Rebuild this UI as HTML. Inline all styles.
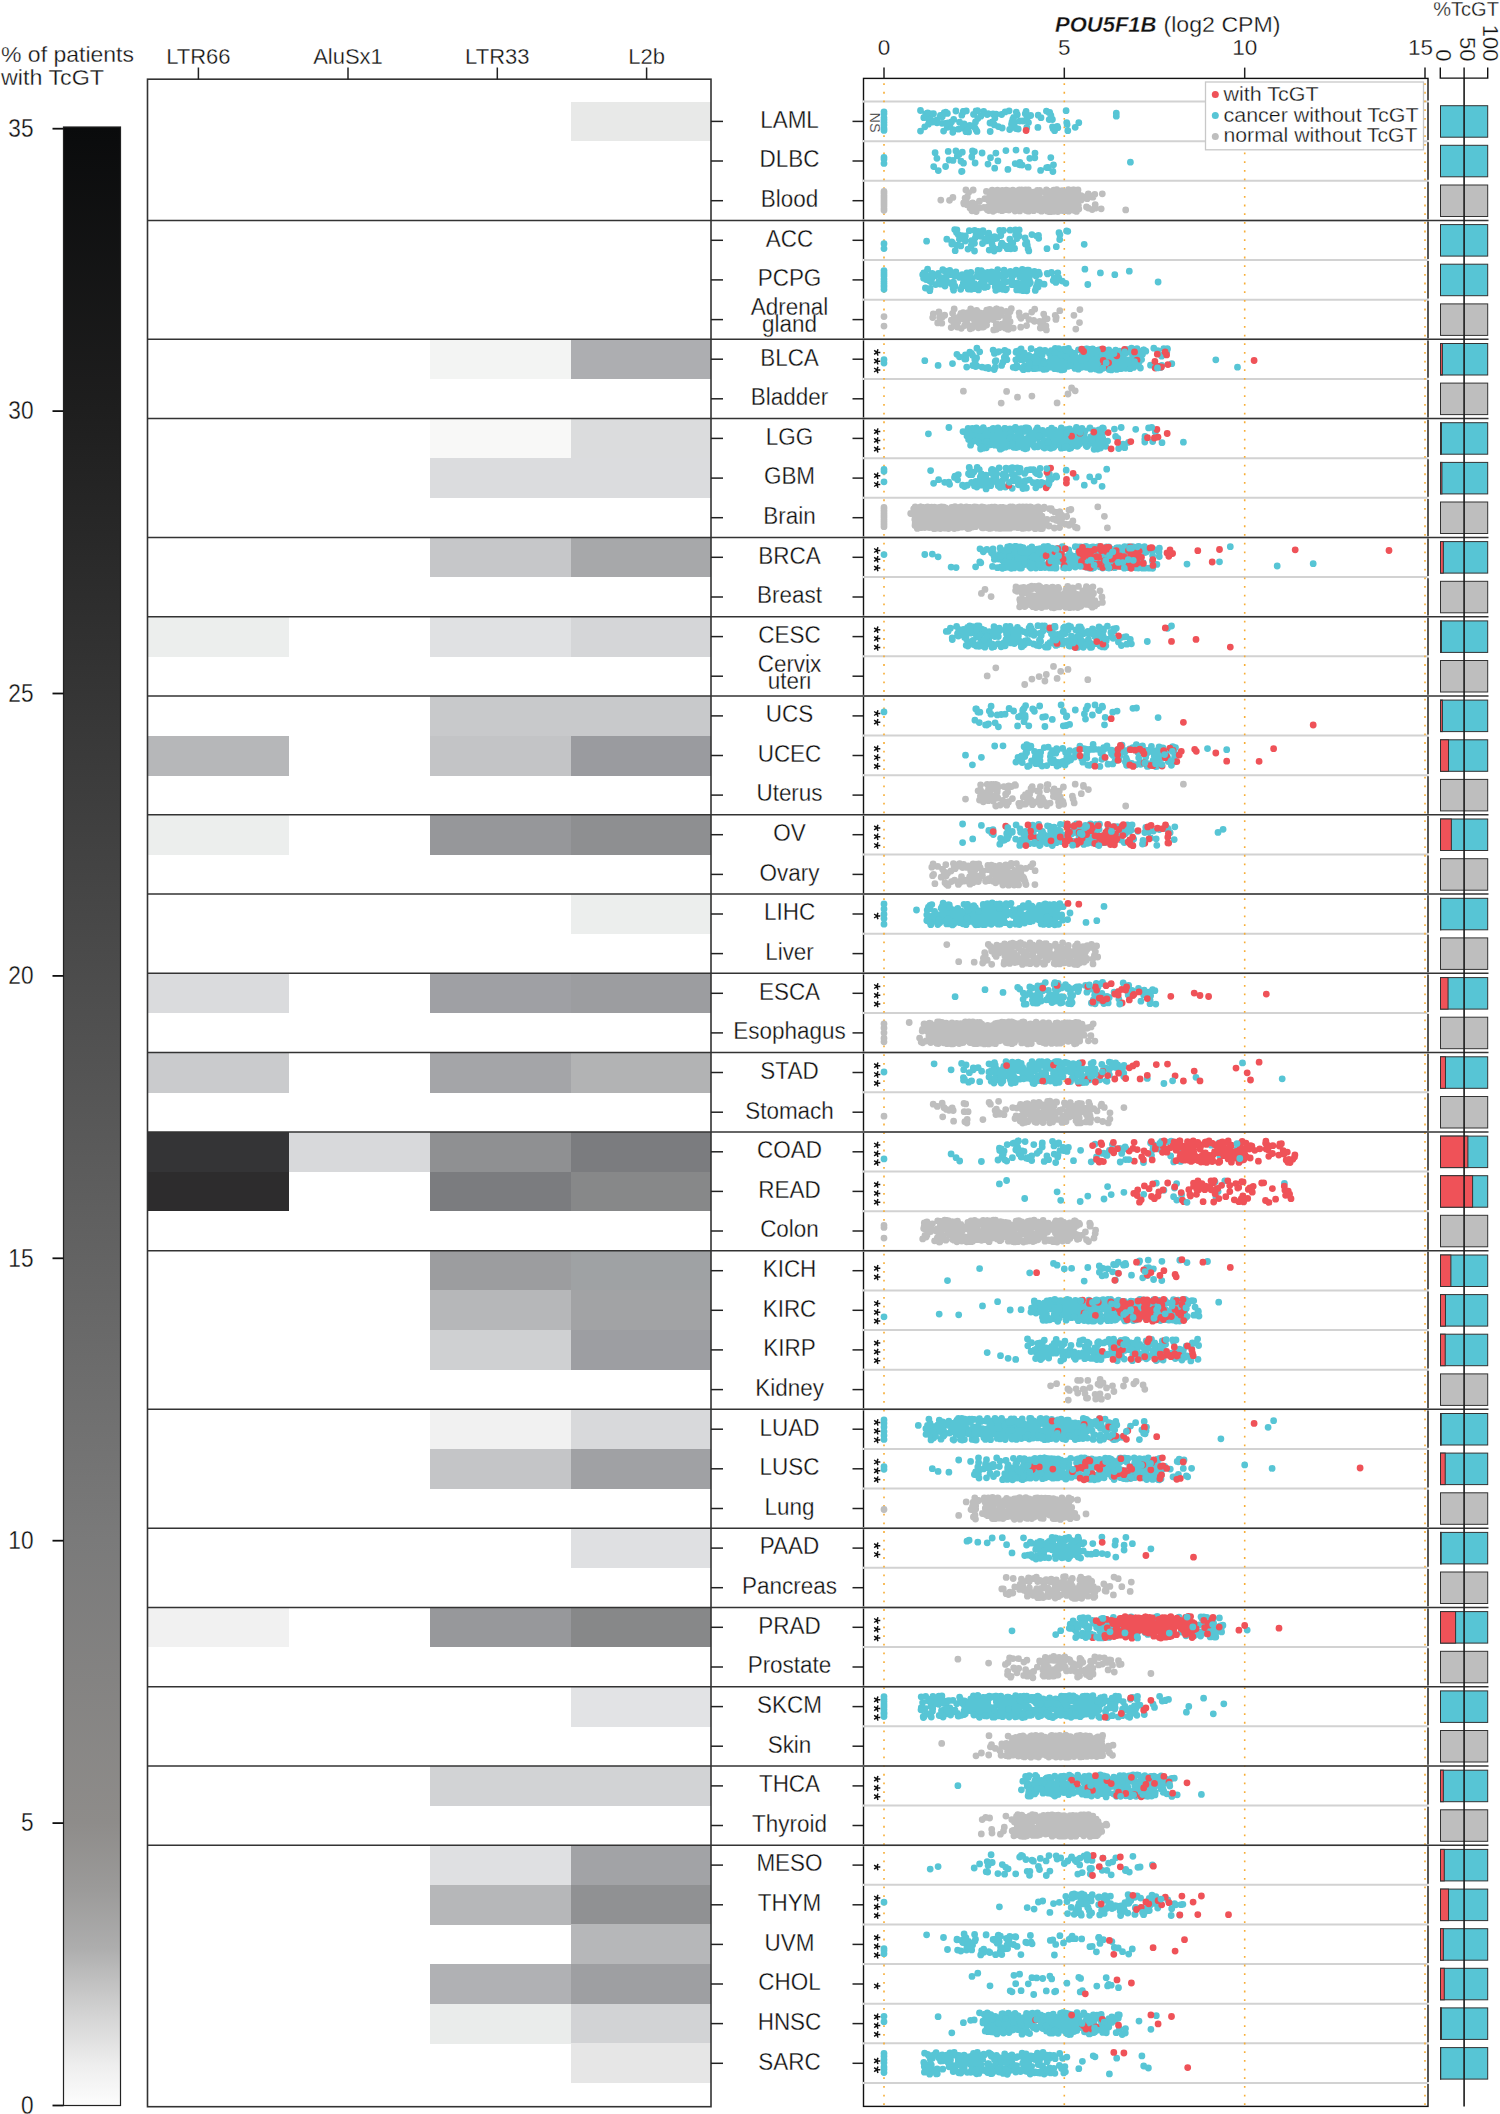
<!DOCTYPE html><html><head><meta charset="utf-8"><style>
*{margin:0;padding:0}
html,body{width:1500px;height:2114px;overflow:hidden;background:#fff}
svg{display:block}
text{font-family:"Liberation Sans",sans-serif;fill:#111;stroke:#fff;stroke-width:0.3px;paint-order:fill stroke}
.t22{font-size:22px}
.t21{font-size:21px}
.t225{font-size:22.5px}
.t20{font-size:20px}
.lab{font-size:24.5px}
.cbl{font-size:26px}
.sig{font-size:14.5px}
.star{font-size:22px}
.bl{font-size:22px}
</style></head><body><svg width="1500" height="2114" viewBox="0 0 1500 2114"><defs><linearGradient id="cb" x1="0" y1="1" x2="0" y2="0"><stop offset="0" stop-color="#fdfdfd"/><stop offset="0.02" stop-color="#eeeeee"/><stop offset="0.05" stop-color="#cfcfcf"/><stop offset="0.08" stop-color="#adadad"/><stop offset="0.11" stop-color="#9b9a99"/><stop offset="0.143" stop-color="#8e8c8a"/><stop offset="0.286" stop-color="#7a7a7a"/><stop offset="0.429" stop-color="#636363"/><stop offset="0.571" stop-color="#4c4c4c"/><stop offset="0.714" stop-color="#353535"/><stop offset="0.857" stop-color="#1e1e1e"/><stop offset="1" stop-color="#0a0b0c"/></linearGradient></defs><rect width="1500" height="2114" fill="#fff"/><rect x="63.5" y="127.0" width="57" height="1978.5" fill="url(#cb)" stroke="#222" stroke-width="1.2"/><line x1="52.5" y1="2105.5" x2="63.5" y2="2105.5" stroke="#111" stroke-width="1.8"/><text transform="translate(33.5 2113.8) scale(0.87 1)" text-anchor="end" class="cbl">0</text><line x1="52.5" y1="1823.1" x2="63.5" y2="1823.1" stroke="#111" stroke-width="1.8"/><text transform="translate(33.5 1831.4) scale(0.87 1)" text-anchor="end" class="cbl">5</text><line x1="52.5" y1="1540.7" x2="63.5" y2="1540.7" stroke="#111" stroke-width="1.8"/><text transform="translate(33.5 1549.0) scale(0.87 1)" text-anchor="end" class="cbl">10</text><line x1="52.5" y1="1258.3" x2="63.5" y2="1258.3" stroke="#111" stroke-width="1.8"/><text transform="translate(33.5 1266.6) scale(0.87 1)" text-anchor="end" class="cbl">15</text><line x1="52.5" y1="975.9" x2="63.5" y2="975.9" stroke="#111" stroke-width="1.8"/><text transform="translate(33.5 984.2) scale(0.87 1)" text-anchor="end" class="cbl">20</text><line x1="52.5" y1="693.5" x2="63.5" y2="693.5" stroke="#111" stroke-width="1.8"/><text transform="translate(33.5 701.8) scale(0.87 1)" text-anchor="end" class="cbl">25</text><line x1="52.5" y1="411.1" x2="63.5" y2="411.1" stroke="#111" stroke-width="1.8"/><text transform="translate(33.5 419.4) scale(0.87 1)" text-anchor="end" class="cbl">30</text><line x1="52.5" y1="128.7" x2="63.5" y2="128.7" stroke="#111" stroke-width="1.8"/><text transform="translate(33.5 137.0) scale(0.87 1)" text-anchor="end" class="cbl">35</text><text x="1" y="61.6" class="t22" textLength="133" lengthAdjust="spacingAndGlyphs">% of patients</text><text x="1" y="84.7" class="t22" textLength="103" lengthAdjust="spacingAndGlyphs">with TcGT</text><rect x="570.5" y="101.50" width="140.5" height="39.93" fill="#e8e9e8" shape-rendering="crispEdges"/><rect x="429.5" y="339.28" width="141.0" height="39.93" fill="#f3f4f3" shape-rendering="crispEdges"/><rect x="570.5" y="339.28" width="140.5" height="39.93" fill="#adaeb1" shape-rendering="crispEdges"/><rect x="429.5" y="418.54" width="141.0" height="39.93" fill="#f8f8f7" shape-rendering="crispEdges"/><rect x="570.5" y="418.54" width="140.5" height="39.93" fill="#dbdcdd" shape-rendering="crispEdges"/><rect x="429.5" y="458.17" width="141.0" height="39.93" fill="#dbdcde" shape-rendering="crispEdges"/><rect x="570.5" y="458.17" width="140.5" height="39.93" fill="#dbdcde" shape-rendering="crispEdges"/><rect x="429.5" y="537.43" width="141.0" height="39.93" fill="#c6c7c9" shape-rendering="crispEdges"/><rect x="570.5" y="537.43" width="140.5" height="39.93" fill="#a7a8aa" shape-rendering="crispEdges"/><rect x="147.5" y="616.69" width="141.0" height="39.93" fill="#eceeed" shape-rendering="crispEdges"/><rect x="429.5" y="616.69" width="141.0" height="39.93" fill="#e0e1e3" shape-rendering="crispEdges"/><rect x="570.5" y="616.69" width="140.5" height="39.93" fill="#d5d6d8" shape-rendering="crispEdges"/><rect x="429.5" y="695.95" width="141.0" height="39.93" fill="#c8c9cb" shape-rendering="crispEdges"/><rect x="570.5" y="695.95" width="140.5" height="39.93" fill="#c8c9cb" shape-rendering="crispEdges"/><rect x="147.5" y="735.58" width="141.0" height="39.93" fill="#b6b7b9" shape-rendering="crispEdges"/><rect x="429.5" y="735.58" width="141.0" height="39.93" fill="#c3c4c6" shape-rendering="crispEdges"/><rect x="570.5" y="735.58" width="140.5" height="39.93" fill="#9a9b9f" shape-rendering="crispEdges"/><rect x="147.5" y="814.84" width="141.0" height="39.93" fill="#eceeed" shape-rendering="crispEdges"/><rect x="429.5" y="814.84" width="141.0" height="39.93" fill="#96979a" shape-rendering="crispEdges"/><rect x="570.5" y="814.84" width="140.5" height="39.93" fill="#8e8f91" shape-rendering="crispEdges"/><rect x="570.5" y="894.10" width="140.5" height="39.93" fill="#eceeed" shape-rendering="crispEdges"/><rect x="147.5" y="973.36" width="141.0" height="39.93" fill="#dadbdd" shape-rendering="crispEdges"/><rect x="429.5" y="973.36" width="141.0" height="39.93" fill="#9fa0a4" shape-rendering="crispEdges"/><rect x="570.5" y="973.36" width="140.5" height="39.93" fill="#9c9da0" shape-rendering="crispEdges"/><rect x="147.5" y="1052.62" width="141.0" height="39.93" fill="#cacbcd" shape-rendering="crispEdges"/><rect x="429.5" y="1052.62" width="141.0" height="39.93" fill="#a4a5a8" shape-rendering="crispEdges"/><rect x="570.5" y="1052.62" width="140.5" height="39.93" fill="#b2b3b4" shape-rendering="crispEdges"/><rect x="147.5" y="1131.88" width="141.0" height="39.93" fill="#343436" shape-rendering="crispEdges"/><rect x="288.5" y="1131.88" width="141.0" height="39.93" fill="#d8d9db" shape-rendering="crispEdges"/><rect x="429.5" y="1131.88" width="141.0" height="39.93" fill="#8f9092" shape-rendering="crispEdges"/><rect x="570.5" y="1131.88" width="140.5" height="39.93" fill="#7b7c7f" shape-rendering="crispEdges"/><rect x="147.5" y="1171.51" width="141.0" height="39.93" fill="#2d2c2d" shape-rendering="crispEdges"/><rect x="429.5" y="1171.51" width="141.0" height="39.93" fill="#7b7c7f" shape-rendering="crispEdges"/><rect x="570.5" y="1171.51" width="140.5" height="39.93" fill="#878889" shape-rendering="crispEdges"/><rect x="429.5" y="1250.77" width="141.0" height="39.93" fill="#9c9d9f" shape-rendering="crispEdges"/><rect x="570.5" y="1250.77" width="140.5" height="39.93" fill="#9fa2a4" shape-rendering="crispEdges"/><rect x="429.5" y="1290.40" width="141.0" height="39.93" fill="#b6b7b9" shape-rendering="crispEdges"/><rect x="570.5" y="1290.40" width="140.5" height="39.93" fill="#a2a3a5" shape-rendering="crispEdges"/><rect x="429.5" y="1330.03" width="141.0" height="39.93" fill="#cfd0d2" shape-rendering="crispEdges"/><rect x="570.5" y="1330.03" width="140.5" height="39.93" fill="#9d9ea2" shape-rendering="crispEdges"/><rect x="429.5" y="1409.29" width="141.0" height="39.93" fill="#f1f1f1" shape-rendering="crispEdges"/><rect x="570.5" y="1409.29" width="140.5" height="39.93" fill="#d8d9db" shape-rendering="crispEdges"/><rect x="429.5" y="1448.92" width="141.0" height="39.93" fill="#c4c5c7" shape-rendering="crispEdges"/><rect x="570.5" y="1448.92" width="140.5" height="39.93" fill="#a0a1a4" shape-rendering="crispEdges"/><rect x="570.5" y="1528.18" width="140.5" height="39.93" fill="#dfe0e2" shape-rendering="crispEdges"/><rect x="147.5" y="1607.44" width="141.0" height="39.93" fill="#f1f1f1" shape-rendering="crispEdges"/><rect x="429.5" y="1607.44" width="141.0" height="39.93" fill="#97989b" shape-rendering="crispEdges"/><rect x="570.5" y="1607.44" width="140.5" height="39.93" fill="#878889" shape-rendering="crispEdges"/><rect x="570.5" y="1686.70" width="140.5" height="39.93" fill="#e2e3e5" shape-rendering="crispEdges"/><rect x="429.5" y="1765.96" width="141.0" height="39.93" fill="#d2d3d5" shape-rendering="crispEdges"/><rect x="570.5" y="1765.96" width="140.5" height="39.93" fill="#d2d3d5" shape-rendering="crispEdges"/><rect x="429.5" y="1845.22" width="141.0" height="39.93" fill="#dfe0e2" shape-rendering="crispEdges"/><rect x="570.5" y="1845.22" width="140.5" height="39.93" fill="#a2a3a6" shape-rendering="crispEdges"/><rect x="429.5" y="1884.85" width="141.0" height="39.93" fill="#b6b7b9" shape-rendering="crispEdges"/><rect x="570.5" y="1884.85" width="140.5" height="39.93" fill="#909193" shape-rendering="crispEdges"/><rect x="570.5" y="1924.48" width="140.5" height="39.93" fill="#b6b7b9" shape-rendering="crispEdges"/><rect x="429.5" y="1964.11" width="141.0" height="39.93" fill="#b0b1b4" shape-rendering="crispEdges"/><rect x="570.5" y="1964.11" width="140.5" height="39.93" fill="#9e9fa2" shape-rendering="crispEdges"/><rect x="429.5" y="2003.74" width="141.0" height="39.93" fill="#eaeceb" shape-rendering="crispEdges"/><rect x="570.5" y="2003.74" width="140.5" height="39.93" fill="#d2d3d5" shape-rendering="crispEdges"/><rect x="570.5" y="2043.37" width="140.5" height="39.93" fill="#e6e6e6" shape-rendering="crispEdges"/><rect x="147.5" y="79.2" width="563.5" height="2027.5" fill="none" stroke="#333" stroke-width="1.6"/><line x1="198.4" y1="67.5" x2="198.4" y2="79.2" stroke="#222" stroke-width="1.5"/><text x="198.4" y="64" text-anchor="middle" class="t22">LTR66</text><line x1="348.0" y1="67.5" x2="348.0" y2="79.2" stroke="#222" stroke-width="1.5"/><text x="348.0" y="64" text-anchor="middle" class="t22">AluSx1</text><line x1="497.3" y1="67.5" x2="497.3" y2="79.2" stroke="#222" stroke-width="1.5"/><text x="497.3" y="64" text-anchor="middle" class="t22">LTR33</text><line x1="646.6" y1="67.5" x2="646.6" y2="79.2" stroke="#222" stroke-width="1.5"/><text x="646.6" y="64" text-anchor="middle" class="t22">L2b</text><line x1="711" y1="121.4" x2="723" y2="121.4" stroke="#222" stroke-width="1.5"/><line x1="852.5" y1="121.4" x2="863.5" y2="121.4" stroke="#222" stroke-width="1.5"/><text transform="translate(789.5 127.7) scale(0.918 1)" text-anchor="middle" class="lab">LAML</text><line x1="711" y1="161.0" x2="723" y2="161.0" stroke="#222" stroke-width="1.5"/><line x1="852.5" y1="161.0" x2="863.5" y2="161.0" stroke="#222" stroke-width="1.5"/><text transform="translate(789.5 167.3) scale(0.918 1)" text-anchor="middle" class="lab">DLBC</text><line x1="711" y1="200.7" x2="723" y2="200.7" stroke="#222" stroke-width="1.5"/><line x1="852.5" y1="200.7" x2="863.5" y2="200.7" stroke="#222" stroke-width="1.5"/><text transform="translate(789.5 207.0) scale(0.918 1)" text-anchor="middle" class="lab">Blood</text><line x1="711" y1="240.3" x2="723" y2="240.3" stroke="#222" stroke-width="1.5"/><line x1="852.5" y1="240.3" x2="863.5" y2="240.3" stroke="#222" stroke-width="1.5"/><text transform="translate(789.5 246.6) scale(0.918 1)" text-anchor="middle" class="lab">ACC</text><line x1="711" y1="279.9" x2="723" y2="279.9" stroke="#222" stroke-width="1.5"/><line x1="852.5" y1="279.9" x2="863.5" y2="279.9" stroke="#222" stroke-width="1.5"/><text transform="translate(789.5 286.2) scale(0.918 1)" text-anchor="middle" class="lab">PCPG</text><line x1="711" y1="319.6" x2="723" y2="319.6" stroke="#222" stroke-width="1.5"/><line x1="852.5" y1="319.6" x2="863.5" y2="319.6" stroke="#222" stroke-width="1.5"/><text transform="translate(789.5 315.2) scale(0.918 1)" text-anchor="middle" class="lab">Adrenal</text><text transform="translate(789.5 332.4) scale(0.918 1)" text-anchor="middle" class="lab">gland</text><line x1="711" y1="359.2" x2="723" y2="359.2" stroke="#222" stroke-width="1.5"/><line x1="852.5" y1="359.2" x2="863.5" y2="359.2" stroke="#222" stroke-width="1.5"/><text transform="translate(789.5 365.5) scale(0.918 1)" text-anchor="middle" class="lab">BLCA</text><line x1="711" y1="398.8" x2="723" y2="398.8" stroke="#222" stroke-width="1.5"/><line x1="852.5" y1="398.8" x2="863.5" y2="398.8" stroke="#222" stroke-width="1.5"/><text transform="translate(789.5 405.1) scale(0.918 1)" text-anchor="middle" class="lab">Bladder</text><line x1="711" y1="438.4" x2="723" y2="438.4" stroke="#222" stroke-width="1.5"/><line x1="852.5" y1="438.4" x2="863.5" y2="438.4" stroke="#222" stroke-width="1.5"/><text transform="translate(789.5 444.7) scale(0.918 1)" text-anchor="middle" class="lab">LGG</text><line x1="711" y1="478.1" x2="723" y2="478.1" stroke="#222" stroke-width="1.5"/><line x1="852.5" y1="478.1" x2="863.5" y2="478.1" stroke="#222" stroke-width="1.5"/><text transform="translate(789.5 484.4) scale(0.918 1)" text-anchor="middle" class="lab">GBM</text><line x1="711" y1="517.7" x2="723" y2="517.7" stroke="#222" stroke-width="1.5"/><line x1="852.5" y1="517.7" x2="863.5" y2="517.7" stroke="#222" stroke-width="1.5"/><text transform="translate(789.5 524.0) scale(0.918 1)" text-anchor="middle" class="lab">Brain</text><line x1="711" y1="557.3" x2="723" y2="557.3" stroke="#222" stroke-width="1.5"/><line x1="852.5" y1="557.3" x2="863.5" y2="557.3" stroke="#222" stroke-width="1.5"/><text transform="translate(789.5 563.6) scale(0.918 1)" text-anchor="middle" class="lab">BRCA</text><line x1="711" y1="597.0" x2="723" y2="597.0" stroke="#222" stroke-width="1.5"/><line x1="852.5" y1="597.0" x2="863.5" y2="597.0" stroke="#222" stroke-width="1.5"/><text transform="translate(789.5 603.3) scale(0.918 1)" text-anchor="middle" class="lab">Breast</text><line x1="711" y1="636.6" x2="723" y2="636.6" stroke="#222" stroke-width="1.5"/><line x1="852.5" y1="636.6" x2="863.5" y2="636.6" stroke="#222" stroke-width="1.5"/><text transform="translate(789.5 642.9) scale(0.918 1)" text-anchor="middle" class="lab">CESC</text><line x1="711" y1="676.2" x2="723" y2="676.2" stroke="#222" stroke-width="1.5"/><line x1="852.5" y1="676.2" x2="863.5" y2="676.2" stroke="#222" stroke-width="1.5"/><text transform="translate(789.5 671.8) scale(0.918 1)" text-anchor="middle" class="lab">Cervix</text><text transform="translate(789.5 689.1) scale(0.918 1)" text-anchor="middle" class="lab">uteri</text><line x1="711" y1="715.9" x2="723" y2="715.9" stroke="#222" stroke-width="1.5"/><line x1="852.5" y1="715.9" x2="863.5" y2="715.9" stroke="#222" stroke-width="1.5"/><text transform="translate(789.5 722.1) scale(0.918 1)" text-anchor="middle" class="lab">UCS</text><line x1="711" y1="755.5" x2="723" y2="755.5" stroke="#222" stroke-width="1.5"/><line x1="852.5" y1="755.5" x2="863.5" y2="755.5" stroke="#222" stroke-width="1.5"/><text transform="translate(789.5 761.8) scale(0.918 1)" text-anchor="middle" class="lab">UCEC</text><line x1="711" y1="795.1" x2="723" y2="795.1" stroke="#222" stroke-width="1.5"/><line x1="852.5" y1="795.1" x2="863.5" y2="795.1" stroke="#222" stroke-width="1.5"/><text transform="translate(789.5 801.4) scale(0.918 1)" text-anchor="middle" class="lab">Uterus</text><line x1="711" y1="834.7" x2="723" y2="834.7" stroke="#222" stroke-width="1.5"/><line x1="852.5" y1="834.7" x2="863.5" y2="834.7" stroke="#222" stroke-width="1.5"/><text transform="translate(789.5 841.0) scale(0.918 1)" text-anchor="middle" class="lab">OV</text><line x1="711" y1="874.4" x2="723" y2="874.4" stroke="#222" stroke-width="1.5"/><line x1="852.5" y1="874.4" x2="863.5" y2="874.4" stroke="#222" stroke-width="1.5"/><text transform="translate(789.5 880.7) scale(0.918 1)" text-anchor="middle" class="lab">Ovary</text><line x1="711" y1="914.0" x2="723" y2="914.0" stroke="#222" stroke-width="1.5"/><line x1="852.5" y1="914.0" x2="863.5" y2="914.0" stroke="#222" stroke-width="1.5"/><text transform="translate(789.5 920.3) scale(0.918 1)" text-anchor="middle" class="lab">LIHC</text><line x1="711" y1="953.6" x2="723" y2="953.6" stroke="#222" stroke-width="1.5"/><line x1="852.5" y1="953.6" x2="863.5" y2="953.6" stroke="#222" stroke-width="1.5"/><text transform="translate(789.5 959.9) scale(0.918 1)" text-anchor="middle" class="lab">Liver</text><line x1="711" y1="993.3" x2="723" y2="993.3" stroke="#222" stroke-width="1.5"/><line x1="852.5" y1="993.3" x2="863.5" y2="993.3" stroke="#222" stroke-width="1.5"/><text transform="translate(789.5 999.6) scale(0.918 1)" text-anchor="middle" class="lab">ESCA</text><line x1="711" y1="1032.9" x2="723" y2="1032.9" stroke="#222" stroke-width="1.5"/><line x1="852.5" y1="1032.9" x2="863.5" y2="1032.9" stroke="#222" stroke-width="1.5"/><text transform="translate(789.5 1039.2) scale(0.918 1)" text-anchor="middle" class="lab">Esophagus</text><line x1="711" y1="1072.5" x2="723" y2="1072.5" stroke="#222" stroke-width="1.5"/><line x1="852.5" y1="1072.5" x2="863.5" y2="1072.5" stroke="#222" stroke-width="1.5"/><text transform="translate(789.5 1078.8) scale(0.918 1)" text-anchor="middle" class="lab">STAD</text><line x1="711" y1="1112.2" x2="723" y2="1112.2" stroke="#222" stroke-width="1.5"/><line x1="852.5" y1="1112.2" x2="863.5" y2="1112.2" stroke="#222" stroke-width="1.5"/><text transform="translate(789.5 1118.5) scale(0.918 1)" text-anchor="middle" class="lab">Stomach</text><line x1="711" y1="1151.8" x2="723" y2="1151.8" stroke="#222" stroke-width="1.5"/><line x1="852.5" y1="1151.8" x2="863.5" y2="1151.8" stroke="#222" stroke-width="1.5"/><text transform="translate(789.5 1158.1) scale(0.918 1)" text-anchor="middle" class="lab">COAD</text><line x1="711" y1="1191.4" x2="723" y2="1191.4" stroke="#222" stroke-width="1.5"/><line x1="852.5" y1="1191.4" x2="863.5" y2="1191.4" stroke="#222" stroke-width="1.5"/><text transform="translate(789.5 1197.7) scale(0.918 1)" text-anchor="middle" class="lab">READ</text><line x1="711" y1="1231.0" x2="723" y2="1231.0" stroke="#222" stroke-width="1.5"/><line x1="852.5" y1="1231.0" x2="863.5" y2="1231.0" stroke="#222" stroke-width="1.5"/><text transform="translate(789.5 1237.3) scale(0.918 1)" text-anchor="middle" class="lab">Colon</text><line x1="711" y1="1270.7" x2="723" y2="1270.7" stroke="#222" stroke-width="1.5"/><line x1="852.5" y1="1270.7" x2="863.5" y2="1270.7" stroke="#222" stroke-width="1.5"/><text transform="translate(789.5 1277.0) scale(0.918 1)" text-anchor="middle" class="lab">KICH</text><line x1="711" y1="1310.3" x2="723" y2="1310.3" stroke="#222" stroke-width="1.5"/><line x1="852.5" y1="1310.3" x2="863.5" y2="1310.3" stroke="#222" stroke-width="1.5"/><text transform="translate(789.5 1316.6) scale(0.918 1)" text-anchor="middle" class="lab">KIRC</text><line x1="711" y1="1349.9" x2="723" y2="1349.9" stroke="#222" stroke-width="1.5"/><line x1="852.5" y1="1349.9" x2="863.5" y2="1349.9" stroke="#222" stroke-width="1.5"/><text transform="translate(789.5 1356.2) scale(0.918 1)" text-anchor="middle" class="lab">KIRP</text><line x1="711" y1="1389.6" x2="723" y2="1389.6" stroke="#222" stroke-width="1.5"/><line x1="852.5" y1="1389.6" x2="863.5" y2="1389.6" stroke="#222" stroke-width="1.5"/><text transform="translate(789.5 1395.9) scale(0.918 1)" text-anchor="middle" class="lab">Kidney</text><line x1="711" y1="1429.2" x2="723" y2="1429.2" stroke="#222" stroke-width="1.5"/><line x1="852.5" y1="1429.2" x2="863.5" y2="1429.2" stroke="#222" stroke-width="1.5"/><text transform="translate(789.5 1435.5) scale(0.918 1)" text-anchor="middle" class="lab">LUAD</text><line x1="711" y1="1468.8" x2="723" y2="1468.8" stroke="#222" stroke-width="1.5"/><line x1="852.5" y1="1468.8" x2="863.5" y2="1468.8" stroke="#222" stroke-width="1.5"/><text transform="translate(789.5 1475.1) scale(0.918 1)" text-anchor="middle" class="lab">LUSC</text><line x1="711" y1="1508.5" x2="723" y2="1508.5" stroke="#222" stroke-width="1.5"/><line x1="852.5" y1="1508.5" x2="863.5" y2="1508.5" stroke="#222" stroke-width="1.5"/><text transform="translate(789.5 1514.8) scale(0.918 1)" text-anchor="middle" class="lab">Lung</text><line x1="711" y1="1548.1" x2="723" y2="1548.1" stroke="#222" stroke-width="1.5"/><line x1="852.5" y1="1548.1" x2="863.5" y2="1548.1" stroke="#222" stroke-width="1.5"/><text transform="translate(789.5 1554.4) scale(0.918 1)" text-anchor="middle" class="lab">PAAD</text><line x1="711" y1="1587.7" x2="723" y2="1587.7" stroke="#222" stroke-width="1.5"/><line x1="852.5" y1="1587.7" x2="863.5" y2="1587.7" stroke="#222" stroke-width="1.5"/><text transform="translate(789.5 1594.0) scale(0.918 1)" text-anchor="middle" class="lab">Pancreas</text><line x1="711" y1="1627.3" x2="723" y2="1627.3" stroke="#222" stroke-width="1.5"/><line x1="852.5" y1="1627.3" x2="863.5" y2="1627.3" stroke="#222" stroke-width="1.5"/><text transform="translate(789.5 1633.6) scale(0.918 1)" text-anchor="middle" class="lab">PRAD</text><line x1="711" y1="1667.0" x2="723" y2="1667.0" stroke="#222" stroke-width="1.5"/><line x1="852.5" y1="1667.0" x2="863.5" y2="1667.0" stroke="#222" stroke-width="1.5"/><text transform="translate(789.5 1673.3) scale(0.918 1)" text-anchor="middle" class="lab">Prostate</text><line x1="711" y1="1706.6" x2="723" y2="1706.6" stroke="#222" stroke-width="1.5"/><line x1="852.5" y1="1706.6" x2="863.5" y2="1706.6" stroke="#222" stroke-width="1.5"/><text transform="translate(789.5 1712.9) scale(0.918 1)" text-anchor="middle" class="lab">SKCM</text><line x1="711" y1="1746.2" x2="723" y2="1746.2" stroke="#222" stroke-width="1.5"/><line x1="852.5" y1="1746.2" x2="863.5" y2="1746.2" stroke="#222" stroke-width="1.5"/><text transform="translate(789.5 1752.5) scale(0.918 1)" text-anchor="middle" class="lab">Skin</text><line x1="711" y1="1785.9" x2="723" y2="1785.9" stroke="#222" stroke-width="1.5"/><line x1="852.5" y1="1785.9" x2="863.5" y2="1785.9" stroke="#222" stroke-width="1.5"/><text transform="translate(789.5 1792.2) scale(0.918 1)" text-anchor="middle" class="lab">THCA</text><line x1="711" y1="1825.5" x2="723" y2="1825.5" stroke="#222" stroke-width="1.5"/><line x1="852.5" y1="1825.5" x2="863.5" y2="1825.5" stroke="#222" stroke-width="1.5"/><text transform="translate(789.5 1831.8) scale(0.918 1)" text-anchor="middle" class="lab">Thyroid</text><line x1="711" y1="1865.1" x2="723" y2="1865.1" stroke="#222" stroke-width="1.5"/><line x1="852.5" y1="1865.1" x2="863.5" y2="1865.1" stroke="#222" stroke-width="1.5"/><text transform="translate(789.5 1871.4) scale(0.918 1)" text-anchor="middle" class="lab">MESO</text><line x1="711" y1="1904.8" x2="723" y2="1904.8" stroke="#222" stroke-width="1.5"/><line x1="852.5" y1="1904.8" x2="863.5" y2="1904.8" stroke="#222" stroke-width="1.5"/><text transform="translate(789.5 1911.1) scale(0.918 1)" text-anchor="middle" class="lab">THYM</text><line x1="711" y1="1944.4" x2="723" y2="1944.4" stroke="#222" stroke-width="1.5"/><line x1="852.5" y1="1944.4" x2="863.5" y2="1944.4" stroke="#222" stroke-width="1.5"/><text transform="translate(789.5 1950.7) scale(0.918 1)" text-anchor="middle" class="lab">UVM</text><line x1="711" y1="1984.0" x2="723" y2="1984.0" stroke="#222" stroke-width="1.5"/><line x1="852.5" y1="1984.0" x2="863.5" y2="1984.0" stroke="#222" stroke-width="1.5"/><text transform="translate(789.5 1990.3) scale(0.918 1)" text-anchor="middle" class="lab">CHOL</text><line x1="711" y1="2023.6" x2="723" y2="2023.6" stroke="#222" stroke-width="1.5"/><line x1="852.5" y1="2023.6" x2="863.5" y2="2023.6" stroke="#222" stroke-width="1.5"/><text transform="translate(789.5 2029.9) scale(0.918 1)" text-anchor="middle" class="lab">HNSC</text><line x1="711" y1="2063.3" x2="723" y2="2063.3" stroke="#222" stroke-width="1.5"/><line x1="852.5" y1="2063.3" x2="863.5" y2="2063.3" stroke="#222" stroke-width="1.5"/><text transform="translate(789.5 2069.6) scale(0.918 1)" text-anchor="middle" class="lab">SARC</text><line x1="863.5" y1="101.50" x2="1428.5" y2="101.50" stroke="#d2d2d2" stroke-width="2"/><line x1="863.5" y1="141.13" x2="1428.5" y2="141.13" stroke="#d2d2d2" stroke-width="2"/><line x1="863.5" y1="180.76" x2="1428.5" y2="180.76" stroke="#d2d2d2" stroke-width="2"/><line x1="863.5" y1="220.39" x2="1428.5" y2="220.39" stroke="#d2d2d2" stroke-width="2"/><line x1="863.5" y1="260.02" x2="1428.5" y2="260.02" stroke="#d2d2d2" stroke-width="2"/><line x1="863.5" y1="299.65" x2="1428.5" y2="299.65" stroke="#d2d2d2" stroke-width="2"/><line x1="863.5" y1="339.28" x2="1428.5" y2="339.28" stroke="#d2d2d2" stroke-width="2"/><line x1="863.5" y1="378.91" x2="1428.5" y2="378.91" stroke="#d2d2d2" stroke-width="2"/><line x1="863.5" y1="418.54" x2="1428.5" y2="418.54" stroke="#d2d2d2" stroke-width="2"/><line x1="863.5" y1="458.17" x2="1428.5" y2="458.17" stroke="#d2d2d2" stroke-width="2"/><line x1="863.5" y1="497.80" x2="1428.5" y2="497.80" stroke="#d2d2d2" stroke-width="2"/><line x1="863.5" y1="537.43" x2="1428.5" y2="537.43" stroke="#d2d2d2" stroke-width="2"/><line x1="863.5" y1="577.06" x2="1428.5" y2="577.06" stroke="#d2d2d2" stroke-width="2"/><line x1="863.5" y1="616.69" x2="1428.5" y2="616.69" stroke="#d2d2d2" stroke-width="2"/><line x1="863.5" y1="656.32" x2="1428.5" y2="656.32" stroke="#d2d2d2" stroke-width="2"/><line x1="863.5" y1="695.95" x2="1428.5" y2="695.95" stroke="#d2d2d2" stroke-width="2"/><line x1="863.5" y1="735.58" x2="1428.5" y2="735.58" stroke="#d2d2d2" stroke-width="2"/><line x1="863.5" y1="775.21" x2="1428.5" y2="775.21" stroke="#d2d2d2" stroke-width="2"/><line x1="863.5" y1="814.84" x2="1428.5" y2="814.84" stroke="#d2d2d2" stroke-width="2"/><line x1="863.5" y1="854.47" x2="1428.5" y2="854.47" stroke="#d2d2d2" stroke-width="2"/><line x1="863.5" y1="894.10" x2="1428.5" y2="894.10" stroke="#d2d2d2" stroke-width="2"/><line x1="863.5" y1="933.73" x2="1428.5" y2="933.73" stroke="#d2d2d2" stroke-width="2"/><line x1="863.5" y1="973.36" x2="1428.5" y2="973.36" stroke="#d2d2d2" stroke-width="2"/><line x1="863.5" y1="1012.99" x2="1428.5" y2="1012.99" stroke="#d2d2d2" stroke-width="2"/><line x1="863.5" y1="1052.62" x2="1428.5" y2="1052.62" stroke="#d2d2d2" stroke-width="2"/><line x1="863.5" y1="1092.25" x2="1428.5" y2="1092.25" stroke="#d2d2d2" stroke-width="2"/><line x1="863.5" y1="1131.88" x2="1428.5" y2="1131.88" stroke="#d2d2d2" stroke-width="2"/><line x1="863.5" y1="1171.51" x2="1428.5" y2="1171.51" stroke="#d2d2d2" stroke-width="2"/><line x1="863.5" y1="1211.14" x2="1428.5" y2="1211.14" stroke="#d2d2d2" stroke-width="2"/><line x1="863.5" y1="1250.77" x2="1428.5" y2="1250.77" stroke="#d2d2d2" stroke-width="2"/><line x1="863.5" y1="1290.40" x2="1428.5" y2="1290.40" stroke="#d2d2d2" stroke-width="2"/><line x1="863.5" y1="1330.03" x2="1428.5" y2="1330.03" stroke="#d2d2d2" stroke-width="2"/><line x1="863.5" y1="1369.66" x2="1428.5" y2="1369.66" stroke="#d2d2d2" stroke-width="2"/><line x1="863.5" y1="1409.29" x2="1428.5" y2="1409.29" stroke="#d2d2d2" stroke-width="2"/><line x1="863.5" y1="1448.92" x2="1428.5" y2="1448.92" stroke="#d2d2d2" stroke-width="2"/><line x1="863.5" y1="1488.55" x2="1428.5" y2="1488.55" stroke="#d2d2d2" stroke-width="2"/><line x1="863.5" y1="1528.18" x2="1428.5" y2="1528.18" stroke="#d2d2d2" stroke-width="2"/><line x1="863.5" y1="1567.81" x2="1428.5" y2="1567.81" stroke="#d2d2d2" stroke-width="2"/><line x1="863.5" y1="1607.44" x2="1428.5" y2="1607.44" stroke="#d2d2d2" stroke-width="2"/><line x1="863.5" y1="1647.07" x2="1428.5" y2="1647.07" stroke="#d2d2d2" stroke-width="2"/><line x1="863.5" y1="1686.70" x2="1428.5" y2="1686.70" stroke="#d2d2d2" stroke-width="2"/><line x1="863.5" y1="1726.33" x2="1428.5" y2="1726.33" stroke="#d2d2d2" stroke-width="2"/><line x1="863.5" y1="1765.96" x2="1428.5" y2="1765.96" stroke="#d2d2d2" stroke-width="2"/><line x1="863.5" y1="1805.59" x2="1428.5" y2="1805.59" stroke="#d2d2d2" stroke-width="2"/><line x1="863.5" y1="1845.22" x2="1428.5" y2="1845.22" stroke="#d2d2d2" stroke-width="2"/><line x1="863.5" y1="1884.85" x2="1428.5" y2="1884.85" stroke="#d2d2d2" stroke-width="2"/><line x1="863.5" y1="1924.48" x2="1428.5" y2="1924.48" stroke="#d2d2d2" stroke-width="2"/><line x1="863.5" y1="1964.11" x2="1428.5" y2="1964.11" stroke="#d2d2d2" stroke-width="2"/><line x1="863.5" y1="2003.74" x2="1428.5" y2="2003.74" stroke="#d2d2d2" stroke-width="2"/><line x1="863.5" y1="2043.37" x2="1428.5" y2="2043.37" stroke="#d2d2d2" stroke-width="2"/><line x1="863.5" y1="2083.00" x2="1428.5" y2="2083.00" stroke="#d2d2d2" stroke-width="2"/><line x1="884.0" y1="83.2" x2="884.0" y2="2106" stroke="#f7ad35" stroke-width="1.6" stroke-dasharray="1.8 6.87"/><line x1="1064.3" y1="83.2" x2="1064.3" y2="2106" stroke="#f7ad35" stroke-width="1.6" stroke-dasharray="1.8 6.87"/><line x1="1244.7" y1="83.2" x2="1244.7" y2="2106" stroke="#f7ad35" stroke-width="1.6" stroke-dasharray="1.8 6.87"/><line x1="1425.0" y1="83.2" x2="1425.0" y2="2106" stroke="#f7ad35" stroke-width="1.6" stroke-dasharray="1.8 6.87"/><path d="M997.4 190.2h0M1007.3 192.1h0M988.9 201.1h0M1039.4 198.1h0M1026.9 208.1h0M1010.9 206.6h0M1061.7 205h0M1065.2 206.3h0M1017.5 202.7h0M1069.4 210.6h0M1042.8 204.1h0M1029.7 196.4h0M1025.7 195.7h0M1066.9 210.4h0M1037.4 190.3h0M1075 205.8h0M1017.7 191.8h0M1048.7 211.6h0M992.5 209.8h0M1009 208.6h0M996.5 194.9h0M1060.2 210.1h0M1056.7 189.9h0M949.5 200.3h0M988.7 210.6h0M1000.2 208.8h0M993 208.8h0M1078 189.9h0M999.7 209.9h0M1047.6 191.3h0M972.6 203h0M1048.3 191.2h0M1011.8 192.1h0M1028.1 206.4h0M1055 206.3h0M987.3 209.7h0M1025.9 192.7h0M884 193.3h0M1027.8 211.1h0M1020.9 193.9h0M1038.8 192.1h0M884 206h0M1013.4 197.2h0M996 193.2h0M1012.8 190.2h0M1017.5 206.9h0M1072.7 209.6h0M1067.2 200.3h0M1077.1 191.7h0M990 200h0M1000.2 207.9h0M1071.6 198.8h0M1026.7 205.5h0M1007.5 193.5h0M1024.1 192.7h0M1060.2 210.4h0M1072.7 209.4h0M1012.7 203.1h0M1037.8 198.8h0M1053.4 202.1h0M990.2 205.1h0M1046.9 194.1h0M1035.5 196.6h0M1076.5 196.2h0M995.1 196.9h0M1047.1 192.6h0M1027.6 203.8h0M1039.6 190.9h0M1023.5 190.9h0M996.6 195.6h0M1051.3 203.3h0M1025.8 195.9h0M1067.1 196.6h0M1070.6 205.3h0M1027.1 199.4h0M1078.4 205.4h0M1061.4 206.3h0M999 191.2h0M1041.8 200.6h0M1057.9 199.8h0M1035.4 194.9h0M1062.4 210.6h0M1040.4 199.1h0M884 209.2h0M991.5 204.6h0M1020.4 192.5h0M1012.1 196.5h0M996.4 208.7h0M1069.8 191.3h0M1010.9 201.2h0M1027.9 202.4h0M1050.5 195h0M1012.7 195.6h0M1054.9 205.8h0M1029.9 201.7h0M990.4 201.4h0M999.1 203.8h0M1021.7 191h0M1027.8 192.6h0M996.9 207h0M1005.7 204.7h0M1047.1 211.1h0M1020.5 196.7h0M1006.2 190.2h0M986.4 191.4h0M1004.8 202.2h0M1039.4 205.5h0M1088.3 193.9h0M1038.6 206.2h0M1033.4 192.2h0M1053.1 191.1h0M1012.3 200h0M1085.4 196.6h0M1033.6 210.7h0M994.3 202.7h0M1077.4 199.4h0M884 197.8h0M1029.3 200.4h0M1059.7 199.4h0M1087.2 198.7h0M991.1 204.5h0M1003.4 200.2h0M1055.7 207.6h0M1003.8 193.2h0M1020.1 198.1h0M994.7 207.8h0M1038.3 190.6h0M1076.4 197.5h0M1021.5 192.9h0M1019.7 191.2h0M1059.2 207.9h0M1075.5 199.9h0M1037.8 204.1h0M1070.4 199.9h0M1009.7 209h0M983.9 207.4h0M1052.7 196.9h0M1007.5 205.4h0M1052.9 210h0M1054.3 199.5h0M1048.8 195.6h0M1024.1 198.1h0M1046.3 196.5h0M1035.7 195.2h0M1101.2 208.8h0M1053.4 204.5h0M1064.1 208.4h0M1007.6 190.5h0M1063.9 198.8h0M1054.4 207.7h0M969 203.6h0M997.1 192.2h0M1026.6 194.9h0M1009.5 208.4h0M1061.8 201.1h0M1037.7 204.3h0M1074.2 203.2h0M1076.7 191h0M990.1 192h0M1013.3 199.4h0M1005.8 201.8h0M884 202.2h0M995.4 194.1h0M1086.5 206.9h0M1066.3 207.3h0M1024.9 195.2h0M995.3 210h0M1062 208.4h0M1058 194.6h0M1060.4 204.9h0M1059.9 196.6h0M1028.4 196.5h0M1070 191.4h0M1026.8 199.4h0M1094.8 194.3h0M1069.6 198.6h0M992.2 190.1h0M1028.3 211.1h0M1023.3 192.7h0M1017.3 198.7h0M1002.6 206h0M1057.6 192.3h0M975.4 207.8h0M1029.1 194.1h0M1049.8 208.3h0M1032.5 207.5h0M1026.1 190.6h0M1039.7 206.5h0M1062.6 194.2h0M1032 201h0M997.7 208.6h0M1015.6 196.9h0M972.4 210.2h0M989.7 196.5h0M1026.5 190.6h0M1088.3 208.1h0M1070.2 200.3h0M1074 189.8h0M1001.7 200.9h0M1051.3 208.5h0M996.5 205.9h0M1069.1 201.1h0M1073 189.8h0M1015.9 192.4h0M1051.3 192.7h0M1018.6 207.9h0M1011.3 195.8h0M1060.1 209.8h0M1038.5 198.3h0M1016.3 199.8h0M979.6 207.9h0M1078.8 209h0M1002.1 199.4h0M1076.5 211.4h0M1026.5 209.2h0M992.9 196.9h0M1052.6 201.1h0M1018.3 204.9h0M992.4 193.3h0M1064.3 194.5h0M940.8 200.1h0M1045.8 200.5h0M1066.2 197.4h0M1021.6 189.9h0M1036.5 204.9h0M1053.7 190.1h0M998.2 204.8h0M1102.3 193.8h0M1027.6 198.3h0M1021.5 209.6h0M1081.2 199.9h0M1057.8 207.1h0M884 201.4h0M975.2 204.2h0M1020.4 204.7h0M1076.8 205.9h0M990.1 196.6h0M1068.2 208.7h0M1059 200.8h0M1002.2 190.5h0M1030.9 193.3h0M998.5 202.1h0M1049.8 211.5h0M1076.9 202.4h0M1006 192h0M1031.9 208.8h0M1062.6 203.4h0M1059.3 209.7h0M990.6 201.6h0M1039.3 191.7h0M1019.8 210.9h0M990.5 198.1h0M1060.7 204.1h0M1078.5 196.7h0M952.9 197.4h0M979.4 201.2h0M1047.1 194.9h0M1020.6 197.3h0M884 191.4h0M1039.2 210.1h0M1017.7 191.5h0M1014 191.9h0M965.1 198.1h0M1006.3 201.4h0M1095.2 204.6h0M1065 200.1h0M1068.4 189.7h0M973.2 190h0M1072.5 206.3h0M1062.3 200.9h0M1059.7 203.8h0M1075.9 204.3h0M1054.6 193.9h0M1076.9 197.6h0M1012.2 191.6h0M1022.4 193.4h0M1076 208.4h0M1066 199.8h0M996 202.8h0M996.2 195.7h0M884 195.4h0M1006.5 200.8h0M989.3 207.4h0M1039.6 191.7h0M1017.7 191.4h0M1059.7 202.3h0M1043.9 200.7h0M1015.3 192.6h0M1033.9 206.2h0M1052.1 208.9h0M1068.6 211.2h0M1070 202.7h0M997.2 203.6h0M1062.1 190.6h0M998 198.5h0M1003 196.3h0M1054.5 191.5h0M1064.1 210h0M1000.9 201h0M1092.2 209.5h0M1064 208.5h0M964 203.9h0M1074.4 196.3h0M1071.8 199.1h0M1012.5 191.6h0M1028.5 189.9h0M1062.7 196h0M1011.7 208.6h0M1056.4 195.5h0M1019.4 207.6h0M1061 196.8h0M1005.3 205.4h0M1058.2 208.7h0M1005.2 207.3h0M970.9 208.2h0M884 208.3h0M1005.3 205.3h0M884 210.3h0M1011.5 205.6h0M1024.5 199.8h0M1052.7 192.6h0M1013.2 198.6h0M884 203.6h0M970 207.9h0M1006.1 209.6h0M1069.7 193.8h0M1046.4 189.9h0M967 204.7h0M997.8 197.9h0M1057.5 195.4h0M1004.3 195.7h0M1018.7 194.7h0M1045.6 192.4h0M1054.6 202.2h0M884 196.5h0M1073.3 208.7h0M1033.7 209.8h0M1012.2 192.4h0M1024.7 204.2h0M1025.1 204.1h0M1059.8 209.3h0M994.8 200.7h0M884 192.3h0M976.2 211.6h0M1054.9 196.2h0M1041.1 205.3h0M965.9 199.4h0M987.2 207.1h0M993.1 211.3h0M1037.7 193.7h0M1035 194.4h0M992.8 208.8h0M1050 210.9h0M1056.9 210.2h0M1054.5 204.1h0M1037.6 208.5h0M1014 192.7h0M1027 191h0M1022.2 207h0M1039.7 190.3h0M1049.2 201.3h0M1057.9 211.6h0M1050.5 195.1h0M1015.1 211h0M1006 208.1h0M1059.6 208.8h0M1043.8 202.6h0M1024.3 195.9h0M884 198.9h0M1026.2 210.6h0M972 210.8h0M1049.4 201.7h0M1038.1 197.8h0M1043.3 205.8h0M1025.4 189.9h0M1041.3 210.2h0M963.7 203h0M1018.5 198.2h0M1021.2 209h0M1002.5 210.4h0M1014.1 190.8h0M1060.1 207h0M984.9 198.7h0M1067.8 202.8h0M967.3 196.9h0M1075.3 201.6h0M884 200.5h0M1073.4 209.6h0M1063.6 202.6h0M1017.6 196h0M1000.7 192.4h0M1009.2 202.5h0M1019.1 191.9h0M996.8 201.7h0M1010.2 199.5h0M1071.5 198.9h0M996.2 197.6h0M1039.4 194.5h0M1018.6 204h0M1017.8 201.9h0M988.9 197.8h0M1057.8 205.1h0M1059.2 200.4h0M1071.2 199.1h0M1029.4 196.1h0M1064.3 208.3h0M1055.8 191.5h0M992.9 206h0M1074.4 210.5h0M1057.5 210.8h0M1063.8 195.5h0M1006.8 200.2h0M1046.8 206.4h0M1006.8 194.8h0M1026.5 204.5h0M1008.7 202h0M1026.6 192.9h0M1003.3 190.9h0M1021 195.1h0M1007.4 191.2h0M1075.3 201.4h0M1041.7 198.9h0M1004.7 199.7h0M991 197.7h0M1055.4 203h0M968.6 192.6h0M1025.8 199.3h0M1071.4 208.9h0M1016.6 195h0M1041.5 211.2h0M1048.7 192.8h0M1011.9 207h0M1001.9 210.7h0M1092.9 197.2h0M1041.4 203.5h0M1028.6 211.2h0M1034.1 194.1h0M1013.1 192.7h0M1056.8 189.7h0M1037.9 195.5h0M1063.3 196h0M999.6 198.1h0M1070.9 207.5h0M1019.2 195.7h0M1001.4 202h0M1007.7 193.9h0M1125.7 209.9h0M1073.7 205.2h0M1065 210.6h0M1095.3 208.2h0M1038.6 194.1h0M1048.9 191.3h0M1018.8 202.7h0M1081 195.7h0M1016.6 210.1h0M1045.8 197.6h0M1047.4 190.8h0M1021.1 202h0M1066.9 206.2h0M884 204.8h0M1041.9 208.6h0M965.9 190h0M1048.5 207.8h0M1065.7 196.6h0M1006.5 197.9h0M1008.2 206.6h0M1013 204.8h0M1062.4 192.1h0M1053.2 192.9h0M992.7 207.4h0M1008.9 210h0M1035 197.2h0M1069 195.5h0M1007 200.9h0M1015.9 208.1h0M1019.1 189.9h0M1021.6 201.2h0M992.1 192.9h0M1066 201.9h0M1076.8 201.8h0M1008 205.1h0M1000.6 196.6h0M990.4 208.7h0M1051.4 211.6h0M1054.4 211.3h0M1000 192.1h0M1069.6 195.5h0M1005.3 196.4h0M1052.5 195h0M1043.9 326.2h0M1010.1 321.7h0M969.1 318.1h0M1004 323.9h0M1046.1 318.8h0M1026.6 325.6h0M972.1 328h0M960.4 317.1h0M1043.7 314.1h0M941.8 323.2h0M983.8 326.8h0M1047.1 318.8h0M952.6 313.3h0M1039.7 321.3h0M1013.3 328.1h0M959.5 316.3h0M996.2 324.7h0M974.5 317.5h0M1034.4 321.3h0M933.3 313.8h0M993.1 319.5h0M986.7 310.2h0M1059.8 310.7h0M963.1 312.7h0M1005.1 328.1h0M978.4 327.8h0M1011.3 308.7h0M996.5 329.3h0M1075.8 329.1h0M1019.6 315.9h0M976.7 310.4h0M961.3 328.3h0M1073.9 315.3h0M968.4 313.8h0M967.9 312.7h0M986.6 316.9h0M966.7 316.6h0M1006.9 316.4h0M1005.8 319.7h0M979.8 316.6h0M1046.4 329.9h0M1055.2 315.3h0M978.4 317.1h0M1079.9 309.6h0M1043.6 326.3h0M1008.5 329.3h0M980.5 323.4h0M1040.3 328h0M953.5 322.1h0M988.5 314.4h0M1001 309.8h0M884 316.6h0M1006.2 311.3h0M1056.2 317.3h0M993.7 329.9h0M993.7 314h0M1033.7 320.5h0M975.5 316.2h0M1040.1 322.2h0M999.3 327.7h0M996.5 311.7h0M987.5 320.4h0M1045.9 325.8h0M944.7 315.2h0M957.7 322.3h0M1010 311.7h0M1007.8 328.3h0M1000.8 315.3h0M932.7 317.6h0M1031.7 312.1h0M988.1 314.1h0M1055.9 319.4h0M986.6 325h0M968.2 318h0M980.4 313.2h0M967.7 315.2h0M957.2 327h0M951.2 327.6h0M985.3 312.8h0M966.9 323.1h0M1019.1 312.8h0M989.7 309.4h0M937.7 322.9h0M1004 323.5h0M998.6 317.1h0M974.2 324.6h0M975.3 310.7h0M1008.7 323.1h0M976.6 317.2h0M962.3 318.8h0M1001.9 324.1h0M975.3 314.8h0M884 326.1h0M970.3 326.2h0M982.8 327.2h0M996.8 308.8h0M955.3 323.6h0M970.8 312.7h0M960.9 313.3h0M954.2 308.9h0M981.3 317.5h0M942.4 317.1h0M993.6 310.4h0M1043.4 324.3h0M964.6 325.5h0M1003.6 324.6h0M884 326.1h0M1007.7 329.2h0M938.9 311.9h0M1007.4 327.5h0M1007.5 324h0M974.3 320.1h0M954.3 317.6h0M970.7 308.9h0M1034.7 309.2h0M1000.2 325.7h0M970.2 328.8h0M939.6 317.5h0M985.8 321.4h0M1045.7 328.4h0M951.3 320.2h0M980.5 321.1h0M1021 318.3h0M967.9 317.9h0M977.4 320.8h0M996.3 308.8h0M1025.9 315.8h0M1079.5 322.6h0M1028.9 319.4h0M980.6 313.2h0M1020.7 327.2h0M1045 318.2h0M977.7 322.2h0M992.3 318.5h0M970.5 313.4h0M999 314.7h0M1007.2 322.1h0M996.5 323.9h0M1008.5 316.9h0M1068 394h0M1071.6 388h0M1001.2 403.1h0M1068 394.1h0M1017.5 397.2h0M1057.1 402.9h0M963.4 391.2h0M1075.2 390.8h0M1006.6 391.4h0M1031.9 396.1h0M925.2 517.4h0M988.4 508.2h0M929.1 527.4h0M960 520.1h0M945.7 512.7h0M942.7 527h0M972 520.1h0M1019.2 521.4h0M1053 519.1h0M997.7 520.4h0M1008.8 510.1h0M986.1 523.9h0M1016.9 519.6h0M1019.4 514.9h0M1006.8 511.9h0M996.7 528.2h0M913.7 508.8h0M994.2 507.2h0M942.1 511.8h0M964.3 520.2h0M971.6 515.6h0M916.8 511.3h0M1016.8 526.2h0M930 513.9h0M943.1 523.1h0M983.6 512.1h0M979.1 515.5h0M1017.8 510.2h0M1027.4 514.8h0M1030.8 519.5h0M942.8 523.6h0M1075.4 527.2h0M945 510.4h0M969.1 521.8h0M1003.9 507.7h0M1006.7 519.2h0M937.6 527.3h0M1070.9 509.4h0M1070.7 524h0M1014.4 509h0M966.1 513.1h0M1001.8 515.1h0M988.4 515.6h0M926.3 510.5h0M927.4 515.9h0M978 512.6h0M934.2 526.7h0M917.1 514.9h0M946.1 525.3h0M910.7 513.5h0M938.5 526.7h0M920.8 516.5h0M1097.8 506.9h0M996.6 526.4h0M1035.4 518.2h0M1007.7 514.8h0M1018.1 521.3h0M980.8 513h0M975 524.1h0M1018.9 526.5h0M957 519.5h0M950.7 516h0M1010.1 516h0M974.6 510.4h0M1039.1 519.6h0M928.7 513.3h0M997.8 513.1h0M929.7 527h0M938.7 520.1h0M1005.2 509.4h0M960.2 516.1h0M935.9 522.8h0M943.7 525.5h0M928.7 525.7h0M966.9 509.5h0M981.9 506.8h0M925 523.5h0M970.1 524.5h0M916 511.6h0M1012.1 526.4h0M960.3 509.6h0M1061.6 515.2h0M932.6 520.9h0M998.8 519.4h0M964.8 507.3h0M928.2 517.1h0M952.2 508.9h0M1007.5 527.1h0M1044 523.5h0M920.5 519.4h0M942.1 516.1h0M980.5 512.6h0M934.1 528.7h0M1021.4 514.4h0M976.1 514.3h0M976.2 512.5h0M976.5 516.8h0M965.7 523.8h0M976.7 519.7h0M972.6 510.2h0M1016.7 520.6h0M1018.9 522.7h0M923.6 520.9h0M955.4 518.2h0M945 521.3h0M1032.2 521.6h0M1021.9 522.2h0M932.9 518.2h0M988.2 521.6h0M1011.6 514.2h0M979.6 520.8h0M1015.7 511h0M922.4 520.8h0M914.8 519.5h0M964.7 520.4h0M929.7 514.4h0M951.2 525.3h0M975.9 525.3h0M1035.6 518.9h0M923.7 515.7h0M884 515.8h0M929 524h0M920.7 507h0M974.9 508h0M932.4 526.7h0M987.4 513.2h0M947 517.7h0M970.8 521.7h0M1012.4 523.6h0M920.9 510.1h0M1022.9 524.9h0M1003.1 511.3h0M1033.4 527.2h0M1008.5 512.8h0M1014.5 524.8h0M1021.5 525.1h0M934.7 518.9h0M1028 512h0M989.2 523.7h0M1032.5 525h0M999.5 521.9h0M1016.3 509.5h0M969.3 511.3h0M1011.8 516.6h0M974.9 512.3h0M996.1 514.5h0M932.3 523h0M953.2 507.3h0M993.3 511.4h0M915.9 509.7h0M1016.3 508.5h0M1004.9 519.6h0M1042.4 528.5h0M884 507.4h0M920.6 514.9h0M987.2 513.3h0M927.4 511.1h0M963.5 517.9h0M991.8 520.2h0M921.2 520.7h0M953.7 512.8h0M982.2 527.8h0M963 508.6h0M1009.7 526.3h0M1008.5 510.7h0M919.3 520.6h0M994.1 526.9h0M1018 513.8h0M915.3 507.5h0M935.3 508.5h0M985.1 510h0M964.1 510.6h0M1020.6 527.3h0M971.8 527.2h0M1036.9 528.2h0M943.7 516.3h0M1014.6 514.8h0M942.5 526.2h0M973.9 523h0M935.6 519.7h0M994.1 526.2h0M1009.9 519.2h0M1001.3 520.2h0M951.3 514h0M1023.9 511.5h0M960.3 510.1h0M1018.7 521.3h0M1018.5 516.3h0M940.1 520.4h0M944.9 514.4h0M1009.7 508.2h0M959 523h0M955.4 521.4h0M884 523.9h0M946.2 524.7h0M1044.3 525.5h0M932.3 515.7h0M1024.9 528h0M1042.2 523.1h0M921.8 512.8h0M1022.9 528.2h0M945.8 528h0M1005.5 528h0M968.5 514.6h0M929.5 508.3h0M1014 508.8h0M1027 519.5h0M971 523.4h0M1034.3 522.9h0M934.5 507.2h0M972.6 511.5h0M1033.4 512.6h0M991.4 509.7h0M952.1 509.5h0M1017.9 507.4h0M993.4 517.3h0M920.9 527.7h0M1030.2 526.7h0M985.3 524.7h0M925.5 525.6h0M921 511.9h0M981.7 513.8h0M1001.6 515.7h0M966 516.2h0M1011.1 525.1h0M981.1 519.7h0M965.4 523.8h0M998 522.5h0M1061.9 518.3h0M927.5 511.8h0M968.1 525.2h0M920.6 506.8h0M992.4 508.5h0M1037.3 528.1h0M975.7 508.9h0M968 512.7h0M1029.2 511.6h0M983 523.3h0M968.9 517.1h0M942.7 524.3h0M934 507.3h0M944.1 528.1h0M1024.9 517.6h0M934.9 517h0M963.9 519.7h0M1026.3 519.8h0M1019.4 510.8h0M884 526.7h0M1005.1 516.7h0M933 519.2h0M1003.6 514.4h0M989 509.9h0M1021.2 512.4h0M1012 514.3h0M997.6 512.3h0M975.2 519.7h0M934.8 518h0M958.6 509.4h0M1022.2 526.3h0M940.8 515.2h0M942 524h0M963.5 515.1h0M1026.4 525.6h0M989.2 511.6h0M1027.5 520.2h0M915 508.8h0M923.5 507.5h0M960.9 508h0M1026.4 506.9h0M996.3 513.5h0M1025.9 512.9h0M958.9 515.1h0M915 525.4h0M981.8 513.6h0M980.8 511.9h0M937.5 527.4h0M1025.4 516.5h0M963 525.5h0M975.4 508.2h0M965 524.6h0M974.6 514.6h0M954.3 516.3h0M982.1 524.4h0M962.4 525.5h0M933.4 512h0M1059.7 511.6h0M1008 509.3h0M1033.2 507.8h0M963.4 525.2h0M974.4 506.8h0M1033 520.1h0M966.3 507.8h0M971.8 510.8h0M987.5 516.5h0M1034.5 510.4h0M1017.2 518.4h0M922.3 507.8h0M927.6 506.8h0M1018.8 514.6h0M918 521.9h0M1038.1 507h0M989.8 520.5h0M970 507.3h0M963.5 517.8h0M961.3 515.8h0M1019.3 507h0M929.8 510.3h0M984.9 519.5h0M1029.6 515.5h0M1005.5 525.5h0M984.2 507.4h0M884 513h0M1026.3 523h0M1035.9 524.4h0M1010.7 520.3h0M976.4 508.3h0M925 517.7h0M969.4 528.3h0M915 518.2h0M1015.8 515.1h0M980.6 511.1h0M1023.3 512.1h0M1028.3 526.3h0M919.1 526.1h0M963.7 507.8h0M990.4 519.1h0M984.1 518.3h0M970.8 521.7h0M967.7 523h0M1007.9 528.1h0M928.7 515.1h0M884 510.4h0M916 518.2h0M1041.9 516.1h0M991.8 507.2h0M941.2 521.6h0M964.9 526.8h0M961.3 527.2h0M1033.3 512.5h0M987.6 520.3h0M933.1 519.4h0M1030.7 527.2h0M1006 512.6h0M1007.2 521.5h0M986.7 509.3h0M955.8 518.5h0M950.4 516.5h0M1034.2 525.7h0M993.7 522.5h0M1011.9 507.1h0M1015.4 509.7h0M1003.2 528.1h0M941.3 522.2h0M948.9 510.1h0M884 526.7h0M1000.7 525.7h0M923.2 509.2h0M930.2 512.6h0M1006.9 524.7h0M1028.5 520.7h0M951.7 507.4h0M964.7 517.1h0M1024.3 509.1h0M945.5 508h0M1023.6 510.7h0M950.7 522.5h0M961.3 515.2h0M990.4 507.4h0M996.8 528.2h0M936.1 513h0M943.7 509.3h0M1021.9 510.6h0M991.2 527.7h0M1056.2 520.3h0M955.8 518.8h0M915.9 514.5h0M937.7 519.1h0M966.4 506.9h0M930.6 527h0M1016.1 510.3h0M993 515.9h0M884 524.4h0M1011.4 516.3h0M916.7 511.2h0M942.3 508.8h0M958.5 510.1h0M1015.7 516.4h0M1036.7 508.3h0M1030.8 519.5h0M919.5 518.4h0M1003.9 515.7h0M1004.1 527.9h0M990 525h0M1013.2 514.2h0M958.6 512.5h0M1025 517.5h0M1011.6 526.3h0M1016.4 523.2h0M1022.4 513.5h0M973.9 521h0M986.9 516.8h0M950.3 515.2h0M985.6 510.4h0M1006.3 527.8h0M939.2 507.3h0M1016.6 518.6h0M981.7 520.3h0M992.2 508.1h0M976.8 519.4h0M939.8 526.6h0M930.8 515.3h0M1003 525.5h0M973.2 524.2h0M956.6 523.9h0M1006.7 510.8h0M955.4 511h0M1010.1 528.2h0M938 526h0M1027.6 519.7h0M1025.7 527.6h0M998.1 520.1h0M884 517.8h0M930.4 518h0M989.5 520.2h0M1020.3 512.6h0M924.8 519.9h0M1028.3 517.5h0M1016.2 527.2h0M1044.7 522h0M919.4 526.7h0M1048.9 526h0M925.4 514h0M1024.1 516.9h0M976.6 525.5h0M918.8 509.2h0M932.5 526.7h0M1038.4 520.2h0M971.8 508.8h0M957.4 509.4h0M1033.5 509.8h0M1014 523.4h0M950.9 515.5h0M884 516.8h0M950.4 517.7h0M1077.1 527.9h0M938.9 509h0M926 510h0M947.3 514.2h0M1032.2 517.1h0M988.5 507.7h0M929.1 508.1h0M959.5 518.6h0M1058.2 513.8h0M1054.7 511.9h0M1011.8 520.8h0M1003.4 517.9h0M947 521.5h0M966.1 518.6h0M1036.8 507.3h0M884 510.7h0M977.6 521h0M963.2 517h0M987.4 511.1h0M934.6 522.8h0M1035.2 518.4h0M1022.5 507.5h0M1024 527.8h0M961.9 521.4h0M1000.2 511.9h0M951 511h0M933 523.8h0M989.8 508.3h0M1013.6 526.3h0M979.7 511.1h0M1002.5 523.5h0M916.8 512.2h0M950.1 511.7h0M960.4 513.7h0M956.6 525.8h0M1028.7 518.6h0M1028.8 528h0M915.9 521.2h0M1007.7 508.7h0M999.3 512.2h0M946.3 511.7h0M985.5 520.1h0M984 527.6h0M945.5 514.5h0M970.6 512.9h0M961.5 516.1h0M1003.4 516.3h0M976.6 507.2h0M976.8 518.5h0M915.7 518.8h0M1036.8 526.9h0M942.4 520.6h0M1003.1 521.2h0M1005.8 526.5h0M941.4 507h0M1007.1 512.5h0M1029.2 524.3h0M921.3 516.9h0M972.2 520.6h0M919.9 525h0M1039.7 511.2h0M932.3 514.4h0M980.5 513h0M1032.7 526.4h0M1013.4 526.4h0M960.9 514.8h0M986.5 519.7h0M959.2 509.4h0M952.1 526.4h0M940.4 528.6h0M935.9 527.6h0M1013.8 525.6h0M960.7 519h0M954.5 524.3h0M917.9 515.5h0M951.6 512.4h0M919.1 511.1h0M1016.8 519h0M932.7 508.7h0M940.4 524.8h0M942.4 512.3h0M987.4 520.8h0M952.4 514.5h0M988.3 523.8h0M1021.7 523.3h0M947.7 508.9h0M1000.3 507.5h0M928 519.2h0M1010.7 511.1h0M1059.6 527.6h0M972.5 527h0M959.6 508.4h0M981.2 521.6h0M1002.7 525h0M1002.5 513.1h0M1028.1 516.7h0M950.1 526h0M1065.8 524.2h0M1051.9 510.4h0M1033.8 517.4h0M953.5 515.5h0M1005.2 519.7h0M1003.5 516.4h0M962.4 519.9h0M949.4 525.6h0M963.7 509.1h0M1035.3 510.3h0M1018.4 519.5h0M1019.7 514.4h0M978.7 522.3h0M1034.6 518.7h0M963.1 526.7h0M1030 520.2h0M1047 519.5h0M953.8 528.2h0M972.2 516.4h0M1040.4 528.5h0M936.3 522.3h0M1042.9 524.2h0M1016 509.9h0M1028.6 507.7h0M973 520.5h0M972.1 518.3h0M987.7 525.7h0M1000.5 522.6h0M983.2 512.2h0M1035.3 520.1h0M1034.7 523.9h0M1012.9 523.5h0M1034 510.9h0M1011.3 518.9h0M983.6 516.8h0M1026.7 517.7h0M998.5 520.5h0M986.8 521.4h0M927.1 512.4h0M1018.3 512.5h0M1014.3 522.2h0M1008 507.9h0M920.1 507.9h0M936.5 515.9h0M1037.4 522.4h0M944 511.9h0M927 523.7h0M997.9 520.3h0M991 516.5h0M932.6 527.4h0M995.8 519.6h0M970.6 511.5h0M983.1 512.5h0M926.7 515.4h0M957.3 521.5h0M924.2 514.4h0M957.9 527.8h0M925.6 510.4h0M1008.3 516.3h0M916.5 523.7h0M980.7 512.8h0M964.1 513.6h0M987.3 525.8h0M1000 528.4h0M1011.2 526.9h0M1022.5 528.4h0M973.3 523.5h0M1008.2 522.2h0M952.1 520.2h0M971.8 516h0M957.7 517.7h0M985.6 522.4h0M924.7 527.5h0M935.2 509.3h0M951.1 516.9h0M979.8 523.9h0M952 520.4h0M987.4 526.2h0M928.7 519h0M989.9 508h0M952.6 524.8h0M965.2 510.6h0M966.2 523.6h0M948.8 514.9h0M1012.4 513.4h0M970 525.2h0M946.3 515.3h0M956.9 515.9h0M963.5 515.9h0M1011.5 517.3h0M939.7 509.7h0M972.1 524.6h0M941.5 509.1h0M990.8 509.8h0M884 524.6h0M1049.1 525.8h0M884 513h0M950.2 511.8h0M1014.5 508.2h0M1029.3 525.5h0M1023.8 516.2h0M1003.1 525.7h0M989.6 528.4h0M916.9 517.5h0M977.7 510.1h0M956.9 522.1h0M949.4 527.2h0M1030.3 514.2h0M964.1 514.7h0M922.1 526.1h0M923.2 509.2h0M1003.6 517.8h0M984.1 525.6h0M983.9 508.6h0M1069 525.3h0M1027.3 508.7h0M980.1 523.4h0M927.8 516.5h0M948.7 518.9h0M1013.3 509.2h0M960.8 508h0M1039.4 509.9h0M996.3 522.8h0M923.9 509.5h0M884 519.5h0M1019.2 526.3h0M1072.9 520.9h0M995.3 507.2h0M932.1 509.5h0M1043.6 526.1h0M943.6 521.1h0M884 511.3h0M957.5 526.3h0M924.1 521h0M1012.5 506.8h0M978 514.3h0M1020.7 512.3h0M1011.5 517.1h0M962.2 511.1h0M1030.3 507h0M884 517.1h0M1051.2 508.6h0M1006.9 520.8h0M884 515h0M978.6 523.6h0M915.2 523.2h0M953.8 527.2h0M999 511.5h0M1015 525.9h0M884 521.1h0M949.5 518.6h0M956.5 514.6h0M947.4 514h0M983 526.8h0M1023.7 522.8h0M884 516.1h0M1031.7 513.7h0M969.2 507.5h0M927.8 514.1h0M969.9 514.4h0M997.4 513.2h0M915.2 507h0M948.3 520.9h0M946.9 525.2h0M1008.4 515.3h0M948.7 526.7h0M1027 513.5h0M969.6 521.9h0M1034.4 527.3h0M920.8 521.2h0M944.2 508.2h0M1026.3 527.6h0M940.5 527.3h0M1024 522.5h0M1028.1 524.1h0M1024.1 522.9h0M926.5 510.1h0M918.4 525.2h0M979.5 509h0M989.9 520.5h0M1020.7 524.2h0M982.1 524.3h0M922.4 513.2h0M1009.5 509.9h0M976.9 508.4h0M1000.2 511.1h0M974.4 515.9h0M975.5 519.3h0M972.1 524.6h0M943.9 507.2h0M1011.9 516.4h0M987.6 527.8h0M1019 508.3h0M983.7 527.8h0M884 513.7h0M978.9 521.1h0M1025 507.3h0M1014 527.1h0M916.5 508.3h0M929 520h0M927 510h0M1036.5 519.2h0M1021.9 510h0M1013.8 521.3h0M976.2 520.7h0M1010.8 521.8h0M946.2 518.4h0M1022.7 516.2h0M1009 508.1h0M1029.4 527.2h0M937.3 517.8h0M1008.1 519h0M917.3 515.7h0M1017.9 527.7h0M1028.2 520.1h0M946.1 517h0M922 522.5h0M1001.2 515.1h0M999.5 519.5h0M1036.7 514.4h0M960.1 508.3h0M1054.4 528h0M929.4 507.5h0M1037.8 520.8h0M1031 516.8h0M1025.1 515.4h0M940.1 518.4h0M967.9 511.5h0M998 517h0M997.5 520.1h0M981.2 518.2h0M957.4 507.5h0M1001.3 525.7h0M968.6 522.5h0M991.5 528h0M1034 519.8h0M928.7 511.6h0M1035.1 514.5h0M997.3 511.2h0M929.9 522.6h0M990.4 508.2h0M952.4 519.1h0M983.6 520.2h0M1031.9 515.5h0M1061.7 522.3h0M923.6 526.4h0M1066.7 516.5h0M954.3 528.5h0M959 524.3h0M962.7 518.1h0M983.7 515.3h0M990.4 511.1h0M1030.8 521.3h0M954.2 516.1h0M923.8 512.6h0M1024.1 522.3h0M1022.9 506.8h0M942.9 515.1h0M1006.4 513.2h0M929.4 527.5h0M993.8 526.7h0M961.9 513.4h0M935.7 521.6h0M1005.9 512.4h0M974.5 513.7h0M982.1 518.2h0M983 521.8h0M971.5 522.4h0M1001.5 513.1h0M1049.4 508.7h0M940.3 528.4h0M989.2 524.7h0M998.1 521.7h0M931.7 507.1h0M933.8 508.8h0M1026.4 507h0M884 521.5h0M950.4 513.9h0M997.8 512.5h0M884 522.9h0M1028.4 508.5h0M995.7 527h0M952.4 508.7h0M1014.2 513.2h0M971.5 507.8h0M1068.9 510.1h0M1005.1 518.9h0M968.1 524.7h0M1002.6 525.6h0M1025.9 519h0M1044.2 507.2h0M950 519.1h0M956.8 527.6h0M1020.4 512.8h0M947.6 517.5h0M911.9 513.4h0M1002.1 527.4h0M997.5 513.3h0M936.3 521.5h0M937.2 527.4h0M1013 520.3h0M1010.8 508.2h0M1035.9 507.8h0M1055.5 519.2h0M916.8 511h0M1035.8 519.8h0M1019.6 523.8h0M956.9 515h0M966.3 520.8h0M959.9 526.3h0M955 506.7h0M1000 524.7h0M971.5 526.9h0M964.5 520.5h0M922.9 508.1h0M1014.9 514.9h0M918.9 518.8h0M962.2 521.1h0M951.3 513.6h0M1038.8 523.6h0M1038.7 520.9h0M949.9 520.8h0M975.8 522.9h0M922.4 517.4h0M922 507.6h0M984 511.4h0M990.8 517h0M919.6 520h0M958 521h0M961.2 507h0M989.2 508.7h0M1022.4 520.6h0M990.5 524h0M935.1 528.4h0M981 508.7h0M1010.2 507h0M884 525.1h0M954 508.5h0M940.3 525.4h0M1043.2 508.7h0M1015.9 525.1h0M970.7 511.6h0M1010.8 511.1h0M1028.6 522.4h0M1003.9 516.4h0M1037.8 523.9h0M1036.7 522.2h0M941.7 516.2h0M884 508.3h0M924.2 523.4h0M990 526.9h0M934.7 519.6h0M919.9 515.7h0M932.5 525.6h0M1002.4 507.5h0M980.4 508.6h0M948.6 513.1h0M1013 507.1h0M985.9 525.2h0M992.8 509.2h0M1018.4 524.6h0M1004.9 513.3h0M1070.1 509.9h0M955 514.1h0M1023.4 514h0M940.7 522.5h0M948.5 528.5h0M1060.7 515.4h0M926.3 509.3h0M1026.5 515.3h0M995 517.2h0M987.3 519.1h0M975.6 526.7h0M962.4 508.2h0M1037.2 526.9h0M925 519.4h0M1104.4 516.3h0M954.4 509.6h0M976.8 517.8h0M1004.9 519.5h0M984.1 510.7h0M961.8 515.9h0M921.1 522.4h0M988.9 524.5h0M994.9 512.9h0M998.1 520.8h0M947.9 526.5h0M955.1 521.1h0M1059.2 521.4h0M1029.6 522.9h0M1009.5 512.3h0M978.7 508.9h0M1035.1 528.7h0M936.4 528.2h0M1107.4 527.8h0M1029.7 523.7h0M973.1 513.5h0M1008.3 512h0M1003.8 517.2h0M971 508.6h0M884 519.8h0M980.5 513.5h0M925.5 510.8h0M916.3 517.8h0M942.9 525.5h0M958.1 508.7h0M1028.6 520.8h0M960.6 506.8h0M966.6 518.5h0M921.2 527h0M1019 524.8h0M1006.9 523.6h0M951 514.2h0M1003.6 521.1h0M933 520.8h0M926 511.4h0M917.3 528.4h0M1020.6 524.3h0M989.3 515.3h0M993.8 525.5h0M979.1 518.6h0M998.2 510.4h0M938.6 518.1h0M947 521.2h0M967.8 528.6h0M1017.5 513.1h0M939.1 522.3h0M1017.9 510.6h0M960 510h0M920.5 526.4h0M997.1 525.7h0M924.4 518.9h0M1093.5 604.6h0M1032.1 597h0M1077.2 594.4h0M1031.7 586.2h0M1022.3 593.9h0M1054.2 595.3h0M1081.1 600.9h0M1082.9 594.6h0M1085.1 596.6h0M1044 598.3h0M1016.4 587.8h0M1054.7 606.4h0M1070 600.1h0M1065.6 603.8h0M1094.8 605.9h0M1085.8 594.8h0M1032.7 596.4h0M1028.5 591.3h0M1040.5 604.3h0M1027.7 601.5h0M1086.2 593.3h0M1033.4 601.9h0M1044.9 598.2h0M1036.8 606.9h0M1031.6 587.7h0M1091.2 602.3h0M1035 606.3h0M1029.9 586.8h0M1077.8 607.6h0M981.4 593.4h0M1031 604.9h0M1031 589.3h0M1069.7 596h0M1059.8 602.7h0M1092.5 594.7h0M1068.2 599.6h0M1086.9 601.4h0M1036.3 604.6h0M1064.6 603.7h0M1027.5 601.2h0M1015.6 590.6h0M1068 604.4h0M1081.4 599.2h0M1074.5 602.5h0M1073.5 607.3h0M1052.6 587.2h0M1021.6 604.2h0M1056.5 606.9h0M1059.1 602.7h0M1092.2 605.6h0M1049.8 588.2h0M1030.9 598.3h0M1023.6 588.5h0M1035.6 596.3h0M1050.1 591.9h0M1025.6 587.9h0M1091.5 596.3h0M1053.3 600.5h0M1068.7 588.6h0M1032.9 606.7h0M1025.4 606.1h0M1067.7 586.3h0M1074 605h0M1087.2 587.6h0M1065.6 607.3h0M1073.3 590.3h0M1029.3 599.4h0M1069.3 592.5h0M1055.2 607.2h0M1024.7 606.5h0M1069.4 594.6h0M1051.3 605.4h0M1048 602.8h0M1055.8 598.8h0M1078 606.6h0M1067.2 597h0M1069.6 590h0M1082.2 594.7h0M1040.1 586.8h0M1062 596.2h0M1018.9 590.1h0M1041.5 595.7h0M1092.9 586.8h0M1028.5 594.7h0M1046 606.4h0M1051.8 607.4h0M1080.1 598.3h0M1026 605.3h0M1050.9 595.8h0M1087.7 604.1h0M1058.6 594.1h0M1067.1 596h0M1081.4 601.1h0M1068 602.9h0M1058.7 588.5h0M1062 598h0M1100 590.8h0M1054.4 605.9h0M1092.3 607.2h0M1048 605.6h0M1092.7 592.7h0M1019.6 606.8h0M1075.1 605.7h0M1056.2 590.6h0M1020.3 601.7h0M1068.5 591h0M1089.3 596.3h0M1031.8 598.2h0M1035 606.3h0M1090.5 602.6h0M1071.6 589.3h0M1091.7 600.2h0M1048.8 595.5h0M1027.7 588.1h0M1085.5 596.5h0M1021.9 603h0M991.1 596.6h0M1085.6 592.7h0M1082.9 599.9h0M1033.2 596h0M1062.4 597.1h0M1052.3 593.9h0M1059.5 606.9h0M1023.8 604.8h0M1053.9 607.8h0M1077.2 595h0M1046.2 601.9h0M1053.5 591.3h0M1016 587h0M1093.5 593.5h0M1038.6 600.8h0M1078.5 586.4h0M1034.8 586.4h0M1087.9 603.6h0M1063.6 594.2h0M1069 596.1h0M1065.9 589.8h0M1057.1 598.8h0M1072.5 590.1h0M1079.7 606.6h0M1069.5 596.9h0M1065.1 600.1h0M1028.2 593.7h0M1038 590h0M1073.7 598h0M1048.8 601.5h0M1080.5 603.9h0M1052 591.4h0M1040.8 593.3h0M1094.9 600.7h0M1102.4 602.4h0M1036.1 606.3h0M1039.2 602.5h0M1023.7 587.3h0M1088.6 592.8h0M1094 601.9h0M1039.9 602.2h0M1021 588.1h0M1064.3 597.1h0M1097.5 603.8h0M1088.1 595h0M1046.3 587.4h0M1089.8 605h0M1085.8 604.3h0M1102 597.3h0M1055.4 595.5h0M1024 600.1h0M1044.1 595.8h0M1082.8 590.9h0M1069.7 607.7h0M1073.8 595.4h0M1029.7 595.2h0M1038.9 586h0M1043.2 588.6h0M1045.9 593.1h0M1048.4 605.2h0M1072.7 588h0M1021 588h0M1088.4 592.7h0M1017.1 591.3h0M1080.8 606.3h0M1052 592.3h0M1043.1 600h0M1081.6 601.5h0M1074.6 598.6h0M1071 590.8h0M1070.5 605.5h0M1069 589h0M1035.9 607.6h0M1024.6 589.2h0M1020.4 605.3h0M1050.5 604.3h0M1076.4 605.8h0M985 589.4h0M1090.4 592.5h0M1064.7 602.1h0M1053.8 588.3h0M1072 601.3h0M1058.1 587.3h0M1045.9 599.2h0M1055.6 594.7h0M1036.4 597.7h0M1032.8 588.4h0M1054.1 600.2h0M1019.7 599.4h0M1059.1 596.6h0M1041.6 607.6h0M1026.9 588.8h0M1086.4 586.6h0M1101.9 596.8h0M1065.8 590.2h0M1073.6 595.4h0M1087.3 596.6h0M1068 669.4h0M1039.1 676.6h0M1024.7 684.5h0M995.8 667.8h0M1087.8 679.7h0M1057.1 678.4h0M1044.9 681h0M1031.9 679.1h0M1053.5 666.4h0M1060.7 671.3h0M987.2 675.9h0M1046.3 674.4h0M1183.4 784.2h0M1029.7 801.5h0M1019.6 805.9h0M1055 794.1h0M995.7 784.3h0M980.6 784.8h0M980.3 789.7h0M1015.5 785.4h0M1031 788.4h0M1031.1 800.1h0M1018.8 803.5h0M1035.7 801.8h0M1025.4 794.6h0M1058.5 802.1h0M1028.2 792.8h0M1050.1 803.1h0M1040.5 804.9h0M1047.2 784.7h0M987.2 796.1h0M1053.3 791.1h0M1024.4 804.2h0M983.3 792.6h0M1042 798.9h0M1048 784.7h0M1032.2 786.7h0M992.8 788.9h0M993.5 784.3h0M989 793.1h0M1033 804.1h0M1053.4 796.4h0M1039.4 797.8h0M991.6 799.3h0M1061.9 800.8h0M1027.4 795.7h0M1000.2 805h0M980.4 796.1h0M1003.9 786.6h0M1020.6 803.5h0M1006.7 805.2h0M979.5 800.1h0M1060 802h0M990.7 794.8h0M1060.3 797.2h0M1044.7 802.4h0M1059.3 791.1h0M1039.4 792h0M1060 803.1h0M1046.9 789.7h0M997.8 798h0M965.5 799.1h0M985.8 797.9h0M1059 805.5h0M987.2 784.3h0M1053.5 792.5h0M988.7 794.1h0M1037.5 791h0M1063.6 804.2h0M1062.7 801.5h0M993.2 801h0M1023.3 797.2h0M997.9 787.6h0M1012.4 798.6h0M1063.4 787h0M1008.7 785.8h0M1008.4 801.6h0M1063 801.9h0M1024.4 796.5h0M1075.2 784.2h0M1005.6 794.1h0M982.9 798h0M1007.7 791.9h0M1073.1 799.1h0M997.3 791h0M980.6 790.5h0M1056.3 797.3h0M1081.3 793.7h0M990.3 800.1h0M1083.5 786.4h0M1027.2 798.9h0M1074.2 802.9h0M1025.6 804.1h0M1054.2 788.8h0M1083.4 785.3h0M983.3 801.8h0M1029.2 795.1h0M1042.6 798.8h0M996.2 795.6h0M995.9 806.1h0M991.3 784.4h0M1088.4 789.6h0M981.7 800.6h0M988.3 800.7h0M1041.7 797.6h0M1046.6 805.8h0M1015 784.7h0M988.5 789.2h0M1029.6 800.7h0M1005.8 794.7h0M1040.7 799.7h0M1029.3 800.3h0M1125.7 806h0M1072.4 796.2h0M1046.7 804.3h0M1002.7 800.4h0M1008.4 802.3h0M1029.6 801.7h0M1011.5 786.6h0M978.1 790.8h0M1006.8 803.7h0M997.6 785.5h0M1030.9 790.8h0M997.1 785h0M1026.3 794.6h0M1029.6 794.6h0M995.7 805.8h0M997.1 792.5h0M1032.5 804.7h0M985.5 800.2h0M1059.6 796.3h0M1040.4 786.6h0M991 786h0M980.1 867.7h0M947.4 873h0M985.6 881.3h0M994.5 866.2h0M954.6 880.1h0M976 864.2h0M974.6 870.6h0M1013.7 876.7h0M998.9 875.3h0M972.3 872.7h0M1018 884.8h0M1024.3 879.7h0M931.8 867.2h0M1025.1 881.7h0M1003.3 874.7h0M976.6 881.3h0M1016.4 863.6h0M987.9 865.5h0M953.4 863.6h0M1008.7 873.2h0M1000.8 879.8h0M1018.3 874.9h0M978.3 881.5h0M932.6 875.7h0M946.1 875.9h0M954.1 866.1h0M988.6 880.7h0M1030.6 866.6h0M999.2 881.1h0M975.5 869.4h0M995.5 868.2h0M933.1 863.9h0M1005.9 868.1h0M1002.8 880.5h0M1023.8 878.1h0M975.8 868.1h0M993.4 874h0M946.4 884.2h0M1009.7 873.5h0M978 877.2h0M1018.6 884.9h0M962.6 867.5h0M961.5 876.7h0M941.2 877.2h0M972.9 882.7h0M942.6 869.2h0M959.6 863.6h0M964.3 881h0M944 872.5h0M1034.9 884.6h0M963.9 881.1h0M1026 884.5h0M1006.7 881.4h0M1011.2 863.5h0M1035.1 870.7h0M978.8 863.9h0M988.5 865.8h0M959.5 866.1h0M958.4 884.4h0M1008.6 885.2h0M1013.4 875.9h0M998.6 866.8h0M959.7 864.9h0M1025.7 884.2h0M995.6 882.8h0M945.8 864.7h0M967.9 881.2h0M1000.7 877.1h0M973.4 875.5h0M991.9 869.8h0M987.1 880.8h0M1014.8 870.5h0M1014.9 872.3h0M977.4 875.9h0M963.6 864.3h0M983.1 871h0M973.1 863.8h0M1004.9 867.9h0M991.6 869.3h0M979.1 866.9h0M1009.3 872.9h0M947.5 873.5h0M1014.5 880.9h0M937.7 866.4h0M979 879.3h0M944.8 874.9h0M960 882.4h0M973.7 868.1h0M1020.3 868.7h0M1005.7 865h0M945 882.7h0M966.7 880.2h0M1023.1 877.1h0M956.8 865.4h0M1016.2 873h0M972.1 870.4h0M979.5 876.3h0M951.4 881.6h0M1004.6 881.9h0M979.4 876.1h0M970.6 882.1h0M948 885.4h0M993.2 881.3h0M954.5 864.5h0M960.6 881h0M988.9 878.7h0M968.1 865.8h0M933.6 874.5h0M999.7 865.4h0M957.7 882.3h0M951 871h0M934.9 883.7h0M973.8 871.3h0M1015.5 878.9h0M1006.6 872.5h0M944.4 872.1h0M1010.3 882.2h0M1020.9 877.5h0M1007.7 871.4h0M1018.8 878h0M998.8 877.9h0M960 864.1h0M1002.9 885.1h0M1008.7 877.7h0M999.4 872.6h0M988.2 869.7h0M995.5 876.9h0M1004.2 881.6h0M1012.7 875.4h0M969.7 876.6h0M1014.1 885h0M1020.9 873.3h0M995.2 881.6h0M1013.4 878.2h0M982.5 875.9h0M966.9 867.4h0M970 884.2h0M1008.9 875.1h0M996.8 870.8h0M992.6 873.9h0M1017.9 879.5h0M995.5 876.4h0M997.2 870.1h0M1032.8 863.7h0M1018.8 869.3h0M1010.7 865.8h0M970.7 870.7h0M1021.8 878.1h0M1023.4 879.3h0M971.7 872.6h0M991.3 865.1h0M972.3 878.1h0M970.3 879.9h0M967.3 879.8h0M962.7 880.3h0M1003.3 869.5h0M982.3 872.3h0M1020.6 868h0M1025.8 868.4h0M998.8 877.2h0M989.8 866.9h0M955.1 868.7h0M990.3 946.5h0M1004.3 944.5h0M1040.9 948.3h0M1071.3 963h0M1079 953.1h0M1086.3 960.3h0M1068.8 961.3h0M985.3 960.4h0M1021.1 951h0M1050.5 956.8h0M1026.3 957.8h0M1066.3 954.7h0M1048.7 955.7h0M1041.6 962.3h0M1087.3 945.6h0M1068.2 950.8h0M1016.8 955.5h0M1037.1 958.4h0M1084.1 955.1h0M1068.3 950.2h0M1064.5 955.2h0M998 950.6h0M1014.2 952.9h0M1006.5 960.2h0M1032.7 945h0M1066.4 952h0M1026.1 958.4h0M1069.8 955.7h0M985.3 955.1h0M1030 943h0M958.7 961.7h0M1005.9 953h0M1020.3 961.8h0M1016.9 958.7h0M1061.3 947.2h0M1085.3 957.5h0M1092.6 959.1h0M1061.9 962.8h0M1062.3 958.9h0M1045.3 956.5h0M995.6 953.3h0M1009.9 954.1h0M1093 963.9h0M946.8 944.6h0M1047.3 954.7h0M996.8 945.1h0M1082.6 961.4h0M1011.8 961.9h0M1068.3 945.4h0M1082.3 951h0M1036.5 964h0M1018.8 945.8h0M1080.1 948.8h0M1029.3 947.9h0M1082.8 958.3h0M1032.6 946h0M1033.9 961.7h0M1057.7 962.2h0M1096.6 946h0M1061.5 955.1h0M1025.1 960.9h0M1004.9 956.1h0M1085.4 952h0M1050.6 955.9h0M1044.7 953.5h0M1012.4 945.8h0M1094.4 955.5h0M1004.7 950.8h0M1044.8 950.6h0M982.7 963h0M1075.4 946.2h0M1064.1 953.4h0M1086.8 949.7h0M1070.4 957.1h0M1050.2 946.3h0M1083 946.6h0M1097.7 957h0M1036.3 950.3h0M1064.4 962.8h0M984.7 952.7h0M1011.9 952.7h0M1004.6 948.1h0M1014.6 943.8h0M1025.9 960.8h0M1012.8 961.6h0M1027.1 954.9h0M1044.6 964h0M1037.9 945.3h0M996.4 951.1h0M1004.6 944h0M1033.4 949.9h0M1024.9 956.1h0M1029.9 948.6h0M1059.8 963.9h0M1081.2 956.5h0M1010.7 943.7h0M1033.4 956.7h0M1062.6 942.8h0M1044.4 953.8h0M1043.5 962.4h0M1047.5 946.3h0M998.9 953.1h0M1038.1 960.2h0M1023.2 957.3h0M1043.7 964.2h0M974.2 962.2h0M1001.7 945.8h0M1095.4 951.6h0M1030.1 963.7h0M1057.3 956h0M1076.3 955.7h0M1003.3 947.7h0M1014.2 953.4h0M1013.2 955.6h0M1073.9 951.1h0M1004 964h0M1073.4 955.2h0M1076.7 960.6h0M1016.9 957.1h0M1049.4 948.9h0M1056.1 958.8h0M995.9 947.7h0M1009 946.9h0M1079.5 963h0M1047.4 959.9h0M1023.5 963.6h0M1032.8 953.1h0M1016.8 962h0M1025 945.4h0M1084.1 962.1h0M1078.4 950.7h0M1008.1 952h0M1046.2 943.7h0M1077.3 943.9h0M995.8 954.3h0M1040.3 955.8h0M1054.2 963.5h0M1056.4 946.8h0M983.4 958.2h0M1014.2 946.2h0M1061 961.5h0M1077.4 963.4h0M1074.8 952.5h0M1020.1 942.8h0M1040.5 954.1h0M1022.4 964.4h0M1079.9 953.2h0M1082.8 952.6h0M1012.6 943.2h0M1083.4 953.5h0M991.7 964.3h0M1049.2 950.3h0M1024.9 952.1h0M1018.6 947.8h0M1051.3 954.3h0M1008.3 960.7h0M1055.8 957.5h0M1077.5 964.5h0M1051.1 957.2h0M991.6 951h0M988.3 944.4h0M994.8 954.4h0M996.2 956.4h0M1020.7 943h0M1011.5 951.1h0M1027.5 955.9h0M1061.9 960.2h0M1057.6 951.3h0M1040.2 946.8h0M1085.4 958.5h0M1061.2 950.5h0M1043.5 944.2h0M1009.7 963.4h0M1056.8 953.1h0M1075.4 963.1h0M1091 947.3h0M1056 960.1h0M1086.7 958.3h0M1056.7 946.6h0M1023.5 944.3h0M1062.5 948.7h0M1091.5 944.4h0M1061.3 949.5h0M1074.3 964.3h0M1024.1 953.9h0M1058.5 947.3h0M1044 944.2h0M1046.3 951.2h0M1045.3 952.6h0M1055.4 944.1h0M1072.8 961.8h0M1025.1 953.1h0M1038.2 959.7h0M1033.2 961h0M1011.5 959.3h0M1035.2 962.2h0M1069.1 963.5h0M1067.6 951.2h0M1039.3 942.9h0M1066.9 956h0M1028.2 962.2h0M1048.5 947.7h0M987.2 960h0M1004.4 961.5h0M1005.6 962.9h0M1026.2 963.2h0M1015 962.6h0M1084.2 953.1h0M1004.8 950.4h0M1055.7 964.1h0M1062.5 951.8h0M956.3 1023.7h0M985.4 1042.7h0M1014.3 1023.5h0M1014 1026.4h0M1028.7 1040.6h0M1055.8 1031.4h0M1027 1027.1h0M1061.9 1035.9h0M1079.6 1030.4h0M960.2 1030.3h0M930.9 1032.1h0M1024 1022.1h0M976.8 1043.7h0M1057.3 1022.9h0M974.8 1040.1h0M1046.4 1041.4h0M1078.7 1039.6h0M1013.5 1035.2h0M1023.5 1039.1h0M979.3 1039.4h0M1018 1028.2h0M961.6 1037.3h0M1008.6 1035.2h0M1068.2 1041.3h0M989.1 1028.9h0M1028 1027.9h0M954.4 1043.1h0M992.5 1030.6h0M1062.6 1029.5h0M1093.2 1023.8h0M1030.4 1037h0M954.4 1027.8h0M940.3 1034h0M968.7 1029.7h0M1005.5 1025.5h0M1049 1034.1h0M1042.6 1031h0M987.9 1029.5h0M1074.7 1028.5h0M1044.4 1040.2h0M1014.6 1028h0M1029.7 1026.8h0M1079.6 1024.9h0M1008.7 1027.6h0M1088 1027.7h0M982.7 1042.4h0M1055.9 1023.1h0M1044.6 1031h0M991.2 1034.6h0M1067.3 1027.5h0M962.8 1026.1h0M951 1043.8h0M930.7 1042.5h0M1042.6 1041.3h0M979.1 1033.2h0M1051.6 1031.1h0M1016.8 1030h0M1080.1 1026.4h0M1027.8 1033.1h0M1078.8 1024.7h0M1062.9 1025.2h0M1078.4 1031.9h0M1075.5 1038h0M1062.1 1041.9h0M978.8 1041.5h0M931.1 1024.8h0M1004.3 1031.9h0M1048.6 1032.2h0M983.7 1026.1h0M965.9 1032.6h0M1060.3 1043.2h0M1073.7 1040.6h0M927.4 1028.9h0M1000.8 1023.8h0M1060.8 1028h0M1039.5 1041.5h0M980.7 1025.4h0M979.9 1039.1h0M979.2 1029.6h0M1045.9 1041.7h0M943 1037.9h0M1056.2 1028.8h0M944.9 1039h0M1061.6 1037.3h0M1012.6 1041.6h0M1082.3 1032.6h0M1038.2 1032.7h0M1057.5 1034.7h0M1020.2 1028h0M1030.6 1025.7h0M966.7 1022.5h0M1070 1024.7h0M1059.7 1027.3h0M1022.3 1022.1h0M1021.2 1040.8h0M1048.6 1037.4h0M946.8 1043.5h0M1031.4 1037.4h0M1031.3 1043.5h0M1026.8 1042.6h0M922.5 1029.3h0M1075 1027.7h0M937.8 1027.9h0M1015.7 1031.8h0M980 1043.2h0M961.5 1024.4h0M1054 1035.2h0M963.2 1040.5h0M951.2 1033.9h0M975 1030.3h0M991.2 1032.2h0M999.9 1024.6h0M1051.3 1039.2h0M1077.7 1037.8h0M1036.1 1022.1h0M956.9 1034.4h0M971.3 1023.2h0M992.1 1027h0M1064.6 1039.4h0M978.4 1028.4h0M1058.9 1040.9h0M1016.3 1036.3h0M1075.9 1031.4h0M1041 1027.6h0M962.2 1036.7h0M951.8 1036.1h0M971.5 1022.6h0M990.2 1040.6h0M1016.1 1037h0M1070.3 1030.9h0M1068.9 1037.4h0M1029.4 1043h0M1043 1024.4h0M971.5 1039.6h0M956.7 1023.3h0M936.9 1032.5h0M1035.4 1023.4h0M1011.6 1026.9h0M1067.4 1025.5h0M884 1041.8h0M995.7 1035.8h0M953.3 1032.4h0M1059.4 1024.2h0M945.9 1026.9h0M1004.3 1022.4h0M926 1041h0M948 1034.2h0M932.8 1032h0M1034.5 1024.3h0M962.6 1038.7h0M1003.9 1025.1h0M1033.6 1033.3h0M930.2 1032.3h0M972.5 1037.5h0M1031 1042.1h0M980.4 1030.8h0M1043.3 1040.5h0M935.1 1035.3h0M996.9 1027.8h0M961.9 1042.7h0M1050.7 1037.1h0M994.8 1040h0M940.2 1029.4h0M1033.4 1031.1h0M981.8 1033.1h0M1006.2 1042.6h0M1035.3 1024.6h0M1018.4 1023.7h0M961.8 1031.7h0M1003.9 1035.9h0M979.3 1028.3h0M1056.1 1038.1h0M1029.9 1033.3h0M1028.5 1024.5h0M1069.5 1023h0M1074.2 1023.1h0M1056.6 1027.5h0M988.6 1043.9h0M945.4 1029.7h0M995.7 1035.2h0M1057.6 1023.7h0M1019 1037.4h0M1011.1 1028.8h0M936.6 1038.4h0M1057.6 1023.5h0M1064.2 1025.5h0M1033.5 1026.7h0M933.4 1036.7h0M1000.6 1023.7h0M952.6 1025.4h0M962.2 1023.7h0M938.2 1022.8h0M960.5 1030.1h0M1007.9 1042.2h0M1028.7 1041.7h0M1023.5 1022.2h0M972.1 1024.6h0M1024.4 1036.4h0M991 1034.6h0M884 1028h0M942.3 1039.4h0M984.4 1035.2h0M978.6 1036h0M1001.8 1024.7h0M944.6 1040.9h0M1040.1 1041.2h0M964.6 1031.4h0M941.9 1022.4h0M1004.4 1024.2h0M954 1043.3h0M1065.3 1037.6h0M978.4 1024.7h0M992.9 1025.4h0M1041.6 1040.3h0M963.9 1041.4h0M982.3 1030.2h0M1038.2 1027h0M983.1 1043.5h0M948.8 1039.4h0M1027.7 1033.9h0M938.8 1028.9h0M1051.6 1043.4h0M1065.3 1022.8h0M986.4 1038.8h0M1009.5 1026h0M1001.8 1022.2h0M1077.6 1031.1h0M1054.9 1036.2h0M1050.1 1035.7h0M995.7 1042.2h0M1079.7 1041.1h0M973.8 1043.6h0M989 1033h0M931 1030h0M931.7 1027.7h0M1007.5 1023.1h0M1000.9 1030.8h0M930.5 1023.3h0M1056 1040.8h0M1002.3 1030.5h0M919.6 1038.1h0M950.3 1033.7h0M884 1032.7h0M949.8 1040.8h0M996.1 1024h0M1031.7 1035.1h0M1007.4 1042.8h0M1058.5 1027.1h0M987.6 1025.5h0M1012.1 1027.6h0M1061.6 1039.9h0M929.4 1040.1h0M1043.1 1042.6h0M1071.3 1038.4h0M972.5 1026.1h0M959.1 1043.5h0M979.8 1036.4h0M940.1 1038.7h0M935.9 1024.9h0M998.8 1039.2h0M976.3 1024.9h0M995.3 1023.6h0M934.3 1034.7h0M932.2 1037.9h0M1043.8 1029.5h0M985.1 1033.9h0M981.1 1039h0M979 1030.1h0M983.4 1036.3h0M1022.8 1024.1h0M1048.2 1036.4h0M975.6 1038.9h0M965.3 1023.3h0M991 1029.6h0M1061.8 1034.5h0M1000.7 1028.2h0M982.7 1038.3h0M965.3 1022h0M929.5 1023.2h0M1027.1 1029.7h0M1077.7 1036.8h0M973.9 1042.4h0M1071 1024.7h0M989.9 1029.8h0M963.2 1042.4h0M953.4 1027.1h0M944.1 1023.3h0M1067.4 1023h0M1075.6 1042.8h0M996.8 1040.9h0M928.9 1036.2h0M1091.1 1026.9h0M1027.4 1042.3h0M1057.9 1039.6h0M1009.9 1043h0M924.3 1024h0M1029.5 1030.9h0M1004.5 1034.9h0M1072.7 1034.9h0M1010.8 1038.2h0M961.5 1040.8h0M1042.4 1036.5h0M1010 1032h0M999.1 1037.2h0M1044 1041.3h0M954.9 1024h0M1046.1 1030.4h0M955.3 1035.6h0M921.2 1041.9h0M961.6 1042.8h0M949.8 1027.3h0M1022.6 1030.7h0M1012.2 1032h0M1001 1028.8h0M1022.4 1023.9h0M972.9 1022h0M1011.1 1025.6h0M1027.5 1028.9h0M953.3 1037.6h0M1067.8 1035.3h0M1088.4 1040.8h0M1025.1 1029.4h0M1046.6 1037.1h0M988.3 1039h0M931.1 1040.5h0M1011.6 1022h0M1074.5 1043.8h0M965.4 1039.2h0M977.9 1035.2h0M969.1 1021.9h0M949.1 1031.2h0M931.9 1025.7h0M909.2 1022.5h0M947.8 1034.4h0M1058.5 1025.8h0M951.8 1043.3h0M1039.1 1024h0M1023.7 1032h0M951.6 1042.9h0M931.2 1031.9h0M948.3 1041.5h0M947 1043.7h0M939.3 1022.6h0M947.5 1042.9h0M1069.7 1034.6h0M997.6 1023.1h0M1009.9 1032.1h0M1008.8 1022.1h0M1028.7 1025.6h0M1079.6 1039.4h0M995.7 1042.6h0M1030.6 1040.9h0M994.5 1036.4h0M1024 1041h0M1059.7 1036.3h0M937.5 1022h0M1076.2 1043.3h0M1038.6 1028.3h0M991 1026.7h0M991.7 1042.6h0M1046.6 1036.7h0M959.4 1039.4h0M934.6 1038.3h0M989.3 1025.8h0M952 1041.1h0M956.9 1035.8h0M1022.3 1026.6h0M1022.2 1036.1h0M947 1038.5h0M956.4 1040.3h0M946.2 1023.2h0M1073.1 1041.5h0M1006.6 1029.2h0M990.4 1039.3h0M998.9 1023.3h0M1013.3 1023.5h0M982.4 1039.1h0M1034.7 1038.1h0M977.7 1029.2h0M962.9 1035.5h0M1078.3 1022.7h0M970.7 1033.3h0M1002.4 1040.2h0M995.7 1033.7h0M1065.1 1038.8h0M884 1023.8h0M1040.5 1033.2h0M1042.7 1038.8h0M1090.9 1035.7h0M953.8 1023.9h0M1009.3 1034.4h0M1070.6 1024.4h0M1086.9 1028.3h0M1040.7 1037.3h0M1036.7 1034.2h0M987 1043.5h0M1064.5 1025.4h0M1009.7 1024.6h0M884 1038.2h0M1000.5 1036.5h0M1045.1 1032.2h0M1036.8 1030.7h0M966 1036.8h0M950.1 1028.2h0M933.5 1030.6h0M939.2 1021.9h0M1037.1 1030.5h0M944.3 1035.6h0M1032.9 1026.2h0M1027.9 1038.5h0M956 1041.8h0M1018 1029.8h0M953.6 1031.4h0M1084 1035h0M947.7 1043.4h0M955.1 1030.5h0M1071 1031h0M1062.2 1042.3h0M1076.6 1031.3h0M1061.2 1023.8h0M1036.1 1028h0M954.7 1038.7h0M1074.2 1040h0M1022.8 1040h0M961.1 1040.4h0M1034.6 1033.2h0M1041.4 1031.6h0M1083.7 1027.3h0M1050.9 1026h0M941.4 1035.6h0M949.5 1036h0M1012.9 1022.5h0M1047.3 1034.2h0M1026.9 1043.4h0M947.3 1028.4h0M1045.5 1024h0M984.3 1043.9h0M976.5 1022.9h0M955.8 1040.8h0M1074.6 1031.2h0M1078.3 1032.3h0M946.7 1038.8h0M969 1038h0M939.1 1034.2h0M933.8 1036.9h0M947.1 1026.1h0M975.5 1032h0M1023.6 1034h0M991.3 1038h0M971.4 1037.2h0M1023.5 1024.1h0M981.1 1030.7h0M1033 1033.5h0M949.7 1025.1h0M1066 1025.5h0M999.9 1022.8h0M964.1 1031.6h0M1014.6 1023.2h0M952.8 1030.8h0M1027 1026.6h0M922.2 1031h0M988.7 1029.2h0M929.6 1040.6h0M1052.1 1042.9h0M953.6 1041.5h0M1014.6 1025.9h0M956.1 1038.3h0M977.5 1022.3h0M961.3 1035.4h0M993.3 1026.3h0M970.8 1031h0M1079.3 1033.8h0M1027.6 1043.9h0M1028.9 1025.3h0M939.7 1029.9h0M1073.2 1024.9h0M986.1 1033.1h0M1065.5 1032.8h0M953.6 1039.1h0M1012.6 1035.5h0M972.5 1036.4h0M1029.3 1034.3h0M962.7 1028.5h0M976.4 1037.6h0M1076 1024.8h0M1062.7 1031.3h0M1030.8 1036.6h0M1011.1 1029.6h0M1057.2 1026h0M1036.7 1038.8h0M1021.7 1042.9h0M981.7 1033.1h0M1000.5 1026.4h0M1060.7 1029.7h0M1045.5 1042.2h0M986.2 1027.7h0M955.7 1037.9h0M976.6 1038.5h0M1050.3 1035.6h0M1075.3 1029.3h0M1042.1 1028.6h0M993.4 1038h0M934 1035.7h0M1011.9 1043.7h0M1041.1 1037.5h0M1019.3 1032.1h0M1043.3 1040.1h0M936.7 1043.3h0M975.7 1035.6h0M1068.6 1040.2h0M981.3 1026.4h0M924 1024.1h0M989.9 1034.3h0M1075 1036.7h0M1072.2 1023.3h0M1048.5 1031.5h0M1048.3 1039.8h0M1023.6 1022.6h0M999.6 1040.8h0M961.6 1028.2h0M1074.3 1032.1h0M970.8 1025.6h0M991.1 1037.4h0M977.5 1025.2h0M968 1032.4h0M927.5 1031.6h0M998.6 1025.7h0M943.5 1042.8h0M991.6 1039.5h0M1082 1024.1h0M937.7 1032.1h0M968.9 1022.2h0M936.7 1043.2h0M1055.8 1034.4h0M1015.5 1039.7h0M1050.4 1040.9h0M956.1 1024.2h0M1045.3 1027.2h0M1036.9 1036h0M985.9 1026.8h0M955.9 1027.3h0M946.1 1028h0M975.2 1028.9h0M974.5 1026.4h0M1077 1041.1h0M952.7 1029.1h0M990.4 1036.5h0M930.8 1040.9h0M1057 1030.9h0M994.5 1024.8h0M922.6 1042.8h0M988.1 1035.4h0M971.9 1041.9h0M1061 1042h0M1073.6 1032h0M1054.8 1035h0M934.2 1033.4h0M967 1027.3h0M1043.5 1025.7h0M963.4 1023.3h0M1056.7 1043.3h0M995.3 1034.7h0M1010.3 1039h0M972.8 1035.6h0M1060.7 1029.6h0M939.6 1041.2h0M1012.8 1022.3h0M1056.8 1029.8h0M993.8 1032.3h0M1060.2 1038.1h0M930.5 1029.1h0M1005.1 1035.9h0M943 1039.1h0M939.1 1027h0M1009.6 1030.2h0M1013.1 1030.4h0M1006.3 1024.7h0M1062.7 1023.7h0M980.3 1024.6h0M939.4 1023h0M1040.6 1035.9h0M1062.4 1029.9h0M1026.1 1026.5h0M1013.5 1029.6h0M943.8 1027.1h0M974.9 1037h0M970.9 1037h0M938.3 1043.5h0M992.4 1043.2h0M957.2 1023.7h0M955.2 1038.2h0M985.1 1031.2h0M1079.6 1026.4h0M1027.7 1030.3h0M980.7 1032.3h0M994.1 1040.4h0M1003.1 1027.6h0M952 1022.8h0M947.3 1039.6h0M999.8 1035.2h0M975.3 1031.7h0M995.4 1043.7h0M1084.2 1035.2h0M966.6 1029h0M1016.7 1036.4h0M1045.7 1043.4h0M1012.6 1043.3h0M966.1 1031.5h0M967.3 1030.8h0M934.8 1027.2h0M965.5 1039.1h0M969.9 1042.6h0M960.5 1023.6h0M929.6 1039h0M1075.5 1023.7h0M976.9 1023.7h0M1079.3 1025.2h0M1094.9 1041.1h0M966.6 1037.6h0M955.8 1029.4h0M1042.9 1041.8h0M1030.4 1023.8h0M954 1028.6h0M1006.7 1035.6h0M979.8 1022.5h0M1080.2 1030.5h0M969.9 1034h0M1073.7 1041.9h0M977.4 1040h0M1062.2 1025.4h0M1056.2 1036.4h0M1043.1 1022.6h0M1032.3 1026h0M934.4 1037.5h0M972.7 1041.2h0M1062.7 1041.4h0M953.4 1043.8h0M1057.7 1025.8h0M1058.1 1036.3h0M966.5 1024.1h0M957.3 1033.1h0M976.9 1026.7h0M1042.7 1026h0M1050.5 1026.2h0M961.2 1025.5h0M1045.8 1035.7h0M1008.8 1022h0M1016.4 1036.2h0M1031.9 1039.7h0M1075.8 1022.4h0M950.7 1027.1h0M1021 1036h0M953.7 1032.6h0M1048.7 1023h0M980.2 1028.9h0M930.4 1041.7h0M963.7 1033.2h0M967.9 1026.6h0M1014.6 1042.2h0M983.2 1042.2h0M1029.6 1037.7h0M940.5 1029.3h0M1060.9 1027.1h0M977.5 1042.1h0M1043.2 1042.5h0M958.3 1027.3h0M970.9 1032h0M940.2 1036.8h0M1019.6 1038.9h0M950.7 1040.7h0M992 1028.5h0M981.8 1024.1h0M1060.8 1040.5h0M965.2 1024h0M1039.9 1036.2h0M1012 1023.9h0M959.6 1039.8h0M1061.5 1030.4h0M1022.6 1123h0M964 1103.4h0M1037.8 1118.4h0M1062.7 1119.8h0M949 1110.3h0M1097.4 1119.8h0M1043 1105h0M1046 1116.6h0M997.7 1111.9h0M1102.7 1121.5h0M1081 1122.8h0M884 1116.2h0M1093.7 1108.7h0M1076.2 1118h0M968.1 1111.7h0M1061.9 1109.6h0M1036.2 1116.8h0M1052.1 1114.1h0M1058.3 1111.8h0M1036.7 1113h0M1078.3 1110.3h0M1089.1 1117.4h0M1089.8 1120.7h0M1035.2 1104.1h0M1075.4 1114h0M1031.3 1115.9h0M1086.1 1121.9h0M1052.2 1118.5h0M1076 1120.7h0M964.9 1121.7h0M1080.8 1109.6h0M1030.7 1109h0M1054.7 1114h0M1047 1110.4h0M1021.4 1116h0M1075.2 1114.4h0M1089.7 1104.9h0M995.9 1114.6h0M1040.3 1113.1h0M1036.4 1122.4h0M1034.2 1114.5h0M1067.9 1105.9h0M1027.3 1103.6h0M1036.8 1108.2h0M1060.1 1119.6h0M1063 1116.4h0M1071.7 1105.9h0M1032.7 1114.7h0M1062 1122.4h0M1066.4 1115.8h0M953.6 1121.2h0M1104.3 1107.4h0M999.4 1114.2h0M1123.9 1107.6h0M1016.1 1115.9h0M1081.5 1103.6h0M1026.3 1103.9h0M1044.9 1114.2h0M1051 1106.8h0M1079 1103.4h0M1087.7 1119.4h0M1001.4 1113.7h0M1053.3 1118.1h0M1033.7 1102.6h0M1081.5 1109.2h0M1038.9 1104.8h0M1025.5 1122.3h0M1052.6 1121.9h0M1030.6 1109.9h0M1047.5 1116.6h0M1056.1 1101.8h0M1021.9 1121.9h0M1090.2 1122.2h0M1027.8 1121.7h0M1044.4 1109.5h0M1088.8 1102.3h0M1050.9 1107h0M1079.2 1107.7h0M1061.8 1121.7h0M1035.8 1116.2h0M1079.9 1106h0M1054 1106.3h0M1031.8 1108h0M1071.2 1115.5h0M1090.8 1118.8h0M1012.7 1107.6h0M1004 1114.7h0M964.2 1111.7h0M1047.3 1113.5h0M937.3 1106.4h0M1075 1111.9h0M1024.2 1118.3h0M1082.8 1111.9h0M1065.4 1105.2h0M1078.8 1119.2h0M1035.2 1112.5h0M1025.7 1111.5h0M999.5 1114h0M1067.3 1112h0M1043 1122.5h0M1089.4 1111.2h0M1047.6 1101.5h0M1078.7 1122.8h0M1066 1121.6h0M1076.5 1115.4h0M1047.2 1110.3h0M1053.3 1120.1h0M998.6 1101.3h0M946.4 1109.4h0M1077.9 1120.4h0M1024 1112.6h0M1077.5 1103.8h0M1045.3 1118.1h0M1033.4 1104.9h0M1051.6 1111.9h0M1037.9 1112.1h0M942.7 1116.8h0M1035.4 1121.6h0M1038.3 1118.5h0M1015 1118.5h0M996.4 1109.2h0M1033.3 1114h0M1085.4 1108.5h0M1042.4 1116.6h0M1038.9 1102.4h0M1027.8 1121.2h0M1056.6 1102.2h0M1020.2 1120.9h0M1090.1 1116.1h0M1053 1110.2h0M1034.9 1111.1h0M1072.8 1112h0M990.4 1104.2h0M1055.5 1118.3h0M1039.4 1102.9h0M1110 1112.8h0M1027.5 1105.8h0M1022.4 1109.7h0M1086.6 1114.9h0M1077.5 1122.9h0M933.2 1104.2h0M1079.9 1107.8h0M1070.3 1102.7h0M1077.7 1120.7h0M1064.4 1102.8h0M1034.8 1121.8h0M1047.2 1117.3h0M1101.6 1104.2h0M1078.6 1114.5h0M1019.7 1118.3h0M1048.6 1115.5h0M1038.5 1120.9h0M953.2 1110.5h0M1026.5 1113.9h0M1080.3 1110.7h0M952.2 1108h0M1028.5 1109.4h0M1085.2 1112.8h0M942.2 1103.2h0M1050.6 1102.2h0M1045.6 1107h0M1076.6 1120.3h0M1069.3 1117.1h0M1022.7 1118.4h0M1075.8 1106.6h0M1097 1110.9h0M1052.6 1108.5h0M982.9 1119.6h0M1074.3 1114.7h0M1108.3 1122.9h0M1050.7 1113.7h0M1109.9 1119.1h0M1036.7 1117.5h0M1046.8 1109.7h0M1079.3 1118.1h0M1055.3 1114.6h0M1048.9 1114.6h0M1047.9 1110.6h0M995.1 1110.4h0M999.2 1113h0M1045.5 1115.9h0M1042.9 1115.9h0M967.2 1119.4h0M1037.6 1107.2h0M1062.7 1116.5h0M1060 1110.1h0M1021.2 1116.1h0M965.7 1103.9h0M1049.8 1122.8h0M1031.9 1118.4h0M1023.6 1121.5h0M1023.3 1118.4h0M1101 1105.7h0M1032.9 1112.9h0M1016.8 1108.1h0M1049.9 1101.2h0M1034.4 1118.8h0M1045.1 1113.1h0M1072.4 1108h0M1075.3 1115.5h0M1033.2 1119.5h0M1056.9 1119.4h0M1020.5 1104.4h0M1024.1 1105.1h0M1028 1110.4h0M944.1 1107.7h0M1041.5 1104.9h0M1039.2 1106.6h0M1005.7 1109.6h0M1076.5 1113.7h0M966.9 1123.1h0M1089.6 1114.5h0M1076 1118.4h0M989.1 1102.4h0M1067.9 1106.2h0M1050 1116.5h0M1032.3 1118.3h0M995.5 1237.6h0M1037.6 1222.2h0M1059.5 1226.5h0M953 1238.6h0M1026.2 1227.1h0M981.8 1223.5h0M978.9 1236.3h0M999.6 1226.3h0M945.8 1240.2h0M938.5 1240.3h0M942.2 1229.4h0M1077.5 1234.8h0M996.6 1233.9h0M998 1237.6h0M1021.4 1231h0M1037.8 1239.8h0M984.7 1228h0M956.3 1239.1h0M1056.8 1233h0M1074.4 1220.9h0M997.6 1229h0M1004.5 1234.7h0M1014.6 1241.9h0M1001.3 1231h0M1045.5 1224.1h0M959.2 1232h0M995.4 1220.6h0M1023.9 1230.7h0M991.1 1225.2h0M1055 1222.7h0M996.8 1231.2h0M1016.8 1224.3h0M984.9 1226.9h0M946 1239.9h0M932 1229.6h0M927.2 1230.2h0M1030.3 1229.3h0M1035.4 1227.2h0M937.7 1220.8h0M984.6 1235.1h0M1077.4 1239.3h0M1023.5 1242h0M1048.6 1226.2h0M938.9 1233.2h0M961.7 1235.4h0M944.9 1225.1h0M1007.5 1230h0M1061.8 1236.4h0M1070.6 1230.9h0M967.9 1222.3h0M987.4 1220.7h0M993.5 1221.9h0M1055.4 1223.4h0M1006 1235.7h0M996.5 1222h0M942.7 1235.5h0M1051.1 1239.9h0M974.6 1230.4h0M1019.3 1228.1h0M1045.9 1228.2h0M1019.2 1238.2h0M1064.9 1223.4h0M954 1240.2h0M1067.6 1240.7h0M1017.3 1227.9h0M987.4 1222.7h0M1078.8 1224.2h0M994 1224.4h0M988.3 1226.1h0M995.5 1225.2h0M985.3 1222.4h0M979.2 1234.7h0M1069.8 1222.9h0M964.1 1238.4h0M990.8 1233.7h0M1037.9 1232.7h0M1012.6 1241.6h0M1090.1 1226.2h0M955.2 1236.8h0M1038.5 1238.2h0M1028.4 1226.4h0M1000.6 1225.7h0M1034.8 1240.8h0M988 1227.8h0M974.6 1220.4h0M1024.9 1229.1h0M1035.1 1227.4h0M1002.2 1232.1h0M1012.5 1237.9h0M990 1221.1h0M995.4 1237.3h0M944.4 1224.9h0M1047.5 1232h0M989.8 1223.5h0M1009 1230.4h0M1090.4 1224.4h0M1051.2 1229.4h0M1013.2 1224.8h0M973.3 1227.8h0M1026.5 1241.3h0M939.1 1239.7h0M974 1230.4h0M996.2 1228.9h0M953 1239.3h0M968.7 1241.5h0M979 1221.9h0M959.1 1235.7h0M1046.4 1223.4h0M1037.9 1228.6h0M993.5 1237.9h0M1051.6 1240h0M1051.5 1240.7h0M1026.3 1230.7h0M1027.2 1240.3h0M991 1227.4h0M932.4 1223.8h0M1070 1228.9h0M1028.6 1240.9h0M960.7 1235.6h0M998.7 1239.3h0M989.1 1241.7h0M1072.8 1232.6h0M977.6 1221.8h0M1088.5 1241.5h0M1055.9 1220.8h0M934.6 1240.8h0M1000 1236.9h0M1060.9 1220.6h0M1029.6 1237.6h0M984.5 1239.5h0M948.3 1220.7h0M942.1 1226.3h0M1062.4 1237.9h0M1028.6 1223.9h0M989.3 1225.5h0M1033.1 1236.6h0M1044.2 1232.2h0M1063.1 1240.1h0M936.6 1231.2h0M999.1 1224.7h0M1017.1 1222.4h0M1033 1235.2h0M961.7 1241h0M1068.9 1232.4h0M1005.9 1231.9h0M942.1 1236h0M1040 1237h0M962.9 1230h0M972.6 1241.3h0M1025.8 1226.4h0M952.4 1229.6h0M1028 1221.3h0M939.2 1242h0M952.6 1239.5h0M949.2 1226.8h0M996.8 1235.5h0M1045.3 1230.5h0M995.5 1220.1h0M1075 1220.8h0M983.1 1220.4h0M968.7 1229.4h0M1077.1 1225.4h0M1017.9 1241.7h0M939.8 1241.9h0M980.7 1231.3h0M956.3 1232.9h0M1032.4 1240.5h0M952.1 1221.7h0M1063.3 1240.2h0M1001.2 1236.4h0M1033.1 1222.6h0M971 1221h0M1050.1 1240.7h0M975.9 1230.3h0M1018.8 1220.6h0M961.6 1227.7h0M1043.1 1220.4h0M1030.8 1236.7h0M1057.4 1229.3h0M969.6 1239.9h0M1068.2 1229.1h0M1095.6 1230.2h0M1036.4 1238.1h0M1033.2 1235.5h0M1074 1227.3h0M1052.5 1225.1h0M1027.8 1230.9h0M1017.4 1241.1h0M1075 1221.7h0M1039.7 1233.2h0M1004.8 1235.8h0M991.5 1229.3h0M1034.6 1226.8h0M1038.4 1222.2h0M1056.9 1236.9h0M952.4 1236.4h0M999.9 1240.7h0M1095.2 1233.5h0M995.5 1235h0M940.5 1223.2h0M953.6 1230.8h0M1016.5 1222h0M983.7 1227.5h0M968.9 1227.7h0M970.6 1233.1h0M985.9 1230h0M1062.6 1226.6h0M955.2 1235.1h0M942.6 1224.2h0M956.4 1226.6h0M1031.2 1228.4h0M1059.6 1238.3h0M971.5 1241.7h0M1044.3 1234h0M1036.1 1225.8h0M1037.9 1235.2h0M1086.5 1239.7h0M1005.6 1223.2h0M1063.1 1233.4h0M1074.3 1228h0M1055.4 1233.1h0M1069.9 1238.6h0M1004.6 1229.7h0M969.2 1236.9h0M1045 1241.2h0M884 1227.4h0M1000.4 1224.2h0M1027.8 1225.3h0M987.5 1221.6h0M1013.4 1240.4h0M1022.1 1227.9h0M1031.9 1221.8h0M1016.1 1221.1h0M966.6 1241.8h0M1062.6 1241.1h0M959.3 1235.3h0M1023.8 1230.6h0M991.9 1228.6h0M1005.5 1232h0M1032.5 1236h0M1033.8 1234.2h0M924.2 1226.5h0M962 1230.4h0M955.8 1221.6h0M996.6 1238h0M1041 1230.3h0M972.1 1235.4h0M1052.6 1228.4h0M990.8 1225.3h0M981.5 1240.3h0M1037.6 1223.4h0M1001.7 1222h0M1072.7 1228.1h0M1018.7 1222.5h0M1057.1 1242h0M947.8 1233.2h0M1058.7 1229.6h0M964.6 1227.4h0M955.7 1232.9h0M985.8 1236.7h0M986.5 1221h0M937.3 1238h0M1034.3 1240.2h0M938.3 1228.6h0M968.3 1229.2h0M1000.4 1221.7h0M979.8 1234.9h0M957.9 1227h0M1041.5 1237h0M1008.3 1223h0M976 1224h0M1053.7 1239.6h0M963.3 1236.3h0M963.5 1226.7h0M992.6 1223.9h0M1014.8 1233.6h0M1041.5 1233.2h0M927 1221.9h0M1017.6 1234.6h0M1046.6 1240.4h0M1001.3 1232.4h0M955.6 1229.6h0M941.6 1229.9h0M981 1236.5h0M1038.8 1226.2h0M1013.8 1234.6h0M1043.2 1226.7h0M1024.4 1223.3h0M1048.3 1223.1h0M1008.7 1238.9h0M990.5 1223.4h0M1009.2 1226h0M960 1234.9h0M1049.2 1227.6h0M944.7 1220.1h0M973.9 1229.5h0M1066.2 1237.2h0M990.3 1236.4h0M1016 1226.1h0M988.4 1220.9h0M976.6 1228.6h0M1044.6 1230.6h0M1071 1233.8h0M972.6 1234.2h0M947.7 1228.3h0M1047.4 1230.5h0M1016 1238.7h0M982 1231.3h0M951.7 1232.3h0M1062 1235.2h0M1008.3 1241.2h0M1027.6 1229.8h0M1021.8 1233.4h0M949.6 1223.6h0M971.8 1237.6h0M976.3 1237.3h0M949 1232h0M987.8 1233.2h0M1079.6 1224.2h0M987 1220.7h0M1072.2 1231.7h0M926.6 1226.1h0M1000.6 1234.8h0M1037 1239.5h0M884 1238.1h0M953.6 1239.2h0M1072.1 1223.1h0M1042.7 1233.9h0M1059.7 1224.4h0M1064.9 1239.7h0M947 1220.4h0M1014.2 1236.5h0M957.5 1221.1h0M1033.4 1237.7h0M1021.9 1221.8h0M949.8 1234.8h0M1053.1 1241.7h0M1089.7 1223.1h0M927 1235.3h0M964.5 1228.6h0M1054.1 1226.9h0M963.4 1226.6h0M937.4 1229h0M1078.9 1223.2h0M1066.5 1233.1h0M923.7 1228.5h0M964 1227.3h0M985.9 1227.7h0M940.2 1226.8h0M956.9 1241.8h0M925 1235.3h0M1025.8 1228.6h0M1057.6 1221.8h0M1012.8 1229.5h0M993.3 1220.1h0M922.7 1238.9h0M1009.7 1237.1h0M1021.6 1234.1h0M1042.9 1232.5h0M989.3 1226.9h0M1031 1236.9h0M1047.2 1228h0M940.4 1224.7h0M951.5 1231.3h0M963.3 1237.7h0M1066.5 1224.6h0M991.9 1234.1h0M951.3 1226.5h0M1019.6 1221.6h0M972.4 1235.6h0M1012.5 1232.9h0M1074.1 1233.9h0M1075.9 1222h0M924.3 1222.9h0M942.6 1227.3h0M1062.6 1228.6h0M1006.4 1236.8h0M1047.9 1239.8h0M940.7 1221.5h0M1064.2 1222.8h0M989.6 1239.8h0M1029.5 1233.9h0M950.4 1228.6h0M976.9 1229h0M1061.7 1224h0M1076 1236.6h0M938.3 1230.4h0M1057.5 1222.2h0M977.9 1239.7h0M1044.9 1228.1h0M1033.6 1234.6h0M1034 1220.1h0M926.1 1237h0M1001.2 1239.7h0M987.1 1239h0M973.6 1235.6h0M973.7 1232.8h0M1074.8 1233.9h0M988.8 1241.6h0M1025.1 1233.6h0M1063.4 1222.1h0M966.9 1237.2h0M1060.1 1234.8h0M988.7 1233h0M995.8 1226.3h0M1033 1241.6h0M1010.5 1225.2h0M1066.8 1226.9h0M1016.5 1239.7h0M1030.1 1221h0M996.1 1233.4h0M1027.1 1237.8h0M997.1 1239.1h0M1031.3 1234.3h0M1013.2 1231.5h0M1024.5 1240.7h0M994.7 1231.1h0M1036.6 1225.5h0M1079.1 1235.9h0M971.7 1223.8h0M1000.8 1234.9h0M1061.1 1238.5h0M1047.9 1227.7h0M1034.8 1235.1h0M1005.5 1222.4h0M960.8 1224.5h0M1007.4 1236.2h0M1085.4 1231.9h0M1078.9 1238.7h0M942.8 1228.7h0M1082.3 1235.2h0M969 1222.3h0M1094 1238.1h0M971.5 1232.6h0M1029.2 1235.6h0M884 1225.3h0M939.3 1231.7h0M977 1226.3h0M946.9 1227.5h0M1002.4 1225h0M1055.2 1224.8h0M994.9 1228.9h0M1048.7 1224.1h0M930.7 1231.5h0M976.8 1239.7h0M947.5 1222.9h0M1008.9 1227.8h0M929.4 1224.6h0M1076.1 1388.8h0M1086.4 1398.1h0M1136.1 1381.5h0M1107.7 1396.5h0M1087.6 1398.1h0M1133.8 1383.8h0M1125.5 1379.8h0M1097.8 1398.1h0M1084.6 1389.6h0M1050.6 1385.8h0M1113.9 1391.5h0M1112.5 1385.8h0M1067.9 1388.8h0M1056.6 1383.7h0M1143.1 1384.9h0M1098 1384.1h0M1103 1382.9h0M1069.4 1390.4h0M1106.5 1387.9h0M1099.9 1385.2h0M1100.1 1379.5h0M1077.6 1380.3h0M1085 1393.6h0M1090 1387.6h0M1100 1393.8h0M1080.5 1380.3h0M1087.8 1380.4h0M1077.7 1393h0M1083.3 1389.1h0M1095.1 1394.3h0M1095.7 1399h0M1101.4 1399.2h0M1123.5 1386h0M1144.8 1389.3h0M1068.3 1400.1h0M1067.9 1388.9h0M1065.2 1517.1h0M997.8 1497.9h0M1029.8 1504.5h0M1022.3 1498.7h0M1055.3 1505h0M1054.5 1514.9h0M1025.8 1502.5h0M1012.6 1510.7h0M1016.3 1506.2h0M1002.7 1510.6h0M1003.7 1511.6h0M1026 1510.7h0M1004.6 1515.1h0M1071.7 1507.4h0M1021.3 1509.4h0M1060.5 1505.3h0M1020.1 1511.2h0M995.7 1501.5h0M988.3 1500.6h0M1014 1515.1h0M1051.5 1513.8h0M1061.9 1500.6h0M987.3 1503.9h0M1077 1517.5h0M1030.2 1499.5h0M1069.3 1516.4h0M1046.6 1502.2h0M1059.6 1509.5h0M1014.1 1502.4h0M1027.4 1518.4h0M1024 1498.7h0M1021.2 1512.7h0M1009.6 1511.4h0M1017.6 1498.7h0M973.4 1516.9h0M1063.8 1509.8h0M1053 1501.1h0M986.3 1506.5h0M1029.1 1499h0M978 1500.9h0M987.7 1515.7h0M1053.3 1498.6h0M1010.3 1499.9h0M1014 1505h0M1054.3 1513.8h0M1036.8 1513.5h0M1071.1 1516.7h0M1037.6 1497.9h0M986.1 1502.5h0M1055.5 1516.4h0M988.9 1504.2h0M1077.6 1499.9h0M1049.4 1498.4h0M1051.2 1509.5h0M1005.3 1501.4h0M1013.2 1507h0M1026.7 1508.5h0M1001.5 1512.5h0M1014.7 1510.8h0M1002.5 1515.8h0M1037.9 1498.1h0M1000.6 1509.8h0M975.7 1506h0M1018 1510.1h0M986.6 1514.8h0M1015.5 1511.4h0M988.2 1498h0M1058.3 1517.3h0M1058.8 1508.3h0M1013.2 1508.5h0M1057.8 1503.8h0M993.9 1500.4h0M1068.7 1517h0M1062.1 1502.3h0M1045.4 1504.3h0M1044.5 1507.9h0M1012 1506.1h0M1027.7 1503.6h0M997.1 1514.9h0M987.9 1504.7h0M1051.1 1504.5h0M1047.2 1510.1h0M1043.2 1518.4h0M1062.5 1505.6h0M998.1 1499.9h0M991.2 1510.9h0M1056 1518.6h0M993.6 1503.4h0M1002.5 1502h0M1061.5 1504.9h0M1000.6 1513h0M1065.2 1516h0M1009.5 1508.6h0M1011.4 1510.7h0M1045.3 1498.1h0M1068.6 1500.1h0M993.9 1500.9h0M997.8 1515.9h0M992.9 1513.1h0M1042.5 1506.4h0M1017 1512.2h0M1063.4 1517.4h0M1031.6 1510.3h0M997.7 1502.4h0M1066.5 1501.6h0M1056.8 1508.4h0M1067.2 1509.1h0M1009.2 1507.4h0M1068.3 1501.1h0M1063.9 1511.2h0M1012.8 1516h0M1058.8 1513h0M1007.8 1516.5h0M1070.2 1518.7h0M1052.1 1500.6h0M1051.7 1511.9h0M1002.6 1507.5h0M966.2 1501.9h0M1040.7 1518.1h0M1028.5 1499.2h0M975.5 1519.1h0M884 1509.5h0M1005.8 1513.2h0M1016.6 1501.8h0M1068.9 1497.9h0M1040.8 1518h0M1014.7 1501.1h0M1070.5 1513.5h0M971 1509.6h0M1064.1 1510.2h0M1025.9 1506.2h0M1047.8 1498.3h0M1042 1501h0M1016.7 1498.7h0M999.8 1506.7h0M1058.2 1512.5h0M999.6 1513.5h0M1037.4 1498.2h0M1033.2 1516.7h0M995.6 1502.3h0M1018.3 1515.7h0M1037.2 1505.7h0M989.7 1509h0M992.1 1502.4h0M1041.4 1498.1h0M1034.3 1517h0M1014.4 1519.3h0M985.8 1514.6h0M992.6 1506.9h0M1003 1518.6h0M1027.5 1499.1h0M1020.3 1499.2h0M1034.7 1511.3h0M1006 1516.3h0M1061.7 1515.7h0M985.3 1508.2h0M1020 1519.2h0M1000 1509.7h0M1035.5 1498.2h0M1018.1 1515.3h0M1055.7 1499.3h0M1022.7 1504.5h0M1004.7 1500.3h0M984.3 1497.9h0M1047 1506.2h0M1086 1513.9h0M1043.3 1498.4h0M1055.2 1505.7h0M1010.5 1514.4h0M1050.7 1501.1h0M1022.1 1512.6h0M1069.6 1506.8h0M1065.4 1511.9h0M1045.6 1502.6h0M1012.9 1515.8h0M1022.4 1505.7h0M1047.4 1510.3h0M1045 1511.9h0M1069 1507.6h0M1047.9 1505.8h0M1040.9 1505.1h0M1027.2 1507.9h0M992.5 1508.1h0M972.5 1506.3h0M1024.3 1509.9h0M1037.1 1514.5h0M1068.1 1507.5h0M1027.5 1518.1h0M1048.6 1500.4h0M1046.6 1513.8h0M992.7 1516.3h0M1019.6 1499.4h0M1015.8 1513.9h0M1070.9 1499.7h0M1036.8 1507.7h0M1060.7 1510.4h0M1027.6 1501.6h0M974.8 1497.8h0M987.3 1511.6h0M1044.1 1508.9h0M985.9 1514.6h0M1065.7 1500.5h0M1054.6 1516.1h0M991.5 1509h0M1056.4 1518.1h0M1019.7 1497.7h0M1025.3 1517.4h0M1004 1517h0M1006.9 1516h0M1038.9 1513.5h0M1055.6 1502.7h0M1028.2 1506.3h0M1055.1 1501.2h0M999.1 1518.2h0M1018.5 1503.6h0M1061.9 1498h0M991.5 1513.6h0M973.2 1502.2h0M1017.9 1507.6h0M986 1501.4h0M998.3 1498.5h0M1017.7 1500h0M1006.6 1498.5h0M1053.8 1510.1h0M1028.8 1500h0M1028.5 1503.9h0M1060 1509.9h0M1018.7 1506.4h0M992.5 1497.5h0M1068.1 1516.2h0M1053.1 1518.5h0M1028.2 1505.5h0M1031.4 1510.9h0M958.7 1515.4h0M1016 1508.4h0M1036.3 1508.8h0M1065.1 1503h0M1071.3 1499.2h0M1049.5 1515.1h0M1071 1507.3h0M1076.2 1517.6h0M1062.5 1501.8h0M1041.2 1517.1h0M1054.3 1514.5h0M1057.2 1505h0M995.3 1510.5h0M1040 1511.7h0M1012.1 1505.8h0M1038.3 1503.3h0M1022.9 1513.8h0M1026.1 1518.1h0M988.9 1513.3h0M999.9 1503.7h0M1028.2 1513.1h0M1007.4 1504.7h0M1035.1 1516.3h0M1025.2 1511.8h0M989.2 1506h0M1059.9 1516.6h0M1031.8 1518.5h0M1031.8 1512.6h0M986.4 1511.8h0M1025.8 1497.7h0M1054.8 1506.4h0M1032 1499.8h0M997 1501.2h0M992.4 1518.5h0M1043.5 1501.4h0M1062.4 1509.6h0M991.2 1511.7h0M1069.1 1507.3h0M985.9 1499.4h0M1037.8 1501.6h0M998.7 1502.5h0M1020 1519.2h0M1016.8 1503.4h0M1014.3 1498.8h0M978.6 1500.5h0M975 1514.9h0M985.1 1502.2h0M1065.9 1507.8h0M1018.4 1511.5h0M975.7 1508.9h0M976.1 1501.4h0M1064.1 1505h0M994.2 1503.7h0M982.4 1513.5h0M1013.4 1517.8h0M1053.8 1517.8h0M1054.6 1506.6h0M999.7 1516.9h0M995 1518.7h0M1042.6 1514.7h0M1068.8 1504h0M1058 1513.5h0M1019 1516.4h0M1052.2 1510.3h0M1062.6 1516h0M1025.3 1512.8h0M1060.4 1519.4h0M1000.7 1503h0M1005.7 1499.8h0M1033.5 1505.7h0M1053.4 1501.8h0M1010.9 1501.2h0M1057.3 1515.7h0M1074.8 1513.4h0M1027 1518h0M1036.1 1504.5h0M1052.2 1502.3h0M1021.4 1512.8h0M995.8 1502.8h0M1035 1499.3h0M1062.5 1509.5h0M1018.2 1508.1h0M1029.2 1513h0M1006 1516.8h0M999.6 1506.6h0M1034.5 1506h0M1051.1 1514.3h0M975.5 1508.1h0M1041.8 1498.6h0M1008 1512.4h0M1032.1 1511.9h0M1041.1 1594.7h0M1037.9 1596.9h0M1020.6 1585.7h0M1034.4 1593.3h0M1040.6 1595.9h0M1048.2 1588.7h0M1079.2 1593.8h0M1063.5 1576.9h0M1070.9 1580.3h0M1113.4 1594.9h0M1029.2 1581.4h0M1083.8 1579.1h0M1020.1 1584.3h0M1062.7 1582h0M1027.3 1580.8h0M1079.8 1585.4h0M1109.9 1586.4h0M1055.2 1598h0M1053.5 1590.3h0M1069.7 1595.1h0M1121.8 1586.7h0M1037.6 1592.1h0M1065.3 1576.7h0M1105.9 1586.5h0M1082.7 1585.6h0M1093.8 1592.9h0M1056.4 1586.6h0M1081.7 1598.3h0M1060.4 1586.1h0M1030.7 1592.1h0M1037.7 1597.7h0M1054.9 1588.3h0M1080.8 1577.1h0M1073.7 1598.3h0M1024 1590.3h0M1086.4 1581.6h0M1091.7 1581.4h0M1056.5 1581.1h0M1076.7 1590.8h0M1072.3 1578.5h0M1037.7 1581.6h0M1075.6 1595.2h0M1071.7 1587h0M1094.8 1596.5h0M1007 1593.8h0M1036.9 1588.7h0M1072.2 1597.4h0M1076.9 1588.6h0M1034.6 1578.5h0M1057.2 1586.2h0M1060.5 1587.9h0M1090 1586h0M1080.5 1597.8h0M1042.6 1588.2h0M1044.7 1582.2h0M1069.1 1593.1h0M1013.2 1578.5h0M1028.8 1593h0M1021.4 1579.1h0M1055.1 1585.9h0M1047.8 1588.1h0M1114 1577.1h0M1065.4 1589.9h0M1082.9 1582.4h0M1089.5 1589.7h0M1038.9 1580.2h0M1064.3 1577.1h0M1066.2 1583.5h0M1006.2 1593.7h0M1043.2 1597.6h0M1093.7 1595.3h0M1008.5 1594.6h0M1039.9 1580.4h0M1041.2 1580.8h0M1012.8 1593h0M1078.2 1588.1h0M1036.4 1577.2h0M1029.4 1588h0M1056.7 1590.5h0M1085.7 1591.8h0M1070.9 1583.4h0M1009.9 1592.2h0M1118.2 1578.7h0M1087.9 1596.2h0M1046.1 1579.6h0M1079 1594.7h0M1081.8 1585.4h0M1021.3 1583.1h0M1105.1 1590.7h0M1028.5 1578h0M1041.1 1588.3h0M1033.6 1595.4h0M1048 1592.9h0M1130.2 1591.4h0M1069.4 1591.3h0M1032.8 1578.6h0M1056.3 1579.8h0M1058.6 1596.5h0M1069.8 1593.9h0M1026.8 1591.9h0M1081.3 1594.9h0M1079.8 1579.7h0M1072.3 1586.1h0M1097.7 1589h0M1036.5 1589.4h0M1070.1 1588.8h0M1088.5 1586.5h0M1050.3 1581.8h0M1019.6 1589.4h0M1046.1 1596.4h0M1085.3 1581.1h0M1039.8 1597.5h0M1131.3 1582.1h0M1066.6 1595.4h0M1082.7 1591.6h0M1048.9 1596.5h0M1075.1 1596.2h0M1051.2 1579.1h0M1094.9 1592h0M1103.8 1584h0M1093.8 1597.4h0M1006.2 1577.4h0M1106.1 1591.2h0M1088.5 1578.6h0M1093.4 1586.6h0M1088.6 1586.1h0M1090.9 1580.8h0M1048 1594.1h0M1084.9 1589.4h0M1064.5 1589.6h0M1069.1 1584.7h0M1019.8 1588.3h0M1030 1594.3h0M1076.5 1593.3h0M1037.5 1595.7h0M1084.5 1591h0M1001.8 1588.9h0M1072.7 1591.1h0M1003.3 1589h0M1088.3 1588.7h0M1027.4 1596.2h0M1064.3 1586.9h0M1064.6 1591.1h0M1060.6 1595.1h0M1022.8 1585.9h0M1076.1 1598.3h0M1054.8 1580.4h0M1043.9 1585.3h0M1051.2 1590.4h0M1054.6 1595h0M1076.7 1590.7h0M1014.8 1586.9h0M1050.2 1660.2h0M1099.4 1657.6h0M1093 1674.2h0M1075.8 1671.5h0M1058.5 1666.2h0M1027.3 1676.2h0M1032.9 1677.8h0M1090 1676.7h0M1089.6 1674.6h0M1070.8 1662.1h0M1119.5 1664.5h0M1011.1 1676.3h0M1063.7 1662.1h0M1104.2 1657.8h0M1046.4 1664.3h0M1080.1 1661.2h0M1046 1674.8h0M1008 1662.6h0M1053.5 1660.1h0M1054.4 1669.5h0M1043.9 1676.2h0M1150.9 1673.5h0M1046.8 1659.8h0M1070.6 1670.6h0M1068.6 1659.5h0M1033.6 1671.5h0M1088.1 1668.3h0M1007.5 1674.6h0M1089.9 1666.8h0M1056.4 1658.1h0M1079.9 1658.4h0M1018.7 1668.4h0M1053.5 1671.8h0M1092.1 1672h0M1069.7 1659.9h0M1064.8 1656.8h0M1051.1 1657.6h0M1094.8 1656.8h0M1073.5 1670.3h0M1040.3 1661.8h0M1065.3 1667.1h0M1047.8 1660.7h0M1007.7 1671.4h0M1009.6 1657.8h0M1073.1 1663.7h0M1046.7 1671.9h0M1077.6 1677h0M1085.4 1669.8h0M1102.4 1664.1h0M1060 1663.6h0M1110.8 1660.1h0M1046.3 1663.2h0M1107 1662.4h0M1048.9 1671.4h0M1075.5 1664.6h0M1025.6 1669.7h0M1023.7 1675.4h0M1109.9 1659.8h0M1013.7 1667.8h0M1046.6 1659.5h0M1052.6 1676.1h0M988.6 1663.1h0M1014.6 1668.9h0M1054.1 1660.4h0M1060.5 1668.1h0M1091.1 1665.6h0M1057.6 1670.4h0M957.9 1659.2h0M1039.6 1660.9h0M1012.9 1658.6h0M1057.3 1667.4h0M1079.6 1665.1h0M1043.5 1663.2h0M1048.1 1671.9h0M1026.9 1660.2h0M1044.1 1667h0M1061.3 1663.9h0M1037.3 1667.1h0M1061.2 1667.4h0M1088.6 1675.7h0M1081.1 1670.9h0M1112.5 1665.2h0M1044.9 1667h0M1018.5 1658.7h0M1089.8 1676h0M1030.7 1674.1h0M1114.3 1672.1h0M1086.3 1674.4h0M1074.3 1668.2h0M1005.4 1664.4h0M1118.5 1660.7h0M1053.7 1656.3h0M1030.4 1672.8h0M1094.1 1660.5h0M1121.1 1664.2h0M1048.7 1676.4h0M1042.9 1670.1h0M1072.8 1664.7h0M1088.6 1672.6h0M1023.9 1662.1h0M1098.7 1664.9h0M1079.6 1675.8h0M1090.6 1661.2h0M1105.9 1659.6h0M1048.4 1667.4h0M1081.2 1659.9h0M1045.3 1657.4h0M1010.7 1677.2h0M1082.8 1662.3h0M1047.5 1659.5h0M1066.5 1670.9h0M1059.1 1657.5h0M1058 1675h0M1017 1672.8h0M1058.5 1657.7h0M1108.1 1669.9h0M1072.5 1668.9h0M1107.8 1660.8h0M1045.1 1672.1h0M1093 1673.7h0M1054 1676.1h0M1092.8 1668.4h0M1043 1675.3h0M1092.7 1738.5h0M1027 1754.2h0M1108.7 1751.7h0M1060.6 1752.6h0M1062.5 1741.6h0M1100.2 1736.9h0M1050.7 1750.4h0M1051.3 1740.7h0M1085 1743.5h0M1028.5 1746.6h0M1080.2 1735.3h0M1057.3 1752.6h0M1027 1752.2h0M1025.2 1741.3h0M1050.2 1740.5h0M1023.5 1751.9h0M1021.7 1751h0M1035.4 1747.5h0M1107 1748.2h0M1012.7 1746.1h0M1034 1748.4h0M1055.9 1757h0M1011.2 1751.3h0M1024 1736.9h0M1053.2 1752.6h0M1093 1755.5h0M1071.3 1752.6h0M1085.3 1740.9h0M1084.7 1741.4h0M1068.1 1739.4h0M1040 1748.4h0M1078.6 1744.3h0M1005.4 1746.8h0M1102 1753.9h0M1088.4 1742.1h0M1075.6 1742.4h0M1060.1 1736.4h0M1098.3 1746.3h0M1068.8 1757.1h0M989 1735.7h0M1080.3 1747.7h0M1018.1 1740.7h0M1098.8 1749.6h0M1019.3 1755.4h0M1075.6 1749.8h0M1029.6 1741.4h0M1096.6 1744.7h0M1030.1 1751.1h0M1049.5 1739.5h0M1063.8 1746.1h0M1097.1 1737.6h0M1026.8 1747.2h0M1032.1 1744.6h0M1013.8 1753.8h0M1059.9 1745.5h0M1049.5 1755.2h0M1012.8 1739.1h0M1108.3 1746.1h0M1049.1 1741.6h0M1090.6 1743.8h0M1035.9 1756.3h0M1028 1738.7h0M1082.8 1744.4h0M1032 1736h0M941.7 1743.4h0M1083.2 1741.1h0M1091.8 1751.8h0M1098 1749.2h0M1020.8 1754.6h0M1077.2 1735.9h0M1036.2 1754.2h0M1045.5 1739.2h0M1031.3 1735.9h0M1099.1 1739.4h0M1019.2 1747.3h0M1040.6 1744.7h0M1087.7 1745.7h0M1001.1 1755.3h0M1044 1749.8h0M1063 1740.4h0M1046.7 1753h0M1036.3 1743.3h0M1038.5 1757.1h0M1080.2 1743h0M1090.7 1745h0M1085.2 1735.9h0M1019 1738.8h0M1039.2 1747.1h0M1048.8 1757.1h0M1042.4 1746.6h0M1097.7 1751.2h0M1067.1 1742.1h0M1026.4 1748.1h0M1069.7 1738.7h0M1070.7 1754.4h0M1067.5 1755.8h0M1067.1 1748.1h0M1025.6 1751.9h0M1083.4 1752.8h0M1024.5 1756.9h0M1068.9 1739.6h0M1082.2 1755.8h0M1045.7 1744.3h0M1065.3 1751.7h0M1014.1 1750h0M1030.2 1756.4h0M1079.5 1740.7h0M1037.2 1744.5h0M1029.4 1750.2h0M1008.1 1736.1h0M1096.6 1756.5h0M1013.1 1738.4h0M1085.5 1751h0M1069.3 1744.8h0M1074.4 1742.8h0M1017.5 1737.3h0M1040 1748.7h0M1085 1754.8h0M1097.9 1736.9h0M1066.7 1738.2h0M1034.1 1752.9h0M1035.8 1743.7h0M1055.5 1756.4h0M1007.1 1747.7h0M1078.5 1747.4h0M1076.7 1736.1h0M1044.9 1741.3h0M1053.1 1755.9h0M1099.8 1744.5h0M1088.4 1739.7h0M1035.1 1755.2h0M1021.6 1740.1h0M1093.9 1755.2h0M1012.4 1741h0M1031 1753.8h0M1046.4 1744.2h0M1077.6 1747.5h0M1042.7 1754.4h0M1109.2 1746.7h0M1028.4 1745.7h0M1089.6 1753h0M1059.7 1749.5h0M1016.7 1746.7h0M1013.6 1754.2h0M1037.8 1740.8h0M1058 1739.3h0M1086.5 1740.9h0M1099.5 1742h0M1096.7 1753h0M1094.1 1755.7h0M1051.4 1747.7h0M1083.5 1750.7h0M1026.5 1747.4h0M1013.2 1742.2h0M1029.3 1750.8h0M1043.9 1738.3h0M1094.9 1750.7h0M1076.5 1744.1h0M1077.4 1737.5h0M1050.7 1750.3h0M1035.9 1738.1h0M1089.7 1736.1h0M1024.4 1748.4h0M1041.2 1735.7h0M1023.2 1756.4h0M1079.5 1737.7h0M1051.9 1737.5h0M1081.3 1753.5h0M1062.7 1756.4h0M1035.8 1737h0M1026.9 1747.8h0M1033.3 1754.5h0M1037 1747.2h0M1029.4 1753.2h0M1038.9 1754.1h0M1084.9 1755.6h0M1064.7 1755h0M1036 1754.9h0M1080.2 1742.9h0M1084.7 1747.2h0M1039.5 1753.6h0M1051.8 1735.4h0M1025.4 1739.3h0M1055.7 1736h0M1045.9 1753.9h0M1022.2 1736.8h0M1043 1740.9h0M1059.6 1752.1h0M1085.6 1756.1h0M1082.5 1747.4h0M1081.6 1752.2h0M1101.9 1747.9h0M1056.4 1747.3h0M1083.9 1755.1h0M1080.8 1739.2h0M1018 1740.1h0M1072.9 1756.1h0M1040.8 1747.7h0M1030.5 1746h0M1020.1 1752.5h0M1080 1736.4h0M1046.1 1742.6h0M1021 1738.5h0M1030.2 1751.3h0M1050.7 1736.2h0M1034.6 1747.3h0M1086 1753.4h0M1018.3 1756.1h0M1039.9 1749.8h0M1012.7 1751.8h0M1033.5 1753.4h0M1030.9 1757.2h0M1052.9 1744.5h0M1075.1 1741.4h0M1012.8 1755.2h0M1082.3 1756.7h0M1068.4 1738.9h0M1059.9 1756.6h0M1016.8 1754.6h0M1059 1747.1h0M1044.3 1737.8h0M1075.9 1739.9h0M1088.2 1748.9h0M1023.4 1752.9h0M1054.3 1744.3h0M1067.8 1740.3h0M976 1755.8h0M1064.8 1742.5h0M1035.6 1743.8h0M1040.4 1753.2h0M1102.8 1747.1h0M1087.1 1742h0M1091.7 1747.3h0M1015.1 1753h0M1041.9 1745.1h0M1079.1 1745.7h0M1047.5 1742.3h0M1064 1737.5h0M1066 1744.8h0M1079.3 1739.6h0M1012.1 1748.8h0M1020.2 1753h0M1096.9 1745.5h0M1045.1 1749.5h0M1048.1 1754.9h0M1084.6 1743.9h0M1064.4 1750.2h0M1043.4 1746.4h0M1017.9 1743.3h0M1064.6 1753.7h0M1065.7 1735.2h0M1097.4 1741.1h0M1040.2 1748.4h0M1006.4 1755.7h0M1065.8 1746.7h0M1073.8 1737.8h0M1055.4 1747.9h0M1023.8 1740.3h0M1064.1 1743.7h0M1035.8 1751.9h0M1075.7 1743.4h0M1035.1 1740.9h0M1091.8 1748.4h0M1032.2 1748.3h0M1015.5 1746.7h0M1007.2 1755.3h0M1089.5 1738.8h0M1016.5 1747.5h0M1000 1750.8h0M1059.5 1735.6h0M1030.4 1736.6h0M1035.7 1741.7h0M1015.6 1748.4h0M1041.4 1736.3h0M1102.6 1755.5h0M1030.7 1753.4h0M1027.8 1746.1h0M1023 1735.9h0M1050.6 1746.9h0M1022.3 1750h0M1086.9 1756.4h0M1028.3 1739.2h0M1039.2 1754.4h0M1038.8 1742.8h0M1069.5 1754.5h0M1039.5 1750.3h0M1081 1755.5h0M1099 1753.7h0M1033.5 1745.7h0M1046.3 1755.6h0M1112.5 1755.3h0M1054.1 1749.5h0M1001.9 1746.5h0M1054.9 1752.4h0M1019.7 1746.3h0M1013.8 1739.4h0M1017.1 1744.4h0M1012.7 1744.8h0M1026 1749.7h0M1010.1 1753.9h0M1070.3 1756.3h0M1001.8 1744h0M1065.7 1757.2h0M1092 1749.5h0M1081.4 1742.1h0M1048.8 1743.1h0M1060.6 1757.1h0M1102.6 1735.4h0M1105.2 1748.5h0M1027.9 1740.1h0M1020.7 1754.6h0M1099.9 1755.5h0M1035.5 1751.1h0M1085.8 1738.4h0M1020 1736.3h0M1017.3 1753.2h0M1068.3 1740.9h0M1100.3 1742.7h0M1013.9 1749.1h0M1084.4 1739.7h0M1030.5 1754.2h0M1096.6 1739.7h0M1032.6 1744.4h0M1008.6 1756.2h0M1098 1740.1h0M1067.1 1741.6h0M1101.7 1750.2h0M1037.2 1740.6h0M1084.6 1749.9h0M1037.7 1748.3h0M1075.5 1754.8h0M1065.5 1736.9h0M988.7 1755h0M1007.5 1751h0M1078 1738h0M1095.6 1744h0M1034.5 1737.9h0M1101.7 1744.3h0M1099.7 1747.6h0M1021.6 1745.2h0M1020.7 1751.6h0M1057.2 1741.1h0M1026.3 1744.1h0M1020.3 1745h0M1003.5 1745.1h0M1075.6 1743.1h0M1081.9 1746.1h0M1057.8 1741.3h0M1070 1753.2h0M1095.4 1741.7h0M1019.8 1740.1h0M1044.5 1752.7h0M1094.2 1755.7h0M1070.7 1745.2h0M1073.1 1739.2h0M1030.8 1756.5h0M1079.4 1745.3h0M1025.2 1737.9h0M1048.7 1747.7h0M1062.6 1746.4h0M1059 1740.9h0M1015.9 1737.3h0M1101.6 1741.3h0M1058.1 1753.1h0M995.3 1748.4h0M1019 1746.3h0M1068.6 1744.2h0M1006.3 1743.4h0M1070.3 1736.7h0M1043.8 1752.5h0M1058.4 1749.7h0M1080.3 1756.9h0M1012.9 1746.1h0M1099.8 1741.8h0M1074.6 1741.3h0M1023.8 1749.2h0M1022.7 1743.7h0M1019.3 1754.8h0M981.4 1753h0M991.5 1744.6h0M1019.3 1749.3h0M1074 1756.5h0M1102.1 1737.6h0M1064.6 1736.9h0M1072.7 1739h0M1064.6 1754.1h0M1018.2 1741.2h0M1079.7 1738.1h0M1067 1744h0M1076.9 1737.5h0M1043.5 1745.6h0M1022.7 1746h0M1053 1741.9h0M1086.1 1735.9h0M1053 1743h0M1022 1749h0M1109.7 1753h0M1059.8 1735.3h0M1033.2 1744.5h0M1041 1739.3h0M1033.7 1740.2h0M1047.2 1738.2h0M1060.9 1746.2h0M1020.7 1738.9h0M1049.3 1748.2h0M1060.9 1741.4h0M1070.3 1747.4h0M1093.5 1738.9h0M1050.8 1741.3h0M1048.6 1754.7h0M1081.7 1740.7h0M1065.6 1737.4h0M1063.4 1740h0M1043.6 1753.8h0M1098 1742.2h0M1036.1 1742h0M1060.7 1749.7h0M1048.6 1743.2h0M1077.5 1751.2h0M1063.6 1739.5h0M1027 1754.2h0M1072.9 1745h0M1059.7 1747h0M1097.1 1737.3h0M1064.8 1747.9h0M1092.3 1743.6h0M1013.2 1753.6h0M1073.7 1738.7h0M1043.5 1747h0M1044.8 1737.1h0M1024.4 1743h0M1036.1 1751.1h0M1079.4 1750.9h0M1054.7 1750.9h0M1033.6 1738.4h0M1014.8 1743.4h0M1057.8 1752.4h0M1018.5 1743.9h0M1097 1744h0M1100.9 1751h0M1066.7 1736h0M1038.3 1736.9h0M1061.5 1750.5h0M1012.6 1750.7h0M1039.6 1750.1h0M1035.7 1735.5h0M1091.7 1756h0M1025.6 1737.8h0M1077.1 1740.3h0M1055 1746h0M1084.2 1745.3h0M1081.1 1747.1h0M1038.5 1745.7h0M1018.2 1746.3h0M1087.2 1746.2h0M1113 1745.2h0M1100.2 1737.7h0M990.4 1746.8h0M1030.4 1736.3h0M1070.5 1755.7h0M1050.8 1745.1h0M1060.8 1817.2h0M1042.7 1832.9h0M1046.8 1826.4h0M1073 1825.1h0M1082 1831.9h0M1089.4 1832.9h0M1092.3 1826.9h0M1036.7 1828.3h0M1085.9 1823.2h0M1052.2 1815.6h0M1081.1 1816.5h0M1088.9 1834.1h0M1020.3 1818h0M1067.5 1822.8h0M1088.4 1826.8h0M1041.5 1823.5h0M1073 1817.5h0M1065.6 1829.1h0M1080 1819.2h0M1078.6 1818.1h0M1076.5 1831.4h0M1095.5 1830.9h0M1058.4 1821.7h0M1042 1832.4h0M1085.8 1830.7h0M1093.8 1823.6h0M1081 1829.4h0M1075.3 1817.1h0M1073.3 1834.8h0M1031.7 1824.7h0M1074.6 1822.6h0M1024.9 1825.3h0M1081.3 1825.5h0M1060.1 1834.7h0M1059.1 1836.1h0M1024.4 1824.4h0M1060.9 1824.6h0M1018.9 1830.9h0M1048.1 1818.4h0M1053.5 1825.9h0M1019.8 1832.1h0M1062.7 1818.4h0M1080.6 1816.5h0M1019.2 1828.4h0M1012.2 1830.9h0M1078 1818.6h0M1031.6 1833.6h0M1051.8 1831.2h0M1020.6 1836h0M1087 1826.4h0M1027.4 1830.1h0M1100.4 1826h0M1048.9 1823.8h0M1032.8 1821.6h0M1097.5 1835.1h0M1028.6 1819.9h0M1041 1827.6h0M1053.8 1833.7h0M1029.8 1819.1h0M1022 1815.4h0M1047.4 1816.6h0M1032 1831.4h0M1013.2 1830.5h0M1019.2 1830.6h0M1075 1820h0M1067.8 1818.4h0M1085.1 1833.1h0M1088.5 1814.6h0M1057 1815.4h0M1026.2 1834.7h0M1037.9 1819.7h0M1086.1 1820.2h0M1076.1 1819.4h0M1046 1823.3h0M1039.3 1824.2h0M1070.9 1820.3h0M1084.6 1833.4h0M1046.7 1830.7h0M1093.8 1819.7h0M1083.4 1821.4h0M1058.3 1815.2h0M1054.1 1827.4h0M1075 1819.3h0M1070.3 1816.3h0M1061.7 1829h0M1053.1 1815.2h0M1030.4 1830.3h0M1101.7 1831.4h0M1048.6 1816.1h0M1069.5 1830.7h0M1024 1824.2h0M1032.3 1814.6h0M1036.2 1828.3h0M982.2 1819.6h0M1051.2 1833.7h0M1072.9 1815.5h0M1023.3 1835.7h0M1092.7 1826.8h0M1034 1816.5h0M1040.1 1834.6h0M1047.5 1830.1h0M1098.7 1828.6h0M1093.5 1830.5h0M1046.4 1819.1h0M1069.8 1822.8h0M1040.6 1821.9h0M1039.5 1831.3h0M1057.4 1817.5h0M1098 1824.8h0M1043.9 1820.8h0M1046.7 1826.5h0M1069 1816.9h0M1089.9 1817.6h0M1056.7 1820.9h0M1018.7 1817.5h0M1024.6 1836.4h0M1029.9 1833.9h0M1043.1 1816h0M1029.5 1817.9h0M1059.4 1815.6h0M1031.5 1823.4h0M1032.8 1818.7h0M1017.5 1816.8h0M1064.7 1816.3h0M992 1833.1h0M1090.1 1836.4h0M1029.8 1833.8h0M1047 1833.7h0M1090.5 1822.6h0M1092.7 1822.1h0M1064.8 1818.1h0M1038.2 1829.7h0M1050 1816.1h0M1034.8 1833h0M1031.7 1824h0M1015.9 1831.4h0M1049.2 1821.4h0M1096.5 1835.7h0M1075.5 1821.4h0M1053.7 1828.3h0M1017.8 1814.6h0M1047.2 1832.5h0M1062.3 1836.2h0M1027.3 1830.9h0M1029.9 1817.5h0M1106.2 1824.1h0M1026.7 1820.7h0M1051.5 1831.3h0M1026.1 1821.6h0M1070.6 1834.6h0M1019.5 1820.7h0M1093.7 1834.3h0M1021.8 1835.6h0M1071.3 1818.4h0M1005.9 1816.1h0M1048.1 1830.3h0M1053.2 1828.9h0M1092.9 1816.2h0M1091.8 1831.7h0M989.6 1818h0M1091.6 1818.2h0M1044.2 1819.3h0M1038.6 1827.2h0M1074.9 1829.7h0M1077.9 1825h0M1017.2 1827.6h0M1021 1823.2h0M1017.1 1817.1h0M1025.5 1835.3h0M1075.5 1824.2h0M1075.8 1836.2h0M1024.9 1817.2h0M1032.8 1821.7h0M1053.1 1831.6h0M1056.3 1815.5h0M1096.3 1833.4h0M1025.5 1822h0M1089.6 1830.6h0M1093.7 1821.3h0M1065.8 1831.4h0M1052.9 1833.3h0M1056.7 1832.6h0M1038.7 1829.6h0M1059.3 1825.8h0M1085.8 1820.5h0M1065.1 1836.1h0M1062.4 1827.3h0M1023.2 1819.6h0M1096.2 1819.2h0M1088.6 1817.6h0M1083.3 1814.8h0M1070.1 1834.2h0M1054.5 1835.1h0M1013.9 1835.8h0M1024.2 1834.1h0M1076.8 1816.2h0M985.7 1817.4h0M1023.2 1836.4h0M1030.9 1828.7h0M1080.2 1827.5h0M1083.3 1821.6h0M1084.3 1828.1h0M1071.3 1830.8h0M1049.9 1832.7h0M1060.7 1817.3h0M1065.4 1833.3h0M1076.1 1815.6h0M1086.7 1823.7h0M1017.3 1824.8h0M1092.6 1818.6h0M1033 1831h0M1039.3 1829.7h0M1029.3 1827.2h0M1057.1 1822h0M1088.6 1833.9h0M1027 1825.5h0M1083.4 1821.7h0M1025.1 1824.9h0M1026.7 1818.5h0M1094.7 1826.6h0M1056.9 1825.2h0M1059.1 1826.3h0M1030.1 1825.8h0M1083.3 1830.2h0M991.7 1829.3h0M1019.9 1833.3h0M1044 1817.8h0M1081.2 1830.1h0M1061.3 1826.4h0M1063 1820.8h0M1056.2 1834.2h0M1057.4 1830.3h0M1056.6 1834h0M1030 1818.7h0M1043.6 1821.8h0M1038.9 1817.3h0M1039.1 1823.9h0M1041.8 1833.5h0M1084.1 1819.7h0M1085.7 1818.7h0M1088.7 1830.1h0M1020.5 1824.9h0M1021.5 1825.5h0M1031 1816.3h0M1018.5 1820.7h0M1040.6 1827.7h0M1097.8 1832.3h0M1053.9 1826.4h0M1020.4 1833.6h0M1069.4 1829.2h0M1085.8 1818.3h0M1043.5 1815.4h0M1101.8 1825.9h0M1061.8 1816h0M1062.3 1834.9h0M1042 1818.3h0M1076.8 1829.2h0M1016.7 1834.3h0M1098.8 1833.2h0M1035.2 1815.2h0M1081 1814.8h0M1090.8 1831h0M1082.6 1818.6h0M1049.5 1825.1h0M1052.7 1824.6h0M1039 1818h0M1059.8 1831.8h0M1081.4 1822h0M1017.5 1819.3h0M1033.9 1821.1h0M1025.9 1834.2h0M1083.3 1826.1h0M1022.1 1832.2h0M1019.1 1825.7h0M1034.9 1828.1h0M1082.6 1815.3h0M1019.7 1825.2h0M1000.4 1834.2h0M1003.5 1831.1h0M1057.8 1829.6h0M1021.9 1825.8h0M1041.2 1833.7h0M1045.6 1834h0M1044.7 1820.8h0M1059.7 1828.3h0M1070.5 1835.2h0M1099.2 1825h0M1016.3 1819.8h0M1082 1830.1h0M1024.7 1832.3h0M1027.4 1830.4h0M1041.5 1826.2h0M1088.2 1816.3h0M1063 1833.3h0M1027.1 1828.3h0M1027.4 1819.3h0M1064.7 1833.9h0M981.3 1833.9h0M1031.8 1821.1h0M1035.4 1835.4h0M1082 1832.2h0M1074.2 1822.7h0M1050.8 1825.8h0M1027 1835.8h0M1059 1815.5h0M1037.8 1835.3h0M1059.5 1820.9h0M1053.2 1821.3h0M1086.3 1832.7h0M1038.5 1821h0M1041.7 1822.9h0M1089.7 1824.8h0M1059.3 1825.7h0M1091.8 1828.4h0M1092.6 1832h0M1084.5 1814.8h0M1092.5 1830.5h0M1059.7 1828.4h0M1061.1 1819.7h0M1098.5 1828h0M1022.4 1816.1h0M1063.7 1817.6h0M1071.1 1836.4h0M1083.1 1825h0M1047.9 1815.2h0M1032.8 1835.4h0M1098.1 1821.7h0M1023 1823h0M1059 1819.1h0M1089.5 1835h0M1082.3 1821.3h0M1052.5 1829.8h0M1042.4 1833.1h0M1041.2 1816.5h0M1014.4 1821.9h0M1066.5 1820.1h0M1034 1819h0M1043.7 1819.2h0M1084.2 1824.7h0M1051.7 1832.8h0M1039.2 1817.8h0M1043.9 1818.3h0M1052.2 1836.2h0M1086.8 1832.7h0M1024.3 1817.4h0M1087.6 1834.2h0M1021.7 1815.2h0M1076.4 1824.6h0M1079.7 1824.8h0M1059.9 1820.2h0M1022.6 1822.6h0M1091.3 1835.3h0M1092.4 1834.8h0M1011.8 1819.6h0M1037.2 1816.9h0M1051.6 1814.8h0M1060.7 1818.7h0M1027.9 1827.5h0M1052.9 1822.3h0M1080.4 1825.8h0M1039.9 1824.6h0M1096.4 1835.6h0M1082.7 1825.5h0M1087.3 1821.5h0M1004.3 1827.2h0M1046.7 1830.7h0M1033.5 1831.4h0M1059.7 1827.2h0M1070 1815.6h0M1106.8 1825.1h0M1070.4 1835.3h0M1057.6 1828.5h0M1017 1817.5h0M1070.4 1818.5h0M1093.3 1835.6h0M1086.2 1832.6h0M1093.2 1827h0M1052 1832.5h0M1067.9 1835.4h0M1086.1 1823.9h0M1090.4 1835.9h0M1083.7 1835.8h0M1069.1 1829.3h0M1035.8 1817.8h0M1079 1833.5h0M1042.3 1831h0M1022 1828.1h0M1083.7 1824.5h0M1064.1 1815.6h0M1086.7 1833.8h0M1021.3 1821.3h0M1054.8 1816.6h0M1063 1822.1h0M1016.5 1816.4h0M1029.9 1816h0M1054 1824.7h0M1028.2 1834.3h0M1035.3 1820.2h0M1065.5 1822h0M1017.2 1825.4h0M1054 1835.1h0M1080.3 1833.6h0M1043.7 1824.7h0M1091.3 1823.1h0M1063 1822.3h0M1046.6 1831.5h0M1070.9 1831.7h0M1093.8 1834.7h0M1018 1834.9h0M1039.8 1826.8h0" stroke="#bebebe" stroke-width="6.8" stroke-linecap="round" fill="none"/><path d="M968.6 131.9h0M1016 128.5h0M976.1 110.9h0M1009.1 110.8h0M884 128.3h0M884 117.8h0M1066.7 122.6h0M1052.4 119.5h0M992.7 121.8h0M994.4 124.9h0M935.4 121.7h0M951.5 121.9h0M950.1 126.8h0M952.8 132.3h0M1014.6 122.6h0M947.3 127.3h0M884 125h0M944.3 112.6h0M975.5 121.9h0M1001.6 114.5h0M980.8 116.2h0M1025.8 114h0M884 122.5h0M930.9 114h0M967.9 128.4h0M1052.5 126.8h0M1019.8 121h0M961.8 115.2h0M1057.8 127.7h0M1067.1 124.5h0M963.3 111.3h0M973.8 114.4h0M977.8 118.4h0M992 123.3h0M958.5 129.2h0M920.5 131.1h0M1025.3 113.7h0M1037.9 127.4h0M933.1 121.4h0M1023 121h0M932.5 122h0M937 122.8h0M945.7 112.2h0M936.9 119.9h0M953 129.7h0M1005.2 111.9h0M1026.8 127.4h0M1054.6 130.7h0M996.1 114.2h0M884 113.8h0M1046.4 111.1h0M966.7 130.7h0M1012 121.8h0M1028.1 116.1h0M1038.2 115.2h0M1049.7 112.4h0M990.2 131.5h0M940.4 115.4h0M1026.1 111.3h0M1050.9 115.5h0M987.2 114.5h0M955.9 111h0M1027.1 117.9h0M1029.2 115.5h0M977 131.4h0M929.2 120.5h0M983.7 111.4h0M1075.2 127.3h0M943.6 131.1h0M884 111.8h0M998.3 126.6h0M1012.8 119.2h0M993 113.9h0M920.5 110.5h0M1011.5 124.2h0M1116.3 113.1h0M976.1 129.9h0M966.3 110.9h0M924.8 126.8h0M1049.2 119.6h0M969.8 125.3h0M923.8 117.7h0M928 115.2h0M964.1 123.8h0M1017.3 114.6h0M953.7 119.5h0M975 127.8h0M994.9 118.2h0M1009.7 129.5h0M1066.1 110.7h0M942 123.3h0M925.7 114h0M1057.3 126.5h0M1030.7 115.5h0M990 123h0M959.6 122.2h0M884 119.7h0M1013.9 125.2h0M988.2 113.7h0M1041 117.7h0M962.4 128h0M1048.9 112.5h0M1067.8 130.7h0M1018.2 129h0M1053.1 128.7h0M970.3 126h0M1002.2 128h0M930.3 117h0M973.5 114.3h0M977.5 110.7h0M948 122.9h0M942.2 116.7h0M947.4 113.4h0M945.2 123.3h0M1016.3 112.1h0M1078.8 122.7h0M1028.5 122.6h0M1013.7 117.5h0M1016 150.1h0M1007.9 169.4h0M997.9 160.9h0M957.3 155.9h0M949.1 160h0M1053.5 164.8h0M975.1 163h0M963.5 163.2h0M1019.3 164.8h0M1050.8 157.6h0M1029.8 158.3h0M1048.2 167.5h0M933.7 166.6h0M1034.8 157.8h0M1028.2 167.2h0M961 161.2h0M953 160.4h0M935.1 152.7h0M1005.9 150.6h0M884 163.4h0M1040.6 170.4h0M1035 153.1h0M994.7 168.2h0M990.5 157.7h0M995.9 153.1h0M948.2 151.4h0M988 164.1h0M972.5 150.9h0M961.6 171.5h0M982.1 153h0M955.9 151h0M971.8 157h0M1015.2 163.6h0M938.3 170.6h0M884 158.9h0M1022.1 165.1h0M936.9 158.3h0M945.6 166.5h0M1130.4 162.2h0M1026.5 150.5h0M974.4 151.6h0M972.9 152.2h0M1046.6 167.6h0M962.3 152.2h0M884 157.5h0M1052.9 171.5h0M1019.9 162.5h0M959.2 154.3h0M962 171.3h0M1056.3 246.7h0M956.9 245.2h0M1000.8 234.7h0M1018.5 235.1h0M971.1 245.7h0M976.8 234.3h0M1066.6 230.9h0M1012.8 243h0M1009.8 239.2h0M1031.9 234.6h0M1015.6 234.9h0M1028.8 250.9h0M987.9 236.6h0M989.2 250.1h0M1000.8 235.6h0M1084.2 244.3h0M1003.4 230.4h0M1059.7 239.5h0M982.2 232.7h0M1016.9 238.6h0M965.4 235.9h0M1010.1 230.2h0M974.5 243.3h0M974.5 251h0M985.8 241h0M1047 248.7h0M1027.3 245.2h0M988.7 233.2h0M1007.3 248.7h0M956.5 232.4h0M980.8 236.3h0M958.3 234.7h0M983 230.6h0M1036.7 236.1h0M994.1 251h0M1038.7 238.3h0M993.3 247.4h0M968 249.1h0M959.4 239.3h0M952.6 242.9h0M991.5 249.2h0M1003 244.7h0M986.3 240.9h0M1025.4 243.9h0M1028.1 248.9h0M956.9 229.8h0M1001.3 244.5h0M978.4 231.3h0M993.6 248h0M971.5 240.6h0M1059.9 234.7h0M982.5 243.5h0M994.3 238.7h0M1059 232.7h0M1038.5 235.5h0M974.6 230.5h0M999.7 230.5h0M1010.8 248.8h0M999.2 248.8h0M1001.9 243.2h0M1015.4 230h0M975.3 237.8h0M884 248.6h0M960.8 245.9h0M984.9 239.2h0M1019.2 229.9h0M884 243.7h0M965.4 241.1h0M992.7 248.7h0M946.8 239.2h0M969.3 230.7h0M976.1 234.8h0M926.6 241.2h0M989 236h0M1019 236h0M992 243.8h0M1005.2 245.9h0M1014.6 248.5h0M951.8 242h0M951.8 244.1h0M954.7 229.6h0M1067.8 231.3h0M996.7 238.3h0M1025.1 237.9h0M955.2 250.7h0M1026.8 242.1h0M994.5 236.7h0M1009.8 245.6h0M961.8 235.7h0M991.1 238.2h0M985.3 274.4h0M929.8 290.7h0M1010.4 271.5h0M1058.4 280h0M1026.3 276.3h0M990.9 277.9h0M981 283.1h0M928.8 276.5h0M977 276.3h0M1026.8 273h0M1036 275.9h0M972.2 278.3h0M927.6 269.2h0M884 276.1h0M952.1 284.6h0M942.8 269.7h0M1017.4 282.9h0M1015.5 272.7h0M1011.5 272.3h0M1000.4 283.4h0M977.7 272.9h0M963.3 283.2h0M1012.9 275.7h0M931.9 278.4h0M978.4 276.7h0M968.9 281.1h0M1051.5 272.5h0M1114.8 274.7h0M968.2 282.9h0M1038.6 272.2h0M980.6 277h0M997.6 277.9h0M944.6 270.9h0M980.5 285.8h0M1026.8 290.8h0M1020.2 285.6h0M960.7 289.3h0M950.5 282.8h0M884 279.1h0M995.2 286.8h0M980.3 271.1h0M1026.8 279.2h0M984.9 274.8h0M1053.2 280.6h0M1047.6 273.9h0M1158.1 282h0M951.5 273.4h0M1047.2 273.3h0M1027.6 275.9h0M971.6 283.2h0M884 270.7h0M930.1 288.4h0M1011.1 281h0M997.2 287.8h0M992.3 281.5h0M1006.2 275.1h0M1021.9 286.5h0M1027.5 285.5h0M983.3 279.9h0M1034.4 271.5h0M884 285.7h0M1025.2 288.5h0M994 275.7h0M955.9 275.7h0M1058.7 277.9h0M965.7 282.4h0M1004.3 277.5h0M1037.4 284.5h0M978 270.3h0M931.2 281.9h0M1022.3 269.5h0M1012.1 284.7h0M944.9 282.8h0M935.3 275.8h0M974.4 288.5h0M1027.2 287.3h0M947.5 271.9h0M953.1 288.6h0M955.9 271.9h0M884 274.8h0M1029.5 283.8h0M884 289.3h0M970.9 272.5h0M947 275.1h0M884 283.4h0M923.6 278.2h0M1034.4 274.7h0M1023.5 280.6h0M1035.5 274.5h0M946.4 276.2h0M1038.1 287h0M1020.1 290h0M991.6 271.9h0M935.7 284.5h0M1011.8 273.4h0M922.7 274.7h0M947.2 274.2h0M1037.5 283.5h0M1030.4 282.8h0M930.5 275.9h0M965 277.9h0M949.8 270.3h0M1003.3 277.3h0M978.9 272.9h0M1026.5 287.4h0M1015.5 273.6h0M966.9 273h0M950.3 274.5h0M955.5 272.8h0M982.4 272.1h0M974.5 283.6h0M938.9 281.6h0M983.7 281.6h0M1024.9 275.4h0M945 286h0M941.4 284h0M994.4 281.6h0M998.4 288.3h0M978.5 289.9h0M1029.4 272.1h0M929.8 281h0M926.1 279.5h0M1025 280h0M969.3 274.9h0M1002.8 286.5h0M1023.1 290.7h0M1013.1 284.1h0M991.6 281.7h0M1025.9 287.8h0M942.6 280.9h0M1129.3 271.2h0M943.5 278.5h0M1057.8 272.8h0M884 286.7h0M1005.7 289.8h0M1034.3 273.8h0M1038.1 282h0M987.8 272.5h0M1065.9 283.3h0M969.7 283.5h0M954.2 275.8h0M941.2 277.6h0M1044.1 284.2h0M988.3 276.7h0M1039.4 282.4h0M962.2 274.6h0M1002.1 274.8h0M995.8 290.3h0M997.2 274.1h0M997.7 269.6h0M1087.8 284.5h0M981.9 273.4h0M1032.5 273.7h0M953.6 290.2h0M987.5 273.7h0M1019.4 275.3h0M1036.1 287.4h0M954.9 286.1h0M940.5 284.2h0M884 272.9h0M955.2 275h0M1029.9 274.4h0M1054.2 277.9h0M949.2 271.8h0M959.5 277.4h0M968.2 289.1h0M927.5 278.3h0M1004.7 276.1h0M962.1 286.6h0M997.9 289.2h0M1028.6 270.2h0M1016.7 289.9h0M946.3 279.8h0M1013.9 273.8h0M953.5 282.1h0M1029.4 280.2h0M884 281.6h0M1039.4 274.2h0M1035.3 290.4h0M1026.6 276.4h0M1005.5 274.2h0M1084.9 269.2h0M1006.4 288.8h0M1011.8 284.6h0M967.6 274.9h0M925.4 288h0M1019 284.4h0M1006 281.7h0M942.3 281.6h0M1037.9 286.5h0M1100.4 272.9h0M1016.1 270.2h0M971.2 289.3h0M1055.9 282.4h0M1004.2 279.1h0M1003.1 288.9h0M1011.7 279.8h0M923.8 272.9h0M932.2 274.2h0M938.3 273.5h0M1027.2 270.1h0M987.3 286.7h0M932.2 273.4h0M1033.8 274.5h0M953.1 287.4h0M1018.3 286.2h0M988.2 279.3h0M927.6 275.9h0M980.9 273.1h0M969.6 281.3h0M997.4 282.9h0M1011 274.7h0M1002.5 289.3h0M1020.8 275h0M1062.3 281.1h0M984.7 287.4h0M981.2 270.6h0M987.3 277.2h0M1019.6 276.6h0M967.1 285h0M1004.1 270.2h0M1065.8 358.9h0M1045 350.3h0M1092.2 351.4h0M1140.2 352.3h0M956.9 354.3h0M1023.1 359.7h0M1104.7 353h0M1055.1 360.5h0M1103.6 356h0M1142.5 354.3h0M1163.8 348.7h0M1118.7 354.3h0M1129.8 368.2h0M1135.4 365.4h0M1044.3 363.5h0M988.6 368.6h0M1034.9 356.7h0M1092.6 363.4h0M1064.4 366.5h0M979.7 351.8h0M1049.5 361.6h0M1056.2 359.2h0M1015.8 359.8h0M1108.8 350h0M987.6 368.1h0M1024.4 357.5h0M1118.6 354.5h0M1143.9 349.9h0M1048.4 366.4h0M952.5 363.6h0M1094.8 365.5h0M1058.5 366.8h0M1095.2 358.8h0M1067.6 366.4h0M1017.1 352.8h0M1106.9 362.3h0M1081.1 357.2h0M1104.1 367.3h0M1100.9 349.5h0M1071 364.5h0M1071.5 360.2h0M1059.6 356.8h0M1104.7 364.6h0M1054.2 352.1h0M1123.2 357.8h0M1021 356.6h0M1115.6 350.1h0M1058.6 364.4h0M1121.6 368.6h0M1126 360.8h0M1237.5 367.2h0M1058.7 357.8h0M985.5 367.8h0M1167.5 349h0M1103.4 349.4h0M971.5 353.4h0M1083.6 366.1h0M1078.1 358.4h0M1104.1 360.6h0M1043 360.7h0M1119.5 351.1h0M1120.2 354h0M1112.5 361.8h0M1089.9 350h0M1031.1 348.7h0M1019.7 357.2h0M1047.2 362.5h0M1005.7 355h0M1091.2 360.8h0M1101 352.6h0M1109.1 369.5h0M1140.8 356.5h0M1107 356.5h0M1166.8 351.8h0M1043.1 352.1h0M1062.3 353.4h0M1034.2 356.9h0M969.8 352.1h0M1050.8 357.2h0M988.1 367.4h0M1120.3 368.5h0M1021 355.3h0M1073.8 354.1h0M1054.5 368.7h0M1097.1 359.1h0M1057.6 356.7h0M1091.5 363.9h0M1150.5 365.2h0M1006.9 359.7h0M1103.6 364h0M1121.1 359.5h0M1118.5 365.7h0M1058.8 348.6h0M995.2 361.4h0M1026.2 356h0M1157.7 350.6h0M1032 359.2h0M1066.5 353.2h0M1090.7 363.7h0M995.3 367.1h0M1098.9 370.1h0M884 363.1h0M1115 363.6h0M1079.7 362.2h0M1064.3 358.3h0M1076.9 363.8h0M1016 352.3h0M1039.9 349.8h0M1092.8 352.1h0M997.9 352h0M1087.6 350.6h0M1034.2 367.2h0M972.8 365.5h0M1055.2 348.4h0M1088.2 355.9h0M965.8 355.1h0M1090.3 360.3h0M1089.8 362.9h0M1113.4 352.2h0M1143.5 350h0M1130.8 367.4h0M1086.2 348.9h0M1125 352.9h0M1097.4 368.4h0M976.7 365.9h0M1133.8 351.6h0M1086.4 349.1h0M1086.4 358.9h0M1153.8 348.2h0M1105.5 355.4h0M1088.1 363.8h0M1023.7 356.8h0M974.8 359.7h0M1084.2 349.5h0M1137.8 355.8h0M1070.1 356.6h0M1086.1 367.3h0M1111.4 369.9h0M1018.3 358.1h0M884 359.6h0M1132.5 355.2h0M1074.5 360.8h0M1074.5 353.5h0M1089.8 349.3h0M1120.5 359.2h0M1167.3 348.7h0M1063.9 352.5h0M1042.8 367.2h0M964.7 358.9h0M1126.3 350.3h0M1036.2 364.7h0M1136.2 356.4h0M1123.8 357.4h0M1068 363.6h0M1116.7 369.4h0M1061.5 357.5h0M1066.1 349.3h0M1086.5 357.6h0M1069.3 353.3h0M1059.8 355.7h0M1137 359.6h0M959.4 356.8h0M1102.8 368.1h0M1124.6 367.5h0M1022.6 368.7h0M1086.8 365.1h0M1098.5 370h0M1097.6 357.7h0M1103.2 366.6h0M1072.7 353.8h0M1060.1 365.8h0M1076.6 362.1h0M1055.3 364h0M1058.1 369h0M1072.9 356.8h0M1060.4 362.9h0M1043.1 367.8h0M1215.8 359.8h0M1051.7 364.5h0M1163.5 354.7h0M972.5 355.2h0M1025.9 355.2h0M924.8 360.7h0M1141.6 359.6h0M1093.9 351.1h0M1122.5 363.6h0M1160.7 367.5h0M1058.7 359.3h0M1021.1 349h0M1059.5 358.9h0M976.6 357.9h0M1123.5 362.9h0M1050.3 367h0M1121.9 358.8h0M1140.4 368h0M1074.8 355.7h0M1112.1 366.7h0M1046.4 369.1h0M1125.2 349.7h0M965.4 354.9h0M1112.3 360.7h0M998.8 351.6h0M1058.6 358.1h0M1124.3 350.5h0M1056.5 359.2h0M1103.8 363.3h0M1125.1 366.9h0M938.1 365.4h0M1031.5 361.9h0M1100.2 370h0M1003 362.2h0M1029.4 361.9h0M1142.7 351.6h0M1076.3 366.4h0M976.9 348.2h0M1049.4 353.4h0M1021.9 367.8h0M1024.2 352.9h0M1082.3 366.2h0M1070.2 353.7h0M1161.6 356.2h0M1051.2 350.6h0M1071.5 357.4h0M1105.3 352h0M1075.2 356.1h0M1083.5 355h0M1124.2 351.4h0M1016.3 351.4h0M1017.1 367.1h0M1135.5 355.6h0M1098.5 368.3h0M1057.7 363h0M1161.8 365.4h0M1043.6 369.4h0M1100.3 363.8h0M1125.8 368.3h0M1092.9 354h0M1024.3 354.6h0M1115.4 366h0M1080.1 366.4h0M1047.7 364.9h0M1062.5 364.6h0M1082.2 355.7h0M1007.9 352h0M1140.1 360.7h0M1024.7 368.5h0M1083.3 363.6h0M1087.2 349h0M1079.1 358h0M1070.2 351.3h0M1068.5 348.5h0M1111.1 359.2h0M1061.6 351.6h0M1017.7 358.8h0M1037.1 354.7h0M1119.2 356.1h0M1004.7 350.4h0M994.2 369.6h0M1086.3 351.5h0M975.7 366.5h0M1094.2 362.3h0M1041.5 351.8h0M1094.9 352.3h0M1114.6 354.8h0M1128.1 359.8h0M1171.8 363.7h0M1138.5 363.9h0M1095.7 369.1h0M1054.5 358.6h0M1078.3 369.2h0M1064.3 349.1h0M1037.1 361.7h0M1084.1 350.8h0M1137.8 360.5h0M1111.4 364.4h0M1018.7 350.8h0M1105.6 357h0M1083.8 352.6h0M994.4 353.4h0M1056.1 360.7h0M1099.4 349.7h0M1085.9 363.9h0M1110.3 353.5h0M1129.1 349.3h0M1110.2 354.4h0M1063.3 355.5h0M1137 348.6h0M1090.7 369.2h0M1033.8 363.8h0M1062.4 365.3h0M1071.3 352.5h0M1015.7 367.8h0M993.1 350.1h0M1040.8 363.5h0M982 367.1h0M1107 367.3h0M1107.7 360.6h0M1088.9 364.2h0M1016.8 365.3h0M1037.3 351.1h0M1081.7 360.2h0M1067.2 364.7h0M996 360.6h0M1129.5 362.3h0M1094.1 354h0M1133.6 367.4h0M1106.1 362h0M1113.2 359.5h0M1037.4 357.5h0M1052 355.3h0M1028.8 361.2h0M1023.4 369.7h0M1109.8 357.8h0M1038.9 368.2h0M1081.7 367.3h0M1127.2 352.2h0M1097.3 367.4h0M1042 365.9h0M1078 358.6h0M1066.8 353.1h0M1116.1 364.2h0M1059.2 357.3h0M1045.5 364.5h0M1033 366.9h0M1076.4 368.3h0M1013.2 367.3h0M1122.4 367h0M1098.3 353.7h0M1131.5 348.2h0M1075.5 361.4h0M1086.8 351.8h0M1004.3 357.3h0M1145.8 351.2h0M1097.8 369.1h0M1140.2 360h0M1102 361.6h0M1097.9 352.8h0M1072.2 365.8h0M975.2 361.4h0M1078.5 349.8h0M1132.7 350.4h0M1126.7 350h0M1070.5 354h0M1075 368.4h0M1024.2 366.1h0M1028.9 355.3h0M1134.5 359h0M1056.1 351.2h0M1125.8 353h0M1124.5 364.5h0M1102.6 358.7h0M1114.4 361.2h0M1067.9 365.1h0M1033.5 368.7h0M1021.2 359.7h0M1058.6 351.7h0M1078.7 358.7h0M1063.9 369.6h0M1128.9 362.1h0M1061.3 369.9h0M1089.6 360.9h0M1092.5 443.2h0M997.7 441.2h0M1037.4 427.8h0M1080.3 431.3h0M1084.1 432.3h0M978.8 429.4h0M970.7 437.1h0M1060.1 430.8h0M990.8 432.6h0M1052.6 439.4h0M1054.8 443.3h0M1023.2 448.1h0M1008.5 430.2h0M1000.3 449.2h0M997.3 428.8h0M1007.1 439.7h0M1152.7 441.6h0M1098 437.4h0M1013.9 444.1h0M1055.4 440.2h0M989.6 430.2h0M1100.4 440.2h0M1058.1 435.6h0M1050.6 434.6h0M1050.6 435.1h0M1102.7 440.5h0M1024.3 430.8h0M985.4 435.8h0M1069.3 448.5h0M983.3 445.3h0M1014.6 428.6h0M1009.1 446h0M994.8 443h0M1094.1 449.3h0M968.1 428.4h0M1080.1 441.6h0M1029.4 435.7h0M1000.9 431.6h0M1044.1 440.5h0M1033.5 445.3h0M984.4 431.2h0M1039 433.1h0M1025.2 448.8h0M1019.2 442.4h0M1046 440.8h0M973.4 438.9h0M985.7 438.6h0M1016 446.5h0M1050.8 448.3h0M1072.6 438.5h0M992.1 437.4h0M1050.9 440h0M1044.5 448.1h0M1054 432.4h0M1066.6 434.3h0M1029.6 431.6h0M1026.9 448.3h0M1099.5 439.1h0M1093.6 436.5h0M1039.7 443.7h0M973.2 436.1h0M1024.2 428.8h0M1101.9 433.9h0M1043.7 447.6h0M1124.7 447.7h0M967 436.1h0M1082 428.3h0M986 437h0M1094.2 430.7h0M1016.2 447.5h0M1038.5 437.4h0M1042.9 435.3h0M976 439.5h0M1067 444.8h0M1075.8 445.7h0M997.7 431.2h0M1030.7 439.9h0M1018.9 429.9h0M993 432.4h0M1094.2 444.8h0M1012.6 439.6h0M972.3 428.3h0M980.7 430.3h0M971.8 429.9h0M1009.6 438.5h0M1044.1 433.1h0M1054.6 438.3h0M1059.1 441.2h0M980.8 438.7h0M1052.3 431.9h0M975 433.1h0M1008.5 437.8h0M1000.8 432.1h0M996.8 441.7h0M1009.7 434.2h0M1053.2 447.1h0M1009.9 429h0M1079.5 443.9h0M1048.5 442.3h0M1001 445.3h0M996.5 429h0M1026.7 441.2h0M1046 446.5h0M1077.4 445.7h0M994.8 445.2h0M1032.4 433h0M1117.8 438.3h0M1057.8 442h0M979.5 443.2h0M1042.2 444.4h0M1087.6 445.7h0M1019.3 431.3h0M1034.5 447h0M1042.5 430.3h0M1062.5 430.8h0M972.4 432.4h0M1086.1 445.7h0M976.4 428h0M1076.4 427.5h0M1025.2 442.8h0M1144.8 439.3h0M973.4 440.4h0M1090.2 439.9h0M973.1 438.1h0M976 432h0M1002.1 448.2h0M1057.6 438.7h0M1077.7 445.9h0M986.8 443.8h0M1032.1 439.6h0M1051.6 428.1h0M1004.2 429.2h0M1094.9 434h0M993.1 439.3h0M1055 439.4h0M1029 429.4h0M982.5 432.7h0M1062 435.7h0M974.4 438h0M1098.5 442.8h0M1054.4 430.4h0M976.2 438.3h0M1068 429.4h0M1118.7 448.5h0M1000 446.1h0M1018.8 445.8h0M1084.3 433.4h0M973.8 435.2h0M1013.6 447.3h0M1013.7 440.4h0M1114.4 429.1h0M1098.2 431.2h0M1066.3 442.8h0M1050.7 441.7h0M1102.7 438.2h0M1061.3 448.2h0M1094.2 431.3h0M1005.8 444.7h0M1025 438.8h0M1021.2 428.7h0M1029.5 431.6h0M1100.5 448h0M948.9 427.5h0M1135.7 429.3h0M1115.6 436.4h0M1090.3 438.6h0M1008.2 435.2h0M1036.8 438h0M1055.8 445h0M1076.7 439.6h0M1162 442.7h0M963 431.6h0M1085.9 439.4h0M1018.1 433.5h0M1066.1 443.5h0M1025.2 428h0M993.2 428.4h0M1075.9 431.4h0M996.5 439.8h0M1099.8 430.4h0M1081.1 437.6h0M999.4 447.1h0M990.4 444.8h0M1070.8 448.1h0M1036.5 431.4h0M1065.5 429.6h0M1058.4 443.9h0M1032 443.5h0M1033.2 440.2h0M1038.4 436.4h0M1028.4 428.3h0M1073.3 430.9h0M1102.1 435h0M1005.4 447.2h0M1066.5 438.8h0M1019.1 446.1h0M999.1 440h0M1102.4 440.1h0M971.9 441.9h0M1183.4 442.2h0M1144.8 442h0M1019.7 432.9h0M1052 433.1h0M1015.9 439.4h0M928.4 433.8h0M1084.8 441.9h0M1155.3 431.9h0M1003.1 439.1h0M1075.5 444h0M1069.1 432.7h0M984.7 436.7h0M1032.2 440h0M996.9 435h0M967.2 432.9h0M1051.5 440.9h0M1070.4 447.6h0M1100.7 429.5h0M1064.2 442.3h0M1089.8 428.1h0M1004.6 428.3h0M1090.7 436.8h0M998.6 433.1h0M1026.8 448.1h0M1085.1 430.8h0M977.6 438.3h0M1093.7 438.5h0M1054.5 429.9h0M983.7 444.1h0M1074.9 436.5h0M986.3 447.8h0M1024.1 441h0M1008.6 438.6h0M996.6 444.4h0M1011.2 435.2h0M1025.9 438.7h0M1090 427.8h0M1058.8 444.9h0M1097.5 449h0M1036.3 430h0M989 440.6h0M989.4 439.4h0M1052.5 436h0M980.2 434h0M998.4 433.7h0M989.2 433h0M1037.9 446.8h0M1128.5 442.3h0M988.2 430.7h0M1023.7 444.5h0M1007 441.2h0M1024.9 448.4h0M974.5 431.7h0M991.3 438.6h0M1069.6 442.3h0M1068 431.1h0M1074.8 442.7h0M988.2 430.4h0M1012.6 438.1h0M1018.6 434.5h0M1019.4 434.1h0M1004.4 435.7h0M968.6 439.5h0M1097 442h0M980.6 449h0M1020.7 436.1h0M1065.5 440.9h0M1038.9 445.1h0M1054 446.6h0M1087.7 440.3h0M1102.6 427.8h0M1021.6 439.3h0M1009.5 442.1h0M1012 431.3h0M1068.7 437.1h0M1077.2 446.3h0M1145 436.5h0M1066.9 443.9h0M1121.2 427.5h0M1058.3 436.8h0M1061.6 429.5h0M1123 444.1h0M1060 437.9h0M1085.4 439.2h0M1091.3 440.2h0M996.3 437.8h0M1012.6 436.9h0M983.4 427.8h0M1049.5 447.7h0M1073.2 442.7h0M983.3 427.7h0M998 427.8h0M1048.7 430.2h0M1101.7 446.3h0M1105.7 446.3h0M993.6 443h0M1061.4 436.1h0M1061.3 427.8h0M1028 439.8h0M1098.9 429.8h0M1091.9 437h0M1030.4 432.7h0M1082.5 438.5h0M1046 443.8h0M1086.9 446.5h0M1098 441h0M1062.6 440.8h0M1049.6 437.1h0M1080.2 441.7h0M1099.2 434.8h0M1092.3 436.2h0M1068.1 440.3h0M1107.6 441.1h0M1054.2 440.9h0M1056.3 431.6h0M970.6 445.2h0M1088.2 444.2h0M1044 434.2h0M1100.2 445.5h0M1022.2 431.6h0M1017.9 431.5h0M1017.9 447h0M995.6 441.8h0M1101.5 431.3h0M982.2 435.7h0M1029.3 444h0M1015.5 427.5h0M1069.5 428.9h0M1073.9 441.2h0M1100 431h0M1037.6 435.5h0M976.8 487.1h0M969.8 474.7h0M1005.3 473.7h0M1012.3 467.7h0M1056.7 477h0M1029.4 479.9h0M975.3 482.8h0M1084.3 485.2h0M1024 483.7h0M949.6 484.3h0M1024.8 487.6h0M1022.3 482h0M1066.2 470.2h0M986.1 488.9h0M985.2 483.5h0M1004.9 478.3h0M1048.4 475.2h0M969.2 467.3h0M1005.6 477.4h0M1089.7 476.8h0M933.6 483.3h0M993.8 470.5h0M968.5 473.7h0M958.3 474.6h0M1003 485.8h0M1041.4 482.5h0M973.8 472.1h0M996.7 474h0M1018.4 484.8h0M884 471.3h0M979.3 483.5h0M1035.7 482.8h0M1045.5 484.9h0M1018.7 472.3h0M996 477.7h0M993.7 476h0M983 479.7h0M1024.6 473.4h0M954.5 477.4h0M1035.8 487.8h0M967.3 485.2h0M1056 475.9h0M979.3 469.6h0M1000.2 487.4h0M1003.3 473.9h0M1012.3 474.6h0M981.4 473.9h0M1094.1 481.1h0M988.8 480.6h0M1014.5 475h0M1006.6 469.8h0M982 485.2h0M1009.2 468.6h0M999.1 467.8h0M974.5 485.9h0M1022.9 488.6h0M1039.9 485.1h0M1036.7 473.6h0M1106.7 469.2h0M1015 480h0M991.5 473h0M1040.1 468.4h0M1049.1 480.2h0M1005.4 487.1h0M1049.5 480.8h0M991.4 470.2h0M1043.2 483.2h0M1023.4 481.6h0M994.4 481.3h0M1033.2 482.7h0M1027.1 470.2h0M1020.1 468.5h0M998.2 485.7h0M884 469.4h0M971.6 482.3h0M1018.4 479.3h0M992.1 469.3h0M938.6 479.7h0M1045.5 484h0M985.9 475.2h0M990.7 485.7h0M1076.1 477.2h0M980.3 476.8h0M1020 481.5h0M944.7 482.3h0M1002.7 480.6h0M978.7 484.6h0M1006 468.2h0M948.7 482.2h0M1003.3 475.5h0M1056.2 476.3h0M1011.5 470.2h0M1026.4 488h0M992.9 480.7h0M1037.4 482.4h0M977.2 467.4h0M957.6 479.8h0M1020.4 483.4h0M1012.9 480.1h0M1019.6 482.6h0M969.4 467.9h0M1049.4 474.1h0M955 476.1h0M1035.5 472.5h0M1051.3 479h0M991.3 483.6h0M1017.3 468h0M1012.2 488.3h0M980.7 482h0M1005.8 476h0M986.5 484.7h0M1048.1 485.6h0M975.8 481.3h0M1039.5 474.8h0M884 481.8h0M999.7 482.1h0M1048.3 484.4h0M972 474.7h0M991.1 481.1h0M980.1 485.1h0M1033.4 469.7h0M1098.5 476.7h0M1013.3 480.8h0M1103.3 554.9h0M1107 567.6h0M983.3 551.8h0M1004.6 551.9h0M1043.1 551.1h0M1037.8 555h0M1123.3 566.9h0M1126.7 559h0M1093.9 567.7h0M1128.3 546.7h0M1031.4 552.2h0M1009.1 561.4h0M1013 547.1h0M1065.6 562.2h0M1151.5 548.8h0M1015.3 552.9h0M1105.6 562.1h0M1123.4 566.2h0M1122.7 551.9h0M1001.8 559.8h0M1053.7 553.2h0M1119.4 547.7h0M1055 557.1h0M1063.5 567.7h0M1022.8 553.1h0M1045.5 565h0M1013.3 560.4h0M1075.7 564.7h0M1037.9 557.8h0M1123.3 565.3h0M1130.6 557.7h0M1117.2 548h0M1119 560.5h0M1030.9 568.1h0M1048.1 564.3h0M1086.7 561.9h0M1035.4 561.3h0M1048 552.1h0M1040.8 567.7h0M1313.2 563.7h0M1108.8 546.9h0M1015 559.5h0M1023.9 564.8h0M1061.1 557.4h0M1032.7 564.5h0M1277.2 566h0M1090.9 550.2h0M1063 557.6h0M1029.5 566.4h0M1015.7 546.5h0M1045.9 548.4h0M1034.7 566.8h0M1078.8 556h0M1007.9 558.7h0M1045 567.5h0M1086.2 563.6h0M1116.8 555.2h0M1100.4 553.5h0M986.9 549.4h0M1134.6 558.5h0M1097.2 552.9h0M991.5 552.7h0M1046 553.4h0M1131.9 558.9h0M1009 557.8h0M1095.6 553h0M1099.8 566.8h0M1043.1 551.1h0M1016.1 558.6h0M1030.3 553.1h0M1054.4 549.1h0M1100.2 559.8h0M1106.7 564h0M1054.4 549.4h0M1005.7 562.3h0M1156.9 564.4h0M1004.2 551.7h0M1058.6 555.4h0M1102.4 560.9h0M1093.4 561.8h0M1003.8 560h0M1136.8 553.1h0M1089.2 568.1h0M1124.1 557.3h0M951.1 567.1h0M1038.4 560.3h0M1020.3 546.9h0M1126.5 560h0M1152.7 568.3h0M1116.1 553.1h0M1039.2 561.5h0M1078.6 551.9h0M1152.5 551.1h0M1101.8 554.4h0M1094.5 564.5h0M1076.7 565h0M979.8 561.8h0M1083.5 547.2h0M1009.8 546.4h0M1026.5 551.5h0M1125.5 552.7h0M1019.7 568h0M1011.6 565h0M1219.5 561.8h0M1096.6 566.1h0M1040.7 566.2h0M1011.3 568.3h0M980.8 562.8h0M1085.4 552h0M1014.3 563.9h0M1126.2 550h0M1132.4 566.6h0M1048.6 553.4h0M1035.2 556.6h0M1024.5 554.1h0M1101 562.9h0M1092.6 546.9h0M1092.2 551h0M1108.7 553h0M1099.1 560.5h0M1002.9 550.5h0M1049.2 559.2h0M1153.6 549.4h0M1008.8 546.6h0M1049.6 557.3h0M1079.8 554h0M1097.2 562.7h0M1026.2 558.5h0M1042.8 565.7h0M1069.8 558.1h0M1094.8 558.1h0M1049.6 567.9h0M1103.2 552.5h0M1042.8 555.1h0M1081.8 556.9h0M1037.2 556.2h0M1012.7 564.5h0M1084 561.9h0M1123.8 565.3h0M1081.7 547.2h0M1054.4 553h0M1012.3 555h0M1132.5 566.2h0M1124 560.9h0M1118 549.3h0M1063 559.5h0M1020.7 553.7h0M1136.4 558.9h0M1090.2 554.8h0M1031 563h0M1026.7 555.8h0M1092.4 568.3h0M1110.3 561.7h0M1129.5 554.5h0M1135.9 557.4h0M1152.5 561.4h0M1118.1 563.9h0M1107.3 555.9h0M1135.6 563.5h0M1087.1 554.3h0M1013.9 565.7h0M1035.4 551h0M1070.6 557.1h0M1033.7 554.5h0M1001 566.8h0M1119.8 557.3h0M1080.7 553.4h0M1106.5 553.2h0M1129.1 567.5h0M1014.6 556.3h0M1026.7 550.4h0M1050.8 565.6h0M1012.8 563.4h0M1037.3 552.4h0M1009.5 553.5h0M1028.4 561.7h0M1123.8 567.2h0M1115 559.6h0M1048.3 551.8h0M1040 548.7h0M1066.7 561.2h0M997.4 567.7h0M1035.8 556.8h0M999.8 557.5h0M1104.6 555.5h0M1132.2 555.4h0M1106.7 563.6h0M1114.6 563.1h0M1100.2 557.3h0M1021.5 568.1h0M1085.9 559.3h0M1152.6 555.6h0M1021.5 557.6h0M1009.3 563.3h0M1039.9 549.3h0M1025.3 561.8h0M1097.7 555.7h0M1098.9 546.6h0M1086.1 546.5h0M1056.1 567.9h0M1149.2 568.2h0M1018.2 552.9h0M1138.9 565.4h0M1115.8 564.6h0M1035.9 568h0M1105.9 549.6h0M1095.1 549h0M1135.5 567.8h0M1051 563.9h0M1045.8 547.5h0M1110.7 549h0M1130.1 557.9h0M1016.1 546.5h0M1078.3 558.1h0M1048.6 564h0M1107.7 555.4h0M1092.6 557h0M1087.5 566.7h0M1058.5 548.8h0M1127.8 561.9h0M1016.4 560.9h0M1000.4 549h0M1042.6 558.2h0M1039.7 560.6h0M1004.7 551h0M1049.4 567.7h0M1047 564.6h0M1093 563.3h0M1047.7 557h0M1064 556.7h0M1003.5 554.9h0M1085.3 561.9h0M1031.8 546.8h0M975.6 566.8h0M1029.6 551h0M1077.3 558.3h0M984 550.7h0M1081.3 553.3h0M1118.2 559.5h0M1124.7 562.8h0M1059.7 556.2h0M1137.8 565.6h0M1099.7 561h0M1116.3 551.3h0M1090.4 547.5h0M1007.6 546.8h0M1098.6 558.1h0M1043 557.7h0M992.5 566.4h0M1045.7 549.3h0M1127.2 555.1h0M1074.4 556.4h0M1116.6 547.9h0M1033.1 556.3h0M1043.2 552.4h0M1112.2 553.2h0M1074.7 561.2h0M1008 551.7h0M1090.9 562.9h0M1118.6 557.2h0M998.4 559h0M1025.2 555.3h0M1055.6 565.7h0M1074.2 562.7h0M1002.3 568.2h0M1038.4 553.5h0M1006.1 553.2h0M1008.8 556.7h0M1096.9 558.7h0M1012.6 567.6h0M1102.6 568.1h0M1127.2 563.7h0M1039 567h0M1085.5 559.7h0M1139.1 548.1h0M1000 553.9h0M1062.1 562.3h0M1041.4 561.7h0M1123.1 554h0M1092.1 556.2h0M1230.3 546.7h0M1014.2 567.9h0M1073.1 564.9h0M1030.6 549.5h0M1126 564h0M1100.6 558.8h0M1029.5 548.4h0M1044.8 555.6h0M1138.3 568h0M1110 550.6h0M1106.9 552.7h0M1066.3 565.5h0M1096.9 550.7h0M1070.7 558.9h0M1086 552.2h0M1105 560.6h0M1103.9 560.2h0M1001 555h0M1151.4 548.5h0M1075.3 567h0M938.1 556.8h0M1028.8 550.1h0M1083.7 560.1h0M1107 557.5h0M1069.7 553.9h0M1082.3 553.1h0M1096 557.6h0M1082.4 560.2h0M1094.8 553.8h0M1024.5 555h0M1002.9 560.6h0M1120.4 566h0M1127.4 557h0M1094.9 563.1h0M1048.2 550.3h0M1071.3 565h0M1020.5 551.8h0M1055.3 557.4h0M1094.3 547.1h0M1049.9 553.3h0M1127.2 564.5h0M1010.7 551.3h0M1014 549.4h0M1012.3 563.5h0M1075.8 559.5h0M1098.4 548h0M1089 567.5h0M1006 557.3h0M1056.7 557.3h0M1031 549.2h0M1037.1 549.2h0M1019.4 563.6h0M980 548.8h0M1111.5 567h0M1142.5 568.2h0M1105.9 548.6h0M1132.6 546.6h0M1124.6 546.6h0M1022.3 561.1h0M1030.7 556.7h0M1096.9 564.9h0M1021.8 556.9h0M1062.3 557.2h0M1094.5 551.6h0M1000.1 547.8h0M1077.5 546.8h0M1013.7 555.2h0M1144.5 546.6h0M1114 560.5h0M1028.4 557.3h0M1104.4 565.8h0M1071 564.2h0M884 554.6h0M1051.1 549h0M1128.7 559.9h0M1126.9 548h0M1117.2 564.8h0M1006.8 563.6h0M1075.3 546.7h0M1082.7 560.2h0M1085.9 567.1h0M1131.3 566.6h0M1120.1 552.9h0M1076.8 562.1h0M1069.2 567.8h0M1072.4 560.5h0M1008 555.4h0M1077.7 557.7h0M1126.6 552.7h0M1091.5 567.6h0M1145 552.5h0M1058.2 551.4h0M1112.6 551.4h0M993.4 552.9h0M1116.2 559.1h0M1007.7 547.6h0M1071.5 555.6h0M1014.1 554.6h0M1015.9 559.8h0M956.1 567.6h0M1159.4 548.2h0M1137.4 548.2h0M1081.7 565.7h0M1084.9 562.5h0M1061.4 552.1h0M1111.2 562.4h0M1061.7 549h0M1008.7 567.3h0M1087.6 565.4h0M1079 549.3h0M1087.6 554.2h0M1081.1 564.7h0M1069 558.3h0M1081.3 562.5h0M1043.9 550.4h0M1159 551.9h0M1030.8 549.4h0M1033.7 565.9h0M1049.6 562.1h0M1092.7 554.5h0M1011.6 564.8h0M1114.7 566.4h0M1082.7 552h0M1062.3 546.7h0M1065.6 563.4h0M1101.9 565h0M1001.1 550h0M1096.1 555.1h0M1016.2 548.1h0M1060.2 557.1h0M1114.7 567.7h0M1085.1 565.2h0M1097 561.2h0M1008.3 553.4h0M1049.3 558.5h0M1111.9 551.1h0M1013.7 567.6h0M1100.2 561.9h0M1023.1 547.7h0M1102.9 563.5h0M1073.9 561.7h0M1118.3 555.8h0M1018.9 561.8h0M1187 564.1h0M1030.1 554.3h0M1016.9 563h0M1130 557.1h0M1001.8 567.1h0M1056.7 548.7h0M1029.1 554.7h0M1052.7 567.9h0M1067.2 562.7h0M1055.5 555.5h0M1004.8 561.6h0M1068.7 549.9h0M1134.4 548.2h0M1081.8 562.6h0M1071.1 560.1h0M1029 551.6h0M1031.4 547.8h0M1077.3 562.7h0M1042.3 566.6h0M1009.6 554.3h0M1051.9 563.3h0M1113.5 557.4h0M1056.8 559.7h0M1041.4 553.5h0M1005.3 553.1h0M1101.3 550.3h0M1087 565.2h0M1060.8 561.6h0M1126.6 565.8h0M1128.9 553h0M1087.7 556.8h0M1055.6 568.2h0M1008 561.1h0M1075.7 565.9h0M1088.8 552.1h0M1069.2 559.4h0M1018.1 548.9h0M1006.9 566.8h0M1142.7 565.9h0M1079.9 546.8h0M1098.4 546.6h0M1056.4 549.2h0M1103.2 565.9h0M1098.9 559.5h0M1003.9 560.6h0M1055.2 559.4h0M1015 546.4h0M1011.1 549.2h0M1136.5 566.8h0M932.3 554.1h0M1068.2 555.8h0M1007.3 563.5h0M1017.8 558.3h0M1016.9 566.1h0M1139.1 559.3h0M1106.5 546.9h0M1031.2 562.2h0M1013.4 553.9h0M1011.5 567.4h0M1005.1 567.6h0M1108.2 556.9h0M1145.5 568h0M1146.3 551.9h0M1127.2 554.6h0M1054.2 552.7h0M1009.6 548h0M1081.3 554.3h0M1124.7 566.4h0M1035.9 554.8h0M1016.6 551.1h0M1129.4 547.4h0M1043.9 546.6h0M1063.3 560.5h0M1126.9 567.5h0M1056.7 561.6h0M1142.9 548.9h0M1055.4 551.2h0M1143.2 562.6h0M1138.8 546.4h0M1057 556.4h0M980.8 638.8h0M1111.5 634.7h0M1013.3 636.8h0M1004.7 630.1h0M1107.4 626.2h0M1062.7 643.9h0M1091 645.5h0M1102.6 629h0M1080.8 639.3h0M1016.3 632.8h0M958.6 629.4h0M977 626.1h0M1055.9 645.4h0M982.1 645.8h0M1096.9 641.2h0M1070.6 626.7h0M1059 641.9h0M1101.8 635.1h0M1039.6 633.4h0M977.1 625.8h0M996.6 630.8h0M1124.9 636.8h0M979 625.8h0M952.2 637.8h0M998.2 643.7h0M976.4 635.7h0M1049.2 630h0M994.2 632.4h0M1005.2 645.8h0M1064.8 627h0M1048.1 647h0M1097.6 634.1h0M1074.3 646.8h0M1039.1 645.8h0M994.8 636.5h0M1062 635.1h0M983.1 643.9h0M1110.9 632.4h0M1042.2 625.9h0M977.1 630.5h0M1001.1 646.8h0M946.3 631.4h0M988.2 632.4h0M991.2 631.8h0M1099.7 630h0M1039.7 633.5h0M1018.4 636.1h0M994 626.6h0M969.4 631.8h0M950.4 628.2h0M988.3 642.8h0M990.1 633.9h0M1100.1 645.8h0M1006.5 634h0M1052.9 639.4h0M1062.9 640.6h0M989.3 631.7h0M1082.4 644.1h0M1090.4 647.4h0M1092.1 645.6h0M966.3 629.7h0M1104.7 647.1h0M1113.9 631.1h0M1005.9 639.6h0M1020.2 629.9h0M1075.8 629.9h0M1097.9 639.5h0M1103.5 630.5h0M1045.4 647h0M1030.8 627.7h0M1020 630h0M1079.3 636h0M1090.7 644.8h0M1010 626.5h0M1024.3 642.2h0M1126.1 636.7h0M1106.5 639.2h0M1102.9 635.3h0M1095.9 643.7h0M1080.4 627h0M1042.8 631.3h0M977 635.5h0M1076.6 639.7h0M990.2 632.9h0M1049.9 642.7h0M1010.9 642.9h0M1077.9 647.3h0M978.7 644.4h0M969.7 626h0M952.3 639.6h0M1088.7 633.7h0M1014.3 643.5h0M969 642.6h0M1027.5 640.5h0M988.9 633.5h0M1037.9 625.7h0M1029.9 627.2h0M1057.6 636.6h0M1089.9 643h0M1100.2 646h0M1092.5 628.9h0M988.7 639.4h0M1007.6 631.5h0M1021.3 646.8h0M1077.6 636.5h0M1076.8 647.4h0M979.6 636.2h0M1092.9 634.1h0M958.3 636.1h0M1017.1 635.6h0M1103.2 630.9h0M1171.5 626h0M1033.7 631.6h0M976.2 646.1h0M980.5 635.4h0M1077.8 630h0M971.7 626.5h0M981.7 629.2h0M966.3 639.1h0M971.6 642h0M1039.4 640.1h0M1031.1 634.1h0M1072.9 645.2h0M1023.4 631.6h0M1017.5 627.3h0M957.5 633.7h0M997.6 635.9h0M1029.8 627.2h0M973.5 644.6h0M1047.8 644.3h0M1121.4 645.5h0M1011.2 629.2h0M1016.4 636.9h0M970.6 633.2h0M974.1 630h0M997.9 630.7h0M1058 644.5h0M989.5 632.8h0M1056.7 643.5h0M1060.7 642.7h0M985.6 639.6h0M960.9 632.5h0M1052.6 628.2h0M1118.4 641.9h0M1103.9 641.4h0M1079.9 645h0M1094.8 636.4h0M1078.8 626.8h0M1080.7 631.2h0M1078.2 644.5h0M1029.1 627.8h0M1016.3 632.4h0M1068.2 629.9h0M1044.6 625.9h0M1102.8 646.6h0M1081.5 628.8h0M991.5 633.6h0M1012.9 633.9h0M1103.5 637.3h0M1004 642.6h0M1083.5 633.7h0M993.9 646.7h0M967.6 627.5h0M979.3 627.3h0M1033.5 644h0M978 637.2h0M1011.2 635.8h0M959.8 630.4h0M1007.1 642.6h0M1105.8 645.8h0M1096.1 633.1h0M1022.3 646.5h0M1101.4 632.2h0M976 633.6h0M1009.8 640.3h0M1068.1 641.9h0M985.9 640.1h0M983.7 633.1h0M991.1 644.7h0M1167.5 628.3h0M948.1 631.3h0M1126.9 644.2h0M1087.8 644.7h0M998.3 636.5h0M1068.5 641.7h0M1106.1 641.1h0M1130.3 639.5h0M1011.1 633.6h0M1053.9 643.6h0M1041.2 635.5h0M1120.9 637.6h0M1111.5 635.8h0M1131.4 643.8h0M966.3 633.8h0M1057.7 634.3h0M1007.5 635h0M1083.3 647.3h0M1025.1 640.8h0M1008.7 632.2h0M1077.2 641.5h0M1083.1 643.1h0M979.8 644.7h0M1091.6 647.3h0M1078.5 636h0M1071.5 636.2h0M963.4 629.3h0M1113.7 628.8h0M1014.2 631.7h0M1027.1 633.5h0M956.6 626.5h0M1062.5 632.5h0M1033.9 635.3h0M992 647.3h0M1065.5 632.3h0M1074.5 638.7h0M1102.4 646.9h0M1006.4 628h0M1099 626.9h0M1006.1 626.3h0M1036.7 645.3h0M1025.9 641.6h0M979 646.3h0M1070.2 646.1h0M1081.5 632.1h0M1019.6 631.1h0M1018 631.7h0M1030.2 626.1h0M1087.9 631.3h0M1024.8 644.1h0M1053.1 633.7h0M984.9 647.2h0M1116.3 628.3h0M967.8 646h0M1063.6 627.8h0M966.2 645.3h0M1023.9 645.1h0M992.1 644h0M973.5 632.5h0M981.4 632.5h0M997.7 635.3h0M1029.8 630.1h0M1051.4 633.7h0M1054.3 626.4h0M1084.3 641.9h0M957.9 633.3h0M1012.6 629.8h0M1068.7 625.8h0M1040.6 641.5h0M998.9 631.3h0M1102.3 637.6h0M964.7 637.5h0M1019.1 640.7h0M1051.4 628.7h0M1020.5 642.9h0M1012.6 638.2h0M1065.2 633.6h0M960.9 634.6h0M1092.3 631.6h0M999.2 628.1h0M1147.3 641.5h0M973.5 627.9h0M1104.5 724.8h0M998.4 726.8h0M1063.3 711.5h0M1025.2 718h0M1066.8 716h0M1099 710.5h0M1102.2 706.2h0M1092.4 715h0M884 711.9h0M1024 721.7h0M1033.9 709.8h0M1022.7 710.4h0M1158.1 717.6h0M989.3 711.1h0M1085.5 719.1h0M1045.5 716.6h0M985.6 724.9h0M997.3 714.9h0M1009.1 708.5h0M1066.3 716.8h0M991.1 706.2h0M1024 708.4h0M1032.7 708.9h0M1112.7 712.2h0M1084.4 713.9h0M1069.6 724.4h0M1017.6 725.9h0M1018.5 716.9h0M977.9 712.1h0M974.9 720.2h0M1075.3 710h0M976.4 708.8h0M1066.3 725.5h0M975.8 708.9h0M1052.3 719.4h0M1001.2 714.5h0M1098.6 710.2h0M1022.8 709.8h0M1005.1 714.2h0M988.4 724h0M986.8 725h0M1102.6 707h0M1117.1 711.1h0M1042.7 717.2h0M990.9 714.2h0M1087.6 706.1h0M1025.6 705.7h0M1105.2 717.3h0M995.1 722.8h0M1086.1 709.3h0M1136.5 708h0M1039.7 706h0M1063.3 725.8h0M1013.6 711h0M1034.4 711.3h0M1020.9 715.6h0M1044.9 726.5h0M1061.1 704.9h0M1028.8 725.8h0M1151.4 746.3h0M1101.9 759.3h0M1075.5 752.5h0M1156.7 766.4h0M1038.6 752.4h0M1035.4 756.3h0M1074.6 757h0M1127.2 760.9h0M1095 760.6h0M1083.6 748.6h0M1062.1 761.9h0M994.7 746h0M1154.4 759h0M1153.7 752.1h0M972.4 764.8h0M1124.7 752.5h0M1143.7 762.9h0M1132.7 748.8h0M1089.7 749.6h0M1026.7 744.6h0M1159.1 747h0M1052.5 762.7h0M1175.5 747.6h0M1057.8 762.3h0M1148.2 766.3h0M1093 749.4h0M1050.4 756.6h0M1159.9 747.5h0M1123 752.1h0M1135.8 764.7h0M1102.4 752.9h0M1147.1 750.5h0M1048.2 747.1h0M1122 745.2h0M1015.9 762.1h0M1046.8 765.6h0M1162.9 747.8h0M1140 761.9h0M1086.6 754.6h0M1022.2 762.5h0M1094.8 749.2h0M1063.3 761.3h0M1155.6 757.2h0M1145.7 757.2h0M1112.8 763.9h0M1156.8 750.7h0M1140.7 764.3h0M1111.5 750.2h0M1065.6 752.6h0M1148 763.7h0M1106.2 747.4h0M1018 757.5h0M1050.8 754.1h0M1132.8 747.6h0M1117.1 750.5h0M1104.3 749.1h0M1110.7 750.7h0M1053.5 759.9h0M1126.3 764h0M1036.9 759.9h0M1024.8 756.5h0M1029.7 746.1h0M1038.6 760.3h0M1081.6 758.5h0M1021.6 755.8h0M1029.2 765.6h0M1159.3 757.9h0M1162.7 755.8h0M1052.5 750.7h0M1087.9 765.1h0M1056.6 748.6h0M1155.9 756.3h0M1018.1 758.7h0M1174.5 761.9h0M1087.5 750.9h0M1090.5 749.2h0M1151.6 750.7h0M1136.3 744.6h0M1147.3 766.4h0M1119.1 749h0M1044.3 747.6h0M1083.5 757.6h0M1040.7 752.2h0M1057 766h0M1155.5 760h0M1161.3 749.1h0M1119.7 755.8h0M1062.7 748.4h0M1152.6 751.7h0M1050.7 761.1h0M1100.9 753.3h0M1175.4 755.3h0M1116.1 755.9h0M1075.8 750.6h0M1168.3 761.5h0M1167.6 757.6h0M1089.4 765.3h0M1118.8 759.9h0M1171.4 765.3h0M1070.6 760h0M1137.9 752.4h0M1116.8 750.3h0M1068.7 756.4h0M1055.8 753.2h0M1120.8 749.9h0M1161.9 757.1h0M1130.2 764.6h0M1098.7 749.6h0M1147.5 752.7h0M1129.8 748.9h0M1034.5 751.4h0M1161.5 757.8h0M1125.4 762h0M1142.4 750.7h0M1126.6 765.3h0M1163.2 748.2h0M1125.9 750.6h0M1160 764.8h0M1022.6 755.9h0M1103.7 747.7h0M1111.5 753.8h0M1076.3 750.6h0M1093.1 744.5h0M1159 759.2h0M1035.9 763.7h0M1174.7 756.5h0M1050.6 760.2h0M1108 764.2h0M1024.1 746.7h0M1140.6 748.1h0M1038.9 753.6h0M1040 764.1h0M1172.7 746.6h0M1138.7 757.8h0M1154.3 756h0M1058.9 765.1h0M1028.3 748.2h0M1159.9 750.1h0M1166.1 753.5h0M1031.6 760.8h0M981.4 757.3h0M1126.1 758.2h0M1173.2 750.6h0M1028.4 746.8h0M1099.9 766.4h0M1092.2 764.2h0M1042.1 766.1h0M1079.9 746.2h0M965.5 755.2h0M1040.1 755.9h0M1142.5 745.9h0M1157.6 752h0M1066.8 757.5h0M1113.2 755.5h0M1065 765h0M1025.9 752.5h0M1155.7 766.5h0M1027.7 766.4h0M1030.9 746.2h0M1226.7 749.7h0M1107 745.9h0M1159.3 747.3h0M1145.4 751h0M1069.7 750.7h0M1174.2 751.8h0M1115.1 760.9h0M1156 762.4h0M1131.7 763.3h0M1105 757.9h0M1040 760.6h0M1003 745.8h0M1141.6 746.4h0M1153.2 760.3h0M1068.1 837.8h0M1054.1 827.1h0M1108.2 826.4h0M1037.5 840.5h0M1085.2 832.7h0M1129.5 831.4h0M1040.7 842.6h0M1088.4 841.6h0M1077.3 833h0M1087.9 840h0M1113.6 842.2h0M1016.1 824.9h0M1031.2 835.9h0M1042.4 831.3h0M1050.7 837.2h0M1007.1 835h0M1047.5 840h0M1089.6 837.6h0M1051.4 830.2h0M1027.1 841.9h0M1174.8 826.8h0M1104.6 842.7h0M1084.6 834.7h0M993 829.6h0M1064.1 842h0M1061.5 841.6h0M1087.4 829.9h0M1019.7 845.4h0M1132.1 824.8h0M1025.6 831.3h0M1078 833.5h0M1122.1 832.2h0M1223.1 829.3h0M1123.3 827.4h0M1124.7 827.5h0M1145.8 827.4h0M1103.9 835.1h0M1119.3 829.7h0M1065.5 834.9h0M1096 824.6h0M1130.8 826.9h0M1046.2 841h0M1085.9 843.1h0M1104.1 840.5h0M1078.2 829.8h0M1085.4 825.4h0M1025.3 839.2h0M1006.7 833.5h0M1061 841.6h0M1170.1 832.7h0M1097.3 825.1h0M1129.9 827.1h0M988.8 830.4h0M1031.3 825.3h0M1168.3 830h0M1096.9 833.7h0M1095.6 824.6h0M1218 832.4h0M1137.8 831.3h0M1097.3 844.5h0M1085.7 836h0M1096.7 832.6h0M1033.2 837.2h0M1117.3 826.6h0M1112.1 832.7h0M1007.4 838.6h0M1054.7 840.1h0M1034.4 838.1h0M1030.7 830.5h0M1054.3 835.2h0M1004.6 839.9h0M1076.1 829.2h0M1099.5 824.2h0M1150.5 837.9h0M1068.5 835.4h0M1054.6 832.6h0M1044 834.7h0M1080.9 833.2h0M1020.6 832.2h0M1045.7 840.6h0M1060.4 824.3h0M1127.4 824.9h0M1055 833.1h0M1118.1 835.6h0M1052.6 843.3h0M1000.6 838.3h0M1074.6 843.5h0M1044.6 835.4h0M1131.7 843.2h0M1019.8 841h0M1099.1 829.3h0M1032.7 835.9h0M1047.5 825.8h0M1079 838h0M1055.5 833.2h0M1038.3 840.4h0M1174.2 839.6h0M1056.4 842.7h0M1015.7 839.1h0M1083.8 844.4h0M1074.3 825.6h0M1003.8 840.3h0M1045.1 839.4h0M1034.2 843.5h0M1031 830.3h0M1072.5 841.1h0M1148.4 831.9h0M1050.6 830.9h0M993.3 834.5h0M1052.3 845.5h0M1125.4 833.8h0M1052 843.4h0M1065.1 824.7h0M1039.8 836.4h0M1038.7 824.5h0M962.6 842.6h0M1027.1 841.1h0M1094.8 827.3h0M1153.4 831.1h0M1156.2 838.8h0M1079.9 840.8h0M1038.9 838.7h0M1133.7 839.1h0M1008.6 835.7h0M1020.5 844.8h0M972.7 838.9h0M1058.2 830.1h0M1050.6 833.4h0M1124.2 842.6h0M1012.3 832.3h0M1092.6 842.9h0M1040.2 844.9h0M1115.3 837.1h0M1039.1 843.7h0M1074.1 829.2h0M1046.9 843.5h0M1023.1 833.2h0M1087 837.2h0M1097.3 836.9h0M1021.2 843.7h0M1092.2 831.5h0M1041.4 832.1h0M1061.8 836h0M1088 833h0M1146.8 827.7h0M1036.2 828.7h0M1033.3 833.2h0M1144.8 832.5h0M1076.4 823.8h0M1122.8 826.5h0M1123.2 828.6h0M1089.4 825.6h0M1119.1 837h0M1041.5 840.9h0M1083.5 839.9h0M1060.3 831.1h0M1080.6 827.6h0M1107.4 834.5h0M1029.1 843.7h0M1008 831h0M1121.2 828.8h0M1071.9 833.7h0M1039.6 845.6h0M1121.1 840h0M1024.4 835.4h0M981.4 825.4h0M1092.1 836h0M1098.6 837.6h0M1108.4 825.3h0M1110.4 833.2h0M1090.5 832.2h0M1167.8 828.4h0M1094.2 842.5h0M1070.1 831.4h0M1032.7 825.1h0M1059.7 837.7h0M1114.3 826.7h0M1125.1 825.8h0M991.7 833.1h0M1029.5 835.2h0M1165.3 828.6h0M1020 828.8h0M1039.8 839.2h0M1166.1 826.8h0M1048.8 826.2h0M1021.7 839.6h0M1159.3 829.5h0M1090.4 824h0M1131.3 830h0M1071 828.7h0M1023.4 843.7h0M1087.7 843.3h0M1082.2 830.7h0M1085.9 835h0M1156.8 845.3h0M1094.2 833.4h0M999.8 844.2h0M1027.6 843h0M1012.3 831.5h0M1108.4 838.7h0M1052.4 833.9h0M1087.6 830.8h0M1088.7 835.9h0M1065.5 836.8h0M949.1 922.4h0M1043.5 924.4h0M1055.1 916.1h0M974 909.8h0M1047.1 922h0M992.3 911.5h0M1040.1 910.3h0M1054.9 917.7h0M1067.6 919.6h0M946.8 917.9h0M983.4 905.5h0M928.2 920.9h0M944.5 909.9h0M1050.7 908h0M1016 917.6h0M1061.7 914.9h0M987.1 905.3h0M961.8 922.2h0M984.5 921.3h0M959.4 916h0M1002.7 916.9h0M929.4 916.5h0M1010.4 923.9h0M937.8 924.6h0M943 909h0M1041.7 921.5h0M932.1 918.8h0M993.6 916.7h0M945.4 911.1h0M1028.5 903.4h0M960.6 921.1h0M1047.6 913.2h0M991.2 920h0M1104 906.4h0M983.5 916.3h0M934.6 911.4h0M961.2 911.2h0M1010.1 904.7h0M978.6 919.2h0M935.5 916.4h0M1038.8 910.7h0M1096.8 920.7h0M987.5 903.7h0M1056.5 907h0M977.5 920.2h0M1030.9 920.5h0M962.9 923.8h0M1010.5 903.7h0M985.7 911.9h0M928.6 908.6h0M1020.6 912.2h0M994.6 917h0M1038.6 919.7h0M1006.9 914.9h0M1013.3 909.8h0M932.5 919.5h0M1022 914.8h0M1039.4 905.3h0M952.1 910.9h0M1041.1 923.9h0M965.1 912.8h0M942.9 911.5h0M1040.6 908h0M1054 904.5h0M985.4 904.9h0M884 924.2h0M1029.8 910.7h0M991.3 924.3h0M978.6 913.7h0M972.8 907.9h0M1086 922.4h0M1002.6 914.2h0M1037 908.7h0M948.7 923.8h0M1024.6 923.1h0M998.4 912.1h0M983.2 924.7h0M1048.8 912.7h0M946.8 915.3h0M1020.3 917.2h0M984.4 921.2h0M950.5 910.9h0M1048.2 913.4h0M1020.7 914.5h0M931 916.7h0M957.8 908.5h0M1054.7 924.8h0M929.4 917.8h0M1047.2 923.3h0M996.2 917.7h0M1022.4 914.7h0M946.9 921.2h0M958.9 910.7h0M946.7 923.9h0M1009.9 924.8h0M884 914.2h0M966.1 924.7h0M946.6 911.6h0M997.2 914.3h0M967.6 904.5h0M1047.7 910.9h0M986.6 914.7h0M941.2 908.2h0M1036.6 916.1h0M993.7 914.4h0M927.2 910.1h0M1016 922h0M1033.9 911h0M972 916.2h0M928.4 907.1h0M981.2 912.5h0M1037.3 914.9h0M1044.3 904.5h0M983.8 906.8h0M996.7 922.9h0M1003.8 918.5h0M943.1 903.1h0M956.4 922.2h0M983.6 906.2h0M1013.1 915.5h0M1029.3 905.4h0M929.8 908.9h0M954.5 914h0M979.5 911h0M975.7 924.8h0M1007.6 912.9h0M953.6 922.3h0M1055.4 924.4h0M930 905.4h0M1050.4 908.4h0M938.2 919h0M979 924.6h0M1026.8 917.5h0M1022.2 916.5h0M989.1 921.9h0M1019.3 908.5h0M936.5 914.3h0M1059.7 907h0M937.1 922h0M939.9 914.7h0M986.7 917.4h0M1003.2 912.3h0M1025.3 921.1h0M982 917.5h0M1020.2 910.2h0M998.1 924.2h0M972.1 911.6h0M999.6 911.6h0M956 918.5h0M949.3 905h0M954.1 918.3h0M1017.9 913.3h0M961.8 913.7h0M954.2 918.3h0M1055.5 922.3h0M981 920.3h0M1040.5 915.7h0M1056.9 913.3h0M942.2 906.5h0M1044.8 916.6h0M1011 903.3h0M934.7 913h0M946.4 915.3h0M968.5 921.7h0M1043.9 914.8h0M1025.6 920.3h0M952.5 924.9h0M960 922.7h0M1048.9 907.7h0M942.8 916.5h0M1048.2 905.5h0M968.5 915.9h0M975.1 918.6h0M1032.5 906.6h0M1023.8 917.6h0M1008.2 913.3h0M1049.6 904.7h0M953.7 924.1h0M988.2 921.7h0M959.8 921h0M974.7 916.1h0M949.3 907.5h0M983.9 907.7h0M995.1 917h0M1015.9 924.2h0M1037.1 911.8h0M1005 922.7h0M995.8 905h0M927.4 915.5h0M943 920.1h0M997.3 911.3h0M1002.6 918.7h0M952.6 914.8h0M975.4 907.7h0M1032.4 916.9h0M992.2 903h0M977.9 920.8h0M1055.5 907.8h0M984.2 916.6h0M1051.2 911.5h0M1038.2 916.3h0M927.7 919.1h0M973.8 922.4h0M951.2 909.7h0M1030 921.7h0M989.8 923.6h0M973.8 905.7h0M953.4 913.1h0M979.5 922.6h0M987.9 912.6h0M973.3 918.4h0M953.7 910.1h0M1045.9 915.6h0M964.8 919.2h0M1036.1 909.5h0M997.2 916.8h0M1002.7 905.6h0M961 910.8h0M1031.5 906h0M884 903.9h0M1056.9 915.6h0M1050.4 923.7h0M1054.7 921h0M1015 915.6h0M986.4 908.2h0M968.7 908.2h0M948.6 904.6h0M1030.5 914.1h0M975 918.6h0M992.9 905.9h0M1051.4 910.8h0M975.2 914.8h0M1024.5 905.9h0M950.7 920h0M975.9 924.7h0M1012.2 911.7h0M953.8 910.1h0M1006 910.1h0M1045.3 903.9h0M1029.8 918h0M1005.4 912.4h0M1010.1 912.4h0M1047.4 915.1h0M1028.2 913.9h0M998.2 915.1h0M1038.9 912.4h0M1045.9 911.5h0M955.6 912.5h0M1042.2 910.6h0M1043.6 906.8h0M974.3 916.2h0M1063.1 906.7h0M951.6 919.8h0M1024 907.3h0M1002.4 922.3h0M984.8 924.7h0M1022.6 917.2h0M931.3 922.8h0M1004.5 905.3h0M946.9 911h0M946.2 912.2h0M926.8 914.8h0M993.1 916.3h0M1036.6 914.6h0M975.2 912.3h0M985.6 908.6h0M1048.9 924.5h0M1016 910.3h0M932 921.3h0M972.2 921.6h0M942.8 907.8h0M983.2 904.5h0M999.8 903.8h0M1019.7 922.7h0M1032.5 920.9h0M1057.8 908.6h0M967.4 904.5h0M930.8 924.7h0M884 909h0M1059.8 903.7h0M1058.1 916.7h0M1006.2 903.7h0M991.8 907h0M997.5 918h0M1023.2 905.6h0M994.4 911.3h0M938.8 915.5h0M884 918.6h0M977.1 916.3h0M1030.8 909.4h0M988.6 907.6h0M963.6 919.8h0M1048.9 923.9h0M1025.4 907.1h0M1030.5 913.9h0M1050.2 916.8h0M1036.6 910.7h0M995.8 908.4h0M1070 913h0M1048 923.5h0M1036 910.4h0M964 904.3h0M1004.4 907h0M1048.4 990.4h0M1071.5 989.1h0M1098 987.2h0M1060.7 987.7h0M1047.6 999.5h0M1140.9 1001.2h0M1063.6 997.2h0M1025.7 995.3h0M1041.2 1001.1h0M1155.8 1004.1h0M1093.3 999.8h0M1019.7 989.1h0M1050.8 995.6h0M1061.4 996.6h0M1048.6 997.1h0M1056.4 991.5h0M1023.3 993.1h0M1025 994.9h0M1045.3 982.6h0M1072.1 1002.6h0M1150 1003.7h0M1055 994.8h0M1065.5 984.6h0M1086.9 992.2h0M1123.2 982.9h0M1061.5 987.9h0M1097.4 995.1h0M1051.9 1001.4h0M1052.7 1002.1h0M1109.2 997.4h0M1055.2 996.9h0M1052.5 995.1h0M1132.1 990.4h0M1062.3 986.8h0M1108.2 1002.9h0M1149.5 997.6h0M1154.9 990.7h0M1149 992.1h0M1101.1 983.7h0M1058.7 989.1h0M1078.6 989.6h0M1107 996.3h0M1058.1 983.4h0M1059.7 998.6h0M1085.5 985.4h0M1078 991.5h0M1070 1003.3h0M1079.2 986.6h0M1017.7 987.3h0M1038 990.6h0M1096.5 994.3h0M1035.4 1003h0M1096.7 991.2h0M1095.7 998.1h0M1128.7 985.5h0M1144.2 990.2h0M1040.1 995.9h0M1150.1 1000.5h0M1032.4 1000.1h0M1128.2 994.9h0M1037.4 994.1h0M1042.8 990.7h0M1075.7 987.6h0M1108.2 999.1h0M1091.4 1003h0M1068.5 1003.6h0M1067.5 988.5h0M1100.1 1000.3h0M1150.6 995.7h0M1095.1 1003.8h0M1052 1002.6h0M1070.5 993.5h0M1095.9 998.3h0M1060.5 1002.6h0M1060.4 1003.1h0M1118.9 999.1h0M1032.1 995.6h0M1035.3 996.4h0M1070.6 988.7h0M1042.5 985.6h0M1071.1 998.9h0M1023.1 999.3h0M1070.3 999h0M1032.2 988.1h0M1097.5 987.1h0M1037.6 1003h0M1037.8 986h0M1056.1 995.7h0M1026.2 1004.1h0M1114.1 992.1h0M1097.4 996.1h0M1091.4 989.1h0M1103.8 1003.6h0M1054.2 984.5h0M955.1 996.7h0M1071.2 1003.8h0M1054.6 1001.2h0M1024.2 1004.2h0M1055.7 991.9h0M1102.6 982.4h0M1101.9 993.3h0M1037.8 995.5h0M1072.6 995.4h0M985 989.7h0M1049.9 994.8h0M1062.3 987.2h0M1035.2 998.6h0M1060.9 987.6h0M1138.5 988.5h0M1055.3 989.2h0M1033.3 1002.9h0M1143.7 993.8h0M1094.6 995.1h0M1076.8 986.8h0M1058.5 1001.3h0M1096.3 983.3h0M1152.6 989.7h0M1143.7 994.9h0M1060.8 1077.3h0M1082.7 1082.5h0M1047.3 1061.6h0M1011.2 1070.1h0M991.2 1070.6h0M1029.6 1067.1h0M1044.7 1065.4h0M1025.1 1070.6h0M1057.3 1070.8h0M1044.7 1071.9h0M1022.7 1073.6h0M1070.7 1067h0M1012.3 1062.2h0M1092.5 1069.1h0M1122.8 1067.8h0M1080.8 1072.3h0M981.6 1071.2h0M973.3 1069.8h0M1065.9 1071.1h0M1059.7 1075.1h0M1086.7 1069.4h0M1062.4 1068.1h0M1056.5 1078.9h0M1028.8 1076.8h0M1101.1 1074.5h0M1124 1065.4h0M1112.1 1067.1h0M1109.2 1069.3h0M998.4 1079h0M1002.8 1072.1h0M1107 1081.3h0M1042.6 1076.8h0M1123.8 1073.1h0M978.1 1067.7h0M988.9 1072h0M1032.3 1065.7h0M1070.4 1072h0M1067.2 1063h0M1047.6 1067.3h0M1041.8 1061.7h0M1064.9 1062.3h0M1085.2 1076.6h0M1019.6 1079.2h0M1076.4 1072.2h0M1111.1 1066.2h0M1035.2 1079.6h0M1011.2 1074.9h0M1011.5 1082.2h0M1042.7 1080.7h0M1027 1073h0M1242.5 1062.9h0M1006.9 1065.1h0M1035 1070.7h0M998.6 1075.9h0M1034.2 1083.5h0M1105.6 1068.2h0M1109.4 1074.9h0M1003.8 1066.5h0M964.4 1079.2h0M1090.2 1068.9h0M1031.9 1069.2h0M1076.4 1074.9h0M1017.8 1062.9h0M1070.6 1081.5h0M989.9 1073.2h0M999.9 1070.5h0M1123.7 1076.6h0M1020.1 1065.6h0M1068.4 1069.2h0M1031.4 1076h0M1050.4 1081h0M994 1083.1h0M1015.2 1082.6h0M1163.9 1083.5h0M963.5 1080.2h0M1147.3 1078.4h0M1050.3 1068.3h0M1014.3 1066.8h0M1045.7 1073.4h0M1116.7 1064.4h0M1057.1 1062.2h0M1071.9 1078.7h0M979.7 1081.7h0M998.2 1077.8h0M1044.5 1065.9h0M1072.9 1075h0M1002.9 1081h0M1073.8 1071.6h0M1196 1077.3h0M1004.1 1075.3h0M1017.9 1063h0M1099.5 1077.1h0M996.2 1072.7h0M1067.9 1063.1h0M1010.9 1069.1h0M1022.7 1067.4h0M1010.3 1073.9h0M951.1 1069.8h0M1015.4 1078.7h0M1095.4 1070h0M1040.4 1077.7h0M1099.8 1079.8h0M1053.4 1079.2h0M1091.1 1063.6h0M1073.5 1073.9h0M1008.8 1072.8h0M1055.6 1082.9h0M1093.2 1062.4h0M1047.1 1064h0M1282.2 1078.8h0M1021.2 1063.5h0M1013.1 1070.1h0M1057.3 1076.4h0M1039.4 1080.6h0M1010.6 1080.4h0M1050.6 1063.5h0M1110.5 1062.5h0M1087.5 1077h0M1015.7 1070.6h0M993.7 1068.7h0M1060.2 1070.4h0M934.1 1063.8h0M968.6 1082.2h0M1001.2 1082.7h0M1009.3 1064.9h0M1033.1 1083.2h0M995.6 1067.6h0M1063.5 1069.6h0M971.6 1080.8h0M1026.3 1074.2h0M1041.5 1073.6h0M1030.6 1075.5h0M1032.1 1062.7h0M1031.1 1068.5h0M1002.5 1069.3h0M1038.5 1069.1h0M966.1 1064.9h0M1080.5 1070.7h0M994.5 1062.6h0M1000.9 1071h0M1030.4 1066.8h0M1031.5 1079.6h0M1035.9 1078.1h0M969.4 1072.7h0M1007.8 1075.9h0M1010.2 1078.9h0M1031.4 1070.5h0M1050.9 1078.1h0M1073 1063.9h0M1003.1 1075.5h0M989 1063.8h0M1041 1064.9h0M1056.1 1071.5h0M1044 1064.2h0M1019.2 1070.8h0M1009.3 1073.1h0M1074.7 1078.1h0M963.4 1077.6h0M1001.3 1083.1h0M1015.2 1063.3h0M1079.6 1062.8h0M989 1077.1h0M1045.7 1074.8h0M1060.9 1064.2h0M1095 1068.8h0M1042.5 1062.9h0M996.2 1074.3h0M1058.9 1061.6h0M997.7 1079.8h0M1001.4 1079.9h0M1081.6 1076.6h0M1018.9 1064.6h0M1001.9 1078.2h0M1006 1061.6h0M1057.2 1065.2h0M1032 1061.7h0M1039 1076.8h0M1045.1 1081.4h0M991.2 1081.2h0M1081.3 1065.7h0M963.7 1069.7h0M1059.1 1082.3h0M1004.5 1072.9h0M1115.7 1062.9h0M1044 1076.3h0M1029.7 1065.2h0M1098 1080h0M1007.6 1072.5h0M1063 1063.9h0M1091.5 1078.3h0M1014.4 1077.1h0M1018.1 1062.2h0M1069.6 1066.7h0M1109.3 1062.1h0M1004.2 1071.8h0M1117.7 1064.8h0M1065.8 1069.8h0M1089.4 1072.8h0M1063 1076.8h0M1050.3 1079.9h0M1027.4 1078.2h0M1049.5 1079.4h0M1053.5 1073.3h0M1036.2 1063.8h0M1055.1 1061.9h0M1033.6 1080.3h0M1009.7 1068.4h0M884 1072h0M1106.1 1080.8h0M1073.8 1076.1h0M1016 1066.6h0M1003.5 1073.8h0M1076.7 1068.9h0M1013.9 1063h0M1039.1 1061.7h0M1082.8 1076.9h0M1073.2 1063.7h0M1007 1073.1h0M995.2 1064.9h0M973.3 1067.8h0M1007.1 1074.2h0M1091.3 1063.9h0M1073.9 1072.8h0M997.6 1077.5h0M1060.6 1064.6h0M1035.8 1081.1h0M1089.7 1079.8h0M1088.5 1078.6h0M998.6 1072.5h0M1030.7 1076h0M1095.1 1069.1h0M1066.9 1069.6h0M1076.9 1065.6h0M1065.6 1062.3h0M1040.6 1079.1h0M1032.7 1062.7h0M1078.5 1082.4h0M1101.8 1064.5h0M1121.5 1070.2h0M1041.5 1074.9h0M1116 1067.5h0M1089 1072h0M1086.9 1076h0M1026.6 1071.1h0M1013.6 1065.8h0M1048.8 1078.4h0M1080.5 1082.5h0M1103.3 1070.2h0M1103.7 1153.2h0M1068.4 1147.4h0M1058.7 1142.8h0M1004.1 1150.9h0M1002 1157h0M1219.9 1155.9h0M1060 1150.6h0M1026.4 1158.2h0M1039.4 1151.1h0M1106 1154.7h0M1160.7 1147.6h0M1166.9 1142.1h0M1177 1148.8h0M1171.2 1141.1h0M1018.6 1149.8h0M1021.2 1157.1h0M1037.1 1153.3h0M1102.1 1153.3h0M1073.5 1160.7h0M1120.2 1162h0M1013 1143.3h0M1184 1155.1h0M1161.5 1141.3h0M1121.7 1153.4h0M1046.9 1155.9h0M1014.3 1142.9h0M1042.2 1146.9h0M1025.1 1141.6h0M999.4 1148.2h0M1219.4 1151.9h0M1048.6 1159.7h0M1184.8 1152.4h0M1152.9 1149.4h0M1109.4 1150.5h0M999.7 1150.4h0M1227.5 1149h0M884 1158.9h0M1006.7 1161.1h0M1004.8 1159.8h0M1055.7 1162.6h0M951.1 1153.9h0M1236.5 1149.5h0M1031.7 1160.6h0M1170.7 1155.9h0M1143.5 1162.6h0M1015.8 1149.7h0M1052.5 1141.3h0M1024 1151.4h0M1031.6 1156h0M1065.2 1150.6h0M1173.7 1161.9h0M981.4 1161.5h0M1003 1154.4h0M1180.6 1161.4h0M1150.6 1143h0M998 1160h0M1211.1 1145.2h0M1054 1145.9h0M1080.6 1150.3h0M1096.5 1157h0M1013.9 1143.3h0M1180.4 1150h0M1119.8 1148.5h0M1188.5 1146.5h0M1219.2 1142.8h0M1018.4 1140.9h0M1064.7 1149.5h0M1044.2 1161.4h0M1150.9 1142.9h0M1017.6 1147.2h0M1002.5 1153.3h0M1107 1155.4h0M1152.5 1144.5h0M1063.1 1147.4h0M1189.8 1149.1h0M1153.7 1145h0M1063.5 1150.5h0M1228.9 1157.2h0M1001.4 1149h0M1238.6 1154.3h0M1067 1148.6h0M1042.2 1143.8h0M1029.4 1157.4h0M1028.3 1158.7h0M1033.8 1144.6h0M959.7 1161h0M1095.1 1144.1h0M1126 1148.9h0M1151.5 1155.3h0M1058 1154.9h0M1125.7 1159.6h0M1091.2 1161.8h0M1018.1 1140.9h0M1158.9 1149h0M1181.9 1148h0M1000.4 1149.6h0M1022.3 1151h0M1054.7 1143.3h0M1054.2 1154.1h0M1042.3 1143h0M1007.2 1144.6h0M1019.1 1154.1h0M1112.4 1144.6h0M1018.2 1151.6h0M1057.7 1157.1h0M1057.3 1143.9h0M1067 1151.4h0M1178.9 1150.6h0M1215 1181.9h0M1107.6 1186.6h0M1173.6 1196.7h0M1057.1 1191.8h0M1218.1 1191.5h0M1006.6 1180.5h0M1224.8 1180.8h0M1181.6 1194.8h0M1080.2 1201.5h0M1060.7 1200.3h0M1176.7 1200.1h0M1163.9 1190.2h0M1156.3 1183.2h0M1176.6 1183.6h0M1123.9 1192.3h0M1284.4 1183.5h0M1087.8 1196.1h0M999.4 1183.9h0M1215.9 1196.8h0M1174.5 1188.1h0M1111.2 1194.6h0M1024.7 1198.5h0M1143.7 1194.3h0M1139 1262.3h0M947.5 1280.6h0M1118.2 1262.2h0M1147.5 1275.6h0M1139.6 1261h0M1153.4 1268.8h0M1131.5 1275.2h0M1187 1262.6h0M1103 1268.4h0M1148.7 1267.6h0M1118.2 1273.2h0M1152.3 1269.4h0M1125.3 1263.5h0M979.6 1268.7h0M1084.2 1281.1h0M1099.3 1265.9h0M1146.6 1268h0M1123.7 1265.2h0M1087.8 1267.5h0M1148.2 1260.1h0M1142.7 1277.8h0M1161.9 1261.3h0M1207.5 1261.5h0M1029.7 1272.8h0M1113.6 1264.5h0M1161.8 1280.6h0M1099.4 1272.2h0M1149 1269.9h0M1064.3 1268.9h0M1125.8 1264.7h0M1105.6 1275.2h0M1115.4 1280.1h0M1153.6 1279.5h0M1116.1 1264.5h0M1112.6 1271.8h0M1102.1 1275.8h0M1057.1 1265.2h0M1107.9 1268.8h0M1071.6 1268.4h0M1179.8 1260.2h0M1045.9 1304h0M1109.6 1314.5h0M1038.7 1303.2h0M1175.9 1312.4h0M1125.3 1308.1h0M1118 1310.4h0M1066.4 1300.2h0M1173.5 1299.7h0M1178.2 1320.1h0M1071.6 1304.5h0M1160.7 1315.9h0M1133.3 1319.9h0M1083.4 1315.2h0M1163.4 1303.8h0M1172 1312.2h0M1118.3 1312.5h0M1130.9 1301.2h0M1047 1300.8h0M1186.3 1308.6h0M1113.3 1317.8h0M1054.7 1318.8h0M1151.6 1306.4h0M1069 1311.5h0M1060.2 1307.6h0M1129.8 1314.2h0M1165 1300.3h0M1176.6 1303.7h0M1167.4 1311h0M1122.2 1311.8h0M1089 1318.3h0M1106.5 1302.5h0M1010.2 1310h0M1067.2 1316.1h0M1043.1 1320.3h0M1124.6 1308.1h0M1096.8 1308.2h0M1056.4 1302.8h0M1088.8 1300.2h0M1138.3 1300.8h0M1036.9 1309h0M1180.8 1308.7h0M1174 1300.1h0M1090.6 1310.2h0M1159.2 1300.3h0M1120.5 1313.7h0M1103.1 1299.6h0M1153 1306.4h0M1111.3 1320.6h0M1163 1312.3h0M1090.5 1306.3h0M1108.1 1299.4h0M1107.2 1315.4h0M1181.3 1300.4h0M1184.8 1301h0M1184.4 1314.6h0M1099.1 1317.4h0M1122.3 1309h0M1181.3 1310.5h0M1111.1 1309.1h0M1136.6 1304.4h0M1076.8 1312.7h0M1096.5 1299.8h0M1176.2 1321.1h0M1199 1316.1h0M1184.7 1308.6h0M1153.9 1319.9h0M1124.2 1316.5h0M1138.9 1317.2h0M1044.7 1319.2h0M1120.1 1313.9h0M1091.9 1307.4h0M1117.9 1305h0M1075.8 1314.8h0M1124.4 1320.1h0M1094.6 1313.9h0M1080.4 1300.6h0M1125.4 1311h0M1172.8 1320.1h0M1155.1 1301.7h0M1179.7 1314.9h0M1065.6 1314.3h0M1084.1 1320.5h0M1082.2 1306.8h0M1147.3 1314.9h0M1153.7 1299.7h0M1105.9 1300.8h0M1162.9 1316.3h0M1169.4 1320h0M1047.7 1307.4h0M1122 1301.4h0M1121.7 1306h0M1129.6 1308.5h0M1043.7 1308.4h0M1089.4 1312.3h0M1088.4 1321h0M1076.8 1318.2h0M1053.4 1307.7h0M1109.7 1301h0M1125.8 1306.8h0M982.5 1305.9h0M1156.5 1312.6h0M1099.5 1313.4h0M1110.7 1299.4h0M1085.3 1309.4h0M1057.8 1321.3h0M1146.2 1318.1h0M1108.4 1315h0M1054.5 1310.5h0M1087.5 1319h0M1173.1 1312.7h0M1066.1 1316.4h0M1117.9 1317.4h0M1166.8 1302.5h0M1107.7 1318.6h0M1041.1 1308h0M1185.3 1317.9h0M1119.8 1304.4h0M1174.5 1305.3h0M1125 1320.9h0M1176.9 1300.7h0M1193.7 1300.8h0M1109.3 1317.2h0M1139.9 1299.5h0M1167.3 1302.7h0M1139.7 1314.3h0M1153.9 1306.3h0M1117.4 1304.1h0M1092.1 1319.4h0M1160.7 1307h0M1119 1317h0M1054.2 1314.4h0M1066.1 1320.2h0M1140.6 1308.5h0M1101.7 1319.6h0M1188 1303.8h0M1177.7 1307h0M1119.6 1302.3h0M1165.4 1309.5h0M1113.6 1306.7h0M1072.7 1316.4h0M1055.5 1304.7h0M1078.9 1316h0M1068 1313.4h0M1134 1314.5h0M1121.8 1306.7h0M1133 1301.3h0M1172.9 1314.6h0M1030.9 1312.1h0M1198.4 1311.5h0M1046.2 1320.3h0M1184.7 1311.4h0M1089.1 1320.8h0M1021.1 1309.7h0M1124.1 1312.2h0M1078.6 1305.7h0M1080.5 1306.3h0M1120.5 1314.2h0M1082.3 1306.4h0M1033.7 1310.8h0M1155.2 1309h0M1050.2 1300.5h0M1092.3 1303.5h0M958.7 1314.8h0M1153.5 1309.5h0M1069.9 1310.4h0M1191.9 1300.7h0M1181.1 1316.6h0M1115.8 1319.8h0M1106.6 1306h0M1071.6 1317.7h0M1115.4 1307.4h0M1092.6 1311.8h0M1136.4 1319.8h0M1089.3 1310h0M1134.2 1301.7h0M1115 1320h0M1193.9 1315.2h0M1142.6 1305.3h0M1150.3 1304.9h0M1140.8 1309.3h0M1133.3 1320.6h0M1082.4 1308.5h0M1057.8 1320.9h0M1124.5 1301.4h0M1044.6 1303h0M1101.8 1301.3h0M1147.9 1317h0M1099.7 1300.7h0M1176.7 1310h0M1159.3 1301.5h0M1179 1304.1h0M1152.1 1312.5h0M1156.3 1301.3h0M1089.8 1316.8h0M1154 1314.7h0M1151.5 1313.1h0M1059.7 1306.7h0M1060.7 1300.7h0M1067.3 1299.4h0M1163.2 1300.8h0M1049.8 1319.8h0M1147.4 1310.1h0M1047.6 1304.9h0M1071.1 1302.5h0M1113.3 1315.4h0M1096.9 1310.6h0M1081.8 1304.4h0M1195.1 1307.1h0M1186.4 1300.5h0M1154.4 1301.2h0M939.2 1314.1h0M1080.2 1317.5h0M1137.2 1319.1h0M1077.4 1312.2h0M1050.9 1303.4h0M1102.4 1300.7h0M1132.5 1307.4h0M1042.4 1317.3h0M1123.8 1317h0M1075.4 1300.3h0M1077.4 1304.4h0M1089.4 1317.1h0M1059.3 1318.1h0M1052.9 1301.8h0M1041.3 1312.6h0M1047.2 1317.3h0M1119.7 1317h0M1165.9 1301.8h0M1059.7 1315.3h0M1146.8 1306.5h0M1096 1316.2h0M1099.4 1318.9h0M1115.9 1301.3h0M1050.5 1319.3h0M1068.1 1311.7h0M1071 1311.8h0M1100.5 1321.3h0M1125 1310.5h0M1122.9 1305.7h0M1127.4 1312.7h0M1094.1 1321.1h0M1043.8 1314.4h0M1093.7 1311.2h0M1076.5 1304.8h0M1088.8 1313.1h0M1124.6 1310.2h0M1046.4 1313.8h0M1109.9 1313.3h0M1129.4 1304.3h0M1118.4 1306.7h0M1163 1310.2h0M1160.8 1303.1h0M1085.6 1314.4h0M1109.8 1318h0M1146.3 1305.8h0M1143.9 1299.8h0M1066.2 1309.9h0M1158.4 1307.8h0M1145.1 1310.3h0M1109 1310.8h0M1111.5 1310.4h0M1107.7 1308.7h0M1175.7 1316.9h0M1036 1313.1h0M1111.5 1302h0M1057.9 1309.2h0M1141.1 1306.4h0M1117.3 1301.5h0M1036.8 1303.4h0M1168.4 1320.1h0M1067.9 1305.7h0M1086.4 1306.9h0M1050.8 1318.6h0M1178.1 1301h0M1058.9 1312.1h0M1034.6 1302.8h0M1154.1 1308.1h0M1054.5 1307.6h0M1074.6 1306.8h0M1141.9 1315.9h0M1063.5 1305.3h0M997.6 1301.7h0M1118.4 1300.2h0M1133.3 1304.6h0M1096.8 1318.9h0M1054.9 1310.6h0M1145.9 1306.7h0M1198 1311h0M1134 1305.8h0M1186.6 1316.7h0M1152.1 1317.4h0M1134.8 1317.2h0M1148.2 1303.9h0M1031.5 1308.1h0M1135.1 1313.6h0M1087.6 1305h0M1178.1 1300.2h0M1118.8 1309.3h0M1116.8 1318.8h0M1079.6 1311.7h0M1184.9 1299.5h0M1160.2 1312.9h0M1173.8 1304.7h0M884 1316.8h0M1119.4 1314.5h0M1095.2 1310.2h0M1144.7 1314.6h0M1078.3 1320.7h0M1173.8 1302.1h0M1099.8 1317.9h0M1127.6 1320h0M1218.7 1302.2h0M1053.4 1304.7h0M1060.5 1310.7h0M1117.5 1303.5h0M1107.7 1320.7h0M1107.2 1310.7h0M1098.6 1316.8h0M1140.5 1309h0M1086.9 1311.1h0M1072.1 1311.5h0M1144.5 1311.4h0M1114.1 1316.7h0M1183.8 1314.7h0M1157.4 1310.3h0M1069.1 1299.9h0M1063.1 1314.6h0M1053.1 1302.7h0M1103.8 1304.5h0M1123.4 1312.4h0M1166.4 1314.6h0M1164.2 1317.9h0M1090.1 1312.9h0M1074.8 1305.9h0M1187.1 1316.3h0M1185.5 1301.4h0M1073.1 1316.2h0M1163.5 1308h0M1074.2 1309.7h0M1149.1 1308.7h0M1133.2 1305.1h0M1069.6 1305.3h0M1119.9 1310.8h0M1151 1305.8h0M1184.3 1314.5h0M1094.7 1301.8h0M1069.7 1304.1h0M1058.5 1300.9h0M1146.1 1315.3h0M1141.1 1317h0M1160.4 1320.6h0M1095.2 1300.7h0M1080.3 1318.4h0M1165.3 1317.5h0M1051.3 1308.9h0M1173.4 1311h0M1111.2 1311.1h0M1179.6 1321h0M1169.5 1315.3h0M1125.3 1317.8h0M1106.9 1314.9h0M1135.7 1312h0M1092.9 1313.4h0M1194.7 1315.2h0M1062.2 1305.6h0M1095.8 1300.1h0M1101.4 1305.8h0M1151.2 1307h0M1061 1310.6h0M1127.5 1316.3h0M1042.3 1304.8h0M1156.3 1315.7h0M1109.5 1313.7h0M1123.7 1305.5h0M1166.7 1319.3h0M1153.3 1309.7h0M1182 1308.4h0M1100.4 1315.4h0M1166.4 1319.7h0M1159.3 1303.6h0M1191.7 1348.7h0M1111.5 1343.6h0M1069.8 1349.6h0M1156.2 1360.6h0M1176.1 1356.3h0M1148 1357.4h0M1190.8 1360.9h0M1087.3 1352.5h0M1079.3 1344.2h0M1066 1351.8h0M1151.5 1339.3h0M1163.2 1349.5h0M1040 1348.4h0M1120.4 1350.7h0M1183 1352.8h0M1111.6 1340.9h0M1062.4 1352.3h0M1181.2 1356.2h0M1183.4 1349.9h0M1101 1359.5h0M1039.6 1357.9h0M1046.7 1350.8h0M1172.6 1340h0M1111.4 1345.2h0M1121.7 1349.5h0M1075.4 1359.3h0M1109 1339.5h0M1138.6 1345.8h0M1060.8 1360.9h0M1117.1 1344.4h0M1165.6 1344.3h0M1094.8 1348h0M1000.5 1355.7h0M1085.1 1346.9h0M1093.3 1356.6h0M1055.8 1352.9h0M1161.5 1359.3h0M1098.5 1359.2h0M1031.1 1351.5h0M1087.8 1348h0M1138.4 1344.4h0M1118.8 1350.8h0M1124.5 1350.4h0M1148 1348.2h0M1064 1343.7h0M1087.3 1342.3h0M1036.3 1352.4h0M1156.8 1348.8h0M1129.2 1349.7h0M1058.8 1343.3h0M1139.7 1357.8h0M1056.6 1351h0M1085.9 1352h0M1027.5 1339h0M1054.4 1348.8h0M1184.9 1357.2h0M1198 1359.3h0M1040.5 1353.5h0M1086 1354.2h0M1182.2 1351.4h0M1129.9 1343.4h0M1094.9 1355.6h0M1046.1 1348h0M1142.5 1346.7h0M1176 1339.9h0M1139.6 1345.4h0M1154.7 1343h0M1197.6 1339.1h0M1078.6 1353.3h0M1061.8 1345.9h0M1176.1 1352.4h0M1111.6 1342h0M1163.1 1360.1h0M1141.2 1354.5h0M1124.7 1339.6h0M1136.6 1350.7h0M1156.6 1360.2h0M1173.9 1356.6h0M1048.7 1358.1h0M1154.1 1345.1h0M1056.2 1339.3h0M1091.2 1358.4h0M1102.3 1352.9h0M1116.4 1354.8h0M1079.3 1356.3h0M1117.3 1350.4h0M1179.5 1349.1h0M1104.9 1355h0M1057.5 1350.9h0M1100.5 1359.4h0M1137.3 1348h0M1027.8 1345.8h0M1192.4 1342.8h0M1098.3 1344.4h0M1107.8 1354.5h0M1083.3 1352.6h0M1037.2 1348.4h0M1172.4 1352.8h0M1181.9 1360.1h0M1096.3 1351.7h0M1042.6 1347.5h0M1124.3 1359.1h0M1132.4 1360.7h0M1166.1 1354.6h0M1103.6 1342.9h0M1134 1348.8h0M1106 1341.9h0M1096.5 1347.4h0M1124.6 1341.1h0M1183.2 1349.9h0M1091.8 1350.9h0M1146.3 1358.8h0M1155.9 1356.8h0M1184.6 1357.3h0M1122.5 1341.2h0M1171.2 1356h0M1152.1 1342.9h0M1094.5 1358.4h0M1180.2 1357.7h0M1153.2 1352.1h0M1041.2 1347.8h0M1053.4 1352.4h0M1096.8 1359.6h0M1046.8 1354.2h0M1063.7 1359h0M1087.3 1357.5h0M1136.9 1343.2h0M1056.1 1353.2h0M1071 1345.3h0M1038.3 1358.2h0M1175.3 1358.5h0M1083.1 1339.8h0M1089.1 1343.3h0M1120.9 1340.5h0M1115 1342.5h0M1055.5 1349.1h0M1074.1 1357.2h0M1062.8 1355.2h0M1101.1 1351.9h0M1035.6 1358.5h0M1152.6 1343h0M1153 1351h0M1096.8 1352.7h0M1044.3 1340.2h0M1147.9 1341.9h0M1055.1 1348.7h0M1140.6 1354h0M1117.4 1358.4h0M1042.1 1356.4h0M1034.3 1350.6h0M1015.7 1359.4h0M1043.8 1353.2h0M1052.2 1353.2h0M1143.2 1357.2h0M1086.9 1346.4h0M1144.7 1349.5h0M1077 1354.9h0M1154 1343h0M1074 1352h0M1173.6 1341.7h0M1127.4 1341.3h0M1080 1340.8h0M1145.9 1352.5h0M1117.3 1360.8h0M1121.6 1356.3h0M1146.2 1341h0M1098.7 1341.6h0M1118.4 1347.9h0M1008.1 1358.3h0M1097.6 1342.6h0M1132.8 1354.9h0M1042.3 1342.8h0M1111.6 1349.1h0M1112 1354.7h0M1085 1355h0M1051.7 1346.3h0M1049.9 1351.2h0M1149.9 1355.6h0M1087.5 1342.2h0M1039.8 1353.6h0M1157.7 1350.5h0M1100.6 1357.4h0M1194.9 1342.9h0M1064.9 1341.2h0M1054.1 1343.5h0M1187.1 1355.8h0M987.2 1352.6h0M1040.7 1359.6h0M1139.8 1344.3h0M1136.6 1351.8h0M1115 1341.8h0M1198.6 1345.5h0M1162.3 1341h0M1186.3 1346.2h0M1156.7 1359.4h0M1084.7 1358.7h0M1061.4 1350.6h0M1143.2 1356h0M1042.4 1357.7h0M1139.3 1354.3h0M1160.2 1345.8h0M1124.2 1343.8h0M1040.2 1342.8h0M1042.4 1347.2h0M1130.1 1342.7h0M1066.8 1420.2h0M987.6 1428.6h0M1066.4 1421.9h0M1010.8 1433.8h0M1061.9 1426.6h0M1073.3 1427.7h0M1002.8 1431.8h0M1024.9 1427.1h0M1104.7 1430.1h0M1062.7 1430.9h0M1078.1 1427.6h0M1087.5 1428.7h0M1116.1 1439.2h0M1018 1431.5h0M948.8 1421.2h0M933.5 1438h0M993 1431.1h0M934.5 1427.6h0M999.4 1431.9h0M1050 1427.2h0M1091 1424.4h0M1002.8 1430.6h0M1040.6 1418.3h0M994.7 1433.6h0M1070.3 1430.7h0M1099.7 1439.7h0M1009.2 1425.4h0M969.4 1422.3h0M1055.4 1427.7h0M1108.2 1425.4h0M1033.6 1425.5h0M956 1434.2h0M1062.3 1435.2h0M1016.4 1437.7h0M972 1419.1h0M1072.9 1428.1h0M958.4 1418.4h0M1010.2 1435.4h0M1012 1430.8h0M1034.9 1432.4h0M1051.4 1426.5h0M964.6 1429.2h0M1114.7 1429.8h0M964.9 1433h0M940.8 1422.8h0M994.2 1420.4h0M965.6 1426.9h0M944.3 1431.9h0M982.5 1430.7h0M964.9 1419.1h0M974.3 1419.4h0M1000.9 1432.7h0M1069.8 1430.9h0M969.2 1432.8h0M931 1439.9h0M1009.9 1423.5h0M1009.2 1421.1h0M1103.5 1439.2h0M1144.2 1421.4h0M1052.4 1420.4h0M1036.5 1428.7h0M1067.9 1430.9h0M1011.3 1431.3h0M957.1 1421.8h0M1061.6 1423.9h0M943.3 1436.3h0M1069.9 1436.4h0M1062.6 1425.1h0M1071.4 1429.3h0M1049.2 1436.8h0M974.6 1434.8h0M1018.8 1432.4h0M1068.3 1420.2h0M884 1435.4h0M928.6 1429.9h0M996.5 1430.1h0M918.3 1425.4h0M1078.7 1423.4h0M931.6 1439h0M1096.9 1424.9h0M1023.9 1431.8h0M994.5 1429.8h0M1066.8 1426.8h0M1046.6 1426.1h0M1093.1 1439.4h0M1047.7 1439.4h0M1034.3 1430.4h0M949.5 1433.1h0M1061.2 1419.1h0M1072.8 1425.7h0M941 1439.2h0M1025.7 1435.8h0M980.9 1421.4h0M962.6 1436.6h0M1087.7 1429.8h0M1046.2 1431h0M1114.8 1439.5h0M956.3 1423.7h0M927.1 1433.4h0M1057.2 1434.2h0M1016.4 1439.4h0M1057.2 1427.3h0M1072.2 1423.7h0M938 1425.1h0M1056.1 1427.9h0M1080.9 1429.4h0M1022.8 1428.3h0M1031.7 1431.2h0M953 1439.6h0M1062.7 1438.8h0M991 1426.1h0M970.5 1422.3h0M1072.9 1426.9h0M1081.7 1426.7h0M994.1 1424.8h0M1041.9 1423.4h0M1060.9 1423.6h0M1058.3 1423.9h0M1112 1437.2h0M955.9 1421.9h0M1017 1429.7h0M1123.3 1436.4h0M1273.6 1420.7h0M1005.2 1439.5h0M1046.2 1430.3h0M997.3 1432.2h0M961.7 1420.3h0M1063.1 1421.8h0M1051.7 1419.4h0M1002.5 1432.4h0M1105.1 1419.2h0M1044.6 1424.2h0M1118.3 1437.7h0M1027.8 1424.7h0M1019.2 1428h0M1051.5 1425.2h0M1021.4 1438.6h0M1070.5 1430.5h0M1005.7 1427.5h0M967.1 1428.8h0M1065.7 1432.9h0M956.9 1425.5h0M1069.2 1428.2h0M1146.1 1430.7h0M1087.5 1420.4h0M1012.4 1432.7h0M1045.3 1425.6h0M1063.1 1425.3h0M1100.6 1438.5h0M1022 1428.1h0M884 1419.9h0M986.1 1438.3h0M1066.8 1421.5h0M1065.6 1439.5h0M1005.9 1424.4h0M1058.3 1430.9h0M979.1 1421.7h0M1046.5 1428.8h0M1042.1 1420.2h0M1046.3 1418.6h0M995.6 1424.9h0M1044.9 1419.7h0M1033 1424.2h0M1077.3 1438.1h0M1100.1 1440.2h0M1000 1437.5h0M1139.4 1439.6h0M1037.6 1437.9h0M952.8 1427.4h0M1006.4 1432.6h0M996.1 1434.1h0M1031.8 1419.8h0M964.4 1439.5h0M953.8 1440h0M975.3 1432.8h0M942.7 1422h0M1031 1429.7h0M990.2 1438.7h0M938 1430.1h0M997.9 1437.4h0M1078.2 1437.3h0M1018.6 1421.9h0M1015.8 1430.5h0M1079.1 1430.3h0M1023.6 1423.6h0M1050 1437.4h0M1030.7 1427.1h0M884 1426.9h0M1028.3 1437.6h0M965.8 1432.2h0M1000.1 1438.7h0M949 1425.6h0M978.4 1429.5h0M1058.2 1432.7h0M972.5 1437.7h0M961.3 1421.1h0M1071.5 1422.8h0M1054.2 1437.9h0M1055.7 1421.6h0M1068.4 1436.5h0M1005.6 1422.7h0M959.5 1423.2h0M986.1 1430.2h0M969.1 1433.9h0M1015.6 1422.1h0M1035.8 1428.9h0M1042.6 1433.2h0M1002.7 1430.5h0M1098.2 1421.4h0M933.1 1426.4h0M981.1 1434.1h0M1069.6 1429.5h0M1015.4 1437.9h0M1014.9 1426.4h0M957 1420.1h0M1013.4 1430.2h0M1146.5 1427.1h0M1066.4 1431.6h0M1058.8 1437.1h0M1014.5 1429h0M961.8 1418.5h0M1073.6 1425.9h0M1000.1 1436.6h0M1064.9 1421.9h0M966.3 1429.8h0M1056.5 1429h0M999.5 1435h0M1056.1 1439.3h0M1083.8 1437.5h0M984.5 1433.2h0M1072.6 1436.8h0M1084.8 1434.2h0M1123.2 1437.4h0M1040.2 1434h0M1026.8 1436.6h0M1040.8 1433h0M955.4 1426h0M1090.8 1422.2h0M1028.6 1430.3h0M1042.1 1435.2h0M972.1 1439.4h0M998.8 1434.6h0M1058.3 1426.1h0M975.1 1427.4h0M927.5 1425.5h0M1029.2 1439.1h0M976.2 1440h0M1082.2 1426.6h0M998 1436.4h0M1085.9 1430.1h0M1084.1 1430.4h0M1074.5 1435h0M970.2 1419.3h0M975.7 1433.7h0M965.7 1430.8h0M956.2 1425h0M1020.5 1430.9h0M925.9 1428.7h0M997.6 1434.9h0M928.9 1419.1h0M1083.8 1420.7h0M884 1423.2h0M1014.3 1434.9h0M993.9 1424.2h0M1105.5 1428.5h0M1024.7 1432.9h0M1055.3 1430.5h0M1079.7 1427.1h0M993.6 1424.9h0M1004.3 1438h0M1220.9 1438.8h0M1115.8 1421.4h0M1033.3 1427.9h0M1073.1 1434.1h0M1039.3 1433.4h0M967.3 1421.9h0M961.4 1431.6h0M1050 1430.9h0M1083.8 1434.4h0M1034.3 1428.1h0M1062.7 1426h0M973.4 1426.8h0M1056.9 1433.3h0M1089.9 1425.7h0M1047.3 1425h0M1030 1421.6h0M1012.6 1425.5h0M965.5 1425.3h0M1107 1435.5h0M983.9 1437.8h0M1082.9 1438.6h0M1009.4 1432.5h0M1055.1 1434h0M1077.8 1428.6h0M1082.3 1427h0M930.5 1430h0M1063.2 1430.9h0M1141.9 1430h0M1052.6 1426.1h0M1013.6 1428.7h0M945.7 1424.5h0M1053.2 1436.4h0M1079.6 1424.2h0M1070.5 1435.8h0M1070.1 1435.7h0M1012 1439.1h0M1075.2 1439.6h0M1064.8 1421.7h0M1135.6 1422.7h0M986 1421.1h0M959 1435.1h0M997.6 1432.3h0M941.7 1432.3h0M884 1431.5h0M985 1420.8h0M1039.5 1423.2h0M960.5 1439.5h0M1033.6 1420.9h0M931 1436.5h0M1097.6 1425.8h0M1045.7 1427.8h0M1048.4 1426.6h0M979.5 1418.7h0M1011.4 1434.6h0M960.6 1428.1h0M936.3 1429.1h0M937.9 1427.2h0M982.5 1428.7h0M969.5 1419.1h0M1069.5 1431.1h0M985.4 1439.4h0M1091.1 1425.3h0M1030.5 1430h0M1022.4 1434.1h0M1002.4 1427.6h0M1009.4 1427.3h0M995 1429h0M1057.9 1419.9h0M1003.3 1432h0M963.9 1426h0M937.3 1431.4h0M1056.7 1432.5h0M1098.9 1425.8h0M1000.5 1428.7h0M958.6 1429.3h0M1017.4 1432.4h0M1087.5 1430.7h0M1036.8 1433.9h0M984 1432.8h0M1048.2 1429.9h0M987.4 1418.4h0M1000.3 1433.8h0M995 1418.4h0M1038.9 1424.6h0M1048.1 1432h0M1031.1 1433.5h0M1009.6 1427.4h0M1029.4 1429.2h0M1035.8 1436.7h0M1054 1434h0M976.1 1429.5h0M926 1434.3h0M943.5 1427.1h0M962.2 1440h0M1004.1 1429.8h0M1111.1 1424.9h0M1047.9 1427h0M1028.7 1437.7h0M1000.9 1433.5h0M1006.4 1429h0M975.7 1427h0M1073.1 1433.8h0M1033.5 1421.2h0M955 1432.5h0M1030.9 1418.5h0M1079.4 1427.3h0M971.1 1420.1h0M1036.1 1433.7h0M978.2 1425.8h0M1067.4 1435.9h0M952.7 1423.3h0M1056 1422.1h0M1014 1418.9h0M1001.1 1433h0M1062.7 1438.4h0M985.5 1431.2h0M1002.6 1431.8h0M1075.2 1422.9h0M1017.5 1434.3h0M1109.1 1422.6h0M1021.1 1436h0M1075.6 1431.5h0M989.8 1423.8h0M1051.3 1438.5h0M1033.2 1438h0M932.7 1437.5h0M1012.4 1435.2h0M1015.9 1432.5h0M1045.3 1424.9h0M997.3 1438.4h0M1020.4 1436.3h0M966.7 1423.1h0M1105.2 1437.1h0M1062.7 1422.4h0M1080.3 1437.8h0M951.4 1429.2h0M1086.3 1431.7h0M962.7 1422.1h0M1130.5 1426.1h0M1145.1 1433.8h0M961.2 1439.4h0M942.6 1436.5h0M997.7 1434.8h0M937.5 1425.2h0M1044.5 1433.8h0M999.7 1423.4h0M1086.3 1419.5h0M989.5 1421.1h0M1047 1420.7h0M963 1436.1h0M1083.3 1434.1h0M1019 1437.4h0M976.8 1434.2h0M930 1423.2h0M1060.4 1435.1h0M1096.1 1423.8h0M929.1 1431.5h0M998.1 1428.9h0M1111.9 1423.7h0M1069.9 1426.6h0M1011.1 1418.9h0M1003.8 1433.4h0M1077.4 1428.4h0M1093.8 1435.1h0M1029.7 1432.7h0M1113.3 1439.5h0M1062.6 1434.2h0M1000 1438.9h0M1005.1 1421.7h0M1100.4 1428.4h0M1051.1 1421.9h0M1028.7 1437.1h0M1044.4 1435.1h0M1045.8 1437.1h0M1052.7 1422h0M1033.6 1422.1h0M1092 1430.7h0M1061.4 1424.3h0M939.3 1420.2h0M1100.9 1438.6h0M1079.2 1438.5h0M1042.3 1438.4h0M1061.3 1433.8h0M1057.4 1423.7h0M1044.5 1439.7h0M990.6 1439.7h0M1005.5 1430.1h0M972.4 1431.7h0M998.6 1426.3h0M1065.3 1423.3h0M1016.8 1421.2h0M1083.3 1418.4h0M1087.4 1438.1h0M1078.4 1437.3h0M1029.6 1418.4h0M1057 1433.4h0M1061 1431.3h0M1057.1 1437.1h0M1078.1 1428.9h0M1070.4 1433.4h0M1036.9 1422.1h0M1056.7 1432.9h0M1022.2 1418.9h0M1033 1431.9h0M992.6 1421h0M1018.8 1425.6h0M988.7 1430.5h0M1039.9 1418.8h0M1073.4 1428.4h0M1107.8 1429.6h0M1040.1 1431h0M1064.3 1428.2h0M991 1435.2h0M1099.4 1418.7h0M1101.4 1420.4h0M1008.3 1468.4h0M1005.4 1478.2h0M986.5 1459.7h0M1047.9 1474.1h0M1100.7 1468.5h0M1151.6 1461.6h0M1087.6 1460.1h0M1029.7 1461.2h0M1106.3 1463.2h0M1089.3 1475.8h0M1095.9 1465.7h0M1025.7 1468.2h0M1110.9 1475h0M1087.1 1458.8h0M1031.2 1469.8h0M1042.4 1460.1h0M1113.2 1472.1h0M1042.3 1460.9h0M1184 1459.9h0M1145.1 1464.2h0M1076.5 1462.8h0M1098.5 1475.5h0M1121.1 1458.2h0M974.4 1474.5h0M1063.2 1473.5h0M1078.4 1468.1h0M1088.4 1471.3h0M999.4 1466.6h0M1102.3 1464.3h0M993.2 1464.3h0M1173 1476.8h0M1068.2 1475.7h0M1145.3 1477.9h0M1121.7 1470.1h0M1097 1464.2h0M1148.8 1468h0M1117.1 1466.2h0M1118.1 1460.6h0M1114.1 1479.6h0M1142.9 1465.9h0M1030.3 1464.3h0M970.6 1461.4h0M1158.5 1479.7h0M1091.7 1459h0M1066.9 1461h0M1148 1476.2h0M1143 1461.7h0M1050.3 1470.1h0M1044.3 1458h0M1099.5 1464.8h0M1055.3 1471.4h0M1144.6 1474.2h0M1142.6 1464.2h0M1079.4 1462.4h0M983.5 1468.9h0M1047.2 1470.2h0M1087.6 1469.2h0M1161.4 1474.8h0M1052.4 1465h0M1055 1463.4h0M1044.5 1458h0M1035.1 1462.2h0M1142.9 1469.4h0M996.7 1457.9h0M1022.7 1477.3h0M1099.9 1469.8h0M1150.7 1476.4h0M1043.6 1473.6h0M1139.6 1477h0M1108.6 1464.6h0M1061.8 1461.4h0M1142.6 1475.4h0M1022.3 1459.4h0M1069.1 1470.3h0M1164.7 1466.5h0M1126.4 1470.6h0M1085.4 1469.4h0M1145.3 1467h0M1076.2 1473.7h0M1144.6 1473.6h0M1010.1 1467.6h0M1099.6 1459.4h0M1145.4 1476.6h0M978.6 1462.4h0M996.9 1473.6h0M1178.4 1474.5h0M1030.1 1468.7h0M1170.3 1469.1h0M1111.9 1476.7h0M1187.7 1476.8h0M1096.4 1460.6h0M1155.8 1467.7h0M1157.5 1460.6h0M1025.3 1463.5h0M1069.9 1472.3h0M1101.2 1476.7h0M1037 1466.1h0M1140.9 1465.7h0M1114.6 1466.4h0M1091.6 1466.2h0M1034.9 1458.3h0M1085.9 1478.9h0M1007.7 1470.7h0M1091.2 1461.3h0M1151.2 1470.1h0M1134.2 1457.9h0M1037 1468h0M1148.2 1469.8h0M1006.1 1460.4h0M1160.8 1476h0M1104.1 1477.8h0M1038.8 1466.7h0M1084.6 1458h0M1150.4 1460.6h0M1040.2 1458.2h0M1098.2 1459.6h0M1136.3 1474.1h0M884 1469.3h0M1136 1465.3h0M1130.7 1478.5h0M1043.3 1475.7h0M1070.7 1458.3h0M1024.1 1474h0M1163.1 1467h0M1095.3 1459.9h0M993.7 1466.5h0M1047.9 1460.9h0M1027.2 1460.2h0M990.1 1473.3h0M1110.4 1467h0M1050.4 1477.1h0M1007.3 1479.4h0M1027.1 1462.7h0M1157.7 1475h0M1123.5 1478.6h0M1008.4 1473.4h0M1081.3 1457.8h0M1004.8 1473.6h0M1186.4 1475.8h0M1157 1466h0M986.5 1477.8h0M1114.3 1476.6h0M1024.2 1458.7h0M1050.5 1473h0M978.4 1474.7h0M1024.8 1478.5h0M1122.1 1460.3h0M1115 1461.9h0M1029.4 1472.7h0M1074.6 1469.8h0M1151 1464.1h0M1080.7 1459.7h0M1113.1 1470.3h0M1105.3 1458.2h0M1053.1 1473.7h0M1092.5 1459.6h0M1099.7 1466.2h0M1058.1 1473.4h0M1177.2 1461.4h0M1003.9 1478.5h0M1102.4 1464.7h0M1108.9 1464.5h0M1052 1466.5h0M1066.9 1466.3h0M1054 1478h0M1122.5 1460.5h0M1002.6 1479.7h0M1121.5 1469.8h0M1159 1465.3h0M1028.7 1477.8h0M1106.3 1462.8h0M1147.8 1474.3h0M1103.4 1476.1h0M1057.7 1462.8h0M1125.1 1458.2h0M1141.4 1470.1h0M1101.3 1474.8h0M1057.7 1477.9h0M1120.1 1462.1h0M1098.8 1468.6h0M1125.6 1473.7h0M1159.2 1468.9h0M1086.7 1477.5h0M1117.7 1466.2h0M1094.4 1479.8h0M1135.8 1476.9h0M1127.3 1472.5h0M1119.9 1458.1h0M1082.6 1465.3h0M1101.8 1465h0M1079.5 1475.5h0M1131.8 1466.7h0M1087.3 1469.5h0M1146.7 1461.8h0M1159.5 1458.5h0M1135.1 1472.1h0M1107.1 1466.2h0M1101.6 1472.2h0M1096.1 1475.2h0M1153.3 1466h0M989.4 1468.6h0M1009 1477.5h0M1089 1459.6h0M1058.1 1462.3h0M1039.3 1470.4h0M1054.7 1476.2h0M1097.3 1474.9h0M938.1 1471.4h0M1047.3 1460h0M1019.8 1458.5h0M1134.8 1477.7h0M1016 1464.3h0M1015.2 1468h0M1075.6 1470.3h0M1108.7 1467.2h0M1087 1465.3h0M1076.6 1459.5h0M1036 1478h0M1186.9 1476.3h0M932.3 1468.7h0M1089 1475h0M990.6 1466.1h0M1071.3 1477.4h0M1033.3 1459.5h0M1124.4 1471.7h0M1149 1472.6h0M1068.8 1466.6h0M985.5 1463.9h0M1063.6 1475.7h0M1159.5 1479.8h0M1135.5 1471h0M1026.3 1468.9h0M1059.5 1470.8h0M1139.6 1458.7h0M1033.9 1470h0M1136.6 1469.4h0M1123.9 1458.2h0M1091.8 1476.1h0M1144.3 1458.9h0M1063.9 1464.2h0M1146.7 1479.6h0M1141.8 1463.5h0M1067 1474.8h0M1137 1466.9h0M1046.7 1475.8h0M1008.9 1467.4h0M1028.7 1465.2h0M1153.9 1471.4h0M1022.5 1471.5h0M1132.5 1477.2h0M1091.8 1473h0M1114.4 1476.6h0M1071.4 1472.9h0M1126.6 1478.9h0M1160.2 1472.5h0M1090.8 1471.5h0M1272.1 1468.4h0M1014.7 1474h0M1042.4 1472.8h0M1126.7 1462.1h0M977.8 1466.9h0M1008.1 1465h0M1142.2 1473h0M1105.3 1474.6h0M1094.9 1466.9h0M1032.9 1464.1h0M1052.7 1478.2h0M1013.3 1475.9h0M1016.7 1462.7h0M1109 1458.4h0M1042.9 1465.7h0M1059.6 1472.7h0M1016.9 1468.1h0M991.1 1465.5h0M1021.1 1479h0M1031.4 1462.5h0M1161.2 1468h0M1128.1 1470.9h0M984.1 1468.4h0M1114.8 1461.8h0M1051.7 1462.3h0M1087.4 1472.7h0M1150.1 1473h0M1038.1 1461.1h0M1143.4 1477.9h0M1118.5 1473.7h0M978.6 1471.5h0M1136.9 1459.4h0M1113.6 1466.7h0M1112.3 1468h0M1120.6 1477.7h0M1162.2 1469.6h0M1244.7 1464.9h0M1010.1 1469.7h0M1174.4 1477h0M1132.7 1471.2h0M1077.9 1458.9h0M1020.3 1477h0M1156.4 1472.9h0M1039.8 1473.1h0M1149.3 1464.5h0M1083.4 1475.6h0M1100.9 1467.5h0M1032.3 1462.1h0M1157.4 1459.2h0M1100.6 1475.3h0M1060.8 1467.7h0M1110.2 1471.1h0M1023.9 1463.8h0M1042.7 1459.6h0M1094.2 1475.5h0M1027.7 1464.7h0M948.9 1472.2h0M1017.1 1474.4h0M1150.7 1472h0M1047.1 1461.2h0M1054.2 1476.1h0M1044 1471.2h0M1080.2 1474.8h0M1098.6 1473.9h0M1032.4 1470.7h0M1098.2 1479.1h0M884 1466.7h0M1078.7 1473.7h0M1054.5 1467h0M1005.7 1460.5h0M1065.6 1478.9h0M975.6 1471.8h0M1095.1 1460.4h0M1058.1 1458.9h0M1112.3 1460.4h0M1069.5 1473.3h0M1097.3 1476.7h0M1027.5 1471h0M1025.1 1461.9h0M1043.4 1468h0M1160 1476.1h0M1108.9 1463.2h0M1025.7 1462.6h0M1106.4 1471.5h0M1099.4 1478.1h0M993.5 1476.5h0M1029.7 1460h0M1120.5 1459.8h0M1030.4 1478.2h0M1051 1466.3h0M1043.4 1469.2h0M1013.6 1468.8h0M1062.1 1469.6h0M1157.8 1467.2h0M1150.7 1471.8h0M1152.6 1479.4h0M1022 1478.8h0M1044.6 1467.9h0M1042.2 1462.7h0M1101.1 1476.4h0M1063 1461.9h0M1035 1474.6h0M1087.4 1473.8h0M1101.1 1465.8h0M1060.7 1459.8h0M1154.2 1475.8h0M1150 1474.6h0M1016.8 1461.1h0M1149 1471.7h0M1076.2 1475.9h0M1048 1463.7h0M1125.2 1478h0M1179.2 1459.1h0M1042.5 1478.7h0M1091.2 1472.3h0M1145.3 1473.6h0M1112.7 1463.1h0M1146.5 1459.1h0M1041.2 1475.3h0M1031.3 1476.1h0M1016.5 1476.6h0M1191.6 1468.3h0M1051.2 1458.7h0M1038.7 1460.6h0M1122.2 1459.6h0M1022.5 1479.7h0M1023.7 1471.7h0M1045.6 1470.9h0M1148.3 1458h0M1112.2 1475.4h0M1054.6 1471.1h0M1160.7 1476.7h0M1018.1 1475.1h0M1138.3 1462.5h0M1111.7 1461.4h0M979 1478h0M1050.1 1467.7h0M1061.3 1476.9h0M1024.8 1468.1h0M1119.8 1473.9h0M1036.7 1466h0M1134.7 1463h0M1108.2 1467.7h0M1060.9 1475.6h0M1045.4 1477.8h0M1103.1 1470.7h0M1112.5 1471.7h0M1118.3 1466.7h0M1160.9 1469.9h0M1081.7 1468.2h0M1012.5 1479.8h0M1093.5 1478.2h0M1069 1463.1h0M1010.2 1469.6h0M1048.3 1460.7h0M1178.3 1461.8h0M1034.3 1475.6h0M1015.8 1464.2h0M1060.7 1473.2h0M1139.9 1473.8h0M1025.5 1477.2h0M1040.1 1473.3h0M1090.3 1479.4h0M958.7 1460h0M1183.3 1468.4h0M1158.8 1478.1h0M1057 1468.6h0M1057.7 1462.7h0M1087.1 1477.1h0M1099.9 1463.1h0M1049.6 1464.5h0M1177.4 1478.2h0M1047.1 1463.7h0M1124.9 1459.2h0M1121.8 1471.7h0M1055.4 1459.8h0M1047.4 1458.8h0M1066 1479h0M1041.8 1464.1h0M1156.4 1468.6h0M1161 1478.8h0M1079.2 1475.7h0M1077.8 1459.1h0M1018.4 1472.8h0M1080.9 1466.7h0M1101.9 1537.1h0M1056.4 1550.1h0M1083.3 1550.8h0M1041.9 1551.9h0M1060 1555h0M1070.5 1551.2h0M1042.7 1548.3h0M1070.1 1546h0M1058.2 1554.8h0M1031.2 1556.1h0M1037.4 1542.7h0M1040 1541.5h0M1087.5 1554.1h0M1036.7 1556.1h0M1031.4 1543.2h0M1066.6 1547.5h0M1047.8 1545.2h0M1076.3 1541.6h0M1053 1538.5h0M1043.4 1544.3h0M1070.2 1539.8h0M1073.7 1549.6h0M977.8 1542.2h0M1024.7 1555.6h0M1075.9 1546.6h0M1069.2 1551.3h0M1074.9 1554.6h0M1057 1546.1h0M1076.1 1549.3h0M1052.4 1543.6h0M1069.5 1553.3h0M1040.3 1554.3h0M1063.3 1545.1h0M1038.6 1545.6h0M1028 1555.2h0M1044.7 1557.5h0M1042.3 1545.4h0M1023.5 1537.8h0M992.2 1538h0M1078.1 1556.7h0M1115.5 1541h0M1060.8 1552.9h0M1107.4 1554.5h0M1064 1548.6h0M1055.6 1558.4h0M987.2 1542.8h0M1083.8 1542.7h0M1035.5 1558.6h0M1052.8 1541.8h0M1049.1 1541.3h0M1096 1553.7h0M1059.5 1539.3h0M1059.6 1540h0M1063.7 1555.3h0M1032.7 1557.3h0M1125.9 1537.3h0M1072.2 1546.3h0M1059.8 1538.8h0M1091.3 1554.2h0M1046.1 1546.6h0M1068.5 1558.6h0M1035.7 1549.5h0M1036.5 1547.9h0M1052.1 1537.4h0M1065.2 1539.6h0M1047.8 1542.7h0M1079.3 1552.1h0M1078.6 1539.7h0M1096 1552.5h0M1030.4 1542.2h0M1058.9 1538.9h0M1032 1556.2h0M1082.6 1543.8h0M1062.2 1539.7h0M1051.9 1549.8h0M1067.4 1551.9h0M1055.3 1550h0M969.1 1540.2h0M1102.1 1553.6h0M1115.8 1557.1h0M1074.2 1548.3h0M1060.6 1540.5h0M1060.3 1549.6h0M1037.3 1544h0M1064.1 1554.1h0M1115 1545h0M1006.6 1544.7h0M1061.9 1557.8h0M1078 1550.2h0M1077.7 1546.2h0M1036 1559h0M1072.1 1542.5h0M1059.8 1550.6h0M1124.1 1550.1h0M1047.8 1548.8h0M1041.5 1541.8h0M1048.7 1557.8h0M1060.7 1546h0M1062 1540.3h0M1078.1 1537.2h0M1092.8 1543.6h0M1080.6 1558.1h0M1044 1555.5h0M1055.5 1537.9h0M1012 1552.9h0M1068.7 1537.5h0M1078.1 1557.1h0M1124.1 1545.2h0M1055.2 1555.6h0M1026.6 1545.1h0M1069.9 1556.6h0M1002.3 1537.7h0M1063 1557.4h0M1065.2 1538.1h0M1064.9 1540.6h0M1121.3 1628.3h0M1080 1624.4h0M1199.2 1624.8h0M1222.9 1625.4h0M1084.7 1621.2h0M1218.2 1629.7h0M1087.8 1628.7h0M1212.4 1632.1h0M1090.6 1634.1h0M1219.4 1617.9h0M1197.5 1633.3h0M1179 1617.1h0M1093.7 1623.2h0M1187.3 1618.4h0M1141.2 1618.5h0M1106.9 1634.2h0M1215.8 1637.1h0M1073.1 1621h0M1084.5 1625.3h0M1203.7 1616.9h0M1187 1619.3h0M1218.4 1629.9h0M1188.6 1630.5h0M1175.2 1620.2h0M1119.5 1634.7h0M1215.8 1637h0M1113.4 1617.5h0M1222.9 1625.1h0M1134.6 1633.4h0M1092.5 1620.4h0M1188.9 1633.3h0M1201 1631.8h0M1165.8 1628.4h0M1012 1630.8h0M1163.6 1618.1h0M1082.6 1633.1h0M1152.6 1634.4h0M1201 1616.8h0M1086.4 1627h0M1084.9 1622.9h0M1150.9 1618.6h0M1070.5 1627.1h0M1107 1628.2h0M1119 1628.5h0M1204.8 1633h0M1127.2 1628.5h0M1099 1637.9h0M1109.6 1625.8h0M1102.1 1624.6h0M1213.6 1623.2h0M1124 1631h0M1109.1 1637.4h0M1103.4 1618.7h0M1181.2 1632.1h0M1210.6 1625.1h0M1096.6 1627.5h0M1060.7 1630.7h0M1192.1 1627.5h0M1085.8 1637.6h0M1078.2 1627.5h0M1196.2 1630.7h0M1084.1 1624.3h0M1210.6 1635.6h0M1131 1631.5h0M1102.6 1637.9h0M1210.2 1636.9h0M1128.5 1632.1h0M1211.1 1622.6h0M1171.3 1624.3h0M1137.6 1637.9h0M1189.2 1625h0M1159 1618.2h0M1090.4 1633.9h0M1085 1624.9h0M1135.4 1631.9h0M1082.5 1635.7h0M1103.8 1623.9h0M1155 1620.5h0M1106.7 1621.2h0M1074.9 1629.8h0M1205.3 1624.5h0M1131.1 1617h0M1055.7 1634.6h0M1072 1626.8h0M1211.6 1628.4h0M1206.5 1630.2h0M1106.4 1633.6h0M1093.4 1635h0M1099 1626.1h0M1088.3 1626.4h0M1221.3 1627.9h0M1218.7 1628.9h0M1186 1635.8h0M1082.2 1620.3h0M1091.9 1636.9h0M1083.7 1635.6h0M1247.2 1630.1h0M1214.4 1637.1h0M1139 1623.6h0M1076 1631h0M1211.9 1619h0M1221.6 1631.9h0M1075.7 1623.9h0M1089.7 1633.6h0M1101.2 1618.8h0M1101.7 1635h0M1206.9 1617.5h0M1216.3 1629.4h0M1212.9 1620.7h0M1100 1628.1h0M1099.8 1630.9h0M1071.5 1624.1h0M1129.5 1632.4h0M1075.7 1637.5h0M1157.2 1616.4h0M1160.8 1628.1h0M1215.5 1634.9h0M1073.5 1628.3h0M1138.9 1620.5h0M1074.9 1623.5h0M1077.8 1635.4h0M1130.3 1633.9h0M1194.5 1635.5h0M1080.1 1618.1h0M1069.3 1628.3h0M1093.7 1621.9h0M1070.2 1624.2h0M1113.2 1629.9h0M1145 1632.4h0M1096.1 1624.9h0M1100 1625.9h0M1140.2 1623.8h0M1147.8 1634.4h0M1087.1 1633.5h0M1088.1 1617.8h0M1121.5 1632.9h0M1138 1626h0M1220.1 1625.8h0M1200.6 1636h0M1206.5 1628.8h0M1117.2 1632.1h0M1201.8 1618.2h0M1103.7 1629.3h0M1137.4 1632.6h0M1090.6 1634.9h0M1089 1627.7h0M1104.1 1635.9h0M1154.2 1617.8h0M1106.7 1619.7h0M1210.1 1634.3h0M1212 1627.1h0M983.2 1707.3h0M1058.9 1701.1h0M1005.3 1707.7h0M1016.7 1696.6h0M1019.4 1705.3h0M944.5 1713.6h0M1049.7 1698h0M1028.5 1707.1h0M1032.2 1697.5h0M968.4 1705.3h0M970.3 1706.1h0M1110 1707.9h0M921 1709.8h0M1061.6 1709.4h0M1090.8 1701.9h0M987.9 1713.5h0M1014.2 1702.2h0M1060.7 1705.8h0M1088.3 1713.2h0M1009.8 1699.3h0M1055.6 1699h0M922.6 1702.6h0M1035.6 1702.8h0M950.4 1710.1h0M1008.9 1706.5h0M1037.7 1696.1h0M1058.2 1712.4h0M1070.3 1711h0M1063.5 1700.6h0M1027 1715.6h0M1030.1 1715.4h0M930.8 1706.4h0M1033.5 1700.8h0M978.1 1698.3h0M1029.2 1712.3h0M984.9 1712.9h0M975.6 1709.4h0M1022 1701.3h0M1075.8 1702.5h0M1159.6 1696.3h0M987.8 1701.9h0M1011.2 1707.3h0M1070.6 1700.7h0M983.7 1697.3h0M1055.4 1703.7h0M942.9 1702.9h0M1013.9 1713.4h0M1002.6 1716.7h0M1083.1 1710h0M1000.3 1711.6h0M997.6 1715.9h0M1047.6 1712.1h0M975.4 1704.8h0M1007.2 1697.2h0M1082.9 1696.4h0M999.9 1698h0M1064.6 1707.6h0M977.9 1715.2h0M1077 1708.3h0M1012.2 1702.4h0M944.9 1714h0M1001.2 1698.1h0M1105.6 1711.9h0M999.4 1715.9h0M1039.8 1699.5h0M1010.3 1708.3h0M1012.3 1708.9h0M1063.1 1706.7h0M1133.9 1712.9h0M1137.5 1696.3h0M933.3 1705.2h0M1048 1703.9h0M1047.3 1714.2h0M986 1697.5h0M1017.7 1714h0M1129.7 1717.3h0M964.4 1705.7h0M1088.1 1702.6h0M1052.9 1717.5h0M1134.4 1706h0M1078.9 1698.6h0M1096.3 1712.5h0M1022.7 1715.3h0M1074.3 1707.9h0M924.5 1715.8h0M1122.3 1715.7h0M1014.3 1705.5h0M1011.3 1713.7h0M1091.3 1696.6h0M1016.6 1701.2h0M1110.3 1704.8h0M1013.3 1706.2h0M1018.7 1716h0M1154.5 1707.4h0M990.4 1697.6h0M999.7 1705.7h0M1033.8 1700.8h0M1132.7 1713.2h0M986.6 1704.2h0M1023.9 1705.7h0M1087.2 1697.7h0M1106.5 1709.4h0M953 1700.4h0M1052.7 1705.1h0M1013.9 1710.9h0M1019.8 1706.5h0M996.5 1712.4h0M930.7 1713.3h0M964.1 1710.7h0M1046.7 1704.1h0M973.3 1698h0M950.6 1715h0M978.6 1709.8h0M1082.3 1715h0M1007.4 1706.3h0M1135.9 1708.4h0M1022.4 1717.5h0M938.7 1704.3h0M1038.8 1697h0M1090.1 1713.7h0M1040 1701.2h0M1071.1 1717.3h0M965.9 1709.8h0M1084.9 1696.1h0M1049.7 1705.5h0M884 1714.2h0M1019.9 1715.2h0M923.2 1716.6h0M1050 1702.3h0M938.9 1696.2h0M982 1697.6h0M1080.3 1712.5h0M1106.2 1715.6h0M1057.6 1713.3h0M986.7 1703.9h0M1028.6 1697.6h0M943.7 1712.6h0M1048.8 1713.7h0M999.6 1715h0M1070 1716.2h0M1115.2 1707.8h0M1026.2 1703.1h0M989.3 1696.1h0M961.4 1715.3h0M884 1704.1h0M1092.9 1695.7h0M1037.5 1706.9h0M1045.5 1704.1h0M1132.5 1697.4h0M1065.7 1715.4h0M1020.2 1696.3h0M1071.4 1697.9h0M969.6 1703h0M1071 1710.5h0M884 1707.1h0M949.9 1707.8h0M1061.4 1696.1h0M1010.4 1701.7h0M983.3 1701.6h0M1022.6 1703.9h0M989 1706.7h0M1043 1698.8h0M1069.4 1699.1h0M985.4 1705.4h0M997.4 1702.4h0M959.6 1697.1h0M1005 1713.5h0M980.6 1714.3h0M1112.2 1715.7h0M1066.7 1716.1h0M1095.9 1699.9h0M1044.2 1714h0M1001.7 1702.7h0M1083.3 1703.7h0M1077.4 1708.6h0M976 1705.1h0M1040.3 1701.3h0M972.1 1698.6h0M1023.6 1697.4h0M1081.4 1711.2h0M1026.1 1711h0M948.8 1714h0M1103.8 1701h0M1223.8 1703.8h0M1069.4 1695.7h0M956.7 1703.8h0M943 1712.2h0M1012.8 1711.2h0M1113.5 1700.1h0M987.2 1708h0M1115.2 1702.5h0M1054.1 1709.1h0M1137.2 1699.6h0M884 1696.6h0M1011.8 1713.8h0M986.7 1716.1h0M1073.3 1695.9h0M1073.8 1715.5h0M941.9 1696h0M973.6 1705.6h0M1005.4 1715h0M1007.6 1702.6h0M932.7 1708.8h0M955 1710.1h0M974 1701.5h0M884 1699.2h0M1048.9 1708.6h0M936.8 1702.1h0M1009.3 1708.6h0M1022.9 1715.4h0M943.1 1717h0M997.5 1700.7h0M1144.3 1714.5h0M949 1707.8h0M1135.3 1712.9h0M1082.5 1708.6h0M1026.7 1696.1h0M1003.4 1705.1h0M991 1710.8h0M942.1 1713.1h0M931.3 1717.1h0M928.4 1700.9h0M1071.6 1708h0M1065.9 1696.4h0M1038.4 1716.6h0M1026.2 1712.1h0M1047.6 1715.4h0M970.3 1710.7h0M1010.2 1705.7h0M932.9 1696.5h0M948.7 1708.4h0M1065.5 1701.6h0M1011.3 1707.1h0M943.3 1716.3h0M1123.6 1710.2h0M1024.9 1717h0M1008.2 1712.9h0M964.3 1711.6h0M1044.8 1712.3h0M951.3 1713h0M1094.2 1707.7h0M938.1 1699.2h0M1068.5 1707.7h0M1087.6 1697.6h0M981.7 1710.6h0M1043.4 1707.1h0M968.8 1703.3h0M1022.7 1715.5h0M1058 1714h0M1123.2 1701.7h0M980.3 1706.3h0M1029 1713.8h0M1094.5 1705.8h0M947.5 1701h0M995.4 1696.1h0M1067.6 1715.4h0M1004.8 1698.5h0M944 1709.7h0M1027.8 1710.6h0M1016.3 1708.1h0M951.7 1712h0M1037.3 1712.8h0M1061.6 1707h0M1070.5 1711.6h0M884 1709.5h0M989.3 1697h0M1008.2 1708.5h0M1031.7 1714.9h0M985.2 1715.9h0M940.5 1715.7h0M980 1709.6h0M984.3 1710.8h0M1063.8 1703.7h0M1054.4 1708.5h0M1101.9 1697.7h0M1084.3 1702.3h0M987.9 1706.5h0M1045.5 1700.2h0M1085.1 1702.3h0M965.3 1713.7h0M1077.5 1710.7h0M978.2 1705.8h0M1107.3 1717.6h0M1127.6 1710h0M1088.1 1701.9h0M1087.1 1696.2h0M1012.4 1711.1h0M1118.5 1696.5h0M1014.6 1715.6h0M1101.5 1702.6h0M1003.9 1706.7h0M988.1 1707.7h0M1033.5 1710.9h0M1054.2 1704h0M1046.5 1704.1h0M1108.3 1701.1h0M1068.1 1707.5h0M1015.6 1695.7h0M1099.2 1709.8h0M1084.5 1714.2h0M1000.9 1696.2h0M1058.4 1712.7h0M998.8 1698.5h0M1072.6 1711.9h0M1057.4 1700.5h0M1024.6 1713.9h0M975.7 1710h0M1051.7 1706.9h0M994.4 1717.2h0M950.6 1709.5h0M1051.7 1706h0M992.3 1696.7h0M958.7 1716h0M1093.2 1703.7h0M1035 1711.5h0M884 1716.5h0M1022.5 1699.5h0M1067.4 1703.1h0M1118.4 1716.9h0M1081.7 1702.8h0M1040.5 1708.4h0M1100.5 1704.5h0M1086.5 1714.1h0M921.3 1707.7h0M1047.2 1701.4h0M1016.5 1707.3h0M1013.6 1713.5h0M1098.6 1716.4h0M947.3 1712.1h0M994.4 1707.5h0M1008.5 1697.2h0M1058.6 1714.7h0M1022 1699.5h0M1064.9 1696.8h0M1095.2 1705.7h0M983.1 1701.4h0M1080.2 1716.7h0M1011.5 1698.4h0M1064.8 1704.6h0M978.5 1699.4h0M925.7 1696.3h0M1089.5 1705.8h0M1115 1703.5h0M957.5 1713.4h0M974.5 1701.3h0M1136.9 1715.3h0M1090.5 1701.4h0M982.9 1697.7h0M949.8 1708.7h0M960.2 1698.6h0M982.7 1713.7h0M1064.5 1710.6h0M1128.1 1716.5h0M1067.7 1707.3h0M1114.8 1709h0M1103.1 1703.1h0M1000.6 1700.9h0M978.9 1701.2h0M1015.2 1711.5h0M1099 1701.4h0M1112 1702.6h0M1095.5 1709.9h0M1026.5 1697.9h0M1065.8 1703.7h0M1073.8 1701.1h0M1017.1 1704.8h0M977.7 1695.6h0M1077.2 1711.3h0M981.2 1704.2h0M1019 1715.3h0M1073.6 1714.3h0M1068.5 1708.6h0M1045.2 1713.3h0M971.2 1710.1h0M1124.9 1706.2h0M998.4 1703.8h0M923.4 1717.5h0M1168.5 1699.4h0M1002.7 1705.9h0M1088.2 1702.2h0M1153.1 1704.2h0M968.8 1708.2h0M1038.9 1712.6h0M884 1705.8h0M1091.7 1716.2h0M958.1 1716h0M1119.1 1699.9h0M989.5 1708.4h0M1083.5 1712.1h0M982 1714.2h0M1165.5 1700.2h0M946.8 1706.8h0M941.8 1701.8h0M1088.8 1704.3h0M1095 1704.7h0M1093.8 1705.6h0M1052.2 1717.2h0M1056.1 1710.1h0M931.3 1698.8h0M1036.3 1699.2h0M1060.4 1709.7h0M991.3 1710.9h0M1136.9 1706.4h0M973.4 1695.8h0M932.5 1711.2h0M1049.5 1699.6h0M1094.9 1709.8h0M939.1 1697.8h0M992.8 1717.2h0M1043.4 1708h0M1003.5 1715.2h0M1029.5 1699.8h0M970.8 1698.8h0M1035.5 1697.1h0M1165.3 1700.7h0M973.9 1713.7h0M1083.9 1699h0M924.9 1708.4h0M996.3 1701.7h0M939.2 1715.5h0M1051.3 1705.1h0M1087.7 1710.1h0M964.2 1714.5h0M1162.2 1701.1h0M1186.4 1712.2h0M941.5 1710.7h0M1023.9 1696.1h0M1046.2 1699.8h0M926.5 1713.6h0M1079.5 1699.3h0M1005.1 1712.7h0M1019.8 1710.9h0M1075.9 1715.9h0M984.9 1699.1h0M949.2 1700.6h0M1085.3 1709.6h0M995.8 1714.6h0M986.2 1702.4h0M921.2 1696.8h0M1104.2 1696.9h0M1110.3 1705.3h0M1059.7 1699.3h0M1069.5 1696.1h0M1203.6 1698.2h0M1140 1705.2h0M1131.3 1708h0M1022.3 1698.9h0M1044.6 1710.6h0M1010.9 1703h0M964.4 1700.9h0M1077.1 1705.9h0M1015.5 1716.9h0M1046 1704h0M1014.4 1711.9h0M1041.1 1715.5h0M945.6 1709.4h0M1082.8 1705.8h0M1036.7 1700.1h0M941.8 1697.8h0M1009.2 1717h0M884 1701.5h0M1188.8 1706.4h0M1065.6 1701.1h0M1091.1 1711.1h0M1028.5 1712.8h0M1115.6 1696.2h0M1032.4 1710.2h0M960.2 1698.6h0M1060.8 1715.3h0M1122.5 1709.2h0M1099.8 1717.4h0M993.2 1696.9h0M1072.6 1708.1h0M986.9 1710.4h0M1049 1716.5h0M1130.4 1699.3h0M1055.1 1716.1h0M1161.2 1789.1h0M1063.5 1784.6h0M1078.8 1788.3h0M1053 1794.4h0M1102.3 1793.7h0M1157.4 1777.5h0M1058.2 1794.4h0M1136 1796.3h0M1089.1 1791.1h0M1035.6 1784.7h0M1066.4 1788h0M1036.2 1777.2h0M1097.7 1775.8h0M1063.1 1782.2h0M1163.7 1790.9h0M1059 1779.3h0M1129.1 1775.8h0M1124.1 1789.5h0M1147.1 1787.5h0M1174.3 1778.2h0M1126.6 1779.1h0M1071.4 1779.7h0M1155.2 1792.5h0M1129.1 1792.3h0M1113.4 1786.3h0M1076.4 1785.8h0M1141 1793.4h0M1078.2 1787.4h0M1111.9 1779.8h0M1138.5 1775.1h0M1106.1 1796.9h0M1117.8 1782.2h0M1146.6 1790.4h0M1082.3 1794.2h0M1061.4 1785.6h0M1087 1794.9h0M1053.6 1783.8h0M1144 1777.1h0M1100.4 1780.6h0M1098.3 1789.4h0M1030.5 1791h0M1144 1785.8h0M1078.2 1791.4h0M1035 1790.4h0M1047.8 1793.1h0M1166.7 1779.4h0M1066.3 1792.1h0M1101.3 1776.2h0M1091.2 1783.1h0M1048.7 1781.6h0M1144.1 1788h0M1134.2 1790.5h0M1147 1783.4h0M1111 1784.4h0M1158.1 1785h0M1060.5 1787.9h0M1075.6 1782.4h0M1084.2 1783.1h0M1101.6 1782.9h0M1041.4 1780.3h0M1133.4 1777.3h0M1051.1 1793.4h0M1057.9 1780.5h0M1081.1 1791.7h0M1035.3 1779.8h0M1177.2 1794.8h0M1121.2 1787.1h0M1106.6 1779.6h0M1149.2 1780.9h0M1128 1787.4h0M1121.3 1789.4h0M1128.7 1780.5h0M1054.8 1796.1h0M1130.4 1781h0M1045.6 1778.8h0M1116.2 1784.9h0M1029.2 1775.6h0M1161.1 1776h0M1048.4 1790.8h0M1091.8 1791.5h0M1165.7 1779.1h0M1069.1 1777.8h0M1086.2 1794.8h0M1036.8 1776.9h0M1058.5 1784.7h0M1127.3 1778.7h0M1063.4 1783.9h0M1150.9 1776.5h0M1065.1 1792.1h0M1113.6 1794h0M1057.7 1781.1h0M1135.9 1784h0M1047.5 1787.4h0M1056.3 1795h0M1113.8 1777.1h0M1024.9 1780.9h0M1054.8 1776.1h0M1144.9 1777h0M1090.1 1782.8h0M1043.8 1788.3h0M1079.8 1791.2h0M1070.4 1776.4h0M1120.7 1781.6h0M1149.3 1788.5h0M1028.3 1777.6h0M1033.2 1793.7h0M1030.8 1785.7h0M1028.1 1796h0M1049.7 1777.9h0M1035.3 1782.9h0M1041.7 1783.3h0M1087.6 1787.4h0M1048.6 1789.8h0M1145.3 1795.3h0M1091.4 1788.8h0M1145.1 1779.7h0M1101.2 1784.5h0M1171.7 1778.4h0M1087.4 1780.9h0M1089.3 1794.8h0M1129.5 1779h0M1068.8 1791.1h0M1105.7 1789.8h0M1137.5 1788.2h0M1046.6 1779.8h0M1054.8 1784.6h0M1028.9 1789.6h0M1044.8 1791h0M1061.1 1776.5h0M1125.8 1795.8h0M1133.1 1774.9h0M1116.4 1796.3h0M1097.6 1795.6h0M1119.9 1775.6h0M1119.4 1787.4h0M1095.1 1785.4h0M1141.2 1793.8h0M1124.3 1790.4h0M1108.9 1792.8h0M1113.8 1783.2h0M1149.1 1793.3h0M1086.8 1779.9h0M1123.7 1775.7h0M1069.3 1775.2h0M1064.1 1790.9h0M1145.2 1795.9h0M1099.6 1783.3h0M1048.4 1786.7h0M1123.2 1789h0M1171.9 1796.4h0M1093.9 1784.8h0M1120 1784.9h0M1115.2 1793.4h0M1037.5 1788.5h0M1142.1 1779.1h0M1041.2 1788.9h0M1201.4 1794.4h0M1036.1 1788.4h0M1055.5 1792.6h0M1158.9 1785.1h0M1081.4 1791.1h0M1034.5 1782.2h0M1080.6 1777.9h0M1074.9 1784.9h0M1097.1 1781.8h0M1095.9 1784.9h0M1070.2 1786.5h0M1072.7 1793.2h0M1106.2 1792.9h0M1053.6 1788.7h0M1132 1775.4h0M1036 1783.1h0M1143.9 1792.7h0M1027.2 1785.9h0M1057.3 1782.4h0M1136 1787.9h0M1116.6 1785h0M1118.4 1786.3h0M1141.3 1780.2h0M1139 1794.2h0M1134.9 1791h0M1139.6 1792.1h0M1092.3 1789.3h0M1163.2 1792.3h0M1021.4 1789.8h0M1147.6 1782.7h0M1113.9 1781.4h0M1039.5 1782.7h0M1147.1 1777.3h0M1087.9 1794.5h0M1100.4 1790.4h0M1147.6 1796.3h0M1088.1 1784.6h0M1108.2 1779.1h0M1039.2 1781.9h0M1084.9 1791.6h0M1116.7 1787.6h0M1049.2 1793h0M1034.7 1793.9h0M1151.6 1796h0M1130.2 1796.5h0M1124.3 1791.8h0M1087.6 1792.4h0M1152 1782.7h0M1081.5 1793h0M1100.1 1788.7h0M1140.3 1784h0M1118.5 1791.1h0M1152.6 1780.6h0M1057.4 1788.5h0M1101.7 1783.2h0M1146.9 1789.7h0M1169.8 1786.1h0M1079.7 1780.2h0M1103.3 1777.7h0M1083.8 1779.4h0M1121.2 1780.9h0M1116.8 1782.5h0M1127.6 1789.5h0M1095.6 1778.6h0M1168.9 1783.6h0M1094.4 1779.3h0M1108.8 1787h0M1133.9 1794h0M1030.4 1796.1h0M1084.6 1776.3h0M1099 1783.7h0M1069.3 1787.2h0M1107.3 1785.8h0M1137.2 1774.9h0M1166.8 1793.8h0M1125.4 1786.9h0M1134.8 1784.9h0M1144.8 1775.6h0M1100.3 1774.9h0M1103.7 1785.9h0M1085.3 1787.9h0M1062 1789.9h0M1107.6 1790.5h0M1138.8 1782.5h0M1127.1 1792.5h0M1127.3 1780.9h0M1116 1786.6h0M1087.5 1777.6h0M1072.2 1782h0M1125 1782.1h0M1063.9 1776.2h0M1056.5 1788.8h0M1042.2 1790.5h0M1159.4 1780.9h0M1134.1 1776.4h0M1076.5 1778.8h0M1060.5 1785.1h0M1063 1780.7h0M1056.1 1789.6h0M1070.8 1776.1h0M1138.5 1786.3h0M1043 1793.2h0M1132.6 1780h0M1151.4 1778.7h0M1131.8 1776.1h0M1077.7 1775.1h0M1089.6 1789.7h0M1047.4 1780.1h0M1045.1 1786.2h0M1055 1786.2h0M1155.7 1785.7h0M1115.8 1778.5h0M1146.3 1796.1h0M1022.8 1781.2h0M1033.8 1788.8h0M1139.5 1785.5h0M1097.9 1792.6h0M1027.5 1785.4h0M1149.8 1777h0M1084.4 1792.6h0M1099.8 1775.5h0M1059.7 1782.7h0M1112.8 1779.4h0M1025.6 1776.5h0M1089.8 1793.6h0M1055 1784.4h0M1087.2 1776.7h0M1092 1781.6h0M1090.4 1780.7h0M1109.5 1787.1h0M1163.3 1783.4h0M1063.7 1776.3h0M1089 1775.9h0M1051 1779h0M1062 1786.7h0M1091.5 1796.1h0M1118.5 1778.2h0M1099 1790.2h0M1141.2 1784.9h0M1071.1 1776.3h0M1137.5 1782.1h0M1128.2 1791.6h0M1035.8 1792.5h0M1051.1 1791.8h0M1161.8 1786.1h0M1154.3 1787h0M1097.8 1783.8h0M1086 1794.9h0M1084.7 1787.2h0M1046.4 1785.2h0M1138.4 1786.6h0M1145.5 1790.6h0M1055.6 1789.3h0M1136.6 1788.5h0M1066.8 1792h0M1135.6 1788.6h0M957.9 1785.7h0M1088.6 1794.2h0M1046.8 1777.9h0M1089.4 1776.8h0M1086.4 1781.5h0M1068.8 1794.7h0M1035.5 1775.3h0M938.1 1866.6h0M1057.1 1859.1h0M1071.6 1856.9h0M1046.1 1860.9h0M1027.2 1871.3h0M1102.2 1870.3h0M1049 1855.6h0M1076.8 1859.8h0M1091.5 1868.5h0M1046.3 1875.5h0M1087 1854.6h0M1137.9 1867.3h0M1039.5 1869.6h0M1080.2 1858.1h0M1033.4 1861.2h0M1140.1 1867h0M1025.9 1859.5h0M1029.5 1875.3h0M991.1 1854.7h0M1106.9 1870.3h0M979.6 1863.9h0M1005.8 1867.3h0M1056.2 1855.8h0M1015.7 1873.8h0M1019.6 1857.1h0M987.2 1861.6h0M1038.4 1866.3h0M1002.3 1864.6h0M1125.4 1870.6h0M1076.6 1860.9h0M988.1 1865.6h0M1067.8 1861h0M1112.7 1861.8h0M1008.1 1868.8h0M1111.2 1874.8h0M1021.3 1855.3h0M1102.9 1858.2h0M986.2 1871.7h0M1064.3 1863.6h0M1076.5 1861.7h0M1022.6 1856.1h0M1090.3 1873.9h0M1092 1860.4h0M1077.8 1874.1h0M1071.2 1857.8h0M1115.8 1857.8h0M1079.7 1864.9h0M1004.6 1874.2h0M1108.6 1863.2h0M1049.9 1871.1h0M1060.7 1857.9h0M1125.7 1869.3h0M1075.2 1860.5h0M1091.1 1859.2h0M1129.3 1872.1h0M991.1 1854.8h0M1082.2 1872.6h0M1084.2 1856h0M1090 1868.5h0M1132.9 1856.3h0M987.7 1872.1h0M1152.4 1864.9h0M997.9 1873.6h0M930.2 1869.1h0M1029.9 1871.5h0M992.2 1862.5h0M1087.7 1907.6h0M1152.2 1903.4h0M1129 1898.8h0M1155.9 1896.6h0M1091.7 1896h0M1081.7 1903.9h0M1121.3 1913.2h0M1120.2 1911.2h0M1099.7 1914.9h0M1149.3 1910.5h0M1127.8 1913.1h0M1106.5 1908.5h0M1100.9 1904.4h0M1171.2 1915.5h0M1076.3 1910.3h0M1077.9 1895h0M1137.1 1896h0M1157.7 1908.1h0M1059.3 1902.3h0M1145 1911.8h0M1120.9 1905.9h0M1115.2 1905.7h0M1065.8 1896.3h0M1089.7 1915.3h0M1128.8 1903.3h0M1071.2 1907.4h0M1042.7 1901h0M1128.1 1894.7h0M1127.3 1902.9h0M1104.2 1913.4h0M1135.5 1907.4h0M1114 1907.6h0M1049.9 1912.4h0M1088.7 1898h0M1098.4 1897.6h0M1110.4 1896.2h0M1086.4 1902h0M1078.6 1908.9h0M1106.8 1899.4h0M1124.1 1905.2h0M1182.9 1904.3h0M1151.9 1899.6h0M1167.8 1899.9h0M1152 1895.2h0M1080.8 1899.3h0M1082.3 1897.9h0M1149.2 1898.5h0M1130.7 1900.7h0M1072.2 1898.2h0M1101.6 1910.1h0M1147.2 1908.1h0M1141.4 1907.6h0M1135.3 1908h0M1133.1 1897.4h0M1108.6 1905.3h0M1091.6 1913h0M1081.1 1902.5h0M1143.3 1911.6h0M1124.4 1910.2h0M1099 1897h0M884 1902.2h0M1084.1 1895h0M1150 1905.3h0M999.4 1906.8h0M1104.9 1895.7h0M1135.1 1914.3h0M1078 1906.7h0M1027.2 1907.6h0M1088.5 1897.4h0M1179.8 1915.1h0M1134.8 1914.4h0M1175.8 1904.8h0M1074.2 1893.9h0M1116.5 1906h0M1103.5 1913.3h0M1105.7 1896.5h0M1081.3 1915.2h0M1110.6 1903.6h0M1088.1 1907.3h0M1078.2 1912.6h0M1081.9 1893.9h0M1181.1 1904.7h0M1104.4 1900h0M1092.2 1894.7h0M1038.4 1902h0M1082.9 1903.8h0M1155.7 1903.4h0M1174.6 1903.6h0M1079 1903.6h0M1053.5 1903.6h0M1080.7 1913.3h0M1112 1908.5h0M1074.2 1914.3h0M1098.7 1904.7h0M1140.6 1898.1h0M1089.2 1910.4h0M1143.6 1914.7h0M1125 1902.6h0M1134.8 1897.3h0M1147.7 1906.4h0M1111.8 1907h0M1034.1 1909.1h0M1091.2 1900.9h0M1075 1896.8h0M1122.5 1951.7h0M972.6 1945h0M1032.1 1943.8h0M957.6 1950.1h0M994.9 1940.6h0M986.1 1934.9h0M961.3 1940.5h0M884 1950.2h0M1000.2 1951.5h0M1001.8 1954.6h0M974.9 1941.1h0M1096.4 1951.8h0M975.5 1939.2h0M1072 1938.7h0M960.8 1951h0M1027.1 1942.8h0M943.5 1937.5h0M962.8 1942.5h0M966 1938h0M1075.4 1938.7h0M995.6 1954.7h0M964.7 1936.3h0M1031.1 1942.2h0M1015.3 1936.6h0M1072.2 1936.1h0M1054.4 1955h0M1030.4 1935.4h0M1000.4 1936.2h0M974.6 1934.4h0M1000.6 1947.5h0M1013.4 1944.5h0M988.7 1951.7h0M998.4 1936.1h0M966.9 1947.3h0M1103.3 1939.7h0M884 1953.7h0M1004.7 1948.8h0M1006.9 1945.1h0M971.7 1949.9h0M1006.5 1938.4h0M968.5 1941.5h0M1008.2 1943h0M947.5 1949.5h0M986.1 1934.7h0M1111.9 1941.6h0M956.9 1939.8h0M1017.1 1946.4h0M1007.8 1944.6h0M994.3 1939.4h0M1007.6 1948.5h0M998.5 1935.2h0M884 1948.7h0M957 1939.2h0M964.1 1934h0M1069.1 1939.3h0M1098.7 1937.7h0M966.5 1950.1h0M884 1950.4h0M1008.7 1941.7h0M997.2 1943.2h0M1055.7 1944.4h0M999.2 1941.6h0M1118.2 1948h0M1063.5 1942.9h0M1020.9 1954.6h0M1009.8 1936.5h0M1100 1943.4h0M926.6 1934.8h0M983.7 1952.3h0M989.8 1952.5h0M1059.9 1935.7h0M1009.4 1938.6h0M993.1 1939.4h0M998.5 1941.2h0M1128.7 1954.1h0M1132.3 1948.9h0M1050.3 1940.4h0M998.2 1935.4h0M1052.8 1940h0M1089.9 1946.7h0M983.7 1949.1h0M1070.6 1938.4h0M964.6 1938.2h0M1092.2 1946.3h0M981.7 1950.7h0M1078.8 1977.3h0M1107.6 1985.9h0M1051.7 1978.9h0M1082.4 1990.7h0M1013.9 1975.3h0M1080.2 1991.9h0M1015.7 1983.7h0M1055.7 1991.2h0M1111.2 1985.2h0M990 1985.8h0M1118.5 1987.7h0M1066.9 1983.2h0M1049.9 1976.2h0M1106.2 1977.7h0M972 1976.4h0M1046.3 1990.9h0M1054.6 1991.8h0M977.8 1973.2h0M1019.6 1974.2h0M1021.1 1990.7h0M1028.3 1983.8h0M1012 1991.8h0M1042.7 1978.5h0M1031.9 1977.7h0M1108.7 1984.4h0M1010.2 1990.8h0M1036.6 1977.9h0M1080.6 1978.4h0M1023.7 2025.7h0M1072.7 2026.4h0M986.7 2022.6h0M1041.1 2026.9h0M1109 2018.6h0M1022 2034.2h0M1066 2013.1h0M1096.7 2027.3h0M1009 2032.6h0M997 2033.9h0M1062.1 2028.5h0M979.5 2012.8h0M1029 2018.3h0M1102.3 2027.6h0M988.5 2014.8h0M1099 2017.6h0M1050.6 2019.5h0M1041.6 2023.5h0M1069.5 2029.1h0M1065.6 2028.8h0M1008.5 2013.2h0M1038.5 2018.9h0M1119.4 2028.9h0M1093.6 2016h0M1109.3 2018.9h0M1057 2028h0M1086.2 2020.1h0M1051.2 2028h0M994.7 2017.5h0M1046.5 2031.1h0M1016 2018.5h0M1079.8 2016.1h0M1027.7 2032.5h0M1092 2026.2h0M1065.8 2030.1h0M1062 2018.7h0M1125.3 2033h0M884 2021.7h0M1007 2021h0M1057.6 2027.5h0M1044.2 2022.5h0M1077 2012.7h0M1111.8 2022.4h0M1079.9 2021.9h0M1002.3 2026.3h0M1055 2019.6h0M1001.9 2014h0M1016.4 2027.4h0M1007.1 2030.6h0M1099.9 2014.8h0M989.3 2016.7h0M1061.5 2026.1h0M1005.4 2022.8h0M1101.4 2021.9h0M1052.3 2033.2h0M1084.5 2031.8h0M1066.7 2028.3h0M1035.8 2028.2h0M1015.1 2023.4h0M1068.7 2020h0M984.5 2015h0M1056.4 2024.7h0M1041.2 2024.9h0M992.4 2019.3h0M1049.4 2022.3h0M963.4 2022.7h0M1115.7 2018.1h0M1139 2021.1h0M1029.6 2033.6h0M1036.6 2018.1h0M1067.2 2033.8h0M1015 2013.3h0M1066.6 2033.2h0M1075.5 2022.8h0M1002.7 2013.7h0M1089 2021.6h0M1071.6 2014.7h0M974.2 2019.9h0M1019.5 2028.4h0M983 2021.2h0M1048.9 2021.7h0M987.7 2031.7h0M1068.6 2014h0M1032.3 2022.5h0M1104.2 2024.8h0M1018 2024h0M1094 2023.3h0M1063.2 2027.6h0M1017.1 2015.3h0M1098.3 2029.5h0M1053.6 2020.8h0M1096.9 2015.2h0M1065 2023.9h0M1075.4 2022.4h0M993.9 2021.9h0M1065 2014.2h0M1015.8 2014.9h0M985.5 2020.3h0M1045.1 2024.9h0M1035.3 2019.9h0M1028.3 2024.7h0M1008.3 2023.4h0M1024 2031.4h0M1079 2027.7h0M1048.5 2015.1h0M1150.9 2029.3h0M1077.6 2025.9h0M1059.4 2027.6h0M1106.4 2030.6h0M1044.2 2027.9h0M1033.3 2027.5h0M1003.2 2026.8h0M1009.3 2016.2h0M1003.4 2033h0M991.1 2031.8h0M1054.4 2016.7h0M1012.8 2015.3h0M1101.5 2017.3h0M988.3 2030h0M996.7 2028.3h0M998.8 2031.1h0M1076.2 2026.8h0M1089.8 2032.2h0M1074.2 2024.1h0M1053.3 2032h0M1089.2 2024.3h0M990.3 2025.8h0M1036.3 2029.1h0M1032.7 2026.5h0M1101.2 2014.5h0M1028.3 2013.9h0M989.1 2018.6h0M1070.1 2017.7h0M1026.8 2031h0M1101.7 2030h0M1029.2 2020.8h0M1089.9 2033.7h0M1008.4 2029.2h0M1093.3 2014.9h0M1108 2021.4h0M1033.8 2013.7h0M1020.3 2022.6h0M1013.2 2017.8h0M1056.8 2030.3h0M1087.4 2020.5h0M1095.6 2018.7h0M1018.3 2015.9h0M1048 2028h0M1090 2028.9h0M1070.5 2034.4h0M1052.4 2018.7h0M1103.2 2030.3h0M1057.1 2025.6h0M1060.2 2016.4h0M1084.4 2014.3h0M1091.9 2017.5h0M1008.8 2025.4h0M1048.2 2028.5h0M1055.1 2022.6h0M1054.2 2032.3h0M993.4 2032.1h0M1052.4 2015.1h0M1088.2 2016.5h0M1100.6 2018.1h0M992.5 2031.9h0M1084.8 2030.1h0M1006.4 2015.1h0M999 2025.6h0M1040.6 2014.9h0M1087.7 2025.4h0M1094.8 2027h0M1024.2 2019.8h0M1089.2 2033.9h0M1013.9 2020.8h0M1060.5 2013.5h0M994.7 2016.7h0M1102.6 2031.2h0M1031.7 2022.3h0M1069 2034.5h0M987.1 2027.5h0M1081.3 2023.2h0M1074.7 2020.2h0M1086.1 2030.5h0M998.6 2022.8h0M1122.2 2034.5h0M1068.7 2026.1h0M1125.5 2028.6h0M1005.2 2028.5h0M1106 2020.7h0M1052.9 2018.1h0M1004.5 2031.1h0M1088.7 2026.8h0M1105 2022.6h0M991.6 2027.2h0M1045.3 2024.8h0M987.3 2013h0M1047.6 2026h0M1057.5 2019.5h0M1057.7 2017.4h0M1011 2024.6h0M1026.6 2023.7h0M1061.5 2015h0M1043 2027h0M1032.5 2013.2h0M938.1 2016.7h0M1108 2024.6h0M1093.6 2023.8h0M1103.3 2029.7h0M1065.2 2031.2h0M984.9 2014.2h0M1012.9 2016.4h0M983 2022.9h0M989 2019.8h0M1004.1 2021h0M1064.1 2014.8h0M1093.9 2015.1h0M1055.7 2029h0M1025 2031h0M1058.2 2033.3h0M1102.1 2028.3h0M1101.5 2029.7h0M1027 2020.8h0M1009.7 2027.4h0M1049.8 2017.7h0M1083.2 2027.7h0M1031.3 2018.5h0M1045.7 2016.8h0M1102.7 2032.4h0M1073.4 2016.7h0M1000.2 2020.2h0M986.2 2019.9h0M1042.8 2028.6h0M1067.3 2016.7h0M1008.7 2024.8h0M1105.2 2023.4h0M996.7 2020.3h0M1067.1 2016.9h0M990.8 2014.6h0M1059.4 2024.1h0M1000.7 2016.9h0M1074 2031.5h0M1106 2021.6h0M1093.8 2032.5h0M1010 2021.1h0M1111.8 2016.8h0M1156.3 2015.7h0M985.8 2021.1h0M991.9 2030.9h0M994.8 2025.5h0M1039.9 2019.5h0M1024.5 2017.3h0M1004.5 2018.3h0M1060.4 2030.3h0M1056.8 2027.7h0M995.1 2016.3h0M1076.8 2030.7h0M1065.8 2020.4h0M1068.4 2034.1h0M1007 2020.6h0M1017.6 2029.5h0M1005.8 2030h0M1022.8 2031.7h0M985.2 2031.1h0M1118.3 2018.3h0M999.2 2023.4h0M1065.8 2024.8h0M1051.1 2017h0M996.2 2020.6h0M991.7 2028.5h0M1071.5 2024.1h0M1003.6 2018.6h0M1035.1 2017.9h0M970.6 2020.3h0M1017.4 2021h0M1012 2015.1h0M996.2 2028.8h0M989.1 2025.4h0M1019.9 2027.2h0M999.6 2026.7h0M1011.5 2024.1h0M1007.9 2025.1h0M1037.5 2012.9h0M1106.3 2032.8h0M1114.8 2020.7h0M951.8 2032.8h0M1054.5 2023.4h0M1002.7 2015.6h0M1090 2019.7h0M992 2031.9h0M1063.3 2012.7h0M1043.1 2017.6h0M1001.8 2027.5h0M1044.4 2026h0M1041.3 2024.5h0M1049.2 2031.6h0M1037.6 2027.1h0M1049.9 2033.1h0M1017.5 2023.6h0M1026.5 2013.4h0M1053.2 2014.1h0M1071.3 2019.6h0M1038.7 2017.6h0M1117.9 2015h0M1108.8 2027h0M989.4 2027.2h0M1104.6 2025.5h0M1012.8 2030h0M1018 2017.5h0M1020.8 2022.7h0M1079.3 2022h0M1064.8 2021.1h0M958.9 2059.7h0M942.2 2054.8h0M973.2 2071.4h0M1093.2 2055.8h0M958.4 2055.4h0M1065.4 2071.8h0M1028.7 2072.1h0M1000.1 2057.9h0M967.5 2060.3h0M968.6 2063.1h0M936.1 2052.7h0M971.9 2069.4h0M1037.9 2072.8h0M1116.7 2058.2h0M974.3 2069.4h0M988.6 2063.6h0M930.2 2064.4h0M1053.3 2071.7h0M964.3 2060.6h0M1061.6 2068.4h0M1043.2 2057.2h0M962 2070.3h0M1028 2070.1h0M1038.7 2055.3h0M884 2069.2h0M1017.6 2056.7h0M1011.9 2054.8h0M990.2 2070.6h0M939.4 2057.1h0M990.4 2072.9h0M955.2 2070.3h0M970.3 2058.6h0M1048.8 2072.2h0M990.3 2053.8h0M1035.1 2059.5h0M994.4 2067.1h0M934.1 2069.8h0M996.5 2071h0M930.7 2070.9h0M975.9 2055.4h0M1008 2057.8h0M1004.5 2059.9h0M980.1 2058.8h0M1000.5 2069.8h0M973.5 2056h0M928.9 2065.2h0M986.5 2069.4h0M963.4 2065.3h0M1028.7 2062h0M931.3 2064.8h0M937.2 2068.8h0M1010.5 2065h0M1095 2056.8h0M1008.5 2062.5h0M978.8 2073.4h0M1022.1 2053.1h0M1050.7 2072.9h0M1049.5 2067.8h0M928.7 2055.7h0M1034.4 2072.8h0M949.1 2066.8h0M1037.4 2053.1h0M978.5 2062.7h0M975.1 2063.9h0M1039.2 2057h0M978 2068.9h0M978.8 2063.8h0M977.5 2065h0M1148.4 2068h0M927.6 2064.8h0M1002 2070.1h0M1011 2066h0M1030.2 2056h0M987.6 2072.6h0M1026 2053.9h0M884 2053.5h0M998.2 2062.5h0M963.3 2059.9h0M925.2 2070.2h0M985.7 2070.7h0M884 2056.2h0M1055.2 2058.7h0M1006.8 2055.8h0M964.1 2055.1h0M1023.7 2058.9h0M973 2069.9h0M1062.5 2058.3h0M942.7 2069.2h0M1004.7 2054h0M958.3 2061.5h0M958.7 2072.8h0M1053.8 2068.3h0M932.4 2058.3h0M956.4 2055.4h0M946.6 2055.1h0M940.6 2061h0M1041.1 2071.3h0M1011.7 2061.7h0M960.8 2064.4h0M1038.1 2064.6h0M884 2062.8h0M1038.9 2056h0M982.6 2070.3h0M975.2 2055.2h0M936.4 2073.9h0M956.5 2065.7h0M1141.9 2055.9h0M1016.5 2065.7h0M1034.7 2056.1h0M991.1 2073.7h0M1026 2068h0M1109.4 2073.9h0M1000.6 2059.8h0M950.5 2060h0M947.7 2057.2h0M999.1 2072.1h0M1059.4 2065.4h0M1023.2 2054.9h0M1048.5 2055.8h0M979.9 2055.4h0M974.8 2069.8h0M1026.1 2071.3h0M996.5 2055.3h0M1059.7 2053.5h0M979.4 2063.1h0M948.1 2062.4h0M1023.7 2065.4h0M964.2 2068h0M976.6 2073.8h0M1047.2 2061.5h0M1015.7 2072.1h0M1082.4 2061.3h0M1011.1 2059.6h0M884 2059.6h0M980.9 2065.9h0M1020.5 2071.5h0M960.8 2073h0M1029.3 2060.2h0M1044.2 2074h0M1039.5 2060.6h0M1043.5 2072.4h0M954.2 2052.4h0M977.9 2072.5h0M984.6 2054.8h0M983.8 2054.1h0M1004 2061h0M995.3 2066.7h0M929.7 2074.2h0M1003.2 2073.4h0M961 2062.6h0M958.2 2058.4h0M1010.1 2056.7h0M963.2 2060.7h0M1002.8 2068.8h0M965.9 2059.1h0M1064.9 2066.6h0M884 2072.6h0M924.3 2066.4h0M884 2067h0M1032.1 2056.2h0M1051.4 2070.2h0M950.6 2064.6h0M988.8 2064.9h0M1045.7 2054.9h0M995 2065.7h0M970.7 2056.3h0M971.4 2070.6h0M1031.6 2071.5h0M1042.5 2065.9h0M1040.5 2073.2h0M948.5 2054.9h0M1019.3 2069.9h0M993.7 2066.8h0M930.4 2059.8h0M971.9 2067.3h0M1005.9 2071.1h0M1008.1 2066.4h0M924.6 2053.2h0M1030.7 2068.7h0M1031.6 2066.3h0M1028.2 2056.3h0M1022.7 2063.2h0M967.2 2072.3h0M992 2073.4h0M1037.8 2072.3h0M970.8 2072.3h0M1063.8 2072.9h0M969.6 2063.8h0M953 2065.4h0M959.1 2056h0M982.7 2059h0M923.8 2062.5h0M1044 2069.5h0M1012.5 2063.8h0M966.1 2056.7h0M973 2058h0M1049.7 2055.1h0M927.6 2054.3h0M994.5 2065.9h0M1029.6 2069.3h0M1066.9 2057.1h0M1039 2064h0M963.4 2068.8h0M991.3 2056.3h0M987.8 2063.7h0M1012.9 2066.6h0M964.3 2058h0M1143.7 2066h0M925 2067.8h0M1049.2 2058.6h0M981.3 2064.6h0M1035.3 2072h0M973.5 2053.3h0M939.2 2058.3h0M1047.4 2072.4h0M925.2 2071.2h0M1054.9 2073.3h0M943.7 2060.1h0M939.7 2057.2h0M1045.4 2069.5h0M1023.6 2069.4h0M1007.3 2074.3h0M1011.7 2069.9h0M950.5 2057.7h0M958.5 2060.8h0M978.2 2059.1h0M1025.6 2071h0M924.1 2063.6h0M998.5 2070.1h0M1026 2056.7h0M989 2053h0M1043 2052.4h0M1026.5 2067.1h0M953.2 2071.6h0M977.4 2052.5h0M1078.8 2068.7h0M943 2060.8h0M1008.7 2061.7h0M930.1 2066.9h0M924.4 2072.2h0M949.9 2052.9h0M938.5 2056h0M979.2 2064.2h0" stroke="#57c5d5" stroke-width="6.8" stroke-linecap="round" fill="none"/><path d="M1026.1 130.5h0M1166.6 354.9h0M1155.2 368.1h0M1157.3 354.2h0M1116.8 355.8h0M1103.2 360.5h0M1081.7 349.2h0M1156.5 366.9h0M1167.9 364.6h0M1165.1 351.9h0M1161.4 367h0M1134.5 351.9h0M1104.2 366.2h0M1103.6 367.2h0M1158 366.1h0M1137 360.1h0M1102.6 348.8h0M1124.6 349.4h0M1108.6 362.8h0M1154.9 361.4h0M1083.6 351.5h0M1254.1 360.5h0M1130.8 441.6h0M1108.1 432.6h0M1111.1 448.8h0M1158 437.1h0M1147.5 437.7h0M1156.9 429.5h0M1117.6 442.4h0M1080 433.2h0M1071.6 436.2h0M1093.8 432.1h0M1154.4 438h0M1167.2 433.5h0M1066.4 483h0M1008.8 485.4h0M1066.5 479.4h0M1047 472.3h0M1050.6 468.1h0M1073.1 473.3h0M1046.2 487.8h0M1054.7 551.5h0M1063.1 559.2h0M1061.3 554.3h0M1046.1 555.7h0M1057.8 548.7h0M1064.2 565.4h0M1065.3 548.6h0M1049 563h0M1091.4 551.3h0M1107.1 547.5h0M1137.3 562.9h0M1131.4 556.3h0M1102.6 549.3h0M1096.4 556.7h0M1132.7 555.8h0M1135.9 563.9h0M1130 564.3h0M1083.5 566.3h0M1136.8 550.5h0M1110.3 567.5h0M1123.3 561.2h0M1087.5 551.1h0M1115.8 565.7h0M1137.3 557.2h0M1106 551.3h0M1108.8 547.3h0M1130.8 554.9h0M1119.9 555.8h0M1100.6 546.5h0M1094.9 549.5h0M1080.4 551.5h0M1109.2 559.4h0M1117.7 559h0M1087.4 554.5h0M1105.1 548h0M1079.3 551.4h0M1081.6 550h0M1081.7 553.7h0M1082.5 547.4h0M1122.5 562.2h0M1130.4 546.8h0M1128.8 566.3h0M1102.7 567.5h0M1111.8 559.2h0M1098.6 564.1h0M1104 549.8h0M1115.3 557.7h0M1101.3 550.5h0M1128.4 550.6h0M1090.5 566.3h0M1139.2 551.3h0M1086.4 567.1h0M1090.1 554.7h0M1090.3 567.8h0M1116.2 550.7h0M1138.1 557.2h0M1098.6 557h0M1090.5 557.1h0M1093.7 564.4h0M1088 552.9h0M1132.6 552.8h0M1131.1 568.3h0M1122.2 558.4h0M1124 556.7h0M1104.1 560.8h0M1079.8 553h0M1081.5 561.4h0M1083.7 556.7h0M1115.2 555.4h0M1115.8 565.9h0M1086 554.7h0M1119.3 566.4h0M1126 566.1h0M1150.1 547.9h0M1153 565.4h0M1152.8 559.6h0M1141.5 557.3h0M1167 552.9h0M1172.6 553.5h0M1170 549.8h0M1143.3 563.4h0M1151.8 547.6h0M1168.8 556.3h0M1197.8 550.7h0M1212.2 562h0M1219.5 549.5h0M1295.2 549.8h0M1389 550.5h0M1049.9 627.9h0M1057.1 643.4h0M1075.2 647.6h0M1096.8 641.6h0M1102.9 644h0M1118.5 635.8h0M1165.3 627.9h0M1171.5 641.4h0M1196 639.4h0M1230.3 647.1h0M1111.2 718.7h0M1183.4 722.3h0M1313.2 725h0M1181.3 751.3h0M1173 750.3h0M1117.7 754.7h0M1118 760.3h0M1166.7 756.5h0M1144 753.7h0M1179.2 755h0M1129.8 765h0M1121 746.3h0M1080 755.8h0M1169.9 748.1h0M1094.9 766.2h0M1139.8 749.1h0M1165.2 757.7h0M1105 757.3h0M1176.8 761.6h0M1162.1 766.1h0M1196.3 751.3h0M1163.6 750.7h0M1152.9 765.7h0M1194.7 749.3h0M1133.1 766.4h0M1130.3 749.7h0M1142.9 751.2h0M1079.8 749.5h0M1144.1 763h0M1117.9 749.4h0M1150.5 765.3h0M1135 750.2h0M1120.4 745.3h0M1215.8 753h0M1226.7 761.2h0M1259.1 761.4h0M1273.6 748.7h0M993.2 831.6h0M1031.1 836.8h0M1060.2 837h0M1051 840.8h0M1005.7 826.2h0M1036.2 837.8h0M1025.9 845.6h0M1030.6 831.2h0M1039.5 826.6h0M1028 824.9h0M1123.3 824.7h0M1068.3 831.9h0M1065.3 840.8h0M1067 827h0M1129.3 843.1h0M1106.6 833.7h0M1099.7 838.6h0M1113.6 826.7h0M1067.4 824h0M1076.7 841.3h0M1090.5 825.7h0M1101.5 842.6h0M1129.7 840h0M1069.8 840.5h0M1122.2 825.9h0M1105.8 832.3h0M1089 827.7h0M1107.1 831.2h0M1117 838.8h0M1079.7 833.5h0M1118.8 829.5h0M1067.8 835.2h0M1079.1 832.4h0M1110.5 844.6h0M1113.8 836.9h0M1091 825.7h0M1076.1 843.3h0M1103.8 842.4h0M1092.3 827.9h0M1074.3 825.6h0M1115.7 840.4h0M1067.9 825.8h0M1105.3 837.5h0M1099.2 836.1h0M1114.4 844.8h0M1074 826.3h0M1079.1 824h0M1132.9 845.7h0M1102.7 838.6h0M1082.2 838.2h0M1091.1 830.5h0M1122.9 835.6h0M1112.6 835.6h0M1111.7 837.5h0M1132.6 837.1h0M1069.2 839.8h0M1095 835.8h0M1106.2 840h0M1069.5 832.1h0M1080.4 842.1h0M1106.8 842.2h0M1076.8 844.3h0M1089.8 825.3h0M1086.6 834.5h0M1129.7 842h0M1110.2 841.1h0M1098.3 825.7h0M1107.7 824.4h0M1128.2 841.9h0M1115.5 833.7h0M1102.5 836h0M1065.2 844.6h0M1094.8 843.5h0M1080.8 839.6h0M1130.6 844.6h0M1151.1 825.4h0M1162.5 828.7h0M1144.8 843.3h0M1147.7 826.9h0M1165.5 824.9h0M1157.5 828.2h0M1138 830.6h0M1167.8 837.2h0M1167.9 842.9h0M1168.7 843.1h0M1149 838.9h0M1168.4 833.6h0M1068 903.4h0M1078.8 904.2h0M1121.7 989.4h0M1100.7 998.2h0M1106.1 985.7h0M1118.2 995.1h0M1133.9 994.4h0M1114.8 994h0M1096.6 990.1h0M1133 995.5h0M1126.6 986.9h0M1092.9 1002h0M1042.7 988.1h0M1057.1 985.4h0M1087.8 986.6h0M1095.4 986.9h0M1099.3 998.1h0M1102.9 1000.8h0M1106.9 998.8h0M1111.2 983.7h0M1118.5 991.5h0M1122.1 1003h0M1125.7 990.1h0M1129.3 999.9h0M1139 991.9h0M1147.3 998.6h0M1170.8 996.3h0M1194.2 993.1h0M1200 995.5h0M1208.6 996.5h0M1266.3 994.1h0M1006.6 1065.6h0M1042.7 1080.9h0M1053.5 1065.1h0M1068 1081.5h0M1078.8 1083.2h0M1082.4 1062.6h0M1087.8 1079.2h0M1095.4 1082h0M1100.4 1075.5h0M1102.9 1071.3h0M1107.6 1075.6h0M1114.8 1079h0M1118.5 1073.2h0M1125.7 1078.5h0M1129.3 1067.8h0M1132.9 1065.9h0M1136.5 1063.9h0M1140.1 1078.9h0M1147.3 1075.3h0M1156.3 1064.6h0M1167.5 1064.1h0M1175.1 1075.8h0M1183.4 1081h0M1194.2 1071.1h0M1200 1080.9h0M1236 1068.1h0M1247.2 1072.8h0M1250.5 1080h0M1259.1 1062.2h0M1155.3 1148.9h0M1096.5 1159.4h0M1111.6 1150.2h0M1129.2 1151.1h0M1147.9 1153.3h0M1151.4 1141.6h0M1101 1143h0M1134.3 1161.2h0M1137.2 1149.6h0M1170.3 1147.7h0M1155.6 1146.5h0M1162.5 1152.3h0M1113.4 1142.5h0M1099.2 1162.1h0M1152.2 1159.9h0M1166.1 1149h0M1144 1151h0M1100.8 1161.2h0M1134.1 1142.3h0M1143.4 1159.8h0M1098.6 1151.6h0M1167 1152.2h0M1092.6 1145.6h0M1133 1148.3h0M1141.7 1156.8h0M1164.1 1140.9h0M1117.5 1148.7h0M1113.7 1152.8h0M1103.4 1161.6h0M1162.9 1145.9h0M1101.7 1144.5h0M1098.5 1151.4h0M1229.2 1154.9h0M1180 1156.7h0M1193.7 1152.1h0M1200.6 1146.6h0M1226.9 1154.6h0M1219.7 1143.3h0M1203.8 1154.1h0M1206.3 1144.4h0M1187.5 1141.6h0M1192.6 1160.4h0M1231.4 1162.2h0M1184.4 1147.4h0M1202.2 1158.5h0M1200.1 1149.2h0M1234.2 1152.9h0M1208.2 1157.9h0M1193.7 1145h0M1243.7 1159.8h0M1231.8 1153.2h0M1219.7 1161.1h0M1231.3 1145.1h0M1234.4 1158.1h0M1203.5 1161.6h0M1217.6 1148.1h0M1246 1143.1h0M1189 1151.2h0M1218.6 1149.7h0M1190.5 1145.8h0M1217.8 1144.6h0M1205.4 1152.9h0M1223.8 1152.4h0M1240.9 1143.1h0M1194.1 1153.8h0M1243.7 1150.7h0M1212.1 1159.6h0M1198 1160.5h0M1249.3 1149.1h0M1186.8 1153.9h0M1174.2 1144.7h0M1230.5 1152.7h0M1212.2 1161.5h0M1193.4 1149.7h0M1205.3 1161h0M1212 1143.1h0M1188.6 1159.5h0M1195.6 1156.4h0M1209 1140.9h0M1209.6 1155.4h0M1176.9 1144.8h0M1236.4 1151.5h0M1250.7 1145.7h0M1240 1156.4h0M1185.5 1148.5h0M1224.4 1154.3h0M1172.9 1146h0M1224.5 1148.6h0M1231.9 1155.7h0M1244.2 1149h0M1201.9 1155.8h0M1230.1 1144.9h0M1239.8 1158h0M1176.1 1150.2h0M1197.8 1142.5h0M1214.6 1151.6h0M1184.4 1160.2h0M1230.3 1144.8h0M1201.1 1157.5h0M1192.1 1159.8h0M1199.1 1157.1h0M1180 1140.8h0M1180.3 1145h0M1184.5 1151.2h0M1239 1162.4h0M1199.2 1159.2h0M1212.3 1159.7h0M1194.1 1143.7h0M1242.3 1160.1h0M1239.6 1150.5h0M1203 1156.2h0M1251.9 1146.1h0M1192.6 1156.3h0M1233.3 1152.4h0M1201 1162h0M1230.6 1155h0M1243.1 1158.7h0M1205.3 1142.2h0M1182.3 1159.8h0M1188.8 1158.3h0M1220 1150.4h0M1228.1 1158.9h0M1206.6 1162.4h0M1242.2 1141.5h0M1219.7 1161.7h0M1230.8 1146.3h0M1223.9 1143.2h0M1228.2 1141h0M1174.1 1141.8h0M1180.1 1156.4h0M1218.6 1162.4h0M1250.2 1158h0M1185.2 1145.9h0M1176 1160.7h0M1245.1 1155.2h0M1184.6 1157.6h0M1247.5 1145.5h0M1218.3 1152.7h0M1212.8 1160.9h0M1179.5 1140.9h0M1204.8 1161.9h0M1239.5 1157.8h0M1219.5 1143.2h0M1213.2 1154.8h0M1193.2 1141h0M1246.9 1157.2h0M1226.1 1154h0M1189.8 1158.9h0M1184 1157.2h0M1225.6 1148.9h0M1191.3 1146.2h0M1223.6 1155.6h0M1222.4 1142h0M1187.6 1153.4h0M1180.5 1154.3h0M1191.1 1161.4h0M1205.2 1142.1h0M1194.5 1145.8h0M1191.2 1155.2h0M1185.4 1148.4h0M1245 1150h0M1183.5 1154.6h0M1223.3 1145.1h0M1176.3 1147.6h0M1240.5 1147.7h0M1241.3 1151.8h0M1200.9 1144.7h0M1191 1145.5h0M1240.7 1149.7h0M1180.2 1147.4h0M1189.2 1153.4h0M1210.2 1156.9h0M1215 1144.7h0M1185.1 1154.3h0M1229.9 1152.5h0M1237.6 1158.4h0M1222.9 1147.5h0M1224.3 1155.6h0M1232.7 1155.6h0M1188.7 1160.2h0M1177.4 1146.2h0M1192.7 1147.4h0M1265.9 1141.2h0M1294.9 1155h0M1258.4 1161.2h0M1287.9 1162.3h0M1272.9 1145.7h0M1287.3 1152.1h0M1268 1149.7h0M1286.2 1159.9h0M1268.8 1156.3h0M1278.8 1155.1h0M1267.4 1145.1h0M1292.8 1159.3h0M1266.2 1149h0M1290.1 1162.5h0M1283.2 1150.6h0M1254.8 1150.3h0M1279.9 1143.8h0M1289 1159.3h0M1281.4 1143.7h0M1283.9 1154h0M1259.8 1148.8h0M1294.5 1157h0M1265.6 1143.2h0M1272.4 1153.5h0M1279.4 1146.1h0M1151.5 1196.5h0M1182.4 1200.2h0M1149.1 1188.7h0M1139.5 1202.2h0M1152.7 1183.9h0M1144.4 1185.9h0M1181.2 1192.6h0M1133.8 1193.4h0M1183.8 1201.7h0M1167.7 1183h0M1137.2 1195.6h0M1154.4 1198.7h0M1158 1196.1h0M1174.7 1186.9h0M1163 1189.9h0M1158.8 1191.9h0M1141.2 1199.8h0M1137.7 1189.9h0M1196.7 1189.1h0M1227.8 1180.8h0M1247.7 1198.4h0M1198.5 1190h0M1188.8 1189.7h0M1238.7 1187.5h0M1241.8 1181.6h0M1234.3 1199.8h0M1211.2 1189.8h0M1248.3 1189.4h0M1213.3 1182.7h0M1238.9 1201.7h0M1198.8 1186.8h0M1263.7 1182.8h0M1190.4 1196.1h0M1218.9 1198.6h0M1193.6 1186.2h0M1210.2 1187.4h0M1213.7 1202h0M1217.7 1188.5h0M1252.3 1192.2h0M1242.8 1195.8h0M1204.8 1189.7h0M1243.9 1201.1h0M1225.8 1196.7h0M1201.9 1183.6h0M1204.7 1185.8h0M1235.8 1183.6h0M1243.6 1201.9h0M1193.5 1183.1h0M1241.4 1198.6h0M1194.6 1185h0M1253.2 1186.3h0M1199.1 1183.3h0M1237.8 1188.1h0M1265.5 1200.5h0M1221.6 1185.3h0M1214.3 1180.7h0M1261.7 1183h0M1196.5 1194.3h0M1243.1 1181.9h0M1216.7 1188.9h0M1249.9 1187.8h0M1229.8 1191.6h0M1229.7 1185.4h0M1211 1180.8h0M1268.9 1202.4h0M1198.6 1185.2h0M1215.1 1193.8h0M1207.6 1186.6h0M1243.3 1199.2h0M1197.9 1180.8h0M1203.1 1201.7h0M1189.9 1194.5h0M1241.1 1199.1h0M1285.6 1195.3h0M1284.9 1190.2h0M1289.6 1194.1h0M1284.3 1186.2h0M1275.6 1199.2h0M1288.3 1191.2h0M1291 1198.7h0M1272.4 1188.6h0M1036.6 1272.7h0M1114.8 1280.3h0M1118.5 1273.3h0M1136.5 1262.2h0M1143.7 1269.8h0M1147.3 1275h0M1150.9 1272.6h0M1159.9 1275.5h0M1163.9 1270.7h0M1175.1 1274.5h0M1176.2 1276.8h0M1181.9 1259.7h0M1202.9 1262.2h0M1230.3 1267.4h0M1089.4 1303.4h0M1112.7 1307.7h0M1089.5 1303.4h0M1097.6 1301.6h0M1110.8 1302h0M1098.3 1302.3h0M1095.4 1315.4h0M1089.8 1301h0M1082.6 1300.2h0M1084 1313.2h0M1147 1315.2h0M1163.3 1319.6h0M1123.5 1306.3h0M1147.1 1304.3h0M1156.2 1319.8h0M1163.7 1299.3h0M1144 1316h0M1161.1 1317.3h0M1135.4 1319.3h0M1134.9 1309.5h0M1133.7 1317.5h0M1154.5 1319.5h0M1120.8 1306.2h0M1122.8 1307.3h0M1159.4 1301.6h0M1150.3 1316.2h0M1165.3 1316.2h0M1150.4 1311.6h0M1149.3 1311.7h0M1148.9 1310.1h0M1121.1 1313.1h0M1126.3 1317.4h0M1143.8 1301.7h0M1134.8 1318.8h0M1127 1309.3h0M1138 1301h0M1129.1 1303.9h0M1138.9 1318.6h0M1122.9 1312.3h0M1144.6 1313.6h0M1122.9 1301.3h0M1136.8 1312.4h0M1154.1 1308.8h0M1128.1 1317.2h0M1120.6 1312.8h0M1155.2 1299.4h0M1144.7 1309.4h0M1119.3 1309.6h0M1144.2 1307.6h0M1126.5 1304.4h0M1122.1 1308.4h0M1122.3 1303.9h0M1124.7 1303.4h0M1138.6 1316.7h0M1120.7 1310.8h0M1143.1 1313.7h0M1161.9 1304.9h0M1152.6 1321.2h0M1163.5 1309.8h0M1166.5 1316.7h0M1147.1 1300h0M1153.1 1301h0M1118.7 1308.4h0M1125.1 1303.8h0M1165.5 1315.2h0M1138.9 1319.2h0M1165.4 1317h0M1146.4 1319.7h0M1143.5 1299.8h0M1130.8 1303.2h0M1127.2 1319.8h0M1163.2 1318.9h0M1171.3 1316.5h0M1183 1299.5h0M1178.5 1313.1h0M1176.4 1300.6h0M1182 1304.8h0M1175 1309.4h0M1183.7 1320.6h0M1175.8 1301.8h0M1180.7 1315.1h0M1183.7 1310.6h0M1164.7 1340.3h0M1113 1359.4h0M1162 1356.8h0M1166.6 1351.3h0M1191.9 1350h0M1160.8 1357.1h0M1119.3 1351.4h0M1149.1 1339h0M1179 1355.1h0M1160.2 1353.9h0M1187.4 1345.9h0M1174.7 1353.9h0M1174.3 1347h0M1147.6 1341.8h0M1170.5 1355.4h0M1131 1359.1h0M1154.7 1359.1h0M1171 1356.7h0M1144.7 1356.7h0M1122.5 1349.6h0M1138.1 1359.6h0M1102.4 1351.3h0M1120.1 1342.6h0M1114.1 1347.7h0M1166.7 1355.2h0M1192.5 1353.2h0M1135.1 1353.8h0M1176.9 1356h0M1119 1355.1h0M1193.2 1355.7h0M1052.1 1421h0M1057.9 1431.2h0M1084.2 1424.5h0M1099.7 1418.7h0M1108.7 1426.8h0M1110.5 1437.2h0M1115.9 1436.1h0M1123.5 1436.1h0M1126.4 1439.3h0M1127.8 1430.8h0M1144.4 1427.8h0M1144.4 1427.1h0M1156.7 1436.7h0M1254.1 1423.4h0M1052.8 1469.1h0M1039.3 1467h0M1032.3 1469.6h0M1072.5 1471.7h0M1076.7 1468.3h0M1034.4 1466.1h0M1140 1478.1h0M1129.8 1466.8h0M1123.9 1474.7h0M1118.6 1473.5h0M1130.9 1477.5h0M1183.2 1461.9h0M1131.7 1469.2h0M1151.7 1462.8h0M1117 1472.3h0M1127.1 1472.8h0M1085.1 1466.7h0M1180.3 1478.4h0M1150.8 1469.8h0M1117 1472.1h0M1120.9 1458.7h0M1176.8 1479.3h0M1162.9 1465.9h0M1080.1 1478.2h0M1083.6 1468.5h0M1123.9 1470.7h0M1088.7 1459.9h0M1114.2 1476.3h0M1166.7 1468.4h0M1083.9 1479.8h0M1102.9 1463.8h0M1097.4 1467.5h0M1089.9 1460.9h0M1085.7 1461.8h0M1086.4 1478.8h0M1142.9 1464.9h0M1153.8 1460h0M1159.9 1478.8h0M1160.6 1466.4h0M1099.7 1469.2h0M1092.2 1473.6h0M1162.4 1457.8h0M1085.4 1462.7h0M1160.3 1476.7h0M1080.8 1467.5h0M1161.5 1475h0M1360.1 1468h0M1102.2 1542.3h0M1145.9 1555.5h0M1193.5 1557.2h0M1099.7 1622.6h0M1106.5 1619.4h0M1107.2 1627.9h0M1100.6 1621.9h0M1102 1621.4h0M1092.8 1637.7h0M1096.2 1620.7h0M1110.4 1636.3h0M1105.3 1637.6h0M1104.8 1635.5h0M1149.3 1627.3h0M1152.3 1631.7h0M1173.1 1629.2h0M1192.3 1624.3h0M1118.6 1633h0M1172.7 1630.1h0M1168.1 1617.9h0M1193.8 1627h0M1173.7 1620.8h0M1182.9 1621.3h0M1145.8 1616.8h0M1143.2 1618.5h0M1140 1624.8h0M1137.5 1631.7h0M1130.7 1635.5h0M1154.1 1635.8h0M1152.6 1622.8h0M1147.3 1618.4h0M1112.8 1623.5h0M1163.6 1628.7h0M1193.2 1626.5h0M1157.3 1623.7h0M1161.4 1621.8h0M1165.8 1626.3h0M1167 1626.8h0M1190.6 1616.6h0M1164.3 1619.1h0M1132.8 1631.6h0M1175 1621h0M1131.9 1638.2h0M1168.8 1628.6h0M1129.3 1625.9h0M1150.6 1627.8h0M1168.4 1626.8h0M1136.9 1625h0M1158.8 1619.3h0M1146.6 1624.7h0M1130.1 1619.6h0M1145.2 1617h0M1159.3 1637.6h0M1141.5 1619h0M1188.4 1632.2h0M1192.6 1622.3h0M1162.5 1621.9h0M1124.8 1634h0M1132.4 1635h0M1146.4 1625.6h0M1121.8 1633.5h0M1192.8 1636.7h0M1164.4 1632.4h0M1125.1 1616.7h0M1161.9 1623.7h0M1151.2 1630.6h0M1123.2 1631h0M1152.4 1618h0M1155.9 1624.2h0M1145.4 1632.1h0M1138.8 1617.9h0M1139.2 1630h0M1138.8 1623.4h0M1189.4 1627.2h0M1192 1635.7h0M1143.3 1618.1h0M1129.3 1628.9h0M1118.8 1632.3h0M1190.1 1621.6h0M1125.6 1637h0M1164.1 1626.2h0M1116.4 1628.6h0M1136.5 1634.1h0M1161.1 1633h0M1184.1 1621.6h0M1118 1621.7h0M1117 1635.5h0M1114 1636.6h0M1180.2 1620.3h0M1111.5 1620.4h0M1170.8 1630.3h0M1164.9 1631.9h0M1120.9 1619h0M1171.3 1626.2h0M1141.3 1629.5h0M1158.9 1623h0M1169.7 1632h0M1119.9 1634.5h0M1126 1617.5h0M1153.8 1636.2h0M1135.2 1623.8h0M1185.3 1627.6h0M1162.5 1617.6h0M1120.7 1635.2h0M1134.6 1629.8h0M1113.3 1621h0M1173.2 1621.9h0M1172.6 1626.2h0M1190.9 1625.4h0M1162.9 1621.3h0M1171.9 1629.2h0M1176.9 1618.2h0M1167.2 1630.8h0M1160.9 1638h0M1116.3 1627h0M1171.5 1636h0M1188.1 1630.5h0M1160.8 1626.3h0M1155.6 1631.5h0M1151.2 1632.4h0M1192.3 1636.7h0M1124.4 1635.8h0M1189 1630.3h0M1163.7 1622.6h0M1180.7 1627.9h0M1166.1 1629.7h0M1194.2 1623.4h0M1165 1621.6h0M1140.9 1629h0M1163.8 1637h0M1178.7 1625.7h0M1130.4 1617.6h0M1148.1 1628.1h0M1173.7 1629.9h0M1125 1634.4h0M1191.3 1634.2h0M1192.1 1637.6h0M1132 1625h0M1135.8 1618h0M1144.5 1625.1h0M1172.1 1628.9h0M1187.9 1618.8h0M1188.1 1629.5h0M1149.5 1617.3h0M1159.3 1630h0M1182.9 1629.8h0M1161.7 1630.1h0M1168 1623.3h0M1121.3 1618.5h0M1176.5 1634.7h0M1133.7 1622.9h0M1116 1633h0M1166.5 1637.1h0M1184.8 1632.9h0M1124.8 1629.5h0M1185.6 1634.4h0M1135.4 1618h0M1168.2 1623.4h0M1164.9 1617.7h0M1125.7 1636.4h0M1135.5 1630.6h0M1120.1 1632.2h0M1119.5 1634h0M1188.3 1616.5h0M1120.1 1618.3h0M1126.6 1624.8h0M1132.1 1634.6h0M1187.9 1628.6h0M1120.2 1623.5h0M1152.5 1622.1h0M1116.8 1625.1h0M1170.8 1616.7h0M1158.3 1626.1h0M1123.8 1623.5h0M1118.2 1621h0M1153.5 1629.4h0M1144.6 1619.8h0M1140.3 1619.5h0M1140.8 1629.3h0M1185.6 1617.5h0M1124.3 1628.5h0M1178.7 1620.8h0M1161.6 1631.3h0M1117.7 1630.1h0M1129.6 1620.6h0M1148.3 1633h0M1152.3 1622.2h0M1145.3 1629.4h0M1129 1626.9h0M1117 1627h0M1185.4 1626.5h0M1183.8 1622.1h0M1142.5 1630.1h0M1129.5 1624.9h0M1152.1 1623.6h0M1116.4 1627.7h0M1112.1 1631.9h0M1161.1 1622.3h0M1117 1630.4h0M1172.3 1631.2h0M1169.5 1636.7h0M1139.9 1618.7h0M1115.9 1629.8h0M1203.8 1620.4h0M1204.6 1627.6h0M1219.2 1627.1h0M1208.4 1623.4h0M1207.5 1633.9h0M1209.1 1625h0M1213 1617.3h0M1196.1 1628.7h0M1194.6 1629.6h0M1211.9 1619.6h0M1238.9 1630.2h0M1244.7 1625.5h0M1279 1628.2h0M1105.1 1717.2h0M1121.3 1713.5h0M1130.7 1697.9h0M1143.7 1710.2h0M1145.9 1708h0M1150.9 1700.3h0M1071.6 1780.1h0M1077 1783.9h0M1087.8 1787.7h0M1092.5 1790.3h0M1095.4 1775.7h0M1106.9 1780.6h0M1111.2 1783.6h0M1116.7 1795.5h0M1118.5 1792.1h0M1125.7 1793.5h0M1131.4 1777.3h0M1134.7 1794.7h0M1141.2 1796.8h0M1143.7 1788h0M1145.9 1784.5h0M1148.8 1778.2h0M1154.5 1783.4h0M1163.9 1776.4h0M1169 1781.9h0M1172.6 1793.2h0M1187 1782.8h0M1092.5 1875.5h0M1093.2 1855.5h0M1099.3 1866.6h0M1102.9 1858.1h0M1120.3 1857h0M1120.3 1866.8h0M1153.4 1866.2h0M1101.1 1904h0M1132.9 1895.3h0M1136.5 1909.5h0M1141.2 1907.5h0M1145.9 1901.9h0M1148.8 1903.8h0M1158.1 1900.7h0M1161.7 1904.8h0M1165.3 1897.2h0M1169 1902.7h0M1179.8 1914.9h0M1181.9 1896.1h0M1193.1 1902.1h0M1197.8 1914.6h0M1201.4 1896h0M1228.5 1914.7h0M1109.4 1940.4h0M1113.8 1954.3h0M1153.1 1947.7h0M1175.1 1951.1h0M1184.5 1939.7h0M1085.3 1993.8h0M1117 1979.9h0M1131.4 1983h0M1035.5 2020.1h0M1071.6 2015.1h0M1082.4 2024.4h0M1084.2 2026.3h0M1086 2029h0M1091.8 2028.9h0M1096.1 2026.9h0M1102.2 2019.3h0M1118.5 2025.2h0M1150.9 2014.9h0M1158.1 2023.9h0M1171.5 2016.5h0M1113.8 2052.4h0M1123.9 2053h0M1187.7 2067.6h0" stroke="#ef5258" stroke-width="6.8" stroke-linecap="round" fill="none"/><path d="M946.5 124.1h0M928.4 124.2h0M963.9 111.5h0M966 131.7h0M933.5 113.7h0M927.7 112.8h0M967.3 130.2h0M884 130.4h0M1116.3 116.2h0M933 121.5h0M1081.3 360.4h0M1085.9 358.7h0M1055.1 352.6h0M966.7 367.1h0M1096.4 351.7h0M1102.8 368.2h0M1091.9 353.8h0M1060.7 355h0M1157.5 367.9h0M1106.2 362.8h0M1097.4 351.2h0M1069.9 365.8h0M1044 363.5h0M1124.7 351.9h0M1018.2 351.7h0M1029.2 363.2h0M1001.6 365.4h0M1070.3 365.3h0M1091.1 353.6h0M1095.2 350.2h0M1066.3 357h0M1134.5 361.7h0M1028.2 368.9h0M1092.6 348.9h0M1035.6 368.5h0M965.9 358.9h0M1042.1 355h0M1136.1 364.8h0M1114 353.5h0M1130.2 368.7h0M1019.6 350.6h0M1151.7 427.4h0M1076.9 430.7h0M983.3 448.2h0M1080.2 432.4h0M1005.3 428.7h0M987 441.4h0M1053.7 447.3h0M1079.3 431.3h0M1066.7 446.7h0M1039 436h0M1085.2 440.7h0M1012.6 444.2h0M975.1 440.8h0M1027.2 427.8h0M981 446.7h0M1015.2 427.9h0M1025.4 431.4h0M1064.5 447.5h0M992.2 429.7h0M1103.4 428.3h0M1048.1 442.5h0M974.4 429.6h0M979.9 430.5h0M978.2 441.7h0M1066.4 433.2h0M1092.2 440h0M1009.7 438h0M1148.6 427.9h0M1102.1 486.3h0M1051.3 479.1h0M1009.4 482.3h0M1049 483.6h0M964.5 486.6h0M1030.2 469.7h0M1046.8 468.6h0M930.6 470.6h0M1025.4 480.7h0M962.5 485.2h0M1131.8 548h0M1050.9 560.9h0M1118.3 562.4h0M1056.2 549.3h0M1058.6 556h0M1058.2 555.8h0M1036.3 557.2h0M1105.8 560.7h0M1112.8 551.8h0M1109.5 555.5h0M924.8 554.5h0M1024.5 558.7h0M993 549h0M1037.2 558.7h0M994.4 559.4h0M1038.9 552.6h0M1009.4 556.6h0M1051.9 548.2h0M1159.3 556.5h0M1014.5 551.9h0M1048.9 549.9h0M1094.1 565.1h0M1108.9 568h0M1129.6 548.2h0M1128.3 559.6h0M1065.1 568h0M1137.3 546.8h0M1091 560.2h0M1002.6 568h0M1033.7 556.2h0M1001.1 556.2h0M1024.4 561.9h0M1133.3 560.3h0M1018.7 558.3h0M1032.1 557.1h0M1080.3 566.3h0M1017.8 557.7h0M1047.9 546.5h0M993.8 555.6h0M1107.8 565.2h0M1124.3 568.2h0M1122.8 562.6h0M1038.9 564.5h0M1113.1 638.3h0M1055.9 640h0M1079.2 635.9h0M1073.1 642.9h0M1086 644.9h0M1067.7 640.7h0M1069 645.8h0M1055.1 627.3h0M984.3 630.2h0M1029.2 642.6h0M1099.8 628.7h0M1067.8 641.8h0M1007.4 634.2h0M1031.7 630h0M984.2 640h0M1055 626.3h0M1066.2 627.7h0M1105.3 638.9h0M973 640.3h0M1088.4 639.5h0M976.4 630h0M986.9 636.4h0M979.3 722.6h0M1095 704.9h0M979.9 712.2h0M1025.1 715.5h0M1132.9 708.3h0M1067.4 761.5h0M1082.8 762.2h0M1164.6 754.6h0M1207.5 748.6h0M1144.8 763.1h0M1171.3 760.6h0M1057.4 750.1h0M1086 749.2h0M1126 758.6h0M1172.4 751.4h0M1086.8 758h0M1161.9 764.4h0M1026.6 752.7h0M1155.6 763.7h0M1129.2 830.2h0M1142.5 844h0M1050.3 827.2h0M1006.7 837.6h0M1007.8 827.6h0M1098.9 845.6h0M1082.1 834.5h0M1072.6 845.2h0M962.6 824h0M1034.8 842.5h0M1039.7 836.9h0M1042.7 833.2h0M1086.6 826.5h0M1024.6 833.2h0M1080.1 833.2h0M1143 840.5h0M1111.4 831.4h0M978.6 911.4h0M926.8 920.5h0M1017.9 919.5h0M938.5 919.9h0M1049.6 919.3h0M999.5 908.4h0M967.1 917.8h0M1046.9 916.9h0M1014.5 909.9h0M931.8 904.6h0M916.5 910h0M1019.4 924.5h0M996.8 904.2h0M1058.6 924.3h0M947.8 918.8h0M966.9 907.4h0M930.2 922.4h0M949.6 907.6h0M950.2 922.7h0M939.8 922.8h0M951.2 921.4h0M945.7 921.2h0M1046.6 921.1h0M1000.4 924h0M1062.6 920.2h0M968.1 910.6h0M1070.7 998.6h0M1003 992.4h0M1062 1002.6h0M1119.7 1004h0M1054.9 982.7h0M1046.3 999.8h0M1029.8 986.9h0M1067.8 986.8h0M1089.4 984.9h0M1029.4 992.6h0M1056.7 1061.6h0M1085.9 1082.4h0M1077.4 1073.9h0M1011.3 1083.3h0M1095.1 1073.9h0M1090.7 1076.4h0M1059.3 1068.1h0M1023.6 1078.8h0M1035.7 1081.3h0M993.9 1070.2h0M1078.4 1063.9h0M1077.6 1081.3h0M994.6 1078.3h0M1061.3 1072.8h0M961.6 1063.4h0M1081.3 1081.3h0M1093 1074.9h0M1043 1074.2h0M1172.6 1080.8h0M1102.4 1071.8h0M1037.6 1076.2h0M1003 1154.1h0M1128.9 1159.6h0M1125.1 1146.9h0M1027.9 1158h0M1239.8 1158.5h0M1237 1143.6h0M1012.4 1157.7h0M956.1 1157.7h0M1159.7 1143.3h0M1187 1202.3h0M1104 1199h0M1145 1271.6h0M1053.5 1263.4h0M1123.8 1264.7h0M1154 1318.2h0M1059.1 1306.9h0M1054.8 1299.3h0M1034.5 1307.4h0M1083.8 1316.6h0M1092.5 1302.4h0M1080.8 1300.8h0M1130.7 1309.9h0M1056.3 1309.3h0M1172 1305.9h0M1185.9 1307.8h0M1097.1 1300.5h0M1108.4 1309.6h0M1117 1305.1h0M1096.3 1301h0M1074.2 1316.7h0M1032.8 1311.1h0M1108 1317h0M1133.1 1317.3h0M1056.2 1316h0M1157.9 1307.2h0M1103.3 1309.1h0M1085.5 1313.4h0M1059.2 1309.3h0M1125.8 1312.7h0M1123.7 1314.4h0M1034.3 1300.9h0M1111.5 1303.9h0M1172.2 1302.4h0M1156.6 1309.8h0M1092 1321.1h0M1054.9 1308h0M1165.2 1313.8h0M1031.5 1342.7h0M1125.8 1344.4h0M1095.1 1357.6h0M1133.8 1343.2h0M1068.3 1355.1h0M1070.5 1353.5h0M1126.3 1339.8h0M1166.2 1339.6h0M1037.8 1343.3h0M1183.8 1357h0M1137.5 1339.9h0M1034.8 1350h0M1123.7 1344.5h0M1107.3 1354.2h0M1113.6 1339.2h0M1138.1 1345.9h0M1160.5 1347.3h0M1075.1 1437.5h0M935.6 1436.2h0M1053.6 1437h0M1038.3 1435.5h0M998.7 1428.5h0M1126.4 1431.4h0M1025.4 1437.6h0M1057.3 1433.4h0M1116.8 1424.9h0M997.8 1423.8h0M944.5 1434.8h0M996.1 1419.8h0M1020 1422.8h0M1094.8 1434.8h0M933.1 1430.8h0M1057.1 1421.3h0M1077.3 1432.5h0M974.7 1439.8h0M997.5 1421.5h0M1020.1 1424.5h0M968.6 1432.2h0M1011.9 1430.3h0M1019.2 1424.4h0M1028 1434.9h0M1011.4 1422h0M1112.6 1434.4h0M1042.9 1437.1h0M1069 1435.7h0M1008.3 1430.7h0M1268.1 1427.3h0M1025.7 1425.1h0M1083.4 1426.5h0M1100.5 1435.1h0M1109.5 1436.6h0M1101.1 1424.4h0M1112.6 1427.7h0M1008.9 1422.2h0M1095.7 1421.5h0M1001.6 1418.5h0M884 1439.4h0M1143.7 1433.2h0M1016.3 1421.5h0M1019.9 1471.6h0M1114.3 1471.5h0M1094 1478.6h0M1139.8 1465.5h0M1054.1 1458.8h0M1043.7 1459.4h0M1131.5 1477.5h0M1005.8 1475.5h0M1130.3 1476.8h0M1021.1 1470.3h0M1150.5 1463.4h0M1010.6 1468.6h0M1110.9 1459.1h0M1029.7 1472.1h0M1128.1 1458.4h0M1106 1460.9h0M1035.3 1461.7h0M1107 1469.8h0M978.5 1457.8h0M1063.8 1461.5h0M1023.5 1476.7h0M1105.7 1461.6h0M1015.9 1478.2h0M1007.6 1467.8h0M1141.5 1465.2h0M1072.7 1469.5h0M1013.4 1458.3h0M1092.3 1477.9h0M1000 1461.1h0M1145.6 1477.8h0M1028 1465.3h0M1063.2 1465.2h0M1040.9 1473.5h0M1017.5 1469.2h0M1047.8 1458.7h0M1022.6 1467.2h0M1118.8 1469.3h0M1086.8 1472.1h0M1044.2 1550.8h0M967 1541.2h0M1074.8 1541h0M1040.3 1558.3h0M1078.6 1539.2h0M1150.9 1548.8h0M1031.1 1554.6h0M1132.4 1543.7h0M1051.4 1540.4h0M1102.9 1618.4h0M1083.1 1617.7h0M1187.1 1617.1h0M1192.8 1626.9h0M1096.6 1636.9h0M1110 1631.8h0M1124.9 1632.9h0M1169.3 1633.1h0M1212.7 1624.6h0M1137.2 1636.7h0M1088 1636.1h0M1088.1 1628.5h0M1071.5 1628.3h0M985.1 1715.5h0M1040.4 1704h0M996.4 1696.2h0M1031.8 1697.3h0M1064.9 1714.8h0M930.8 1701.9h0M1213.3 1713.8h0M1075.7 1697.5h0M1008.5 1709.2h0M946.4 1709.7h0M1046.9 1713.2h0M1023.1 1714.5h0M1063.7 1700.2h0M1049.8 1714.8h0M1097.5 1701.6h0M923.8 1716.8h0M948 1711.6h0M1029.2 1713.3h0M1112.5 1715.6h0M1100.5 1697.9h0M1112.1 1698.2h0M979.5 1717.3h0M1038.9 1716h0M977.8 1695.7h0M1133.2 1708.6h0M973.9 1715h0M994.6 1710.3h0M884 1712.4h0M1064.4 1703h0M1052.6 1702.8h0M1047.4 1704h0M946.5 1708.5h0M1064.8 1700.6h0M1075.4 1713.4h0M954.5 1711.1h0M1066.6 1705.9h0M1063.7 1696.3h0M1020.2 1700.8h0M1057.7 1704.1h0M962.2 1703.2h0M1070.6 1699.1h0M1103.8 1775.8h0M1062.3 1778.7h0M1037.1 1788.5h0M1152 1790h0M1049.3 1777.3h0M1028.7 1792.6h0M1169.4 1784.5h0M1106.8 1776.6h0M1071.9 1787.8h0M1062.5 1784.5h0M1090.7 1785.4h0M1063.8 1792.6h0M1135.5 1784.4h0M1133.6 1795.1h0M1066.9 1784.1h0M1120.6 1796.3h0M1043.8 1781.9h0M1155 1794.9h0M1073.8 1792.5h0M1041.2 1788.7h0M1122.6 1781.6h0M1028.4 1784.1h0M1154 1776.1h0M1087.4 1792.7h0M1162.6 1787.5h0M1142.7 1794.6h0M1062.7 1789.4h0M1087.2 1860h0M1087.8 1856h0M974.2 1868h0M1040.3 1858.4h0M1032 1860.2h0M1086.6 1903.4h0M1067.6 1913.6h0M1171.7 1908.7h0M1067 1901.5h0M1072.3 1894.3h0M1120.6 1915.6h0M1142.6 1912.5h0M1161 1899.1h0M1114.3 1947.5h0M1015.8 1937.1h0M1025.8 1942.2h0M980.7 1954.9h0M1002.1 1948.6h0M1098.9 1937.5h0M1081.7 1938.9h0M1033.7 1994.5h0M1096.8 1986.1h0M1062.1 2012.8h0M987.7 2015.7h0M1009.3 2029.4h0M1055.1 2030.1h0M985.8 2020.7h0M1017.4 2018h0M884 2016.3h0M1097.7 2030.2h0M998.8 2023.4h0M1021.2 2018.9h0M992.7 2018.8h0M1034.2 2026.5h0M1116.2 2032.7h0M1043.3 2016.2h0M1013.3 2022.5h0M1104.1 2022.1h0M1094.6 2028h0M1020.6 2024.1h0M1021.3 2025.6h0M1046.2 2025.9h0M1083.7 2012.8h0M1119.3 2014.9h0M1005.6 2018.6h0M1081.9 2023.4h0M1036.7 2019.4h0M1094.8 2031.8h0M998.2 2068.9h0M931.5 2055.6h0M1001.4 2063h0M991.2 2054.6h0M960.1 2055.9h0M1008.6 2071.4h0M1053.8 2055.4h0M994.5 2059.8h0M933.9 2054.9h0M1010.9 2059.8h0M1047.1 2070.7h0M928.8 2068h0M937.3 2073.7h0M1006.4 2063h0M1005.5 2069.7h0M975 2071h0M1030.2 2074.1h0M1016.2 2057.5h0M975.9 2069.6h0M953.1 2053.9h0M975.5 2072.4h0" stroke="#57c5d5" stroke-width="6.8" stroke-linecap="round" fill="none"/><rect x="863.5" y="78.4" width="564.5" height="2028" fill="none" stroke="#111" stroke-width="1.4"/><line x1="862.6" y1="101.50" x2="864.4" y2="101.50" stroke="#e6e6e6" stroke-width="2.2"/><line x1="1427.1" y1="101.50" x2="1429.0" y2="101.50" stroke="#e6e6e6" stroke-width="2.2"/><line x1="862.6" y1="141.13" x2="864.4" y2="141.13" stroke="#e6e6e6" stroke-width="2.2"/><line x1="1427.1" y1="141.13" x2="1429.0" y2="141.13" stroke="#e6e6e6" stroke-width="2.2"/><line x1="862.6" y1="180.76" x2="864.4" y2="180.76" stroke="#e6e6e6" stroke-width="2.2"/><line x1="1427.1" y1="180.76" x2="1429.0" y2="180.76" stroke="#e6e6e6" stroke-width="2.2"/><line x1="862.6" y1="220.39" x2="864.4" y2="220.39" stroke="#e6e6e6" stroke-width="2.2"/><line x1="1427.1" y1="220.39" x2="1429.0" y2="220.39" stroke="#e6e6e6" stroke-width="2.2"/><line x1="862.6" y1="260.02" x2="864.4" y2="260.02" stroke="#e6e6e6" stroke-width="2.2"/><line x1="1427.1" y1="260.02" x2="1429.0" y2="260.02" stroke="#e6e6e6" stroke-width="2.2"/><line x1="862.6" y1="299.65" x2="864.4" y2="299.65" stroke="#e6e6e6" stroke-width="2.2"/><line x1="1427.1" y1="299.65" x2="1429.0" y2="299.65" stroke="#e6e6e6" stroke-width="2.2"/><line x1="862.6" y1="339.28" x2="864.4" y2="339.28" stroke="#e6e6e6" stroke-width="2.2"/><line x1="1427.1" y1="339.28" x2="1429.0" y2="339.28" stroke="#e6e6e6" stroke-width="2.2"/><line x1="862.6" y1="378.91" x2="864.4" y2="378.91" stroke="#e6e6e6" stroke-width="2.2"/><line x1="1427.1" y1="378.91" x2="1429.0" y2="378.91" stroke="#e6e6e6" stroke-width="2.2"/><line x1="862.6" y1="418.54" x2="864.4" y2="418.54" stroke="#e6e6e6" stroke-width="2.2"/><line x1="1427.1" y1="418.54" x2="1429.0" y2="418.54" stroke="#e6e6e6" stroke-width="2.2"/><line x1="862.6" y1="458.17" x2="864.4" y2="458.17" stroke="#e6e6e6" stroke-width="2.2"/><line x1="1427.1" y1="458.17" x2="1429.0" y2="458.17" stroke="#e6e6e6" stroke-width="2.2"/><line x1="862.6" y1="497.80" x2="864.4" y2="497.80" stroke="#e6e6e6" stroke-width="2.2"/><line x1="1427.1" y1="497.80" x2="1429.0" y2="497.80" stroke="#e6e6e6" stroke-width="2.2"/><line x1="862.6" y1="537.43" x2="864.4" y2="537.43" stroke="#e6e6e6" stroke-width="2.2"/><line x1="1427.1" y1="537.43" x2="1429.0" y2="537.43" stroke="#e6e6e6" stroke-width="2.2"/><line x1="862.6" y1="577.06" x2="864.4" y2="577.06" stroke="#e6e6e6" stroke-width="2.2"/><line x1="1427.1" y1="577.06" x2="1429.0" y2="577.06" stroke="#e6e6e6" stroke-width="2.2"/><line x1="862.6" y1="616.69" x2="864.4" y2="616.69" stroke="#e6e6e6" stroke-width="2.2"/><line x1="1427.1" y1="616.69" x2="1429.0" y2="616.69" stroke="#e6e6e6" stroke-width="2.2"/><line x1="862.6" y1="656.32" x2="864.4" y2="656.32" stroke="#e6e6e6" stroke-width="2.2"/><line x1="1427.1" y1="656.32" x2="1429.0" y2="656.32" stroke="#e6e6e6" stroke-width="2.2"/><line x1="862.6" y1="695.95" x2="864.4" y2="695.95" stroke="#e6e6e6" stroke-width="2.2"/><line x1="1427.1" y1="695.95" x2="1429.0" y2="695.95" stroke="#e6e6e6" stroke-width="2.2"/><line x1="862.6" y1="735.58" x2="864.4" y2="735.58" stroke="#e6e6e6" stroke-width="2.2"/><line x1="1427.1" y1="735.58" x2="1429.0" y2="735.58" stroke="#e6e6e6" stroke-width="2.2"/><line x1="862.6" y1="775.21" x2="864.4" y2="775.21" stroke="#e6e6e6" stroke-width="2.2"/><line x1="1427.1" y1="775.21" x2="1429.0" y2="775.21" stroke="#e6e6e6" stroke-width="2.2"/><line x1="862.6" y1="814.84" x2="864.4" y2="814.84" stroke="#e6e6e6" stroke-width="2.2"/><line x1="1427.1" y1="814.84" x2="1429.0" y2="814.84" stroke="#e6e6e6" stroke-width="2.2"/><line x1="862.6" y1="854.47" x2="864.4" y2="854.47" stroke="#e6e6e6" stroke-width="2.2"/><line x1="1427.1" y1="854.47" x2="1429.0" y2="854.47" stroke="#e6e6e6" stroke-width="2.2"/><line x1="862.6" y1="894.10" x2="864.4" y2="894.10" stroke="#e6e6e6" stroke-width="2.2"/><line x1="1427.1" y1="894.10" x2="1429.0" y2="894.10" stroke="#e6e6e6" stroke-width="2.2"/><line x1="862.6" y1="933.73" x2="864.4" y2="933.73" stroke="#e6e6e6" stroke-width="2.2"/><line x1="1427.1" y1="933.73" x2="1429.0" y2="933.73" stroke="#e6e6e6" stroke-width="2.2"/><line x1="862.6" y1="973.36" x2="864.4" y2="973.36" stroke="#e6e6e6" stroke-width="2.2"/><line x1="1427.1" y1="973.36" x2="1429.0" y2="973.36" stroke="#e6e6e6" stroke-width="2.2"/><line x1="862.6" y1="1012.99" x2="864.4" y2="1012.99" stroke="#e6e6e6" stroke-width="2.2"/><line x1="1427.1" y1="1012.99" x2="1429.0" y2="1012.99" stroke="#e6e6e6" stroke-width="2.2"/><line x1="862.6" y1="1052.62" x2="864.4" y2="1052.62" stroke="#e6e6e6" stroke-width="2.2"/><line x1="1427.1" y1="1052.62" x2="1429.0" y2="1052.62" stroke="#e6e6e6" stroke-width="2.2"/><line x1="862.6" y1="1092.25" x2="864.4" y2="1092.25" stroke="#e6e6e6" stroke-width="2.2"/><line x1="1427.1" y1="1092.25" x2="1429.0" y2="1092.25" stroke="#e6e6e6" stroke-width="2.2"/><line x1="862.6" y1="1131.88" x2="864.4" y2="1131.88" stroke="#e6e6e6" stroke-width="2.2"/><line x1="1427.1" y1="1131.88" x2="1429.0" y2="1131.88" stroke="#e6e6e6" stroke-width="2.2"/><line x1="862.6" y1="1171.51" x2="864.4" y2="1171.51" stroke="#e6e6e6" stroke-width="2.2"/><line x1="1427.1" y1="1171.51" x2="1429.0" y2="1171.51" stroke="#e6e6e6" stroke-width="2.2"/><line x1="862.6" y1="1211.14" x2="864.4" y2="1211.14" stroke="#e6e6e6" stroke-width="2.2"/><line x1="1427.1" y1="1211.14" x2="1429.0" y2="1211.14" stroke="#e6e6e6" stroke-width="2.2"/><line x1="862.6" y1="1250.77" x2="864.4" y2="1250.77" stroke="#e6e6e6" stroke-width="2.2"/><line x1="1427.1" y1="1250.77" x2="1429.0" y2="1250.77" stroke="#e6e6e6" stroke-width="2.2"/><line x1="862.6" y1="1290.40" x2="864.4" y2="1290.40" stroke="#e6e6e6" stroke-width="2.2"/><line x1="1427.1" y1="1290.40" x2="1429.0" y2="1290.40" stroke="#e6e6e6" stroke-width="2.2"/><line x1="862.6" y1="1330.03" x2="864.4" y2="1330.03" stroke="#e6e6e6" stroke-width="2.2"/><line x1="1427.1" y1="1330.03" x2="1429.0" y2="1330.03" stroke="#e6e6e6" stroke-width="2.2"/><line x1="862.6" y1="1369.66" x2="864.4" y2="1369.66" stroke="#e6e6e6" stroke-width="2.2"/><line x1="1427.1" y1="1369.66" x2="1429.0" y2="1369.66" stroke="#e6e6e6" stroke-width="2.2"/><line x1="862.6" y1="1409.29" x2="864.4" y2="1409.29" stroke="#e6e6e6" stroke-width="2.2"/><line x1="1427.1" y1="1409.29" x2="1429.0" y2="1409.29" stroke="#e6e6e6" stroke-width="2.2"/><line x1="862.6" y1="1448.92" x2="864.4" y2="1448.92" stroke="#e6e6e6" stroke-width="2.2"/><line x1="1427.1" y1="1448.92" x2="1429.0" y2="1448.92" stroke="#e6e6e6" stroke-width="2.2"/><line x1="862.6" y1="1488.55" x2="864.4" y2="1488.55" stroke="#e6e6e6" stroke-width="2.2"/><line x1="1427.1" y1="1488.55" x2="1429.0" y2="1488.55" stroke="#e6e6e6" stroke-width="2.2"/><line x1="862.6" y1="1528.18" x2="864.4" y2="1528.18" stroke="#e6e6e6" stroke-width="2.2"/><line x1="1427.1" y1="1528.18" x2="1429.0" y2="1528.18" stroke="#e6e6e6" stroke-width="2.2"/><line x1="862.6" y1="1567.81" x2="864.4" y2="1567.81" stroke="#e6e6e6" stroke-width="2.2"/><line x1="1427.1" y1="1567.81" x2="1429.0" y2="1567.81" stroke="#e6e6e6" stroke-width="2.2"/><line x1="862.6" y1="1607.44" x2="864.4" y2="1607.44" stroke="#e6e6e6" stroke-width="2.2"/><line x1="1427.1" y1="1607.44" x2="1429.0" y2="1607.44" stroke="#e6e6e6" stroke-width="2.2"/><line x1="862.6" y1="1647.07" x2="864.4" y2="1647.07" stroke="#e6e6e6" stroke-width="2.2"/><line x1="1427.1" y1="1647.07" x2="1429.0" y2="1647.07" stroke="#e6e6e6" stroke-width="2.2"/><line x1="862.6" y1="1686.70" x2="864.4" y2="1686.70" stroke="#e6e6e6" stroke-width="2.2"/><line x1="1427.1" y1="1686.70" x2="1429.0" y2="1686.70" stroke="#e6e6e6" stroke-width="2.2"/><line x1="862.6" y1="1726.33" x2="864.4" y2="1726.33" stroke="#e6e6e6" stroke-width="2.2"/><line x1="1427.1" y1="1726.33" x2="1429.0" y2="1726.33" stroke="#e6e6e6" stroke-width="2.2"/><line x1="862.6" y1="1765.96" x2="864.4" y2="1765.96" stroke="#e6e6e6" stroke-width="2.2"/><line x1="1427.1" y1="1765.96" x2="1429.0" y2="1765.96" stroke="#e6e6e6" stroke-width="2.2"/><line x1="862.6" y1="1805.59" x2="864.4" y2="1805.59" stroke="#e6e6e6" stroke-width="2.2"/><line x1="1427.1" y1="1805.59" x2="1429.0" y2="1805.59" stroke="#e6e6e6" stroke-width="2.2"/><line x1="862.6" y1="1845.22" x2="864.4" y2="1845.22" stroke="#e6e6e6" stroke-width="2.2"/><line x1="1427.1" y1="1845.22" x2="1429.0" y2="1845.22" stroke="#e6e6e6" stroke-width="2.2"/><line x1="862.6" y1="1884.85" x2="864.4" y2="1884.85" stroke="#e6e6e6" stroke-width="2.2"/><line x1="1427.1" y1="1884.85" x2="1429.0" y2="1884.85" stroke="#e6e6e6" stroke-width="2.2"/><line x1="862.6" y1="1924.48" x2="864.4" y2="1924.48" stroke="#e6e6e6" stroke-width="2.2"/><line x1="1427.1" y1="1924.48" x2="1429.0" y2="1924.48" stroke="#e6e6e6" stroke-width="2.2"/><line x1="862.6" y1="1964.11" x2="864.4" y2="1964.11" stroke="#e6e6e6" stroke-width="2.2"/><line x1="1427.1" y1="1964.11" x2="1429.0" y2="1964.11" stroke="#e6e6e6" stroke-width="2.2"/><line x1="862.6" y1="2003.74" x2="864.4" y2="2003.74" stroke="#e6e6e6" stroke-width="2.2"/><line x1="1427.1" y1="2003.74" x2="1429.0" y2="2003.74" stroke="#e6e6e6" stroke-width="2.2"/><line x1="862.6" y1="2043.37" x2="864.4" y2="2043.37" stroke="#e6e6e6" stroke-width="2.2"/><line x1="1427.1" y1="2043.37" x2="1429.0" y2="2043.37" stroke="#e6e6e6" stroke-width="2.2"/><line x1="862.6" y1="2083.00" x2="864.4" y2="2083.00" stroke="#e6e6e6" stroke-width="2.2"/><line x1="1427.1" y1="2083.00" x2="1429.0" y2="2083.00" stroke="#e6e6e6" stroke-width="2.2"/><line x1="884.0" y1="67.6" x2="884.0" y2="78.4" stroke="#222" stroke-width="1.5"/><text x="884.0" y="55.1" text-anchor="middle" class="t225">0</text><line x1="1064.3" y1="67.6" x2="1064.3" y2="78.4" stroke="#222" stroke-width="1.5"/><text x="1064.3" y="55.1" text-anchor="middle" class="t225">5</text><line x1="1244.7" y1="67.6" x2="1244.7" y2="78.4" stroke="#222" stroke-width="1.5"/><text x="1244.7" y="55.1" text-anchor="middle" class="t225">10</text><line x1="1425.0" y1="67.6" x2="1425.0" y2="78.4" stroke="#222" stroke-width="1.5"/><text x="1420.5" y="55.1" text-anchor="middle" class="t225">15</text><text x="1055" y="32.4" class="t22"><tspan font-style="italic" font-weight="bold">POU5F1B</tspan></text><text x="1163.5" y="32.4" class="t22" textLength="117" lengthAdjust="spacingAndGlyphs">(log2 CPM)</text><text transform="translate(870.3 122.7) rotate(90)" text-anchor="middle" class="sig">NS</text><path d="M876.9 352.4l3.4 0M876.9 352.4l1.05 -3.23M876.9 352.4l1.05 3.23M876.9 352.4l-2.75 -2M876.9 352.4l-2.75 2M876.9 361.2l3.4 0M876.9 361.2l1.05 -3.23M876.9 361.2l1.05 3.23M876.9 361.2l-2.75 -2M876.9 361.2l-2.75 2M876.9 370.0l3.4 0M876.9 370.0l1.05 -3.23M876.9 370.0l1.05 3.23M876.9 370.0l-2.75 -2M876.9 370.0l-2.75 2M876.9 431.6l3.4 0M876.9 431.6l1.05 -3.23M876.9 431.6l1.05 3.23M876.9 431.6l-2.75 -2M876.9 431.6l-2.75 2M876.9 440.4l3.4 0M876.9 440.4l1.05 -3.23M876.9 440.4l1.05 3.23M876.9 440.4l-2.75 -2M876.9 440.4l-2.75 2M876.9 449.2l3.4 0M876.9 449.2l1.05 -3.23M876.9 449.2l1.05 3.23M876.9 449.2l-2.75 -2M876.9 449.2l-2.75 2M876.9 475.7l3.4 0M876.9 475.7l1.05 -3.23M876.9 475.7l1.05 3.23M876.9 475.7l-2.75 -2M876.9 475.7l-2.75 2M876.9 484.5l3.4 0M876.9 484.5l1.05 -3.23M876.9 484.5l1.05 3.23M876.9 484.5l-2.75 -2M876.9 484.5l-2.75 2M876.9 550.5l3.4 0M876.9 550.5l1.05 -3.23M876.9 550.5l1.05 3.23M876.9 550.5l-2.75 -2M876.9 550.5l-2.75 2M876.9 559.3l3.4 0M876.9 559.3l1.05 -3.23M876.9 559.3l1.05 3.23M876.9 559.3l-2.75 -2M876.9 559.3l-2.75 2M876.9 568.1l3.4 0M876.9 568.1l1.05 -3.23M876.9 568.1l1.05 3.23M876.9 568.1l-2.75 -2M876.9 568.1l-2.75 2M876.9 629.8l3.4 0M876.9 629.8l1.05 -3.23M876.9 629.8l1.05 3.23M876.9 629.8l-2.75 -2M876.9 629.8l-2.75 2M876.9 638.6l3.4 0M876.9 638.6l1.05 -3.23M876.9 638.6l1.05 3.23M876.9 638.6l-2.75 -2M876.9 638.6l-2.75 2M876.9 647.4l3.4 0M876.9 647.4l1.05 -3.23M876.9 647.4l1.05 3.23M876.9 647.4l-2.75 -2M876.9 647.4l-2.75 2M876.9 713.5l3.4 0M876.9 713.5l1.05 -3.23M876.9 713.5l1.05 3.23M876.9 713.5l-2.75 -2M876.9 713.5l-2.75 2M876.9 722.2l3.4 0M876.9 722.2l1.05 -3.23M876.9 722.2l1.05 3.23M876.9 722.2l-2.75 -2M876.9 722.2l-2.75 2M876.9 748.7l3.4 0M876.9 748.7l1.05 -3.23M876.9 748.7l1.05 3.23M876.9 748.7l-2.75 -2M876.9 748.7l-2.75 2M876.9 757.5l3.4 0M876.9 757.5l1.05 -3.23M876.9 757.5l1.05 3.23M876.9 757.5l-2.75 -2M876.9 757.5l-2.75 2M876.9 766.3l3.4 0M876.9 766.3l1.05 -3.23M876.9 766.3l1.05 3.23M876.9 766.3l-2.75 -2M876.9 766.3l-2.75 2M876.9 827.9l3.4 0M876.9 827.9l1.05 -3.23M876.9 827.9l1.05 3.23M876.9 827.9l-2.75 -2M876.9 827.9l-2.75 2M876.9 836.7l3.4 0M876.9 836.7l1.05 -3.23M876.9 836.7l1.05 3.23M876.9 836.7l-2.75 -2M876.9 836.7l-2.75 2M876.9 845.5l3.4 0M876.9 845.5l1.05 -3.23M876.9 845.5l1.05 3.23M876.9 845.5l-2.75 -2M876.9 845.5l-2.75 2M876.9 916.0l3.4 0M876.9 916.0l1.05 -3.23M876.9 916.0l1.05 3.23M876.9 916.0l-2.75 -2M876.9 916.0l-2.75 2M876.9 986.5l3.4 0M876.9 986.5l1.05 -3.23M876.9 986.5l1.05 3.23M876.9 986.5l-2.75 -2M876.9 986.5l-2.75 2M876.9 995.3l3.4 0M876.9 995.3l1.05 -3.23M876.9 995.3l1.05 3.23M876.9 995.3l-2.75 -2M876.9 995.3l-2.75 2M876.9 1004.1l3.4 0M876.9 1004.1l1.05 -3.23M876.9 1004.1l1.05 3.23M876.9 1004.1l-2.75 -2M876.9 1004.1l-2.75 2M876.9 1065.7l3.4 0M876.9 1065.7l1.05 -3.23M876.9 1065.7l1.05 3.23M876.9 1065.7l-2.75 -2M876.9 1065.7l-2.75 2M876.9 1074.5l3.4 0M876.9 1074.5l1.05 -3.23M876.9 1074.5l1.05 3.23M876.9 1074.5l-2.75 -2M876.9 1074.5l-2.75 2M876.9 1083.3l3.4 0M876.9 1083.3l1.05 -3.23M876.9 1083.3l1.05 3.23M876.9 1083.3l-2.75 -2M876.9 1083.3l-2.75 2M876.9 1145.0l3.4 0M876.9 1145.0l1.05 -3.23M876.9 1145.0l1.05 3.23M876.9 1145.0l-2.75 -2M876.9 1145.0l-2.75 2M876.9 1153.8l3.4 0M876.9 1153.8l1.05 -3.23M876.9 1153.8l1.05 3.23M876.9 1153.8l-2.75 -2M876.9 1153.8l-2.75 2M876.9 1162.6l3.4 0M876.9 1162.6l1.05 -3.23M876.9 1162.6l1.05 3.23M876.9 1162.6l-2.75 -2M876.9 1162.6l-2.75 2M876.9 1184.6l3.4 0M876.9 1184.6l1.05 -3.23M876.9 1184.6l1.05 3.23M876.9 1184.6l-2.75 -2M876.9 1184.6l-2.75 2M876.9 1193.4l3.4 0M876.9 1193.4l1.05 -3.23M876.9 1193.4l1.05 3.23M876.9 1193.4l-2.75 -2M876.9 1193.4l-2.75 2M876.9 1202.2l3.4 0M876.9 1202.2l1.05 -3.23M876.9 1202.2l1.05 3.23M876.9 1202.2l-2.75 -2M876.9 1202.2l-2.75 2M876.9 1268.3l3.4 0M876.9 1268.3l1.05 -3.23M876.9 1268.3l1.05 3.23M876.9 1268.3l-2.75 -2M876.9 1268.3l-2.75 2M876.9 1277.1l3.4 0M876.9 1277.1l1.05 -3.23M876.9 1277.1l1.05 3.23M876.9 1277.1l-2.75 -2M876.9 1277.1l-2.75 2M876.9 1303.5l3.4 0M876.9 1303.5l1.05 -3.23M876.9 1303.5l1.05 3.23M876.9 1303.5l-2.75 -2M876.9 1303.5l-2.75 2M876.9 1312.3l3.4 0M876.9 1312.3l1.05 -3.23M876.9 1312.3l1.05 3.23M876.9 1312.3l-2.75 -2M876.9 1312.3l-2.75 2M876.9 1321.1l3.4 0M876.9 1321.1l1.05 -3.23M876.9 1321.1l1.05 3.23M876.9 1321.1l-2.75 -2M876.9 1321.1l-2.75 2M876.9 1343.1l3.4 0M876.9 1343.1l1.05 -3.23M876.9 1343.1l1.05 3.23M876.9 1343.1l-2.75 -2M876.9 1343.1l-2.75 2M876.9 1351.9l3.4 0M876.9 1351.9l1.05 -3.23M876.9 1351.9l1.05 3.23M876.9 1351.9l-2.75 -2M876.9 1351.9l-2.75 2M876.9 1360.7l3.4 0M876.9 1360.7l1.05 -3.23M876.9 1360.7l1.05 3.23M876.9 1360.7l-2.75 -2M876.9 1360.7l-2.75 2M876.9 1422.4l3.4 0M876.9 1422.4l1.05 -3.23M876.9 1422.4l1.05 3.23M876.9 1422.4l-2.75 -2M876.9 1422.4l-2.75 2M876.9 1431.2l3.4 0M876.9 1431.2l1.05 -3.23M876.9 1431.2l1.05 3.23M876.9 1431.2l-2.75 -2M876.9 1431.2l-2.75 2M876.9 1440.0l3.4 0M876.9 1440.0l1.05 -3.23M876.9 1440.0l1.05 3.23M876.9 1440.0l-2.75 -2M876.9 1440.0l-2.75 2M876.9 1462.0l3.4 0M876.9 1462.0l1.05 -3.23M876.9 1462.0l1.05 3.23M876.9 1462.0l-2.75 -2M876.9 1462.0l-2.75 2M876.9 1470.8l3.4 0M876.9 1470.8l1.05 -3.23M876.9 1470.8l1.05 3.23M876.9 1470.8l-2.75 -2M876.9 1470.8l-2.75 2M876.9 1479.6l3.4 0M876.9 1479.6l1.05 -3.23M876.9 1479.6l1.05 3.23M876.9 1479.6l-2.75 -2M876.9 1479.6l-2.75 2M876.9 1545.7l3.4 0M876.9 1545.7l1.05 -3.23M876.9 1545.7l1.05 3.23M876.9 1545.7l-2.75 -2M876.9 1545.7l-2.75 2M876.9 1554.5l3.4 0M876.9 1554.5l1.05 -3.23M876.9 1554.5l1.05 3.23M876.9 1554.5l-2.75 -2M876.9 1554.5l-2.75 2M876.9 1620.5l3.4 0M876.9 1620.5l1.05 -3.23M876.9 1620.5l1.05 3.23M876.9 1620.5l-2.75 -2M876.9 1620.5l-2.75 2M876.9 1629.3l3.4 0M876.9 1629.3l1.05 -3.23M876.9 1629.3l1.05 3.23M876.9 1629.3l-2.75 -2M876.9 1629.3l-2.75 2M876.9 1638.1l3.4 0M876.9 1638.1l1.05 -3.23M876.9 1638.1l1.05 3.23M876.9 1638.1l-2.75 -2M876.9 1638.1l-2.75 2M876.9 1699.8l3.4 0M876.9 1699.8l1.05 -3.23M876.9 1699.8l1.05 3.23M876.9 1699.8l-2.75 -2M876.9 1699.8l-2.75 2M876.9 1708.6l3.4 0M876.9 1708.6l1.05 -3.23M876.9 1708.6l1.05 3.23M876.9 1708.6l-2.75 -2M876.9 1708.6l-2.75 2M876.9 1717.4l3.4 0M876.9 1717.4l1.05 -3.23M876.9 1717.4l1.05 3.23M876.9 1717.4l-2.75 -2M876.9 1717.4l-2.75 2M876.9 1779.1l3.4 0M876.9 1779.1l1.05 -3.23M876.9 1779.1l1.05 3.23M876.9 1779.1l-2.75 -2M876.9 1779.1l-2.75 2M876.9 1787.9l3.4 0M876.9 1787.9l1.05 -3.23M876.9 1787.9l1.05 3.23M876.9 1787.9l-2.75 -2M876.9 1787.9l-2.75 2M876.9 1796.7l3.4 0M876.9 1796.7l1.05 -3.23M876.9 1796.7l1.05 3.23M876.9 1796.7l-2.75 -2M876.9 1796.7l-2.75 2M876.9 1867.1l3.4 0M876.9 1867.1l1.05 -3.23M876.9 1867.1l1.05 3.23M876.9 1867.1l-2.75 -2M876.9 1867.1l-2.75 2M876.9 1898.0l3.4 0M876.9 1898.0l1.05 -3.23M876.9 1898.0l1.05 3.23M876.9 1898.0l-2.75 -2M876.9 1898.0l-2.75 2M876.9 1906.8l3.4 0M876.9 1906.8l1.05 -3.23M876.9 1906.8l1.05 3.23M876.9 1906.8l-2.75 -2M876.9 1906.8l-2.75 2M876.9 1915.6l3.4 0M876.9 1915.6l1.05 -3.23M876.9 1915.6l1.05 3.23M876.9 1915.6l-2.75 -2M876.9 1915.6l-2.75 2M876.9 1937.6l3.4 0M876.9 1937.6l1.05 -3.23M876.9 1937.6l1.05 3.23M876.9 1937.6l-2.75 -2M876.9 1937.6l-2.75 2M876.9 1946.4l3.4 0M876.9 1946.4l1.05 -3.23M876.9 1946.4l1.05 3.23M876.9 1946.4l-2.75 -2M876.9 1946.4l-2.75 2M876.9 1955.2l3.4 0M876.9 1955.2l1.05 -3.23M876.9 1955.2l1.05 3.23M876.9 1955.2l-2.75 -2M876.9 1955.2l-2.75 2M876.9 1986.0l3.4 0M876.9 1986.0l1.05 -3.23M876.9 1986.0l1.05 3.23M876.9 1986.0l-2.75 -2M876.9 1986.0l-2.75 2M876.9 2016.8l3.4 0M876.9 2016.8l1.05 -3.23M876.9 2016.8l1.05 3.23M876.9 2016.8l-2.75 -2M876.9 2016.8l-2.75 2M876.9 2025.6l3.4 0M876.9 2025.6l1.05 -3.23M876.9 2025.6l1.05 3.23M876.9 2025.6l-2.75 -2M876.9 2025.6l-2.75 2M876.9 2034.4l3.4 0M876.9 2034.4l1.05 -3.23M876.9 2034.4l1.05 3.23M876.9 2034.4l-2.75 -2M876.9 2034.4l-2.75 2M876.9 2060.9l3.4 0M876.9 2060.9l1.05 -3.23M876.9 2060.9l1.05 3.23M876.9 2060.9l-2.75 -2M876.9 2060.9l-2.75 2M876.9 2069.7l3.4 0M876.9 2069.7l1.05 -3.23M876.9 2069.7l1.05 3.23M876.9 2069.7l-2.75 -2M876.9 2069.7l-2.75 2" stroke="#111" stroke-width="1.5" fill="none"/><rect x="1205.5" y="82" width="218" height="67.8" fill="#fff" stroke="#c8c8c8" stroke-width="1.3"/><circle cx="1215.3" cy="94.5" r="3.5" fill="#ef5258"/><circle cx="1215.3" cy="115.5" r="3.5" fill="#57c5d5"/><circle cx="1215.3" cy="136.5" r="3.5" fill="#bebebe"/><text x="1223.5" y="100.8" class="t20" textLength="95" lengthAdjust="spacingAndGlyphs">with TcGT</text><text x="1223.5" y="121.8" class="t20" textLength="195" lengthAdjust="spacingAndGlyphs">cancer without TcGT</text><text x="1223.5" y="142.3" class="t20" textLength="194" lengthAdjust="spacingAndGlyphs">normal without TcGT</text><line x1="147.5" y1="220.39" x2="1488.5" y2="220.39" stroke="#333" stroke-width="1.5"/><line x1="147.5" y1="339.28" x2="1488.5" y2="339.28" stroke="#333" stroke-width="1.5"/><line x1="147.5" y1="418.54" x2="1488.5" y2="418.54" stroke="#333" stroke-width="1.5"/><line x1="147.5" y1="537.43" x2="1488.5" y2="537.43" stroke="#333" stroke-width="1.5"/><line x1="147.5" y1="616.69" x2="1488.5" y2="616.69" stroke="#333" stroke-width="1.5"/><line x1="147.5" y1="695.95" x2="1488.5" y2="695.95" stroke="#333" stroke-width="1.5"/><line x1="147.5" y1="814.84" x2="1488.5" y2="814.84" stroke="#333" stroke-width="1.5"/><line x1="147.5" y1="894.10" x2="1488.5" y2="894.10" stroke="#333" stroke-width="1.5"/><line x1="147.5" y1="973.36" x2="1488.5" y2="973.36" stroke="#333" stroke-width="1.5"/><line x1="147.5" y1="1052.62" x2="1488.5" y2="1052.62" stroke="#333" stroke-width="1.5"/><line x1="147.5" y1="1131.88" x2="1488.5" y2="1131.88" stroke="#333" stroke-width="1.5"/><line x1="147.5" y1="1250.77" x2="1488.5" y2="1250.77" stroke="#333" stroke-width="1.5"/><line x1="147.5" y1="1409.29" x2="1488.5" y2="1409.29" stroke="#333" stroke-width="1.5"/><line x1="147.5" y1="1528.18" x2="1488.5" y2="1528.18" stroke="#333" stroke-width="1.5"/><line x1="147.5" y1="1607.44" x2="1488.5" y2="1607.44" stroke="#333" stroke-width="1.5"/><line x1="147.5" y1="1686.70" x2="1488.5" y2="1686.70" stroke="#333" stroke-width="1.5"/><line x1="147.5" y1="1765.96" x2="1488.5" y2="1765.96" stroke="#333" stroke-width="1.5"/><line x1="147.5" y1="1845.22" x2="1488.5" y2="1845.22" stroke="#333" stroke-width="1.5"/><rect x="1440.5" y="105.7" width="47.2" height="31.5" fill="#57c5d5" stroke="#333" stroke-width="1"/><rect x="1440.5" y="145.3" width="47.2" height="31.5" fill="#57c5d5" stroke="#333" stroke-width="1"/><rect x="1440.5" y="185.0" width="47.2" height="31.5" fill="#bebebe" stroke="#333" stroke-width="1"/><rect x="1440.5" y="224.6" width="47.2" height="31.5" fill="#57c5d5" stroke="#333" stroke-width="1"/><rect x="1440.5" y="264.2" width="47.2" height="31.5" fill="#57c5d5" stroke="#333" stroke-width="1"/><rect x="1440.5" y="303.9" width="47.2" height="31.5" fill="#bebebe" stroke="#333" stroke-width="1"/><rect x="1440.5" y="343.5" width="47.2" height="31.5" fill="#57c5d5" stroke="#333" stroke-width="1"/><rect x="1440.5" y="343.5" width="1.89" height="31.5" fill="#ef5258" stroke="#333" stroke-width="1"/><rect x="1440.5" y="383.1" width="47.2" height="31.5" fill="#bebebe" stroke="#333" stroke-width="1"/><rect x="1440.5" y="422.7" width="47.2" height="31.5" fill="#57c5d5" stroke="#333" stroke-width="1"/><rect x="1440.5" y="422.7" width="0.94" height="31.5" fill="#ef5258" stroke="#333" stroke-width="1"/><rect x="1440.5" y="462.4" width="47.2" height="31.5" fill="#57c5d5" stroke="#333" stroke-width="1"/><rect x="1440.5" y="462.4" width="1.42" height="31.5" fill="#ef5258" stroke="#333" stroke-width="1"/><rect x="1440.5" y="502.0" width="47.2" height="31.5" fill="#bebebe" stroke="#333" stroke-width="1"/><rect x="1440.5" y="541.6" width="47.2" height="31.5" fill="#57c5d5" stroke="#333" stroke-width="1"/><rect x="1440.5" y="541.6" width="2.83" height="31.5" fill="#ef5258" stroke="#333" stroke-width="1"/><rect x="1440.5" y="581.3" width="47.2" height="31.5" fill="#bebebe" stroke="#333" stroke-width="1"/><rect x="1440.5" y="620.9" width="47.2" height="31.5" fill="#57c5d5" stroke="#333" stroke-width="1"/><rect x="1440.5" y="620.9" width="0.94" height="31.5" fill="#ef5258" stroke="#333" stroke-width="1"/><rect x="1440.5" y="660.5" width="47.2" height="31.5" fill="#bebebe" stroke="#333" stroke-width="1"/><rect x="1440.5" y="700.1" width="47.2" height="31.5" fill="#57c5d5" stroke="#333" stroke-width="1"/><rect x="1440.5" y="700.1" width="1.89" height="31.5" fill="#ef5258" stroke="#333" stroke-width="1"/><rect x="1440.5" y="739.8" width="47.2" height="31.5" fill="#57c5d5" stroke="#333" stroke-width="1"/><rect x="1440.5" y="739.8" width="8.02" height="31.5" fill="#ef5258" stroke="#333" stroke-width="1"/><rect x="1440.5" y="779.4" width="47.2" height="31.5" fill="#bebebe" stroke="#333" stroke-width="1"/><rect x="1440.5" y="819.0" width="47.2" height="31.5" fill="#57c5d5" stroke="#333" stroke-width="1"/><rect x="1440.5" y="819.0" width="10.86" height="31.5" fill="#ef5258" stroke="#333" stroke-width="1"/><rect x="1440.5" y="858.7" width="47.2" height="31.5" fill="#bebebe" stroke="#333" stroke-width="1"/><rect x="1440.5" y="898.3" width="47.2" height="31.5" fill="#57c5d5" stroke="#333" stroke-width="1"/><rect x="1440.5" y="898.3" width="0.24" height="31.5" fill="#ef5258" stroke="#333" stroke-width="1"/><rect x="1440.5" y="937.9" width="47.2" height="31.5" fill="#bebebe" stroke="#333" stroke-width="1"/><rect x="1440.5" y="977.6" width="47.2" height="31.5" fill="#57c5d5" stroke="#333" stroke-width="1"/><rect x="1440.5" y="977.6" width="7.55" height="31.5" fill="#ef5258" stroke="#333" stroke-width="1"/><rect x="1440.5" y="1017.2" width="47.2" height="31.5" fill="#bebebe" stroke="#333" stroke-width="1"/><rect x="1440.5" y="1056.8" width="47.2" height="31.5" fill="#57c5d5" stroke="#333" stroke-width="1"/><rect x="1440.5" y="1056.8" width="4.96" height="31.5" fill="#ef5258" stroke="#333" stroke-width="1"/><rect x="1440.5" y="1096.5" width="47.2" height="31.5" fill="#bebebe" stroke="#333" stroke-width="1"/><rect x="1440.5" y="1136.1" width="47.2" height="31.5" fill="#57c5d5" stroke="#333" stroke-width="1"/><rect x="1440.5" y="1136.1" width="27.38" height="31.5" fill="#ef5258" stroke="#333" stroke-width="1"/><rect x="1440.5" y="1175.7" width="47.2" height="31.5" fill="#57c5d5" stroke="#333" stroke-width="1"/><rect x="1440.5" y="1175.7" width="32.10" height="31.5" fill="#ef5258" stroke="#333" stroke-width="1"/><rect x="1440.5" y="1215.3" width="47.2" height="31.5" fill="#bebebe" stroke="#333" stroke-width="1"/><rect x="1440.5" y="1255.0" width="47.2" height="31.5" fill="#57c5d5" stroke="#333" stroke-width="1"/><rect x="1440.5" y="1255.0" width="10.38" height="31.5" fill="#ef5258" stroke="#333" stroke-width="1"/><rect x="1440.5" y="1294.6" width="47.2" height="31.5" fill="#57c5d5" stroke="#333" stroke-width="1"/><rect x="1440.5" y="1294.6" width="4.96" height="31.5" fill="#ef5258" stroke="#333" stroke-width="1"/><rect x="1440.5" y="1334.2" width="47.2" height="31.5" fill="#57c5d5" stroke="#333" stroke-width="1"/><rect x="1440.5" y="1334.2" width="4.72" height="31.5" fill="#ef5258" stroke="#333" stroke-width="1"/><rect x="1440.5" y="1373.9" width="47.2" height="31.5" fill="#bebebe" stroke="#333" stroke-width="1"/><rect x="1440.5" y="1413.5" width="47.2" height="31.5" fill="#57c5d5" stroke="#333" stroke-width="1"/><rect x="1440.5" y="1413.5" width="0.71" height="31.5" fill="#ef5258" stroke="#333" stroke-width="1"/><rect x="1440.5" y="1453.1" width="47.2" height="31.5" fill="#57c5d5" stroke="#333" stroke-width="1"/><rect x="1440.5" y="1453.1" width="4.72" height="31.5" fill="#ef5258" stroke="#333" stroke-width="1"/><rect x="1440.5" y="1492.8" width="47.2" height="31.5" fill="#bebebe" stroke="#333" stroke-width="1"/><rect x="1440.5" y="1532.4" width="47.2" height="31.5" fill="#57c5d5" stroke="#333" stroke-width="1"/><rect x="1440.5" y="1532.4" width="0.71" height="31.5" fill="#ef5258" stroke="#333" stroke-width="1"/><rect x="1440.5" y="1572.0" width="47.2" height="31.5" fill="#bebebe" stroke="#333" stroke-width="1"/><rect x="1440.5" y="1611.6" width="47.2" height="31.5" fill="#57c5d5" stroke="#333" stroke-width="1"/><rect x="1440.5" y="1611.6" width="15.10" height="31.5" fill="#ef5258" stroke="#333" stroke-width="1"/><rect x="1440.5" y="1651.3" width="47.2" height="31.5" fill="#bebebe" stroke="#333" stroke-width="1"/><rect x="1440.5" y="1690.9" width="47.2" height="31.5" fill="#57c5d5" stroke="#333" stroke-width="1"/><rect x="1440.5" y="1730.5" width="47.2" height="31.5" fill="#bebebe" stroke="#333" stroke-width="1"/><rect x="1440.5" y="1770.2" width="47.2" height="31.5" fill="#57c5d5" stroke="#333" stroke-width="1"/><rect x="1440.5" y="1770.2" width="2.83" height="31.5" fill="#ef5258" stroke="#333" stroke-width="1"/><rect x="1440.5" y="1809.8" width="47.2" height="31.5" fill="#bebebe" stroke="#333" stroke-width="1"/><rect x="1440.5" y="1849.4" width="47.2" height="31.5" fill="#57c5d5" stroke="#333" stroke-width="1"/><rect x="1440.5" y="1849.4" width="3.78" height="31.5" fill="#ef5258" stroke="#333" stroke-width="1"/><rect x="1440.5" y="1889.1" width="47.2" height="31.5" fill="#57c5d5" stroke="#333" stroke-width="1"/><rect x="1440.5" y="1889.1" width="8.02" height="31.5" fill="#ef5258" stroke="#333" stroke-width="1"/><rect x="1440.5" y="1928.7" width="47.2" height="31.5" fill="#57c5d5" stroke="#333" stroke-width="1"/><rect x="1440.5" y="1928.7" width="2.83" height="31.5" fill="#ef5258" stroke="#333" stroke-width="1"/><rect x="1440.5" y="1968.3" width="47.2" height="31.5" fill="#57c5d5" stroke="#333" stroke-width="1"/><rect x="1440.5" y="1968.3" width="3.78" height="31.5" fill="#ef5258" stroke="#333" stroke-width="1"/><rect x="1440.5" y="2007.9" width="47.2" height="31.5" fill="#57c5d5" stroke="#333" stroke-width="1"/><rect x="1440.5" y="2007.9" width="0.94" height="31.5" fill="#ef5258" stroke="#333" stroke-width="1"/><rect x="1440.5" y="2047.6" width="47.2" height="31.5" fill="#57c5d5" stroke="#333" stroke-width="1"/><rect x="1440.5" y="2047.6" width="0.24" height="31.5" fill="#ef5258" stroke="#333" stroke-width="1"/><line x1="1464.1" y1="78" x2="1464.1" y2="2106.5" stroke="#1a1a1a" stroke-width="1.6"/><path d="M1440.3 67.5V78.1H1487.7V67.5M1464.1 67.5V78.1" fill="none" stroke="#111" stroke-width="1.4"/><text transform="translate(1435.5 61.4) rotate(90)" text-anchor="end" class="bl">0</text><text transform="translate(1459.5 61.4) rotate(90)" text-anchor="end" class="bl">50</text><text transform="translate(1483.0 61.4) rotate(90)" text-anchor="end" class="bl">100</text><text x="1433.3" y="15.5" class="t20">%TcGT</text></svg></body></html>
